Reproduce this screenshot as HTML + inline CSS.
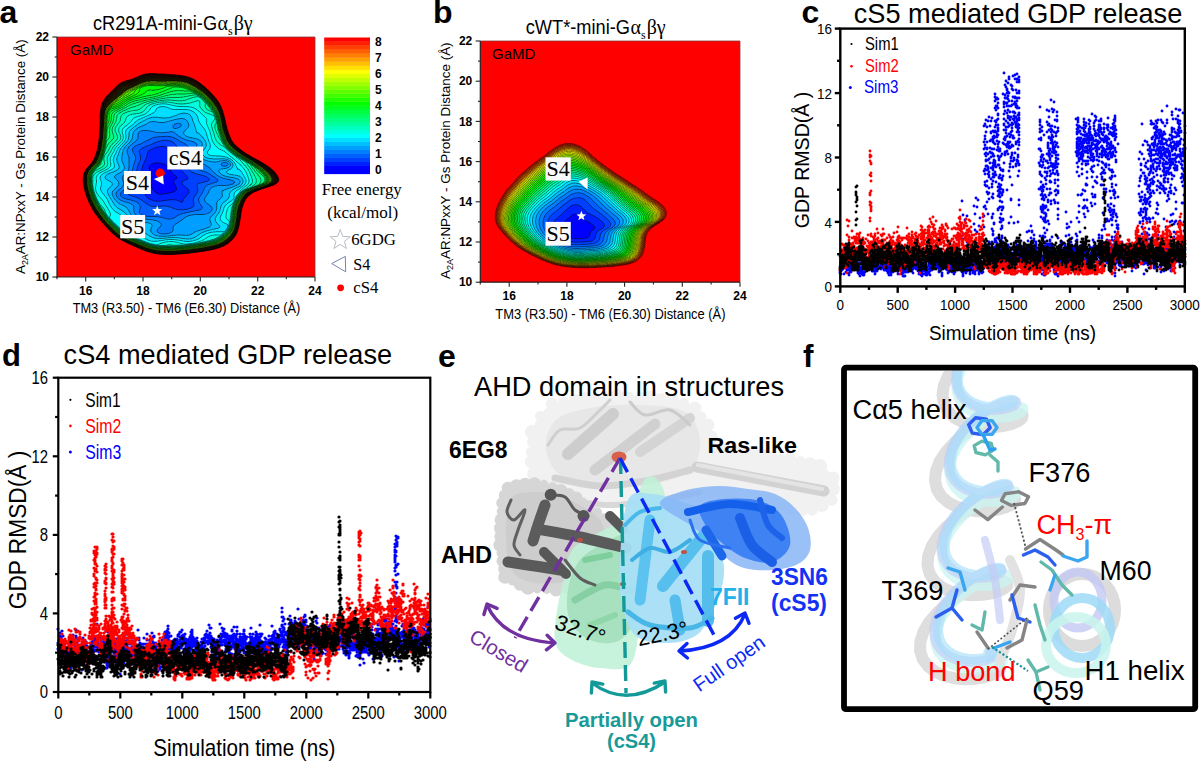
<!DOCTYPE html>
<html><head><meta charset="utf-8"><style>
html,body{margin:0;padding:0;background:#fff;}
svg{display:block;}
</style></head><body>
<svg width="1200" height="763" viewBox="0 0 1200 763" font-family='"Liberation Sans", sans-serif'>
<rect width="1200" height="763" fill="#fff"/>
<text x="-0.5" y="23.0" font-size="32" font-family='"Liberation Sans", sans-serif' font-weight="bold">a</text>
<text x="433.0" y="23.0" font-size="32" font-family='"Liberation Sans", sans-serif' font-weight="bold">b</text>
<text x="801.5" y="23.0" font-size="32" font-family='"Liberation Sans", sans-serif' font-weight="bold">c</text>
<text x="2.0" y="366.3" font-size="31" font-family='"Liberation Sans", sans-serif' font-weight="bold">d</text>
<text x="438.0" y="367.0" font-size="32" font-family='"Liberation Sans", sans-serif' font-weight="bold">e</text>
<text x="803.0" y="367.0" font-size="31.5" font-family='"Liberation Sans", sans-serif' font-weight="bold">f</text>
<rect x="57.0" y="37.0" width="258.0" height="240.0" fill="#ff0000"/>
<rect x="480.3" y="41.0" width="259.7" height="241.2" fill="#ff0000"/>
<g transform="translate(57.0 37.0) scale(0.25)" stroke="#000" fill-rule="evenodd">
<path d="M250 186l-12 11-1 0 0 1-4 3 0 1-32 32 0 1-3 2-10 14-1 3-5 7-1 4-2 3 1 1-3 6-1 8-1 1 0 5-1 1 1 1-2 5 1 1-1 1 1 1-1 1 1 1-1 1 0 8-1 1 1 1-1 1 1 1-1 1 1 1-1 1 1 1-1 1 1 1 0 3-1 1 1 1-1 1 1 1-1 1 1 1-1 1 1 1-1 1 1 1-1 1 1 1-1 1 1 1-1 1 0 7 1 1-1 1 0 8-1 1 1 1-1 1 1 1-1 2 1 1-1 1 1 1-1 1 0 12-1 1 1 1-1 2 1 1-1 1 1 2-1 1 0 5-1 1 1 1-1 2 1 2-1 1 0 6-1 1 1 2-1 1 0 6-1 1-1 14-1 1-1 10-1 1 0 3-2 5 0 4-2 4 0 3-1 1-3 11-2 3-1 5-5 9 0 2-10 15-16 17-1 3-4 4-1 3-3 3 0 2-2 2 0 2-2 3 0 3-2 5 0 6-1 1 0 22 1 1 0 7 1 1 0 6 1 1 1 9 1 1 2 11 3 7 0 3 1 1 2 8 2 3 1 5 4 8 0 2 5 9 0 2 2 2 1 4 2 2 4 9 2 2 4 8 10 15 3 3 5 8 12 14 0 1 21 23 0 1 31 31 1 0 13 11 15 10 5 2 2 2 24 12 2 0 11 6 2 0 9 5 2 0 7 4 2 0 5 3 2 0 5 3 7 2 10 5 2 0 16 6 3 0 8 3 3 0 1 1 4 0 1 1 4 0 1 1 5 0 1 1 7 0 1 1 11 0 1 1 50 0 1-1 14 0 1-1 13 0 1-1 9 0 1-1 12 0 1-1 6 0 1-1 2 1 1-1 5 0 1-1 9 0 1-1 7 0 1-1 5 0 1-1 2 1 1-1 5 0 1-1 5 0 1-1 1 1 1-1 5 0 1-1 4 0 1-1 4 0 1-1 5 0 1-1 4 0 1-1 14-2 4-2 9-1 6-3 1 1 1-1 5-1 3-2 5-1 3-2 2 0 3-2 2 0 19-11 11-10 1 0 11-12 9-13 3-6 0-2 4-7 1-7 2-3 0-4 1-1 0-4 1-1 0-4 1-1 0-4 1-1 0-4 1-1 0-4 1-1 0-4 1-1-1-2 1-1 0-4 1-1 0-4 1-1-1-2 1-1 0-4 1-1 0-7 1-1 1-10 1-1 2-10 1-1 2-8 2-3 0-2 2-3 0-2 10-18 7-7 0-1 3-2 1-2 1 1 0-1 2-2 3-1 1-2 5-2 1-2 1 1 1-2 4-1 1-2 2 1 1-2 8-2 1-2 2 1 1-2 6-1 1-2 2 1 2-2 6-1 1-2 8-1 1-2 3 1 1-2 4 0 1-2 1 1 2 0 2-2 3 0 1-2 1 1 3 0 1-2 3 0 1-2 3 0 1 1 1-2 3 0 1-2 3 0 1-2 2 0 1-2 2 0 1-2 2 0 3-4 1 1 0-1 2-1 0-2 2-3 0-9-2-3 0-3-1-2-2-1-3-7-1 0-2-4-4-3-1-3-1 0-1-2-1 0-1-2-4-3 0-1-3-1-1-2-1 0-1-2-4-3 0-1-1 1-3-2-3-4-4-1-3-4-2 1-3-4-4-1-1-2-4-1-1-2-4-1-1-2-4-1-1-2-1 1-1-2-2 0-2-1-1-2-6-2-1-2-2 0-5-3-2 0-1-2-8-3-1-2-1 1-1-2-9-4-3-3-9-4-3-2-1-2-3-1-9-6-1-2-12-8-2-3-7-5-12-12-10-14-10-22 0-2-3-7 0-3-5-13-1-8-3-7 1-1-2-4-1-9-2-4 1-1-2-3-1-9-2-3 0-4-2-4 0-3-3-6 1-1-3-6-1-6-2-3 0-2-3-4-1-4-4-6 0-2-2-1 0-2-6-9-3-3-2-4-1 0-5-6-3-5-3-2 0-1-8-8 0-1-2-1-2-3-9-8-1-2-1 0-7-7-1 0-3-4-4-2-6-6-4-2-4-4-16-11-11-5-4-3-2 0-5-3-5-1-3-2-3 0-8-3-9-1-1-1-6 0-1-1-6 0-1-1-8 0-1-1-8 0-1-1-10 0-1-1-27-1-1-1-36-1-1-1-1 1-1-1-29 0-1 1-15 1-1 1-10 2-3 2-3 0-5 3-2 0-2 2-5 1-4 3-2 0-13 6-35 10Z" fill="#320600" stroke-width="2.20"/>
<path d="M256 187l-6 4-6 6-1 0-1 2-3 2-1 2-3 2 0 1-4 3 0 1-13 13-1 0 0 1-4 4-1 0-4 5-3 2 0 1-7 7-6 8-5 9-2 2-1 4-3 5 0 2-2 3 1 1-2 3 0 3-1 1 0 5-1 1 1 1-2 5 1 1-1 1 1 1-1 1 1 1-1 1 0 8-1 1 1 1-1 1 1 1-1 1 1 1-1 1 1 1-1 1 1 1-1 1 1 1-1 1 1 1-1 1 0 26-1 1 1 1-1 1 1 1-1 1 1 1-1 2 1 1-1 1 0 9-1 1 1 1 0 3-1 1 0 10-1 1 1 1-1 2 1 2-1 1 0 5-1 1 1 2-1 1 0 6-1 1 1 1 0 2-1 1 0 6-1 1 0 4-1 1 0 8-1 1 0 4-1 1-1 8-2 4 0 4-1 1 0 2-2 4 0 3-3 6-1 5-4 8 0 2-5 9-2 2 0 2-25 29-9 16-1 6-1 1 0 4-1 1 0 11-1 1 1 2 0 16 1 1 0 7 1 1 0 4 1 1 0 4 1 1 0 4 1 1 1 7 3 7 0 3 1 1 4 14 2 3 0 2 4 8 0 2 12 24 2 2 7 13 16 23 17 20 0 1 6 6 0 1 9 9 0 1 32 32 1 0 5 5 12 9 9 5 2 2 3 1 2 2 26 13 2 0 11 6 2 0 9 5 2 0 5 3 2 0 5 3 2 0 5 3 2 0 5 3 2 0 13 6 3 0 6 3 3 0 1 1 2 0 4 2 3 0 1 1 3 0 1 1 4 0 1 1 9 1 1 1 6 0 1 1 8 0 1 1 18 0 1 1 24 0 2-1 2 1 1-1 17 0 1-1 28-1 1-1 19-1 1-1 5 0 1-1 2 1 1-1 6 0 1-1 8 0 1-1 5 0 1-1 2 1 1-1 5 0 1-1 4 0 1-1 2 1 1-1 5 0 1-1 10-1 1-1 1 1 1-1 2 0 1-1 1 1 4-2 2 1 4-2 1 1 4-2 9-1 4-2 1 1 6-3 1 1 1-1 2 0 4-2 3 0 1-1 8-2 3-2 2 0 22-12 8-6 0-1 2-1 13-13 8-11 7-13 1-5 2-3 0-2 2-4 0-4 2-4-1-1 2-3-1-2 2-3-1-2 1-1 0-4 1-1 0-4 1-1 0-4 1-1 0-4 1-1-1-2 1-1 0-4 1-1 0-4 1-1-1-2 1-1 0-4 1-1 0-7 1-1 0-4 2-5 0-4 1-1 4-14 2-3 0-2 8-16 9-12 2-1 3-4 18-12 1 1 1-2 7-2 2-2 8-2 1-2 3 1 1-2 6-1 1-2 3 1 1-2 3 0 1-1 3 0 2-2 7-1 1-2 3 0 1 1 1-2 3 0 2-2 2 0 1 1 1-2 3 0 2-2 3 0 1-2 3 1 1-2 3 0 1-2 2 0 1-2 2 0 1-2 2 0 0-1 2-1 3-4 1 0 2-4 0-9-4-10-2-1-2-5-2-1-1-3-4-3-3-5-1 0-3-4-1 1-1-2-1 0-1-2-4-3 0-1-6-3-3-4-4-1-3-4-1 1-1-2-2 0-1-2-8-4-1-2-4-1-1-2-4-1-1-2-4-1-1-2-1 1-1-2-4-1-1-2-1 1-1-2-4-1-1-2-1 1-1-2-2 0-4-2-1-2-1 1-2-2-7-3-1-2-1 1-1-2-9-4-1-2-1 1-1-2-1 1-1-2-8-4-2-3-1 1-1-2-10-6-9-8-6-4-7-7-1 0-1-2-9-9-2-4-3-3-7-13 0-2-5-10-2-8-2-3 0-2-2-4 0-3-3-7 0-4-3-7 1-2-2-4-2-14-2-3 1-1-2-4 0-4-3-8 0-4-3-6 1-1-4-8 1-1-5-11 0-2-2-3 0-2-2-1 0-2-3-4-1-4-2-1 0-2-2-1 0-2-5-7-2-1-6-9-15-16 0-1-1 0-3-4-10-9 0-1-1 0-21-19-4-2-11-9-11-6-2-2-16-8-2 0-3-2-2 0-4-2-3 0-4-2-4 0-5-2-12-1-1-1-17-1-1-1-11 0-1-1-12 0-1-1-33-1-1-1-48-1-1 1-10 0-1 1-10 1-1 1-11 3-3 2-2 0-5 3-2 0-7 4-2 0-2 2-2 0-8 4-3 0-6 3-3 0-4 2-10 2-1 1-8 2-3 2-2 0Z" fill="#320c00" stroke-width="2.20"/>
<path d="M259 190l-9 6-11 11 0 1-2 1-1 2-3 2-9 10-1 0-13 13-1 0-9 10-12 17-1 4-2 1 0 2-4 8 1 1-2 1 1 1-1 1 0 3-2 5 1 1-2 5 1 1-1 1 1 1-1 1 1 1-2 3 1 1-1 1 1 1-1 1 1 1-1 1 1 1-1 1 1 2-1 1 1 1-1 1 1 1-1 1 1 1-1 1 1 1-1 1 1 1-1 1 1 1-1 1 0 11-1 1 1 1-1 1 1 1 0 5-1 1 1 1-1 1 1 1-1 1 1 1-1 1 0 9-1 1 1 1 0 3-1 1 1 1-1 1 1 2-1 1 0 7-1 1 1 1-1 2 0 11-1 1 1 2-1 1 0 6-1 1 0 6-1 1 1 3-2 5 0 8-1 1 0 4-1 1 0 4-1 1 0 4-1 1-1 7-2 4 0 3-1 1-4 14-2 3-2 7-3 6-2 2 0 2-7 10-16 17-1 3-4 4-8 14-1 6-2 4 0 6-1 1 0 20 1 1 0 8 1 1 0 6 1 1 1 9 1 1 3 15 3 7 0 3 2 3 2 8 2 3 0 2 4 8 0 2 10 20 2 2 5 10 8 11 1 3 21 28 11 12 0 1 9 9 0 1 34 34 1 0 13 11 17 11 30 15 2 0 7 4 2 0 9 5 2 0 14 7 2 0 5 3 2 0 5 3 10 3 3 2 2 0 13 5 3 0 4 2 8 1 4 2 5 0 1 1 5 0 1 1 7 0 1 1 11 0 1 1 52 0 1-1 14 0 1-1 13 0 1-1 9 0 1-1 19-1 1-1 15-1 1-1 5 0 1-1 2 1 1-1 5 0 1-1 5 0 1-1 2 1 1-1 5 0 1-1 4 0 1-1 2 1 4-2 1 1 1-1 5 0 1-1 9-1 4-2 1 1 4-2 9-1 4-2 4 0 4-2 4 0 3-2 2 0 4-2 3 0 7-4 5-1 7-5 2 0 14-10 6-6 1 0 2-3 2-1 15-20 6-12 0-2 3-7 0-3 2-4 0-4 1-1 0-4 1-1 0-4 1-1 0-4 1-1-1-1 1-1 0-5 1-1 0-4 1-1 0-4 1-1-1-2 1-1 0-4 1-1 0-7 1-1 0-5 1-1 0-6 2-5 0-4 2-4 1-6 6-13 0-2 4-8 2-2 0-2 5-6 2-4 3-2 6-7 1 1 2-3 3-1 1-2 5-2 1-2 1 1 2-2 4-1 6-4 6-1 1-2 2 1 1-2 6-1 1-2 1 1 2 0 1-2 7-1 1-2 3 1 1-2 8-1 1-2 3 0 1-1 4 0 1-2 3 0 1-2 1 1 3 0 1-2 3 0 1-2 3 0 1-2 1 1 2 0 1-2 2 0 1-2 2 0 1-2 2 0 0-1 2-1 3-4 1 0 2-4 0-9-4-10-2-1-2-5-2-1-1-3-4-3-3-5-3-1-1-2-1 0-1-2-4-3 0-1-6-3-1-2-1 0-1-2-3-1-1-2-2 0-1-2-1 1-3-4-4-1-3-4-2 1-3-4-1 1-1-2-2 0-2-1-1-2-4-1-1-2-3-1-1-2-2 1-1-2-3-1-1-2-2 1-1-2-4-2-2 0-1-2-1 1-1-2-8-3-1-2-1 1-1-2-7-3-1-2-1 1-1-2-7-3-3-2-1-2-1 1-1-2-1 1-2-3-3-1-9-6-1-2-2 0-2-3-9-6-3-4-3-1-1-2-13-13 0-1-4-4-5-10-2-2-1-4-4-7-1-5-2-3 0-2-2-4 0-3-4-10 0-3-3-7 0-4-2-4-1-9-2-4 1-1-2-4 1-1-2-4 1-1-2-4 0-4-2-3 1-1-3-6 1-1-1-1-1-5-2-3 1-1-5-11 0-2-2-3 0-2-4-6 0-2-3-4-1-3-7-9 0-2-2-1-7-10-14-15 0-1-2-1-2-3-11-10 0-1-1 0-7-7-1 0-16-14-27-18-12-6-2 0-3-2-2 0-10-4-8-1-1-1-4 0-1-1-5 0-1-1-16-1-1-1-11 0-1-1-13 0-1-1-36-1-1-1-22 0-1-1-1 1-1-1-1 1-1-1-16 0-1 1-1-1-1 1-11 0-1 1-6 0-1 1-11 2-3 2-2 0-8 4-2 0-7 4-2 0-2 2-2 0-5 3-5 1-3 2-2 0-10 4-3 0-4 2-3 0-1 1-11 3Z" fill="#321300" stroke-width="2.20"/>
<path d="M258 195l-12 11-1 0 0 1-8 8 0 1-5 4-1 2-1 0-18 17-1 0-4 5-1 0 0 1-11 13-9 14 0 2-4 8 1 1-2 3 1 1-2 3 1 1-2 5 1 1-1 1 0 5-1 1 1 1-1 1 1 1-1 1 1 1-1 1 1 1-1 1 0 16-1 1 1 1-1 1 1 1-1 1 1 1-1 1 1 1-1 1 1 1-1 1 1 1 0 3-1 1 1 1-1 1 1 1-1 1 1 1-1 1 0 9-1 1 1 1-1 1 1 1-1 1 1 2-1 1 0 9-1 1 1 2-1 1 0 11-1 1 1 1-1 1 0 6-1 1 1 2-1 1 0 7-1 1-1 15-1 1 0 4-1 1 0 4-1 1 0 5-1 1-2 11-1 1-1 6-1 1-2 8-2 3-1 5-8 17-7 10-8 8 0 1-11 12-1 3-4 4 0 2-2 2 0 2-3 4 0 3-2 4 0 4-1 1 0 29 1 1 0 7 1 1 1 10 1 1 3 15 2 4 0 3 1 1 3 11 2 3 1 5 5 10 0 2 8 16 2 2 8 15 24 34 14 16 0 1 8 8 0 1 23 24 1 0 12 12 1 0 5 5 12 9 11 6 2 2 50 24 2 0 5 3 2 0 7 4 7 2 12 6 8 2 6 3 3 0 3 2 7 1 4 2 3 0 5 2 4 0 1 1 4 0 1 1 16 1 1 1 18 0 1 1 48-1 1-1 14 0 1-1 10 0 1-1 19-1 1-1 6 0 1-1 2 1 1-1 5 0 1-1 9 0 1-1 5 0 1-1 7 0 1-1 5 0 1-1 5 0 1-1 2 1 1-1 4 0 1-1 5 0 1-1 4 0 1-1 5 0 1-1 9-1 4-2 1 1 4-2 4 0 4-2 4 0 3-2 4 0 1-1 5-1 3-2 10-3 2-2 4-1 2-2 5-2 15-11 12-12 0-1 5-5 5-9 2-2 1-3 2-2 0-2 4-8 1-6 2-4 0-4 1-1 0-4 1-1 0-4 1-1 0-4 1-1 0-4 1-1 0-7 1-1 0-4 1-1 0-4 1-1-1-2 1-1 0-4 1-1 0-7 1-1 0-5 1-1 1-10 2-4 0-3 1-1 1-5 2-3 2-7 4-7 0-2 2-2 0-2 3-3 4-8 2-1 8-9 4-2 1-2 5-2 1-2 1 1 1-2 7-2 0-1 3-2 5-1 1-2 2 1 2-2 5-1 1-2 1 1 2 0 1-2 2 0 1 1 1-2 7-1 1-2 7-1 1-2 2 0 1 1 1-2 4 0 1-2 3 1 1-2 4 0 1-2 2 0 1 1 1-2 3 0 1-2 3 0 1-2 6-1 1-2 2 0 3-2 0-1 2-1 3-4 1 0 2-4 0-9-4-10-3-3-1-3-2-1-1-3-1 0-1-2-1 0-1-2-4-3-1-2-4-3 0-1-2-1 0-1-3-1-1-2-4-2-1-2-3-1-3-4-4-1-3-4-1 1-1-2-2 0-1-2-1 1-3-4-2 1-3-4-6-2-1-2-3-1-1-2-4-1-1-2-1 1-1-2-2 0-4-2-1-2-8-3-1-2-2 0-8-4-1-2-1 1-1-2-11-5-1-2-14-8-1-2-7-4-12-9-1-2-8-7-1 0-13-14-6-9-8-16-4-13-2-3 0-2-2-4 0-3-4-10 0-5-2-4 0-4-2-4 1-1-2-4 1-1-2-4 1-1-2-4 1-1-2-4 1-1-4-11 1-1-2-3-1-7-5-11 1-1-2-1 1-1-1-1 0-2-2-1 0-2-2-3-1-4-2-2-1-4-17-24-15-16 0-1-1 0-2-3-12-11 0-1-1 0-7-7-12-9-5-5-24-16-9-4-2-2-2 0-5-3-2 0-6-3-3 0-4-2-8-1-1-1-12-1-1-1-17-1-1-1-15 0-1-1-17 0-1-1-50-1-1-1-1 1-1-1-5 0-1 1-1-1-1 1-2-1-1 1-15 0-1 1-6 0-1 1-4 0-4 2-3 0-1 1-5 1-3 2-2 0-5 3-2 0-4 3-2 0-12 6-2 0-6 3-2 0-4 2-3 0-10 4-3 0-1 1-5 1Z" fill="#321900" stroke-width="2.20"/>
<path d="M262 197l-9 8-1 0-2 3-3 2-1 2-3 2 0 1-4 4-1 0 0 1-4 4-1 0-8 8-1 0-9 9-1 0-5 6-3 2-4 6-3 2-1 3-2 1 0 2-2 1-1 3-2 1 0 2-4 6 0 2-4 8 1 1-2 5-1 11-1 1 1 1-1 1 1 1-1 1 1 1-1 1 1 1-1 1 0 18-1 1 1 1-1 1 1 1-1 1 1 1-1 1 1 2-1 1 1 1-1 1 1 1-1 1 1 1-1 1 0 6-1 1 1 1-1 1 1 1-1 2 1 1-1 1 0 9-1 1 1 1-1 2 1 1-1 1 1 2-1 1 0 7-1 1 1 2-1 1 0 6-1 1 1 2-1 1 0 6-1 1 1 2-1 1-1 15-1 1 0 4-1 1 0 4-1 1 0 5-1 1 0 4-1 1-2 11-1 1-5 17-4 8 0 2-5 10-2 2 0 2-5 7-12 12-6 9-4 4-5 10-2 2-2 10-1 1 0 6-1 1 0 18 1 1 1 16 1 1 0 4 1 1 0 4 1 1 2 11 2 4 0 3 1 1 6 20 5 10 0 2 7 14 2 2 3 7 4 5 4 8 18 26 17 20 0 1 8 8 0 1 27 28 1 0 10 10 1 0 13 11 9 6 3 1 2 2 5 2 2 2 10 5 2 0 13 7 2 0 7 4 2 0 7 4 2 0 5 3 2 0 19 9 7 2 5 3 2 0 1 1 5 1 3 2 3 0 7 3 11 2 1 1 4 0 1 1 4 0 1 1 5 0 1 1 7 0 1 1 12 0 1 1 49 0 1-1 18 0 1-1 10 0 1-1 9 0 1-1 20-1 1-1 5 0 1-1 9 0 1-1 5 0 1-1 8 0 1-1 5 0 1-1 5 0 1-1 2 1 1-1 10-1 1-1 4 0 1-1 5 0 1-1 4 0 1-1 4 0 1-1 5 0 4-2 1 1 4-2 4 0 3-2 4 0 10-4 6-1 7-4 4-1 2-2 2 0 2-2 8-4 8-6 17-17 8-11 1-3 2-2 0-2 3-4 3-11 2-3 0-4 1-1 0-4 1-1 0-4 1-1 0-4 1-1 0-5 1-1 1-11 1-1 0-5 1-1 0-7 1-1 0-4 1-1-1-2 1-1 0-5 1-1 0-4 1-1 0-4 1-1 1-7 1-1 2-8 2-3 0-2 2-3 0-2 7-14 3-3 5-8 4-3 3-4 3-1 2-3 3-1 1-2 8-3 1-2 2 1 1-2 4-1 1-2 2 1 1-2 9-2 1-2 2 0 1 1 1-2 6-1 1-2 2 0 1 1 1-2 8-1 1-2 7-1 1-2 8-1 1-2 3 0 1-2 1 1 2 0 2-2 2 0 2-2 2 0 1-2 3 1 1-2 2 0 3-4 2 0 1-3 2-1 2-4 0-11-5-10-2-1-1-3-2-1-1-3-1 0-1-2-1 0-1-2-2-1-1-2-1 0-1-2-1 0-1-2-4-3 0-1-1 1-3-4-6-3-3-4-6-3-1-2-1 1-3-4-4-1-1-2-3-1-1-2-4-1-1-2-3-1-1-2-1 1-2-2-3-1-1-2-4-2-2 0-1-2-6-3-2 0-1-2-6-3-2 0-1-2-1 1-1-2-7-3-1-2-1 1-1-2-1 1-1-2-13-7-1-2-1 1-1-2-10-6-2-3-2 0-1-2-15-11-4-4 0-1-1 0-8-8-10-14-7-14-3-10-2-3-1-6-2-3 0-2-3-7-1-7-2-4 0-5-2-4 1-1-2-4 1-1-2-4 1-1-1-1-1-9-2-4 1-1-2-3 0-4-3-6 1-1-4-9 1-1-2-3-3-10-3-4-1-4-3-4-3-7-13-18-1 0-5-6 0-1-8-8 0-1-16-15-1-2-1 0-14-13-29-21-26-13-2 0-7-3-3 0-5-2-4 0-1-1-5 0-1-1-17-1-1-1-12 0-1-1-46-1-1-1-30 0-1-1-1 1-1-1-1 1-22 0-1 1-6 0-1 1-4 0-1 1-10 2-3 2-7 2-5 3-2 0-16 8-5 1-3 2-2 0-13 5-3 0-1 1-5 1Z" fill="#321f00" stroke-width="2.20"/>
<path d="M266 199l-7 5-17 17-1 2-1 0-19 17-1 0-14 14 0 1-3 2-11 15 0 2-2 2-1 4-2 1 1 1-3 6-1 8-1 1 0 5-1 1 0 10-1 1 1 1-1 1 1 1-1 1 1 1-1 1 1 1-1 1 1 1-1 1 1 1-1 1 1 1-1 1 1 1-1 1 1 1-1 1 0 4 1 1-1 1 1 1-1 1 0 8-1 1 1 1-1 1 1 1-1 1 0 9-1 1 1 1-1 2 1 1-1 1 0 7-1 1 1 1-1 2 1 1-1 1 1 2-1 1 0 8-1 1 1 2-1 1-1 14-1 1 1 2-1 1 0 4-1 1 0 7-1 1 0 4-1 1 0 5-1 1 0 4-1 1 0 5-2 4 0 3-2 4 0 3-1 1-3 11-2 3 0 2-6 12-1 4-6 9-5 5-5 7-9 9-2 4-3 3-4 6 0 2-3 5-1 6-1 1 0 4-1 1 0 27 1 1 1 13 1 1 0 4 1 1 0 4 1 1 2 11 3 7 0 3 1 1 1 5 2 3 2 8 3 5 2 7 5 10 2 2 3 7 14 21 1 3 19 26 17 19 0 1 29 30 1 0 9 9 1 0 13 11 12 8 5 2 2 2 16 8 2 0 9 5 2 0 7 4 2 0 7 4 2 0 14 7 2 0 5 3 2 0 3 2 2 0 13 6 2 0 13 5 3 0 4 2 3 0 1 1 4 0 1 1 4 0 1 1 4 0 1 1 7 0 1 1 8 0 1 1 19 0 1 1 2-1 1 1 46-1 1-1 10 0 1-1 11 0 1-1 9 0 1-1 19-1 1-1 6 0 1-1 6 0 1-1 1 1 1-1 6 0 1-1 5 0 1-1 7 0 1-1 17-2 1-1 4 0 1-1 5 0 1-1 14-2 4-2 9-1 1-1 2 0 4-2 4 0 3-2 13-4 4-3 2 0 9-5 6-5 4-2 16-15 0-1 5-5 2-4 3-3 2-5 2-2 3-6 0-2 2-3 0-2 2-4 1-9 2-4-1-1 1-1 0-4 1-1 0-4 1-1 0-4 1-1 1-13 1-1 1-12 1-1 0-7 1-1 0-5 1-1 0-4 1-1 1-7 1-1 3-11 6-12 0-2 2-2 0-2 2-2 4-8 3-4 4-3 0-1 4-3 2-3 4-2 1-2 6-3 2 0 1-2 4-1 4-3 1 1 1-2 2 0 4-2 3 0 1-2 2 1 1-2 6-1 1-2 3 1 1-2 7-1 1-2 2 0 1 1 1-2 4 0 1-2 1 1 2 0 1-2 3 0 1-2 4 1 1-2 3 0 1-2 2 0 1 1 1-2 3 0 0-1 1-1 2 0 1-2 6-1 0-1 2-1 1-2 2 0 3-4 3-8-1-2 1-1-1-1 0-3-5-10-2-1-1-3-2-1-1-3-1 0-1-2-1 1-4-6-1 0-1-2-4-3 0-1-1 1-1-2-4-3 0-1-3-1-3-2-1-2-3-1-3-4-4-1-1-2-3-1-3-4-2 1-1-2-3-1-1-2-3-1-1-2-4-1-1-2-1 1-1-2-3-1-2-2-1 1-1-2-3-1-1-2-1 1-1-2-2 0-4-2-1-2-1 1-1-2-8-3-1-2-1 1-1-2-1 1-1-2-7-3-3-2-1-2-5-2-2-2-9-5-1-2-16-11-2-3-2 0-2-3-15-14-11-16-9-20 0-2-1-1-1-5-2-3 0-3-3-7 0-3-3-7 0-4-2-4 1-2-2-4 1-1-2-4 1-1-1-1-2-14-2-3-1-9-3-6 1-1-5-11 0-2-2-3 0-2-2-3 0-2-3-4-1-4-4-5 0-2-18-24-8-8 0-1-16-15-2-3-1 0-18-16-4-2-11-9-9-5-2-2-3-1-5-4-4-2-2 0-2-2-2 0-5-3-2 0-10-4-8-1-1-1-4 0-1-1-5 0-1-1-8 0-1-1-29-1-1-1-33 0-1-1-56 0-1 1-12 1-1 1-3 0-1 1-3 0-1 1-5 1-3 2-7 2-9 5-2 0-7 4-2 0-8 4-23 7Z" fill="#322600" stroke-width="2.20"/>
<path d="M270 201l-12 9-14 15-1 0-12 11-6 4-9 9-1 0-6 7-2 1 0 1-5 5-9 12-1 4-4 6 0 2-1 1 1 1-2 3 0 4-2 5 1 1-1 1 0 10-1 1 1 1-1 1 1 1-1 1 1 1-1 1 1 1-1 1 1 1-1 1 1 1-1 1 1 1-1 1 1 1-1 1 1 1-1 1 1 1-1 1 0 10-1 1 1 1-1 1 1 1-1 1 0 9-1 1 1 1-1 1 0 12-1 1 1 1-1 1 0 8-1 1 1 1-1 2 1 2-1 1 0 6-1 1 1 1-1 1 0 7-1 1-1 15-1 1 0 4-1 1 0 6-1 1-2 14-2 4 0 3-1 1-6 20-2 3 0 2-6 13-8 12-14 14-1 3-6 6 0 2-3 3 0 2-2 2-4 10-1 12-1 1 0 14 1 1 1 17 1 1 0 4 1 1 0 4 1 1 3 15 2 4 0 3 1 1 4 14 2 3 2 7 4 7 0 2 3 4 4 9 2 2 4 8 6 8 1 3 22 31 16 18 0 1 30 31 1 0 10 10 1 0 9 8 20 13 18 9 2 0 9 5 2 0 7 4 2 0 5 3 2 0 5 3 2 0 7 4 2 0 12 6 2 0 8 4 2 0 6 3 3 0 3 2 3 0 7 3 8 1 5 2 10 1 1 1 21 1 1 1 50 0 1-1 15 0 1-1 25-1 1-1 6 0 1-1 9 0 1-1 6 0 1-1 9 0 1-1 5 0 1-1 5 0 1-1 2 1 1-1 5 0 1-1 5 0 1-1 5 0 1-1 5 0 1-1 1 1 4-2 2 1 1-1 2 0 1-1 1 1 4-2 2 1 4-2 4 0 1-1 4 0 4-2 4 0 4-2 4 0 6-3 4 0 10-5 2 0 8-4 2-2 2 0 15-11 16-16 6-8 7-13 0-2 3-5 0-3 3-7 0-4 1-1 0-4 1-1-1-2 2-3-1-2 1-1 0-4 1-1 0-4 1-1 1-13 1-1 0-4 1-1-1-2 1-1 0-4 1-1 0-8 1-1 0-4 1-1 1-7 1-1 3-11 4-8 0-2 12-22 4-3 0-1 4-4 1 0 2-3 3-1 0-1 5-3 1-2 1 1 2-2 4-2 2 0 1-2 1 1 1-2 8-2 1-2 2 1 2-2 5-1 2-2 2 1 1-2 7-1 1-2 1 1 2 0 1-2 7-1 1-2 3 0 1 1 1-2 3 0 1-2 7-1 1-2 3 0 1-2 1 1 2 0 1-2 3 0 0-1 1-1 2 0 1-2 5-1 0-1 4-3 4-9-1-8-5-10-6-8-1 0-6-6 0-1-4-3 0-1-1 1-1-2-1 0-1-2-4-3 0-1-1 1-3-4-3-1-3-2-1-2-3-1-3-4-1 1-3-2-1-2-1 1-3-4-4-2-2 0-1-2-3-1-1-2-3-1-1-2-2 0-4-2-1-2-1 1-1-2-4-2-2 0-1-2-1 1-1-2-5-2-1-2-1 1-2-2-9-4-1-2-1 1-1-2-13-7-1-2-1 1-2-3-3-1-9-7-4-2-2-3-2 0-2-3-6-4-17-17-12-19 0-2-4-7-3-10-2-3 0-3-4-8 0-3-3-7 0-5-2-4-1-10-1-1 1-1-2-4 1-1-1-1-1-9-2-3 1-1-2-4 0-4-2-3 0-4-3-6 0-2-1-1 1-1-2-3-1-5-2-1-2-7-3-4 0-2-2-2-1-3-6-8-1-3-2-1-1-3-5-5-3-5-26-27-1 0-8-8-5-3-6-6-31-21-24-11-3 0-4-2-8-1-1-1-12-1-1-1-8 0-1-1-16 0-1-1-40 0-1-1-57 0-1 1-12 1-1 1-3 0-1 1-3 0-1 1-8 2-10 5-2 0-2 2-2 0-5 3-2 0-5 3-2 0-8 4-8 2-3 2-8 2Z" fill="#322c00" stroke-width="2.20"/>
<path d="M265 209l-7 7-1 0 0 1-9 9-6 4-13 12-5 3-19 19 0 1-3 2 0 1-4 4-1 3-2 1 0 2-2 2-1 4-2 1 1 1-3 6 0 4-2 5 1 1-1 1 0 5-1 1 1 1-1 1 1 1-1 1 0 20-1 1 1 1-1 1 1 1-1 2 1 1-1 1 1 1-1 1 1 1-1 1 0 6-1 1 1 1-1 1 1 2-1 1 0 9-1 1 1 1-1 1 1 2-1 1 0 7-1 1 1 2-1 1 0 8-1 1 1 2-1 1 0 6-1 1 1 2-1 1 0 7-1 1 0 7-1 1 0 4-1 1-1 12-2 5 0 5-2 4 0 4-1 1-5 17-2 3-1 5-8 17-4 6-15 16 0 1-5 5-2 4-3 3-4 7 0 2-2 3 0 2-2 4 0 6-1 1 0 23 1 1 0 8 1 1 0 5 1 1 0 5 2 5 0 4 1 1 2 10 1 1 6 20 4 8 0 2 9 18 2 2 2 5 4 5 1 3 18 27 17 21 0 1 7 7 0 1 31 32 1 0 10 10 1 0 13 11 9 6 5 2 2 2 31 15 2 0 14 7 2 0 5 3 7 2 5 3 2 0 17 8 2 0 16 6 7 1 4 2 8 1 1 1 12 1 1 1 9 0 1 1 21 0 1 1 1-1 1 1 43-1 1-1 15 0 1-1 21-1 1-1 6 0 1-1 9 0 1-1 6 0 1-1 5 0 1-1 9 0 1-1 5 0 1-1 5 0 1-1 5 0 1-1 5 0 1-1 1 1 4-2 2 1 1-1 4 0 1-1 5 0 4-2 1 1 4-2 5 0 1-1 4 0 4-2 4 0 3-2 4 0 1-1 11-3 3-2 5-1 2-2 4-1 8-6 3-1 7-5 5-5 1 0 9-9 12-16 6-12 0-2 4-10 0-4 1-1 0-4 1-1 0-4 1-1 0-4 1-1-1-2 1-1 0-4 1-1 0-4 1-1 0-7 1-1 0-5 1-1 1-15 1-1 0-5 1-1 1-7 1-1 4-14 2-3 0-2 10-20 6-8 4-4 1 0 0-1 3-2 2-3 3-1 3-3 7-3 1-2 2 1 1-2 7-2 1-2 2 1 1-2 9-2 1-2 11-2 1-2 2 0 1 1 1-2 3 0 1-2 1 1 2 0 1-2 3 0 1-1 3 0 2-2 7-1 1-2 3 0 1-2 6-1 1-2 2 0 0-1 1-1 2 0 1-2 4-1 0-1 2-1 4-8 0-5-1-1 1-1-7-14-1 0-1-2-5-4-3-5-1 0-3-4-3-1-1-2-4-3 0-1-1 1-1-2-1 0-3-4-3-1-1-2-4-1-3-4-3-1-1-2-3-1-1-2-4-1-1-2-3-1-1-2-3-1-1-2-1 1-1-2-4-1-1-2-1 1-1-2-3-1-1-2-1 1-1-2-2 0-4-2-1-2-1 1-1-2-16-8-2-2-3-1-1-2-1 1-1-2-1 1-1-2-11-6-2-3-1 1-2-3-1 1-2-3-4-2-12-9-6-6-1 0-14-15-6-9-7-14 0-2-5-10 0-3-3-5 0-3-1-1 0-2-3-7 0-3-2-4 0-3-1-1 0-4-1-1 0-4-1-1 0-4-1-1 1-2-2-3 1-2-2-3 1-1-2-4 1-1-2-4 1-1-2-4 0-3-3-7 1-1-2-3 0-2-5-11 0-2-2-2-1-4-3-4 0-2-2-1 0-2-17-24-5-5 0-1-1 0-1-2-20-20-1 0-8-8-5-3-5-5-26-18-28-14-6-1-8-3-5 0-1-1-5 0-1-1-19-1-1-1-107-1-1 1-13 1-1 1-3 0-1 1-3 0-1 1-8 2-12 6-2 0-9 5-2 0-5 3-2 0-8 4-5 1-3 2-2 0-8 4-2 0Z" fill="#323200" stroke-width="2.20"/>
<path d="M275 207l-10 7-8 8-1 0 0 1-4 4-1 0-23 20-6 4-18 18 0 1-9 11 0 2-3 4 0 2-2 3 0 4-2 3 1 1-1 1 1 1-2 3 1 1-1 1 1 1-1 1 1 1-1 1 1 1-1 1 0 18-1 1 0 7 1 1-1 1 0 6-1 1 1 1-1 1 0 9-1 1 1 1-1 1 1 2-1 1 0 9-1 1 1 2-1 1 0 8-1 1 1 2-1 1 0 8-1 1 0 7-1 1 1 2-1 1 0 4-1 1 1 2-1 1 0 4-1 1-1 13-1 1 0 4-1 1-1 8-2 4-1 7-1 1-3 11-2 3-1 5-3 5 0 2-2 3-1 4-2 2-5 9-13 13-2 4-6 6-1 3-4 4 0 2-2 2-1 4-2 3 0 3-2 5 0 8-1 1 1 23 1 1 1 12 1 1 0 4 1 1 2 11 2 4 2 10 2 3 0 3 2 3 0 2 1 1 1 5 3 5 0 2 8 16 10 15 1 3 16 24 17 21 0 1 6 6 0 1 32 33 1 0 10 10 1 0 13 11 9 6 3 1 2 2 33 16 2 0 5 3 2 0 5 3 2 0 7 4 2 0 5 3 7 2 5 3 2 0 13 6 3 0 3 2 2 0 4 2 3 0 4 2 7 1 1 1 4 0 1 1 4 0 1 1 5 0 1 1 22 1 1 1 51 0 1-1 15 0 1-1 22-1 1-1 6 0 1-1 10 0 1-1 6 0 1-1 5 0 1-1 2 1 1-1 6 0 1-1 12-1 1-1 5 0 1-1 1 1 1-1 17-2 1-1 4 0 1-1 10-1 4-2 9-1 4-2 4 0 7-3 4 0 6-3 2 0 7-4 2 0 2-2 2 0 8-6 3-1 8-7 1 0 15-15 8-11 7-14 0-2 2-3 0-4 2-4 1-10 1-1 0-4 1-1 0-6 1-1 0-5 1-1 0-4 1-1 0-7 1-1 0-5 1-1-1-2 1-1 0-5 1-1 0-7 1-1 2-11 1-1 1-5 2-3 1-5 3-5 0-2 10-19 11-13 1 1 2-3 3-1 1-2 1 1 1-2 5-2 1-2 4-1 3-2 2 0 1-2 2 1 1-2 5-1 1-2 1 1 2 0 1-2 2 1 1-2 6-1 2-2 2 1 1-2 7-1 2-2 2 0 1 1 1-2 3 0 1-2 3 1 1-2 3 0 1-2 2 0 1 1 1-2 3 0 1-2 6-1 1-2 2 0 1-2 2 0 1-2 2 0 0-1 4-2 1-3 2-1 0-3 1-1 0-7-2-3-1-5-2-1-2-5-1 0-1-2-5-4-1-3-1 0-3-4-3-1-1-2-4-3 0-1-3-1-3-4-3-1-3-4-3-1-1-2-8-4-1-2-3-1-1-2-3-1-1-2-3-1-1-2-2 0-4-2-1-2-3-1-1-2-1 1-1-2-5-2-2-2-1 1-1-2-5-2-1-2-1 1-1-2-11-5-3-3-15-8-1-2-1 1-2-3-17-11-2-3-3-1-2-3-1 0-15-14-11-15-13-29 0-3-3-6 0-2-3-7 0-3-2-4 0-5-2-4 1-1-2-4 1-1-1-1 0-4-1-1 0-4-1-1 1-1-2-4 1-1-1-1 0-2-1-1 1-1-2-4 1-1-3-6 1-1-1-1-1-5-2-3-1-5-2-3 0-2-2-3 0-2-2-2-1-4-5-7 0-2-20-27-2-1 0-1-12-13-1 0-10-10-1 0-6-6-5-3-9-8-15-10-3-1-8-6-20-10-2 0-10-4-7-1-1-1-12-1-1-1-10 0-1-1-24 0-1-1-1 1-2-1-10 0-1 1-18 0-1-1-1 1-1-1-1 1-1-1-48 0-1 1-15 1-1 1-3 0-1 1-3 0-1 1-5 1-3 2-7 2-5 3-2 0-2 2-2 0-5 3-2 0-2 2-2 0-10 5-2 0-3 2-7 2-5 3-2 0-2 2Z" fill="#2c3200" stroke-width="2.20"/>
<path d="M274 212l-13 11-1 0-9 9-10 7-20 18-1 0-15 15 0 1-3 2-1 3-3 2 0 2-2 2-1 4-3 4 1 1-3 6 1 1-1 1 1 1-2 3 1 1-1 1 1 1-1 1 1 1-2 3 1 1-1 1 1 1-1 1 1 1-1 1 1 1-1 1 1 1-1 1 1 1-1 1 1 1-1 1 1 1-1 1 0 7-1 1 1 1-1 1 1 1 0 3-1 1 1 1-1 1 1 1-1 1 0 4-1 1 1 1-1 1 1 2-1 1 1 1-1 1 0 7-1 1 1 1-1 1 1 2-1 1 0 8-1 1 1 1-1 1 1 2-1 1 0 6-1 1 1 2-1 1 0 6-1 1 0 7-1 1-1 15-1 1 0 5-1 1 0 5-1 1 0 3-2 5 0 4-2 4-2 10-2 3-2 8-2 3-1 5-3 5 0 2-2 4-2 2-3 6-4 4-1 3-15 15-1 3-4 4-1 3-4 5 0 2-3 6-1 10-1 1 0 21 1 1 0 8 1 1 0 6 1 1 1 9 1 1 1 7 2 4 1 7 1 1 4 14 2 3 1 5 8 17 2 2 8 15 22 33 9 12 10 11 0 1 33 34 1 0 16 15 22 15 24 12 2 0 7 4 2 0 19 9 7 2 14 7 2 0 3 2 5 1 3 2 2 0 6 3 3 0 7 3 3 0 1 1 3 0 5 2 4 0 1 1 12 1 1 1 11 0 1 1 24 0 1 1 1-1 2 1 2 0 1-1 1 1 2 0 1-1 2 1 2-1 27 0 1-1 12 0 1-1 22-1 1-1 6 0 1-1 9 0 1-1 20-2 1-1 5 0 1-1 5 0 1-1 2 1 1-1 5 0 1-1 5 0 1-1 5 0 1-1 4 0 1-1 10-1 4-2 2 1 4-2 4 0 4-2 1 1 7-3 4 0 1-1 5-1 3-2 8-2 2-2 4-1 2-2 5-2 9-7 4-2 14-13 0-1 9-10 7-12 0-2 3-5 1-6 2-4 0-4 1-1 0-4 1-1 0-4 1-1 0-5 1-1-1-1 1-1 1-10 1-1 0-4 1-1-1-2 1-1 0-5 1-1 0-7 1-1 0-7 1-1 1-9 1-1 4-14 5-10 0-2 6-12 3-3 2-5 7-7 0-1 1-1 1 1 0-1 3-2 2-3 7-3 1-2 4-2 2 0 4-3 1 1 1-2 8-2 1-2 2 0 1 1 1-2 6-1 1-2 2 1 1-2 7-1 1-2 3 1 1-2 8-1 1-2 7-1 1-2 7-1 0-1 1-1 2 0 1-2 2 0 1 1 1-2 2 0 1-2 2 0 0-1 2-1 3-4 1 1 3-4 0-3 1-1 0-7-3-8-3-3-1-3-1 0-2-3-2-1-1-3-1 0-3-4-1 0-8-8-1 0-1-2-8-5-1-2-3-1-3-4-1 1-3-4-3-1-1-2-3-1-1-2-4-2-2 0-1-2-3-1-1-2-3-1-1-2-1 1-1-2-3-1-1-2-1 1-1-2-2 0-4-2-1-2-1 1-1-2-7-3-1-2-1 1-1-2-13-6-1-2-1 1-1-2-15-9-1-2-2 0-1-2-4-2-12-9-6-6-1 0-16-17-6-9-7-14-4-13-3-5 0-3-1-1-1-5-2-3-1-6-1-1 0-4-2-4 0-5-1-1 0-4-1-1 1-1-1-1 0-4-1-1 0-4-1-1 1-1-2-4 1-1-1-1 0-2-1-1 1-1-2-4 1-1-2-3 0-2-2-4 1-1-2-3-1-5-3-4 1-1-2-2-1-4-3-4 0-2-6-8 0-2-2-1 0-2-3-3-8-12-6-6-5-7-2-1-11-12-1 0-8-8-9-6-8-7-12-8-3-1-6-5-30-15-2 0-4-2-3 0-1-1-3 0-1-1-10-1-1-1-7 0-1-1-16 0-1-1-33 0-1 1-28 0-1-1-34 0-1 1-1-1-1 1-15 1-1 1-3 0-1 1-3 0-1 1-8 2-10 5-2 0-2 2-2 0-11 6-2 0-9 5-2 0-5 3-2 0Z" fill="#263200" stroke-width="2.20"/>
<path d="M283 211l-20 14-7 7-1 0-4 4-1 0-4 4-16 12-18 17-1 0-14 17 0 2-5 11 1 1-1 1 1 1-2 1 1 1-1 1 1 1-1 1 1 1-2 5 1 1-1 1 1 1-1 1 1 1-1 1 1 1-1 1 1 1-1 1 1 1-1 1 1 1-2 5 1 1-1 1 1 1-1 1 1 1-1 1 1 1-1 1 0 3 1 1-1 1 0 4-1 1 1 1-1 1 1 1-1 1 0 7-1 1 1 1-1 1 1 2-1 1 0 7-1 1 1 1-1 2 1 1-1 1 1 2-1 1 0 5-1 1 1 1-1 2 0 6-1 1 1 2-1 1 0 7-1 1 0 7-1 1 0 6-1 1 0 6-1 1-1 11-1 1-3 15-1 1-5 17-2 3-1 5-8 17-4 6-10 10 0 1-7 7 0 1-7 8-6 11 0 2-2 4 0 4-1 1 0 29 1 1 0 7 1 1 0 5 1 1 0 4 2 5 0 4 2 4 0 3 2 4 0 3 1 1 5 17 7 14 0 2 2 2 7 14 6 8 1 3 16 24 3 3 8 12 10 11 0 1 33 34 1 0 16 15 20 14 26 13 2 0 7 4 2 0 5 3 7 2 14 7 2 0 3 2 7 2 7 4 2 0 1 1 5 1 3 2 2 0 4 2 3 0 7 3 3 0 5 2 4 0 1 1 4 0 1 1 5 0 1 1 8 0 1 1 14 0 1 1 48 0 1-1 16 0 1-1 10 0 1-1 11 0 1-1 17-1 1-1 6 0 1-1 6 0 1-1 6 0 1-1 6 0 1-1 1 1 1-1 6 0 1-1 5 0 1-1 5 0 1-1 5 0 1-1 5 0 1-1 4 0 1-1 10-1 4-2 1 1 1-1 8-1 4-2 4 0 7-3 3 0 1-1 5-1 20-10 16-12 13-13 9-12 5-10 1-5 3-6 1-10 1-1 0-4 1-1 0-4 1-1 0-7 1-1 1-10 1-1 1-16 1-1 0-7 1-1 1-9 2-4 1-6 4-8 0-2 3-5 0-2 3-5 0-2 2-2 0-2 2-2 1-3 9-12 2-1 3-4 1 1 0-1 2-2 3-1 1-2 1 1 1-2 6-3 2 0 1-2 10-3 1-2 2 1 1-2 6-1 1-2 2 1 1-2 11-2 1-2 7-1 1-2 3 1 1-2 3 0 1-2 1 1 2 0 1-2 3 0 1-2 3 1 1-2 3 0 1-2 5-1 1-2 2 0 0-1 2-1 0-1 2-1 3-4 1 1 2-4 0-9-4-10-2-1-1-3-3-2-3-5-1 0-1-2-1 0-1-2-7-6 0-1-1 1-1-2-4-3 0-1-3-1-3-4-1 1-3-4-3-1-1-2-8-4-1-2-3-1-1-2-3-1-1-2-1 1-1-2-3-1-1-2-3-1-1-2-1 1-1-2-5-2-2-2-1 1-1-2-5-2-1-2-1 1-1-2-9-4-1-2-1 1-1-2-1 1-1-2-12-6-2-3-1 1-1-2-16-10-13-11-1 0-3-4-2-1-11-11-11-16-4-8-2-7-3-5 0-3-5-11 0-2-2-4 0-3-2-4 0-3-2-4-1-10-1-1 0-4-1-1 1-1-1-1 0-4-1-1 0-4-1-1 1-1-2-4 1-1-2-4 1-1-3-6 1-1-1-1-1-5-2-3-1-5-2-3 0-2-2-2-1-4-2-2-3-7-7-9 0-2-1 0-2-4-2-1-1-3-3-4-2-1-8-11-2-1-1-2-10-10-1 0-9-9-5-3-4-4-25-17-30-16-5-1-3-2-11-2-1-1-12-1-1-1-11 0-1-1-39 0-1 1-41 0-1-1-1 1-1-1-22 0-1 1-10 0-1 1-5 0-1 1-3 0-1 1-3 0-1 1-8 2-3 2-7 2-2 2-4 1-2 2-4 1-2 2-2 0-13 7-2 0Z" fill="#9fff00" stroke-width="2.20"/>
<path d="M287 213l-25 17-12 11-1 0-4 4-16 12-12 11-1 0-7 7 0 1-4 3-2 4-2 1 0 2-4 5 0 2-2 3 0 4-1 1 1 1-2 1 1 1-1 1 1 1-1 1 0 5-1 1 1 1-1 1 1 1-1 1 1 1-1 1 0 7-1 1 1 1-1 1 1 1-1 1 1 1-1 1 1 1-1 1 0 6-1 1 1 1 0 3-1 1 1 1-1 1 0 4-1 1 1 1-1 1 1 1-1 2 1 1-1 1 0 7-1 1 1 1-1 2 1 1-1 1 0 5-1 1 1 1-1 2 1 1-1 2 0 8-1 1 1 2-1 1-1 15-1 1 0 4-1 1 0 8-1 1 0 4-1 1 0 5-1 1 0 5-2 5 0 4-3 7 0 3-1 1-2 8-2 3-2 8-2 3 0 2-3 5-1 4-8 12-14 14-2 4-5 5-1 3-3 3-4 8 0 3-2 5 0 6-1 1 0 17 1 1 0 10 1 1 0 6 1 1 0 4 1 1 0 4 1 1 0 4 2 4 1 7 1 1 6 20 4 8 0 2 14 26 24 36 12 16 6 6 0 1 32 33 1 0 11 11 1 0 10 9 15 10 26 13 2 0 5 3 2 0 7 4 7 2 19 9 2 0 3 2 7 2 5 3 2 0 6 3 3 0 3 2 3 0 4 2 3 0 1 1 3 0 5 2 4 0 1 1 12 1 1 1 11 0 1 1 65 0 1-1 12 0 1-1 22-1 1-1 7 0 1-1 6 0 1-1 6 0 1-1 16-1 1-1 5 0 1-1 5 0 1-1 6 0 1-1 11-1 1-1 4 0 1-1 5 0 1-1 4 0 1-1 5 0 4-2 4 0 4-2 1 1 7-3 4 0 1-1 14-4 4-3 2 0 4-3 5-2 14-10 12-11 0-1 7-7 5-7 7-14 0-2 2-4 2-14 1-1 1-10 1-1-1-1 1-1 0-5 1-1 0-5 1-1 1-15 1-1 1-13 2-5 0-4 1-1 3-11 3-5 0-2 3-5 0-2 6-12 2-2 0-2 12-14 4-2 2-3 1 1 1-2 5-2 1-2 1 1 2-2 6-2 1-2 1 1 1 0 1-2 2 1 1-2 5-1 1-2 1 1 2 0 1-2 10-2 1-2 3 1 1-2 7-1 1-2 7-1 1-2 2 0 1 1 1-2 3 0 1-2 6-1 1-2 3 0 1-2 2 1 3-4 2 0 0-1 2-1 1-3 2-1 2-3 0-9-1-1 1-1-4-8-4-4 0-1-2-1-1-3-1 0-1-2-1 0-1-2-7-6 0-1-3-1-1-2-1 0-1-2-3-1-3-4-3-1-1-2-3-1-3-4-1 1-3-4-1 1-3-4-1 1-1-2-3-1-1-2-3-1-1-2-5-2-1-2-3-1-1-2-1 1-1-2-2 0-6-3-1-2-7-3-1-2-1 1-1-2-1 1-1-2-11-5-4-4-8-4-12-8-1-2-2 0-2-3-15-11-17-17-12-20 0-2-6-13-1-5-2-3-1-5-2-3 0-2-2-4 0-3-2-4 0-5-2-4 1-1-2-4 1-2-1-1 0-4-1-1 1-1-1-1 0-4-1-1 0-4-1-1 1-1-2-4 1-1-2-4 0-3-3-7 1-1-3-4 1-1-2-2-2-7-2-2-1-4-4-5 0-2-2-1 0-2-4-6-3-3-8-12-8-9 0-1-2-1-1-2-17-17-5-3-9-8-18-12-5-2-5-4-23-12-2 0-3-2-2 0-10-4-4 0-1-1-4 0-1-1-16-1-1-1-40 0-1 1-53 0-1-1-1 1-1-1-1 1-1-1-5 0-1 1-2-1-1 1-12 0-1 1-5 0-1 1-4 0-1 1-3 0-1 1-5 1Z" fill="#80ff00" stroke-width="2.20"/>
<path d="M335 192l-4 3-4 1-2 2-13 6-2 2-20 10-2 2-8 4-3 3-18 12-5 5-9 6-4 4-20 15-16 16-5 7-1 4-2 2 1 1-3 6 1 1-1 1 1 1-2 5 1 1-1 1 0 11-1 1 1 1-1 1 1 1-1 1 1 1-1 1 0 6-1 1 1 1-1 1 1 1-1 1 0 3 1 1-1 1 0 4-1 1 1 1-1 1 0 7-1 1 1 1-1 1 1 2-1 1 0 7-1 1 1 1-1 2 1 1-1 1 0 9-1 1 1 1-1 1 0 7-1 1 1 2-1 1 0 7-2 5 0 2 1 1-1 1 0 4-1 1 0 5-1 1 0 5-1 1 0 5-1 1 0 5-2 4 0 4-1 1 0 2-3 7 0 3-2 3-3 11-2 3-2 7-4 8-2 2 0 2-2 1-1 3-3 2-3 5-13 13-5 8-3 3 0 2-4 8-1 8-1 1 0 25 1 1 0 8 1 1 0 5 1 1 1 9 1 1 2 11 3 7 0 3 1 1 1 5 2 3 1 5 9 20 2 2 5 10 10 14 1 3 10 15 3 3 4 7 10 12 0 1 14 15 0 1 22 22 1 0 18 17 12 9 3 1 5 4 7 3 4 3 2 0 13 7 2 0 5 3 2 0 19 9 7 2 12 6 2 0 13 6 2 0 13 5 3 0 1 1 3 0 1 1 3 0 5 2 11 1 1 1 8 0 1 1 17 0 1 1 39 0 1-1 20 0 1-1 23-1 1-1 18-1 1-1 6 0 1-1 20-2 1-1 5 0 1-1 5 0 1-1 5 0 1-1 6 0 1-1 4 0 1-1 5 0 1-1 10-1 4-2 2 1 4-2 4 0 4-2 4 0 1-1 14-4 3-2 5-1 2-2 4-1 10-7 3-1 9-8 1 0 13-13 12-18 0-2 2-3 0-2 3-7 0-5 1-1 0-4 1-1 0-4 1-1 0-4 1-1-1-2 1-1 0-4 1-1 1-13 1-1 0-5 1-1-1-2 1-1 0-5 1-1 0-8 1-1 2-11 1-1 1-5 2-3 0-2 3-5 0-2 6-11 0-2 2-2 0-2 4-5 3-6 3-2 4-5 4-2 1-2 6-3 1-2 1 1 1-2 2 0 5-3 2 0 1-2 8-2 1-2 2 1 1-2 2 0 1 1 1-2 6-1 1-2 2 1 1-2 7-1 1-2 3 1 1-2 8-1 1-2 7-1 0-1 1-1 2 0 1-2 1 1 2 0 0-1 1-1 2 0 1-2 5-1 0-1 2-1 3-4 1 0 1-3 2-2 0-11-5-10-3-2-3-5-1 0-1-2-7-6 0-1-8-6-1-2-5-3-3-4-3-1-1-2-3-1-1-2-3-1-1-2-3-1-1-2-3-1-1-2-1 1-1-2-3-1-1-2-3-1-1-2-1 1-1-2-6-2-1-2-1 1-1-2-5-2-1-2-1 1-1-2-9-4-1-2-1 1-1-2-1 1-1-2-13-7-1-2-1 1-1-2-2 0-1-2-13-8-13-11-1 0-8-8-1 0-10-11-12-19 0-2-6-12 0-3-2-3-1-5-2-3-1-6-3-6 0-4-3-8 0-4-1-1 0-4-1-1 1-2-1-1 0-4-1-1 1-1-1-1 0-4-1-1 0-4-1-1 1-1-2-4 1-1-2-3 0-2-1-1 1-1-1-1-1-5-2-3-1-5-2-2-1-4-3-4 0-2-6-8-3-6-18-24-3-2 0-1-7-8-1 0-9-9-1 0-6-6-23-16-23-12-2-2-4-1-2-2-2 0-5-3-2 0-3-2-2 0-7-3-8-1-1-1-6 0-1-1-9 0-1-1-38 0-1 1-82 0-1 1-10 1-1 1-11 3-3 2Z" fill="#60ff00" stroke-width="2.20"/>
<path d="M340 193l-14 7-2 2-5 2-12 8-10 5-8 9-9 6-3 1-2 2-3 1-21 15-15 8-9 8-5 3-6 6-1 0-3 4-5 4-1 3-2 1-1 3-3 4 0 2-2 4 0 3-1 1 1 1-2 5 1 1-1 1 0 9-1 1 1 1-1 1 1 1-1 1 0 8-1 1 1 1-1 1 1 1-1 1 0 4-1 1 1 1 0 3-1 1 1 1-1 1 0 4-1 1 1 1-1 2 1 1-1 1 0 7-1 1 1 1-1 2 1 1-1 1 0 8-1 1 1 1-1 2 1 2-1 1 0 6-1 1 1 2-2 5 1 2-1 1 0 4-1 1 1 3-1 1-1 10-1 1 0 7-1 1 0 4-1 1 0 4-1 1 0 4-2 4-1 7-1 1-6 20-2 3-1 5-3 5 0 2-8 13-12 12 0 1-8 8-1 3-4 4 0 2-4 6-1 6-2 4-1 19 1 1 1 20 1 1 2 14 3 8 1 7 1 1 4 14 4 8 0 2 9 18 7 10 1 3 20 30 8 10 2 4 9 10 0 1 9 9 0 1 34 33 1 0 6 6 12 9 6 3 2 2 7 3 2 2 4 1 13 7 2 0 19 9 7 2 5 3 2 0 17 8 5 1 11 5 3 0 10 4 4 0 1 1 8 1 1 1 12 1 1 1 12 0 1 1 58 0 1-1 16 0 1-1 12 0 1-1 10 0 1-1 15-1 1-1 20-2 1-1 5 0 1-1 6 0 1-1 5 0 1-1 5 0 1-1 5 0 1-1 17-2 1-1 4 0 4-2 5 0 4-2 1 1 7-3 4 0 1-1 8-2 7-4 2 0 4-3 2 0 2-2 3-1 14-10 18-18 8-12 6-15 0-4 1-1 0-4 1-1 0-5 1-1 0-4 1-1 0-7 1-1 0-4 1-1 0-8 1-1 0-5 1-1-1-1 1-1 0-5 1-1 0-8 1-1 0-5 1-1 1-7 5-11 0-2 3-5 0-2 9-18 9-12 3-2 3-4 3-1 2-3 1 1 1-2 8-3 1-2 1 1 4-3 5-1 1-2 2 1 1-2 2 0 4-2 3 0 1-2 2 1 2-2 10-2 1-2 7-1 1-2 3 1 1-2 3 0 1-2 1 1 2 0 1-2 3 0 1-2 6-1 1-2 2 0 1-2 3-1 0-1 4-3 4-9-1-2 1-1-1-1 0-3-6-11-2-1-1-3-1 0-1-2-4-3-1-2-1 0-1-2-5-4 0-1-2-1 0-1-3-1-3-4-1 1-3-4-3-1-1-2-3-1-1-2-3-1-1-2-3-1-1-2-3-1-1-2-3-1-1-2-1 1-1-2-3-1-1-2-5-2-1-2-1 1-1-2-5-2-1-2-1 1-1-2-5-2-1-2-1 1-1-2-1 1-1-2-11-5-3-2-1-2-1 1-1-2-6-3-15-10-2-3-2 0-2-3-2 0-1-2-4-2-3-4-3-1-1-2-16-16-6-9-7-14 0-2-5-10 0-3-2-3-1-5-3-6 0-3-4-11 0-5-1-1-1-9-1-1 1-2-1-1 0-4-1-1 1-1-1-1 0-4-1-1 0-4-1-1 1-1-2-3 0-2-1-1 1-1-1-1-2-8-2-3-1-5-3-4 0-2-4-5 0-2-6-8-1-3-2-1-3-6-13-16 0-1-2-1-6-8-2-1-6-7-1 0-12-11-18-12-36-19-2 0-10-5-3 0-4-2-8-1-1-1-5 0-1-1-9 0-1-1-34 0-1 1-21 0-1 1-23 0-1-1-1 1-1-1-1 1-1-1-36 0-1 1-5 0-1 1-3 0-1 1-3 0-1 1Z" fill="#40ff00" stroke-width="2.20"/>
<path d="M492 190l-10 0-1-1-26 0-1 1-18 0-1 1-44 0-1-1-1 1-1-1-23 0-1 1-11 1-1 1-11 3-15 8-12 8-6 11-5 4-32 17-23 17-7 3-2 2-2 0-2 2-2 0-10 5-15 14-5 7-1 5-3 6 1 1-2 3 1 1-1 1 1 1-1 1 0 7-1 1 1 1-1 1 0 10-1 1 1 1-1 1 1 1-1 1 0 4-1 1 1 1-1 1 1 1-1 1 1 2-1 1 0 4-1 1 1 1-1 1 1 2-2 4 1 1-1 1 1 2-1 1 0 7-1 1 1 1-1 2 1 1-1 2 1 1-1 1 0 9-1 1 1 2-2 5 1 2-1 1 0 4-1 1 1 2-1 1 0 5-1 1 0 8-1 1-1 11-1 1 0 4-2 4 0 4-3 8 0 3-1 1-5 17-2 3-1 5-6 13-7 10-14 14-2 4-7 8-1 3-3 4 0 2-2 4 0 3-1 1 0 5-1 1 0 20 1 1 0 9 1 1 1 12 1 1 3 15 3 7 0 3 1 1 3 11 2 3 0 2 3 5 0 2 12 22 28 42 9 12 14 15 0 1 33 32 1 0 11 10 16 11 24 12 2 0 7 4 7 2 5 3 2 0 5 3 7 2 5 3 7 2 10 5 5 1 3 2 2 0 7 3 3 0 4 2 3 0 1 1 3 0 5 2 5 0 1 1 16 1 1 1 22 0 1 1 2-1 2 1 6 0 1-1 1 1 3 0 1-1 2 1 2 0 1-1 3 0 1 1 1-1 25 0 1-1 24-1 1-1 7 0 1-1 7 0 1-1 6 0 1-1 7 0 1-1 13-1 1-1 5 0 1-1 6 0 1-1 5 0 1-1 5 0 1-1 5 0 1-1 5 0 1-1 5 0 1-1 4 0 5-2 9-1 4-2 5 0 1-1 8-2 3-2 8-2 2-2 2 0 4-3 5-2 20-15 11-11 6-8 5-9 0-2 3-5 0-3 2-4 0-5 1-1 0-4 1-1 0-4 1-1-1-2 1-1 1-10 1-1 0-7 1-1 0-5 1-1-1-2 1-1 1-14 1-1 0-5 1-1 1-7 1-1 2-8 2-3 0-2 5-9 0-2 11-20 4-4 0-1 5-4 1-2 4-2 4-4 4-2 2 0 1-2 1 1 1-2 7-2 1-2 2 1 1-2 8-2 1-2 1 1 2 0 1-2 10-2 1-2 3 1 1-2 7-1 1-2 7-1 1-2 2 0 1 1 0-1 1-1 2 0 1-2 6-1 1-2 2 0 1-2 2 0 4-3 1-3 2-1 2-5 0-5-1-1-1-6-8-12-1 0-1-2-2-1-1-2-1 0-1-2-7-6 0-1-3-1-3-4-6-4-3-4-3-1-1-2-3-1-1-2-3-1-1-2-1 1-1-2-3-1-1-2-3-1-1-2-1 1-1-2-3-1-1-2-1 1-1-2-3-1-1-2-1 1-1-2-5-2-1-2-1 1-1-2-11-5-1-2-1 1-1-2-1 1-1-2-13-7-2-3-1 1-1-2-13-8-12-10-1 0-7-7-1 0-16-17-13-24 0-2-2-3 0-3-2-3-1-5-5-11 0-3-2-4-1-8-2-5 1-1-2-4 1-1-1-1 0-4-1-1 1-2-1-1 0-4-1-1 1-1-1-1-1-9-2-3 1-1-3-7 1-1-1-1 0-2-3-4-1-5-3-4 0-2-6-8-1-3-8-10-3-6-2-1-1-3-2-1-1-3-2-1-9-12-23-21-9-6-3-1-2-2-14-7-2-2-4-1-2-2-4-1-2-2-2 0-16-8-2 0-10-4-8-1-1-1-6 0Z" fill="#20ff00" stroke-width="2.20"/>
<path d="M497 194l-20-1-1-1-13 0-1 1-19 0-1 1-15 0-1 1-64-1-1 1-9 1-1 1-8 2-8 4-2 2-4 8 0 3-2 5-9 8-40 18-5 4-3 1-18 14-7 3-2 2-2 0-11 6-2 0-5 3-2 0-7 4-4 4-1 3-2 1-1 3-2 2-2 5-1 8-1 1 1 1-1 1 0 5-1 1 1 1-1 1 1 1-1 1 1 1-1 1 0 8-1 1 1 1-1 1 1 1-1 1 0 4-1 1 1 1-1 1 0 7-1 1 1 1-2 4 1 1-1 2 1 1-1 1 0 7-1 1 1 1-1 2 1 1-1 1 1 2-1 2 1 1-1 1 0 5-1 1 1 1-1 2 1 2-2 5 1 2-1 1 0 7-1 1 0 4-1 1 0 2 1 1-1 1 0 4-1 1 0 5-1 1-2 17-2 4-1 8-1 1-6 20-5 11-1 5-4 8-4 6-3 2 0 1-12 12 0 1-9 10-6 11-1 6-1 1 0 4-1 1 0 27 1 1 0 7 1 1 1 11 1 1 2 11 2 4 0 3 1 1 4 14 4 8 0 2 12 23 8 11 1 3 16 24 3 3 4 7 4 4 3 5 14 15 0 1 32 31 1 0 11 10 16 11 24 12 2 0 12 6 2 0 10 5 7 2 7 4 2 0 3 2 7 2 5 3 5 1 3 2 3 0 3 2 10 2 4 2 4 0 1 1 4 0 1 1 5 0 1 1 22 1 1 1 1-1 1 1 47 0 1-1 21 0 1-1 12 0 1-1 7 0 1-1 10 0 1-1 15-1 1-1 13-1 5-2 2 1 4-2 6 0 1-1 5 0 1-1 5 0 1-1 17-2 4-2 10-1 4-2 4 0 1-1 23-7 2-2 9-4 18-13 15-15 6-8 5-10 0-2 3-7 0-4 1-1 0-4 1-1 0-5 1-1 0-7 1-1 0-4 1-1-1-2 1-1 0-5 1-1 0-4 1-1-1-2 1-1 0-5 1-1-1-2 1-1 0-5 1-1 0-5 1-1 1-9 1-1 1-5 2-3 0-2 2-3 0-2 5-9 0-2 4-8 2-2 0-2 3-3 3-6 4-4 1 0 0-1 4-3 2-3 1 1 1-2 6-3 2-2 8-3 1-2 2 1 1-2 8-2 1-2 2 1 1-2 10-2 1-2 2 1 1-2 7-1 1-2 3 1 1-2 7-1 1-2 7-1 0-1 1-1 2 0 1-2 2 1 1-2 2 0 1-2 2 0 1-2 3-1 0-1 2-1 3-7 0-7-1-1-2-7-3-2-2-5-1 0-1-2-5-4-3-5-1 1-1-2-1 0-3-4-6-4-3-4-3-1-1-2-3-1-1-2-3-1-1-2-6-4-1-2-3-1-1-2-1 1-1-2-3-1-1-2-5-2-1-2-1 1-1-2-5-2-1-2-1 1-1-2-7-3-1-2-1 1-1-2-9-4-3-2-1-2-1 1-1-2-1 1-1-2-24-15-4-4-11-8-16-16 0-1-2-1-2-4-5-6-8-16 0-2-2-3 0-2-4-8 0-3-3-6 0-3-1-1 0-2-3-7 0-4-2-4 0-5-1-1-1-11-1-1 1-2-1-1 0-4-1-1 1-1-1-1 0-4-2-3 1-1-2-4 0-4-1-1-1-5-2-3 0-2-2-2-1-4-9-13-1-3-21-28-4-4 0-1-20-19-11-8-5-2-9-6-4-1-2-2-4-1-2-2-4-1-2-2-2 0-7-4-2 0-10-5-2 0-7-3-7-1-1-1-4 0Z" fill="#00ff00" stroke-width="2.20"/>
<path d="M211 292l-6 9 0 2-1 1 1 1-2 1 1 1-1 1 0 4-1 1 1 1-1 1 0 5-1 1 1 1-1 1 1 1-1 1 1 1-1 1 1 1-1 1 0 6-1 1 1 1-1 1 0 4-1 1 1 1-2 4 1 1-1 1 1 2-1 1 0 4-1 1 1 2-1 1 0 4-1 1 1 1-1 2 1 1-1 1 1 2-1 1 0 10-1 1 1 2-1 2 1 1-1 1-1 14-1 1 0 7-1 1 0 5-1 1 0 6-1 1 0 6-1 1 0 4-1 1 0 4-1 1 0 5-2 4-1 7-1 1-6 20-2 3-3 10-6 12-12 13 0 1-11 11-7 10-1 4-2 3-1 6-1 1 0 7-1 1 0 12 1 1 1 20 1 1 2 14 2 4 2 10 1 1 3 11 6 13 0 2 5 10 10 15 1 3 30 44 4 4 4 6 11 11 0 1 36 34 19 14 25 13 2 0 19 9 2 0 10 5 7 2 5 3 7 2 5 3 5 1 3 2 2 0 10 4 3 0 1 1 3 0 5 2 4 0 1 1 5 0 1 1 5 0 1 1 11 0 1 1 62 0 1-1 17 0 1-1 23-1 1-1 7 0 1-1 7 0 1-1 7 0 1-1 20-2 4-2 6 0 1-1 5 0 1-1 17-2 4-2 2 1 4-2 4 0 5-2 4 0 7-3 4 0 1-1 5-1 17-8 19-13 15-14 8-11 4-8 0-2 2-3 0-3 2-4 0-5 1-1 0-4 1-1 0-7 1-1 0-7 1-1 0-5 1-1 0-7 1-1 0-5 1-1-1-2 1-1 0-5 1-1 0-8 1-1 2-11 5-11 0-2 6-11 0-2 3-4 0-2 2-2 2-5 8-9 0-1 4-3 2-3 6-3 1-2 9-4 2-2 1 1 1-2 11-3 1-2 2 0 4-2 3 0 1-2 2 1 1-2 11-2 1-2 7-1 1-2 3 1 0-1 1-1 2 0 1-2 2 0 1 1 1-2 3 0 1-2 5-1 0-1 2-1 3-4 1 1 0-1 2-1 3-6 0-8-3-8-4-4-1-3-1 0-1-2-2-1-1-2-1 0-1-2-4-3-1-2-1 0-1-2-3-2 0-1-2-1 0-1-3-1-1-2-3-1-1-2-1 0-1-2-3-2 0-1-3-1-1-2-3-1-1-2-1 1-1-2-3-1-1-2-3-2 0-1-5-2-1-2-5-2-1-2-1 1-1-2-5-2-1-2-1 1-1-2-11-5-1-2-1 1-1-2-1 1-1-2-13-7-2-3-1 1-1-2-2 0-1-2-1 1-2-3-1 1-2-3-1 1-2-3-20-15-17-17-7-10-3-7-2-2 0-2-3-5 0-2-4-8 0-3-2-3-1-5-2-3-2-10-4-11 0-4-1-1 1-2-1-1 0-4-1-1 0-4-1-1 1-1-1-1 1-2-1-1-1-9-2-5 0-4-1-1-2-8-2-3 0-2-6-9 0-2-3-3-2-4-3-3-1-3-2-1-1-3-15-20-4-4 0-1-2-1-1-2-12-12-16-12-25-13-2 0-2-2-2 0-10-5-2 0-3-2-2 0-3-2-2 0-10-4-8-1-1-1-5 0-1-1-7 0-1-1-33 0-1 1-10 0-20 9-3 0-4 2-3 0-1 1-3 0-5 2-14 1-1 1-7 0-1-1-1 1-1-1-9 0-1 1-4 0-6 4-7 8-2 0-4 3-2 0-2 2-4 2-2 0-5 3-2 0-1 1-23 7-11 5-2 0-10 5-26 19-12 6-2 0-7 4-2 0-5 3-2 0Z" fill="#00ff20" stroke-width="2.20"/>
<path d="M494 201l-7 0-1-1-22 0-2 2-6 3-2 0-5 3-2 0-3 2-2 0-3 2-2 0-3 2-2 0-3 2-2 0-3 2-2 0-3 2-2 0-5 3-2 0-3 2-2 0-4 2-3 0-4 2-3 0-1 1-3 0-5 2-4 0-1 1-5 0-1 1-14 2-1 1-15 3-4 2-4 0-4 2-15 3-4 2-3 0-1 1-8 2-15 7-12 9-4 2-3 3-3 1-7 5-11 5-2 0-5 3-2 0-16 9-6 6-2 4 0 3-1 1 0 18-1 1 1 1-1 1 0 4-1 1-1 5-2 3 0 2-3 3 0 2-1 1-1 13-1 1 1 2-1 1 0 7-1 1 1 1-1 2 1 1-1 2 1 1-1 1 1 2-1 1 0 6-1 1 1 2-1 1 0 7-1 1 0 4-1 1 0 8-1 1 0 4-1 1-1 12-1 1 0 5-2 5-1 8-2 3 0 3-1 1-6 20-2 3-1 5-2 3 0 2-2 3-1 4-6 8-20 21-1 3-4 4-4 8 0 3-2 4 0 5-1 1 0 20 1 1 1 17 1 1 0 4 1 1 0 4 3 8 0 3 1 1 0 2 2 4 0 3 1 1 1 5 2 3 1 5 10 21 2 2 4 8 24 36 18 24 37 37 1 0 7 7 1 0 13 11 6 4 5 2 2 2 23 11 2 0 12 6 2 0 3 2 7 2 5 3 7 2 7 4 5 1 5 3 2 0 13 5 3 0 4 2 3 0 5 2 5 0 1 1 5 0 1 1 8 0 1 1 34 0 1 1 1-1 38 0 1-1 17 0 1-1 11 0 1-1 7 0 1-1 7 0 1-1 15-1 1-1 20-2 4-2 6 0 1-1 17-2 5-2 10-1 4-2 8-1 4-2 4 0 1-1 8-2 5-3 2 0 4-3 2 0 2-2 5-2 19-14 13-13 2-4 3-3 5-10 0-2 2-4 0-3 1-1 0-3 1-1 0-7 1-1 0-4 1-1-1-2 1-1 0-4 1-1 0-8 1-1 0-5 1-1 1-17 1-1 0-5 1-1 0-4 1-1 1-7 2-3 0-2 4-8 0-2 7-13 0-2 2-2 0-2 9-13 4-4 0-1 1-1 1 1 0-1 3-2 2-3 1 1 1-2 7-3 1-2 1 1 1-2 7-2 4-3 1 1 1-2 3 0 1-1 5-1 1-2 2 1 1-2 10-2 1-2 2 0 1 1 1-2 7-1 1-2 7-1 1-2 6-1 0-1 1-1 2 0 1-2 2 1 0-1 2-1 3-4 3-1 3-6 0-8-3-8-3-2-2-5-1 0-1-2-2-1-1-2-1 0-1-2-10-9 0-1-3-1-1-2-8-6-1-2-3-1-1-2-6-4-1-2-5-2-1-2-3-1-1-2-4-2-1-2-1 1-1-2-5-2-1-2-9-4-1-2-1 1-1-2-11-5-3-2-1-2-1 1-1-2-20-12-12-9-5-5-1 0-8-8-1 0-13-14-5-7-6-11 0-2-3-5 0-2-4-8-1-5-2-3-1-6-2-3 0-3-4-11 0-5-2-4 1-2-1-1 0-4-1-1 1-1-1-1 0-4-1-1 1-1-1-1 0-5-1-1 1-1-2-3 1-1-2-4 1-1-1-1-3-11-2-3 0-2-2-2 0-2-2-1 0-2-3-3 0-2-2-1-1-3-13-16-1-3-2-1-1-3-2-1-1-3-2-1-1-3-2-1-4-6-18-17-17-11-6-3-2 0-2-2-2 0-7-4-7-2-5-3-8-2-3-2-2 0-7-3-3 0-4-2-10-1Z" fill="#00ff40" stroke-width="2.20"/>
<path d="M532 216l-25 0-1-1-16 0-1-1-24 2-1 1-4 0-8 3-3 0-1 1-5 1-3 2-2 0-1 1-2 0-1 1-2 0-1 1-2 0-22 8-3 0-4 2-3 0-5 2-4 0-1 1-4 0-1 1-4 0-1 1-5 0-1 1-5 0-1 1-4 0-1 1-14 2-1 1-3 0-1 1-3 0-1 1-3 0-5 2-4 0-1 1-11 2-1 1-14 4-12 6-19 13-9 4-2 2-2 0-2 2-2 0-12 6-2 0-2 2-6 3-9 10 0 2-1 1 0 8-1 1 0 11-1 1 1 1-1 1-2 8-3 6-2 2-1 4-3 3 0 3-2 2 0 3-2 2 0 3-1 1 0 10-1 1 1 1-1 2 1 2-1 2 1 1-1 1-1 14-1 1 0 4-1 1 0 8-1 1-1 11-1 1 0 4-1 1 0 4-1 1 0 5-2 4-2 11-2 3-8 26-9 18-3 4-12 11 0 1-12 14-6 14 0 4-1 1 0 26 1 1 0 8 1 1 0 5 1 1 0 4 1 1 0 4 1 1 1 7 1 1 0 2 3 7 0 3 2 3 2 8 12 25 4 5 1 3 14 21 3 3 14 22 12 14 0 1 42 41 23 17 26 13 2 0 12 6 2 0 3 2 7 2 5 3 7 2 7 4 5 1 5 3 2 0 16 6 3 0 1 1 3 0 5 2 4 0 1 1 4 0 1 1 7 0 1 1 15 0 1 1 2-1 1 1 31 0 1-1 4 1 1-1 28 0 1-1 25-1 1-1 7 0 1-1 7 0 1-1 7 0 1-1 7 0 1-1 13-1 5-2 12-1 1-1 5 0 1-1 5 0 5-2 4 0 5-2 1 1 4-2 5 0 7-3 5 0 1-1 11-3 2-2 4-1 12-6 6-5 3-1 20-17 9-12 4-8 0-2 3-7 0-5 1-1 0-4 1-1 1-15 1-1 0-5 1-1 0-8 1-1 0-5 1-1-1-2 1-1 1-13 1-1 0-4 1-1 1-7 3-6 0-2 3-5 0-2 6-11 0-2 2-2 0-2 2-2 0-2 3-3 0-2 9-11 5-3 2-3 7-3 1-2 1 1 1-2 4-2 5-1 0-1 1-1 1 1 1-2 8-2 1-2 1 1 2 0 1-2 9-2 1-2 3 1 1-2 7-1 1-2 3 1 0-1 1-1 2 0 1-2 1 1 2 0 1-2 6-1 0-1 1-1 2 0 1-2 4-1 0-1 2-1 3-4 1 1 3-6 0-8-2-3 0-2-3-3-2-5-1 0-1-2-3-2-1-3-1 0-1-2-1 0-4-4 0-1-3-1-1-2-10-9 0-1-1 1-3-4-1 1-1-2-3-2 0-1-3-1-1-2-6-4-1-2-1 1-1-2-3-1-1-2-1 1-1-2-3-1-3-3-6-3-1-2-11-5-1-2-1 1-1-2-1 1-1-2-21-12-1-2-2 0-1-2-2 0-1-2-2 0-2-3-2 0-2-3-2 0-2-3-3-1-3-4-4-2-17-17-9-13-6-12-1-5-2-3-3-10-2-3 0-3-3-6 0-3-4-11 0-5-1-1 0-5-1-1 0-4-1-1 1-1-1-1 0-4-1-1 1-1-1-1 0-7-2-5 0-4-1-1-3-11-3-4 0-2-2-2 0-2-2-1 0-2-6-7-1-3-3-2-1-3-4-4-15-21-15-16-1 0-9-8-6-4-5-2-2-2-2 0-2-2-2 0-7-4-2 0-3-2-2 0Z" fill="#00ff60" stroke-width="2.20"/>
<path d="M545 224l-2 1-7 0-1 1-8 0-1 1-9 0-1 1-39 0-1 1-13 0-1 1-6 0-1 1-9 1-1 1-15 3-4 2-3 0-1 1-3 0-1 1-3 0-1 1-3 0-1 1-3 0-5 2-4 0-1 1-4 0-1 1-4 0-1 1-4 0-1 1-4 0-1 1-5 0-1 1-4 0-1 1-4 0-1 1-4 0-1 1-11 2-4 2-3 0-4 2-3 0-4 2-10 2-1 1-14 4-5 3-2 0-6 3-2 2-5 2-2 2-5 2-2 2-2 0-4 3-2 0-17 9-2 0-11 7-3 3-4 7-1 12-1 1 1 1-1 1 0 4-1 1 1 1-1 1-1 5-4 8-2 2-1 4-3 3 0 3-2 2-1 7-2 4 1 1-1 2 1 1 0 9 1 1-1 1 1 1-1 12-2 2-1 3-9 10-1 9-1 1 0 5-2 5 0 4-1 1 0 5-1 1-1 7-1 1-1 6-1 1-7 23-2 3-3 11-2 2-2 5-4 6-23 24-4 8-2 2 0 3-2 3 0 4-1 1 0 29 1 1 0 8 1 1 0 5 1 1 0 4 1 1 2 11 1 1 5 17 2 3 2 7 3 5 0 2 3 4 6 12 32 48 9 12 32 33 1 0 17 16 16 12 25 13 2 0 14 7 2 0 3 2 2 0 3 2 7 2 5 3 7 2 5 3 2 0 13 6 3 0 10 4 3 0 5 2 4 0 1 1 4 0 1 1 6 0 1 1 12 0 1 1 46 0 1-1 5 1 1-1 39-1 1-1 9 0 1-1 8 0 1-1 7 0 1-1 6 0 1-1 7 0 1-1 13-1 5-2 5 0 1-1 6 0 5-2 11-1 4-2 5 0 4-2 5 0 7-3 4 0 1-1 11-3 2-2 5-1 2-2 2 0 2-2 5-2 9-6 3-3 4-2 5-5 1 0 13-14 5-9 0-2 3-6 0-3 2-4 0-5 1-1-1-1 1-1 0-4 1-1-1-2 1-1 0-5 1-1-1-1 1-1 0-5 1-1 0-8 1-1 0-5 1-1 0-8 1-1 0-6 1-1 1-9 1-1 2-8 3-5 0-2 6-11 0-2 2-2 0-2 6-9 2-5 4-4 0-1 6-5 1-2 6-3 1-2 1 1 1-2 7-3 1-2 2 1 1-2 10-3 1-2 2 1 1-2 9-2 1-2 1 1 2 0 1-2 6-1 1-2 1 1 2 0 1-2 7-1-1-1 1-1 7-1 1-2 5-1 1-2 4-1 0-1 4-3 4-7 0-8-2-5-9-9-1 0-1-2-7-5-1-2-1 0-1-2-1 0-7-7 0-1-3-2 0-1-5-5-3-6-3-1-2-3-3-1-1-2-3-1-2-3-3-1-1-2-1 1-1-2-5-2-1-2-1 1-1-2-9-4-1-2-15-8-1-2-1 1-1-2-17-10-16-13-1 0-14-13-1 0-11-12-11-18 0-2-5-10 0-3-2-3-1-5-2-3 0-3-2-3 0-2-2-4-1-7-2-4 0-5-2-4 1-1-1-1 0-5-1-1 1-1-1-1 0-4-1-1 1-1-1-1 0-4-1-1 1-1-1-1-1-9-1-1-3-11-3-4 0-2-5-6-1-3-16-19-1-3-2-1-1-3-9-12-12-13-1 0-6-6-10-7-14-7-2 0Z" fill="#00ff80" stroke-width="2.20"/>
<path d="M556 231l-17 2-1 1-4 0-1 1-4 0-1 1-4 0-1 1-4 0-1 1-4 0-1 1-5 0-1 1-6 0-1 1-10 0-1 1-40 0-1 1-8 0-1 1-6 0-1 1-11 1-1 1-4 0-1 1-5 0-1 1-4 0-1 1-4 0-1 1-4 0-1 1-4 0-1 1-4 0-1 1-14 2-1 1-3 0-1 1-3 0-4 2-3 0-1 1-5 1-28 13-2 0-1 1-26 8-3 2-2 0-14 7-7 2-19 11-4 4-3 5-1 8-1 1 1 1-1 1 0 4-1 1 1 1-1 1-1 5-2 2 0 2-3 4-2 5-4 5-1 4-2 2 0 3-2 5 1 1-1 1 1 2-1 1 2 3-1 1 1 1 0 3 3 6 1 6 1 1-1 10-21 22-11 21 0 2-2 4 0 3-1 1-11 35-2 3-4 14-7 7-3 1-16 16-6 9-3 8-1 11-1 1 2 32 1 1 0 5 1 1 0 4 1 1 1 7 1 1 0 2 3 7 0 3 2 3 2 8 12 25 41 61 12 13 0 1 31 30 1 0 12 11 14 10 28 14 2 0 5 3 2 0 3 2 7 2 5 3 2 0 3 2 2 0 10 5 7 2 5 3 8 2 3 2 3 0 4 2 3 0 1 1 3 0 5 2 5 0 1 1 4 0 1 1 10 0 1 1 53 0 1-1 3 0 1 1 1-1 42-1 1-1 7 0 1-1 8 0 1-1 7 0 1-1 6 0 1-1 14-1 5-2 13-1 4-2 6 0 4-2 11-1 4-2 8-1 8-3 4 0 1-1 5-1 5-3 5-1 6-4 2 0 5-4 8-4 12-9 12-12 7-11 0-2 3-5 1-8 1-1 0-4 1-1 0-7 1-1-1-2 1-1 0-4 1-1-1-2 1-1 0-5 1-1 0-8 1-1 0-5 1-1 0-8 1-1 0-6 1-1 1-8 1-1 2-8 2-3 0-2 6-11 0-2 5-10 2-2 0-2 3-3 3-6 4-4 1 0 4-5 4-2 1-2 9-4 1-2 1 1 1-2 10-3 1-2 1 1 2-2 8-2 1-2 2 1 1-2 7-1 1-1 2 0 1-2 7-1 1-2 2 1 1-2 5-1 0-1 2-1-1-1 4-2-1-1 2-1-1-1 3-2-1-1 1-1 0-4 1-1-1-1 0-4-3-7-5-7-3-2-1-3-3-2 0-1-8-9-4-7-4-4-8-12-1-4-4-2-1-2-5-2-2-3-5-2-1-2-1 1-1-2-11-5-4-4-5-2-2-2-13-7-14-10-4-4-6-4-7-7-1 0-14-14 0-1-7-8-10-19 0-2-2-3 0-3-2-2 0-3-2-3 0-3-3-6-1-6-3-6-1-9-1-1 0-4-1-1 0-5-1-1 1-1-1-1 0-6-1-1 1-1-1-1 0-4-1-1 1-2-1-1-1-8-1-1-3-11-4-5 0-2-7-8-2-4-2-1-4-6-3-2-1-3-4-4-14-20-6-6 0-1-16-13Z" fill="#00ff9f" stroke-width="2.20"/>
<path d="M566 239l-9 0-1 1-4 0-5 2-4 0-30 11-9 1-1 1-11 0-1 1-3 0-1-1-12 0-1-1-16-1-1-1-28 0-1 1-16 1-1 1-5 0-1 1-4 0-1 1-10 1-1 1-3 0-5 2-4 0-1 1-14 4-8 4-7 5-9 9-9 6-2 0-4 2-3 0-1 1-15 1-1 1-5 0-1 1-8 1-1 1-5 1-3 2-5 1-13 7-4 4-2 4-1 7-1 1-1 10-3 4-1 3-5 5-5 8-3 3-4 11 1 1-1 1 1 2-1 1 1 1 0 2 2 3 1 4 2 2 1 5 3 5 0 3 1 1-1 1 0 5-5 8-2 1 0 1-2 1-10 10-1 0 0 1-6 6 0 2-3 3-8 16-15 20 0 2-2 3 0 4-1 1 1 9 1 1 0 5 1 1 0 8-3 6-11 9-2 0-6 4-2 0-11 6-4 1-8 12 0 2-2 3-1 12-1 1 0 6 1 1 0 16 1 1 1 13 1 1 0 4 1 1 1 7 2 4 0 3 3 6 0 3 2 3 0 2 2 3 2 7 11 21 20 30 3 3 9 15 9 12 5 5 0 1 30 30 1 0 9 9 1 0 10 9 15 10 18 9 2 0 7 4 2 0 3 2 7 2 5 3 2 0 3 2 7 2 5 3 2 0 3 2 2 0 5 3 5 1 3 2 2 0 10 4 11 2 1 1 10 1 1 1 9 0 1 1 87-1 1-1 13 0 1-1 20-1 1-1 15-1 1-1 5 0 1-1 4 0 1-1 6 0 1-1 4 0 1-1 11-1 1-1 9-1 5-2 5 0 7-3 5 0 4-2 3 0 1-1 14-4 5-3 2 0 2-2 2 0 2-2 10-5 14-10 13-13 8-14 0-2 2-4 0-4 1-1 0-5 1-1 1-18 1-1 0-5 1-1-1-1 1-1 0-6 1-1 0-8 1-1 0-5 1-1 0-6 1-1 1-8 1-1 1-5 2-3 0-2 4-7 0-2 10-20 2-2 3-6 5-5 1 0 0-1 4-4 1 0 2-3 6-3 1-2 4-1 5-3 2 0 0-1 1-1 1 1 1-2 11-3 1-2 2 1 1-2 4-1 1-2 5-2 1-2 3-1 1-2 3-1-1-1 2-1 2-3 1 0-1-1 3-4-1-1 1-1-1-1 1-1-1-2 1-1-1-1 0-3-3-6 0-2-6-10 0-2-7-10-3-7-18-24 0-2-4-6-9-4-1-2-15-8-3-2-1-2-1 1-1-2-2 0-1-2-1 1-2-3-1 1-1-2-2 0-2-3-1 1-2-3-2 0-2-3-2 0-3-4-2 0-3-4-3-1-9-9-1 0-9-9 0-1-6-6-2-4-3-3-7-14-9-12-3-6 0-2-2-2-1-4-2-2-1-5-2-2 0-2-2-3 0-3-2-4-1-9 1-1 0-4 5-8 0-5-1-1 1-1-1-2 1-1-3-8 0-4-1-1 0-2-2-2-1-5-5-6-1-3-5-5-7-2-10-5-6-5-1-3-2-2 0-3-1-1 1-8 1-1-1-4-7-8 0-1-1 0-7-8Z" fill="#00ffbf" stroke-width="2.20"/>
<path d="M571 257l-5-1-1-1-1 1-1-1-1 1-6 0-3 2-3 0-6 3-3 0-8 3-4 0-1 1-4 0-1 1-5 0-1 1-11 0-1 1-24-1-1-1-5 0-1-1-4 0-1-1-4 0-1-1-5 0-1-1-4 0-1-1-6 0-1-1-30 0-1 1-6 0-1 1-5 0-1 1-4 0-1 1-8 1-1 1-11 3-10 5-10 10-2 4-11 11-8 4-6 1-1 1-4 0-1 1-5 0-1 1-16 1-1 1-6 1-3 2-2 0-7 4-5 6 0 2-2 2-2 8-4 7-11 11-1 0 0 1-3 2-6 7-1 4-2 2 1 2-1 1 0 3 1 1-1 1 3 6 0 2 2 2 0 2 2 3 1 6 1 1 0 4-1 1 1 2-1 1-1 5-3 4-22 21-6 9 0 2-2 2-8 15-6 8-5 11 0 13 1 1 0 7 1 1 0 3-1 1-1 6-2 3-10 8-32 16-9 8-5 11 0 20-1 1 0 2 1 1 0 11 1 1 0 5 1 1 1 8 2 4 0 3 1 1 3 11 2 3 0 2 4 8 0 2 13 24 11 10 8 11 3 8 0 3 10 16 10 12 0 1 7 7 0 1 12 12 1 0 16 16 1 0 13 12 16 11 22 11 2 0 5 3 2 0 3 2 2 0 3 2 7 2 5 3 2 0 3 2 7 2 5 3 2 0 13 6 3 0 1 1 2 0 7 3 7 1 1 1 5 0 1 1 4 0 1 1 9 0 1 1 30 0 1-1 4 0 1-1 4 0 1-1 13 0 1 1 4 0 1 1 44-1 1-1 9 0 1-1 10 0 1-1 6 0 1-1 5 0 1-1 6 0 1-1 6 0 1-1 4 0 1-1 5 0 5-2 6 0 8-3 5 0 8-3 9-1 13-5 3 0 1-1 5-1 22-11 16-11 13-13 3-6 2-2 0-2 2-3 0-2 2-4 0-4 1-1 0-7 1-1 0-7 1-1-1-1 1-1 0-8 1-1 0-8 1-1 0-5 1-1-1-2 1-1 0-6 1-1 1-12 1-1 0-3 2-3 0-3 12-24 0-2 3-4 0-2 2-2 0-2 3-3 0-2 12-13 4-2 2-3 9-4 1-2 1 1 0-1 5-3 2-3 3-1 0-1 4-2 2-3 3-1 1-2 3-1 1-2 3-2 2-4 1 1-1-1 3-4-1-1 1-1-1-11-1-1-2-8-2-3-2-8-2-2-2-7-3-4-2-5-4-6-3-2-5-8-1 1-4-6-2-1-5-7-6-5-3-5-2-2-3-1-9-6-3-4-1 0-5-5-9-6-5-5-3-1-4-5-5-3-13-13-13-7-10-7-9-10-5-10 0-2-3-7-1-7-3-7 0-3-4-8-1-6-3-8 0-9 1-1 0-2 2-4 3-3 1-3 7-8 0-2-2-4 1-1-2-2-1-4-3-2-2 0-1-1-8-2-3-2-8-2-12-6-15-14-5-9 0-3-1-1 1-1-1-1 1-2-1-1 1-2ZM772 592l1-1 1 1-1 1ZM775 589l1-1 1 1-1 1Z" fill="#00ffdf" stroke-width="2.20"/>
<path d="M305 326l-8 11-12 12-18 13-5 6 0 3-2 2 1 1-1 2 1 1-1 1 1 1 1 7 2 4-1 1 2 3-1 1 1 1 0 10-6 12-9 9-1 0 0 1-2 1-7 8-1 0-6 9-1 3-2 2 0 2-2 2 0 2-2 2-2 5-2 2-7 13 0 2-2 4 0 12 1 1 0 5 1 1 0 11-2 4-5 5-6 4-13 7-4 1-2 2-11 5-4 3-7 7-4 9 0 7 1 1 0 14-1 1-1 8-1 1 0 4-1 1 0 11 1 1 1 6 2 3 1 4 6 9 17 19 8 12 1 3 4 5 1 3 4 5 7 13 2 2 5 13-1 7-4 6 6 8 16 17 1 0 27 26 1 0 13 11 6 3 2 2 20 10 2 0 5 3 2 0 3 2 2 0 3 2 2 0 3 2 2 0 3 2 7 2 5 3 2 0 3 2 7 2 5 3 2 0 16 6 4 0 1 1 8 1 1 1 6 0 1 1 5 0 20-8 3 0 1-1 3 0 5-2 5 0 1-1 7 0 1-1 16 0 1 1 7 0 1 1 9 1 1 1 3 0 4 2 3 0 1 1 3 0 5 2 4 0 1 1 8 0 1 1 1-1 9 0 1-1 15-1 1-1 4 0 1-1 11-2 1-1 14-4 3-2 2 0 12-6 3-3 3-1 5-4 13-6 7-1 1-1 4 0 1-1 27 0 14-9 11-11 3-6 2-2 0-2 2-3 0-3 2-4 0-5 1-1 0-11-4-2-7-6-3-8 1-1-1-2 1-1 0-4 1-1 0-5 1-1 0-3 2-5 0-4 3-6 0-2 11-12 8-4 16-33 8-9 0-1 5-4 0-2 6-8 6-4 0-1 8-6 2-3 3-1 2-3 4-2 6-9-1-1 1-1 0-9-1-1 0-3-3-6-1-5-3-5-1-5-2-3 0-2-2-2 0-2-7-9-2-4-9-8-3-5-3-3-3-1-2-3-5-3-3-4-1 0-6-6-11-8-2-3-3-1-9-8-1 0-9-9-3-1-4-4-2 0-2-2-2 0-2-2-2 0-2-2-4-1-2-2-5-2-14-13-6-9-6-12 0-2-2-4-1-8-1-1 0-4-1-1-1-8-1-1-2-8-3-5-1-4-2-2 0-2-3-5 0-2-2-3 0-2-2-4 0-5-1-1 1-1-1-1 1-1-1-1 1-1-1-1 1-1-1-1 1-1-1-1 1-1-1-1 0-2-3-4-25-24-4-2-4-4-9-6-12-5-10-1-1-1-45-1-1-1-12-1-1-1-3 0-1-1-3 0-1-1-3 0-1-1-3 0-5-2-9-1-1-1-20-1-1 1-8 0-1 1-5 0-1 1-7 1-14 6-8 7-7 11-7 7-7 5-10 5-2 0-13 5-3 0-4 2-6 1Z" fill="#00ffff" stroke-width="2.20"/>
<path d="M283 365l0 1-2 1-4 5-3 7 0 6 1 1-1 1 1 1 0 6 1 1-1 1 1 1-1 2 1 2-1 1 0 5-1 1 0 2-3 4 0 2-4 4 0 1-19 19-6 9 0 2-2 2 0 2-2 2 0 2-11 21-1 7-1 1 0 6 1 1 0 5 1 1 2 10 1 1-1 9-3 4-9 6-8 4-2 0-9 5-2 0-14 8-6 6-4 8 1 7 3 6 1 6 1 1 0 8-1 1 0 3-1 1 0 3-2 5 1 10 5 9 15 18 6 9 12 26 10 14 10 9 24 15 8 9 2 4-1 27 1 1 1 7 3 7 0 3 2 5 0 4 12 8 24 11 2 0 1 1 7 0 1-1 14 0 1 1 7 1 26 13 2 0 4 2 3 0 1 1 8 0 1 1 1-1 13 0 1-1 5 0 1-1 6 0 1-1 12-1 1-1 6 0 1-1 9 0 1-1 25 0 1 1 14 1 1 1 4 0 1 1 4 0 1 1 4 0 1 1 5 0 1 1 7 0 1 1 15 0 1-1 12-1 1-1 3 0 1-1 11-3 10-5 17-13 5-2 4-3 2 0 2-2 3 0 6-3 8-1 1-1 5 0 1-1 11 0 1-1 33 0 2-1 5-5 5-7 4-10 0-3 1-1-8-5-2 0-2-2-2 0-9-5-5-4-4-6 0-9 11-23 4-15 6-10 5-5 20-13 7-7 2-5 0-10 1-1-1-1 1-1 0-4 2-4 7-8 14-8 4-3 2-3 4-2 1-2 4-2 0-1 4-3 5-9 0-8-1-1 0-3-2-3 0-2-5-7-2-5-5-6-1-4-8-10-4-1-1-2-2 1-1-1 1-1-6-4 1-1-3-4 1-1-2-2-2-7-6-9-8-8-9-6-2 0-12-6-3 0-5-2-4 0-1-1-4 0-1-1-1 1-1-1-22 0-1-1-1 1-2-1-1 1-1-1-10 0-1-1-7-1-4-2-4-4-1-2 0-6 9-12 2-5 0-12-1-1-2-8-2-3 0-2-2-3-1-5-2-3-1-6-2-3-1-8-2-3 0-3-3-5 0-2-4-7-15-18-3-6-2-2-4-9 0-3-2-4-1-6-7-12-5-5-7-5-14-6-4 0-1-1-4 0-1-1-55 0-1-1-4 0-1-1-5-1-13-6-3 0-5-2-5 0-1-1-15 1-10 4-4 4-5 10-5 5-21 11-2 0-9 5-2 0-7 4-2 0-5 3-2 0-5 3-2 0-6 3-11 8 0 1-2 1-2 3-10 9ZM722 528l1-1 1 1-1 1Z" fill="#00dfff" stroke-width="2.20"/>
<path d="M522 306l-9-1-1-1-12 1-1 1-3 0-1 1-3 0-1 1-5 1-3 2-2 0-3 2-2 0-3 2-2 0-3 2-2 0-7 3-3 0-5 2-4 0-1 1-8 0-1 1-13 0-1-1-9 0-1-1-7 0-1-1-24 0-1 1-4 0-1 1-3 0-6 3-2 0-5 3-2 0-6 4-9 4-2 2-10 5-18 13-4 4-10 7-7 8-3 7 0 14-1 1-1 10-6 11-2 1-6 8-2 1-5 6-1 0 0 1-6 6-4 6-3 6 0 2-3 5 0 2-2 3-1 5-3 5 0 2-2 4 0 4-1 1 0 6 1 1 0 4 3 5 0 2 4 7 0 2 2 4 0 3-3 7-12 8-2 0-5 3-2 0-3 2-2 0-3 2-2 0-13 6-8 7-2 5 0 3 6 6 15 8 4 3 4 5 0 5-2 4-14 13-3 6 0 7 1 1 0 3 6 12 2 2 5 10 2 2 1 3 2 2 2 5 2 2 5 9 11 11 28 17 15 16 4 6 5 12 0 25 3 6 7 6 8 3 26 3 1 1 8 2 24 16 5 2 2 2 2 0 3 2 2 0 4 2 10 1 1 1 19 0 1-1 12 0 1-1 10 0 1-1 29-1 1 1 12 0 1 1 6 0 1 1 5 0 1 1 5 0 1 1 7 0 1 1 1-1 1 1 15 0 1-1 6 0 16-6 21-15 9-5 2 0 8-4 3 0 7-3 3 0 1-1 3 0 1-1 3 0 1-1 3 0 5-2 4 0 1-1 4 0 5-2 4 0 8-3 3-3-1-4-9-9-6-8-3-6 0-8 2-3 0-2 10-13 5-9 0-2 2-3 0-3 2-4 1-7 4-9 8-9 1 0 16-13 5-9 1-12 1-1 0-2 2-2-1-1 8-8 6-3 1-2 1 1 1-2 1 1 1-2 1 1 1-2 1 1 1-2 17-7 0-1 3-2 8-9 0-2 2-4-1-2 0-4-4-8-8-8-5-1-4-2-4 0-1-1-6 0-1-1-6 0-1-1-5 0-1-1-8-1-9-4-3-3 1-4 7-6 2 0 3-3 2 0 8-7 3-6 0-5-1-1-1-5-9-10-12-6-4 0-1-1-4 0-1-1-48 1-1-1-12-1-1-1-7-1-11-5-8-8-1-5-1-1 1-2 0-4 4-7 8-10 3-6 0-10-1-1-2-8-12-17-2-1-1-2-10-9 0-1-1 1-1-2-5-2-2-4-1 1-1-1-1-5-1-1 0-3-1-1 1-2-3-6-1-6-2-3 0-2-6-13-4-14-4-8-5-5Z" fill="#00bfff" stroke-width="2.20"/>
<path d="M508 327l-4 0-1-1-11 0-1 1-12 1-1 1-7 1-4 2-7 1-4 2-3 0-4 2-3 0-1 1-3 0-1 1-3 0-5 2-5 0-1 1-19 0-1-1-4 0-1-1-4 0-1-1-5 0-1-1-12 0-1 1-4 0-3 2-2 0-4 2-7 5-10 5-2 0-5 3-2 0-13 6-10 7-8 8-4 7 0 3-1 1 0 7-1 1 0 7-4 9-6 8-2 1 0 1-16 16 0 1-2 1-5 9-2 2 0 2-1 1 0 3-2 5-1 10-1 1 0 4-1 1 1 1-1 1 0 14 10 22 0 11-1 1 0 2-11 10-6 4-9 4-10 7-2 4 1 4 13 13 3 6 0 8-3 6-21 20-2 4 0 11 7 14 6 8 13 12 6 3 2 2 14 6 10 7 7 9 5 10 11 16 6 6 0 1 9 8 12 6 8 1 1 1 9 0 1 1 10 0 1 1 5 0 1 1 3 0 1 1 5 1 3 2 3 4 0 5-5 11 0 8 3 6 9 8 8 4 6 1 1 1 4 0 1 1 30 0 1-1 10 0 1-1 8 0 1-1 8 0 1-1 10 0 1-1 22 0 1 1 17 0 1 1 1-1 6 0 1-1 6-1 8-4 7-5 8-4 2 0 5-3 6-1 4-2 3 0 3-2 7-1 24-9 3-2 4-5 0-7-6-15 1-7 2-3 19-19 5-10 0-3 1-1 0-25 4-8 12-9 4-4 2-4 1-5-1-1 0-5-1-1 0-4 1-1-1-2 3-4 1 1 8-6 6-1 11-5 1 1 3-2 5-1 3-2 5-1 10-5 2 0 2-1 1-2 1 1 1-2 7-3-1-1 3-2 0-3 1-1-1-1 0-4-1-2-3-3-8-4-10-2-1-1-5 0-1-1-4 0-1-1-6 0-1-1-14-2-1-1-8-2-10-5-9-9-2-7 3-4 2 0 2-2 13-1 1-1 5 0 1-1 4 0 1-1 5-1 2-2 2 0 6-6 1-5-1-1-1-5-7-6-4-1-3-2-4 0-1-1-11 0-1 1-11 1-4 2-8 1-1 1-14 0-1-1-5 0-1-1-1 1-1-1-8-1-1-1-3 0-1-1-3 0-1-1-5-1-12-6-9-8-6-10-1-7 1-1 1-6 10-13 4-8 0-8-1-1 0-2-5-7-7-5-2 0-3-2-2 0-4-2-3 0-1-1-3 0-5-2-4 0-1-1-4 0-1-1-4 0-1-1-8-2-9-5-4-4-2-3 0-6 4-6 2-1 0-1 2-1 10-11 2-4 0-9-3-6 0-2-8-9ZM663 615l1-1 1 1-1 1Z" fill="#009fff" stroke-width="2.20"/>
<path d="M684 507l-6-5-1 1-4-2-2 1-6 0-3 2-2 0 0 1-3 2 0 5 4 2 1 2 11 1 1-1 6-1 4-4 0-2-1-1ZM331 378l-4 4-3 6 0 11-1 1 1 1-1 1 0 4-4 7-9 8-4 2-8 7-1 0-8 8 0 1-2 1-4 8-2 2 0 3-1 1 0 3 1 1 0 7 2 3 1 5 2 3 0 2 2 4 0 42-1 1 0 4-3 6-20 20-2 3 0 2-1 1 0 5 1 1 0 3 4 11 0 9-1 1 0 2-2 4-11 11-6 4-6 6-4 8 0 5 1 1 1 5 4 6 9 8 12 6 2 0 7 3 7 1 4 2 3 0 6 3 2 0 4 2 7 7 2 4 0 14 1 1 0 5 1 1 0 2 5 9 10 9 8 4 2 0 4 2 3 0 1 1 4 0 1 1 7 0 1 1 9 0 1 1 9 0 1 1 12 1 1 1 10 2 12 6 6 6 1 2 0 4-2 4-12 11-2 4 0 6 4 5 10 4 15 1 1-1 9 0 1-1 4 0 1-1 3 0 6-3 2 0 3-2 4-5 0-2 1-1-1-12 2-4 6-6 18-11 26-20 4-1 5-3 3 0 1-1 7-1 1-1 12-1 1-1 35 0 1-1 6 0 1-1 4 0 1-1 5-1 8-4 6-5 3-5 0-9-4-6-1 0-8-7-3-1-11-10-2-3-1-7 1-1 1-5 13-19 1-4 3-5 0-2 5-7 8-6 2 0 5-3 1 1 3-2 5 0 4-2 1 1 2 0 1-1 12 0 1-1 1 1 7 0 1-1 2 1 6 0 1-1 5 1 1-1 8-1 7-3 2 1 1-2 2 1-1-1 1-1 5-2 2-2-1-1 1-1 0-2-1 0-1-2-3-2-2 0-3-2-7-1-1-1-4 0-5-2-4 0-1-1-11-2-19-8-9-6-12-11-1 0-11-12 0-1-7-6 0-1-1 1-2-3-1 1-2-3-3-1-7-5-7-3-3-3-4-2-1-2-7-5-7-7-9-12-4-8-1-6-1-1 0-4 1-1 1-6 2-4 3-3 5-11-1-5-5-5-15-6-3 0-1-1-15-3-1-1-8-2-5-3-2 0-18-11-17-14-6-3-11 0-1 1-14 1-1 1-10 0-1 1-19 0-1-1-7 0-1-1-3 0-1-1-3 0-5-2-4 0-1-1-4 0-1-1-6 0-1-1-1 1-1-1-6 0-1-1-18 0ZM708 583l1-1 1 1-1 1ZM496 349l-2-2-6-1-1-1-5 0-1 1-7 1-6 3-3 3-1 2 0 6 1 2 4 3 8 0 1-1 8-2 2-2 2 0 3-2 4-5Z" fill="#0080ff" stroke-width="2.20"/>
<path d="M388 401l-1 1-3 0-20 11-7 2-23 13-10 3-5 3-2 0-4 2-9 8-2 4 0 6 1 1 1 6 5 7 5 10 0 5 1 1-1 1 1 1-1 1 0 5-2 3 0 2-2 3 0 2-4 10 0 4-1 1 0 4-1 1 0 4-1 1-1 6-4 7-12 13-5 10 0 7 1 1 0 5 1 1 0 4 1 1 0 12-1 1 0 2-3 5-5 5-1 0-17 14-3 5 0 7 4 6 4 3 8 4 2 0 4 2 3 0 1 1 4 0 5 2 4 0 1 1 11 2 6 3 2 0 10 6 6 6 4 8 0 6-1 1 0 3-1 1-1 7-1 1 1 6 2 4 4 4 8 4 6 1 1 1 4 0 1 1 50 2 1 1 11 1 4 2 7 1 1 1 2 0 4 2 4 0 1 1 7 0 1 1 1-1 7 0 1-1 3 0 12-6 5-4 13-7 2 0 3-2 2 0 4-2 3 0 1-1 10-2 1-1 9-1 5-2 5 0 1-1 4 0 1-1 4 0 1-1 4 0 1-1 14-2 11-4 4-4 0-3-2-5-8-11-3-6 0-3-1-1 0-8 4-9 12-17 1-4 2-3 1-5 2-3 0-2 4-6 9-7 2 0 2-2 2 0 3-2 1 1 5-3 1 1 3-2 6-1 6-3 2 1 6-3 3-3-1-5-8-7-27-18-6-3-2 0-2-2-2 0-3-2-6-1-1-1-14-4-3-2-7-2-1-2-2 0-7-9 0-2-1-1 0-5-1-1 0-4-1-1 0-3-1-1 0-3-2-3 0-2-4-8-11-16-4-8 0-2-2-4-1-15-2-4-3-3-6-4-18-9-15-10-16-8-6-1-1-1-4 0-1-1-9 0-1-1-10 0-1 1-16 0-1 1-10 0-1 1Z" fill="#0060ff" stroke-width="2.20"/>
<path d="M336 447l-7 8 0 6 1 1 0 3 1 1 0 3 1 1 1 7 1 1 0 13-4 8 0 2-6 11 0 2-3 7-1 8-1 1 0 3-1 1-1 5-11 14-5 10 0 9 1 1 1 7 5 13 0 12-3 5-5 5-9 6-5 5 1 5 5 3 25 7 19 10 27 19 12 6 7 1 1 1 25 0 1-1 11 0 1-1 13 0 1 1 7 0 1 1 10 2 3 2 2 0 13 6 3 0 1 1 3 0 5 2 24 0 1-1 7 0 1-1 4 0 1-1 4 0 4-2 3 0 10-5 5-6 0-13-1-1 0-5-1-1 1-9 3-7 9-12 5-10 1-9-1-1 0-4-3-7 0-4 2-3 4-3 2 0 4-2 3 0 1-1 3 0 1-1 8-1 3-2 2 1 3-2 3 0 3-2 2 0 5-4 0-4-6-6-5-2-2-2-2 0-3-2-2 0-4-2-3 0-4-2-3 0-1-1-15-3-4-2-3 0-13-6-7-5-6-7-2-4 0-2-2-3 1-27-4-9-6-8-28-28-10-16-10-10-9-5-2 0-4-2-5 0-1-1-17 0-1 1-6 0-1 1-4 0-1 1-11 2-1 1-8 2-17 9-2 0-3 2-2 0-4 2-3 0-3 2-7 2-2 2Z" fill="#0040ff" stroke-width="2.20"/>
<path d="M370 453l-5 4-3 6-1 9-1 1 0 4-1 1-1 5-6 11 0 2-3 5 0 2-6 11 0 2-2 4 0 3-1 1-1 15-1 1-1 6-6 7-4 7 0 10 1 1 1 5 19 31 0 2 2 3 0 3 1 1 2 14 3 6 7 8 6 4 8 4 2 0 7 3 3 0 1 1 5 0 1 1 18 0 1-1 7 0 1-1 5 0 1-1 5 0 1-1 5 0 1-1 7 0 1-1 22 0 1 1 5 0 4 2 3 0 14 7 5-2 0-3 3-6 0-2 10-11 0-1 3-2 0-1 7-8 2-4 0-7-1-2-9-9-6-4-9-9-3-5 0-5 1-2 4-3 18-7 1-4-5-8-17-17-11-15-6-15-1-10-1-1 0-5-3-6 0-2-2-3-15-15-11-15-8-8-11-5-4 0-1-1-16 0-1 1-11 1-1 1-3 0-1 1-5 1Z" fill="#0020ff" stroke-width="2.20"/>
<path d="M375 510l-4 4-2 5 0 11 1 1 0 4 2 5 1 10-3 6-2 1-2 3-1 5 1 1 0 6 1 1 0 3 1 1 0 3 2 3 0 2 10 20 5 7 12 12 6 3 6 1 1 1 10 0 1-1 7 0 1-1 6 0 1-1 4 0 1-1 5 0 1-1 4 0 1-1 11-2 9-4 6-7 0-6-7-15-3-4 0-2-2-4 0-4 1-2 4-3 6-2 3-3 0-2-2-4-5-5-4-2-11-10-5-11 0-2-4-7-5-5-16-9-8-1-1-1-4 0-1-1-4 0-1-1-4 0-1-1-18 2Z" fill="#0000ff" stroke-width="2.20"/>
</g>
<g transform="translate(480.3 41.0) scale(0.25)" stroke="#000" fill-rule="evenodd">
<path d="M67 663l0 2-3 7 0 3-2 5 0 4-1 1 0 5-1 1 0 20 1 1-1 1 1 1 0 3 1 1-1 1 1 1 1 6 2 3 1 5 13 20 10 11 4 6 1 0 4 4 0 1 15 16 1 0 20 19 5 3 5 5 3 1 6 6 2 0 7 6 2 0 8 6 5 2 7 5 2 0 6 3 2 2 21 10 4 3 2 0 7 4 4 1 2 2 2 0 12 6 2 0 2 2 5 1 5 3 8 2 8 4 3 0 1 1 2 0 7 3 3 0 4 2 3 0 4 2 4 0 1 1 3 0 5 2 10 1 1 1 13 1 1 1 8 0 1 1 9 0 1 1 29 1 1 1 49 0 1-1 1 1 1-1 17 0 1-1 1 1 2-1 2 1 1-1 16 0 1-1 16 0 1-1 18 0 1-1 4 0 1-1 8 0 1-1 1 1 2 0 1-1 6 0 1-1 5 0 1-1 2 1 1-1 4 0 1-1 7 0 1-1 12-1 5-2 1 1 1-1 3 0 5-2 1 1 1-1 2 0 2-2 1 1 3-2 1 1 2-2 5-1 4-3 2 0 2-2 5-2 16-15 3-4 6-12 0-2 3-7 0-4 1-1 0-5 1-1 0-5 1-1 0-6 1-1 0-6 1-1 0-6 1-1 0-7 1-1 1-11 1-1 1-5 2-3 0-2 3-4 0-2 7-8 0-1 4-3 0-1 3-2 2-3 3-1 1-2 3-1 7-6 2 0-1-1 1-1 5-1 0-1 4-3 4-1 1-2 2 0-1-1 1-1 2 0 2-2 3-1 1-2 2 0 0-1 2-1 0-1 2-1 0-1 2-1 2-3 1 0 1-3 2-1 2-3 0-3 3-6-1-1 1-1 0-9-1-1-1-6-2-2-1-4-8-11-1 0-4-4 0-1-6-4-1-2-20-14-3-1-11-8-2 0-2-3-2 0-10-8-3-1-10-9-3-1-4-4-4-2-10-8-3-1-9-7-5-2-3-3-5-2-3-3-3-1-42-28-3-1-53-36-15-12-8-5-5-5-9-6-6-6-7-5-9-9-7-5-5-6-5-3-4-5-14-10-2 0-6-5-2 0-4-3-7-2-2-2-2 0-13-5-3 0-1-1-14-1-1-1-1 1-1-1-2 1-2-1-1 1-12 1-1 1-17 5-20 10-7 6-15 10-5 5-1 0-10 9-4 2-4 4-6 3-3 3-24 16-24 21-1 0-11 10-12 9-17 16 0 1-9 9 0 1-6 6-6 8-25 27-21 30-3 7-6 9Z" fill="#cc1900" stroke-width="2.00"/>
<path d="M73 659l0 2-2 3 0 2-4 10 0 3-1 1-1 10-1 1 0 10-1 1 1 2-1 1 1 2 0 8 2 5-1 1 1 1 2 8 2 2 0 2 2 2 0 2 3 5 3 3 2 4 9 12 8 8 0 1 29 30 1 0 6 6 6 4 10 9 3 1 5 5 5 2 6 5 5 2 8 6 4 1 9 6 28 14 2 0 4 3 2 0 11 6 2 0 5 3 2 0 2 2 5 1 5 3 16 5 3 2 2 0 7 3 3 0 4 2 7 1 4 2 4 0 1 1 4 0 1 1 9 1 1 1 4 0 1 1 7 0 1 1 7 0 1 1 9 0 1 1 11 0 1 1 14 0 1 1 62 0 1-1 19 0 1-1 1 1 1-1 39-1 1-1 7 0 1-1 10 0 1-1 7 0 1-1 6 0 1-1 2 1 1-1 5 0 1-1 7 0 1-1 4 0 1-1 2 1 1-1 3 0 1-1 1 1 5-2 2 1 4-2 9-1 4-2 3 0 2-2 10-3 2-2 5-2 8-7 1 0 7-7 0-1 2-1 9-16 0-2 2-4 0-3 1-1 1-9 1-1 0-5 1-1 0-6 1-1 0-6 1-1 0-6 1-1 0-7 1-1 1-10 1-1 0-3 1-1 1-5 3-4 0-2 7-10 6-4 0-1 3-2 2-3 3-1 0-1 4-2 1-2 4-1-1-1 1-1 4-1 1-2 2 0 2-2 3-1 0-1 1-1 2 0 1-2 4-1 0-1 1-1 2 0 3-4 6-3-1-1 7-6 2-5 3-4-1-1 2-2 0-4 1-1-1-1 1-1-1-1 1-1-1-2 0-4-6-14-3-4-4-3-5-6-2-1-1-2-6-4-1-2-2 0-2-3-9-5-2-2-2 0-1-2-2 0-12-8-3-3-2 0-35-27-3-1-4-4-3-1-4-4-5-2-3-3-5-2-6-5-3-1-48-32-3-1-27-18-3-3-7-4-21-16-3-1-18-15-4-2-6-6-4-2-7-7-8-6-6-6 0-1-6-4-9-9-10-7-3-1-5-4-4-1-3-3-7-2-2-2-2 0-6-3-6-1-4-2-6 0-1-1-6 0-1-1-1 1-1-1-2 1-2-1-1 1-8 0-1 1-8 1-1 1-5 1-3 2-5 1-3 2-2 0-15 8-3 3-10 6-29 24-4 2-3 3-16 10-3 3-12 8-25 22-1 0-22 19-1 0-19 19-6 8-40 45-2 4-7 9-7 13-2 2Z" fill="#cc3300" stroke-width="2.00"/>
<path d="M77 660l0 2-2 3 0 2-5 13 0 4-1 1 0 4-1 1 0 6-1 1 1 2-1 2 1 16 3 8-1 1 2 2 1 5 2 2 1 4 3 3 4 8 3 4 3 2 7 10 6 5 5 7 5 5 1 0 14 15 1 0 12 12 3 1 7 7 6 3 8 7 2 0 9 7 4 1 8 6 19 9 2 2 6 3 2 0 6 3 2 2 2 0 5 3 2 0 2 2 4 1 2 2 2 0 5 3 2 0 5 3 2 0 5 3 10 3 3 2 2 0 19 7 3 0 1 1 3 0 1 1 3 0 1 1 3 0 5 2 9 1 1 1 12 1 1 1 7 0 1 1 8 0 1 1 24 1 1 1 20 0 1 1 26 0 1-1 1 1 1-1 20 0 1-1 1 1 1-1 17 0 1-1 1 1 2-1 2 0 1 1 1-1 17 0 1-1 11 0 1-1 14 0 1-1 8 0 1-1 7 0 1-1 5 0 1-1 5 0 1-1 2 1 1-1 4 0 1-1 2 1 1-1 4 0 1-1 12-1 1-1 3 0 8-3 1 1 9-4 3 0 2-2 2 0 2-2 4-1 12-9 5-5 6-8 5-9 0-2 3-7 0-3 1-1 1-9 1-1 0-5 1-1 0-6 1-1 0-5 1-1 0-7 1-1 1-13 1-1 1-7 2-3 0-3 2-2 1-4 4-4 4-6 3-2 3-4 3-1 2-3 4-3 3-1 1-2 2 0 2-1 1-2 2 0 1-2 4-1 1-2 3-1 2-2 2 0 3-4 4-1 0-1 2-1 3-4 3-1 0-1 2-1 1-3 3-2-1-1 2-1-1-1 4-6 0-4 1-1 0-9-4-11-11-15-7-5-3-4-4-2-3-3-15-10-4-1-2-3-2 0-9-7-2 0-8-7-8-5-5-5-4-2-5-5-6-3-4-4-3-1-3-3-12-8-3-1-6-5-8-4-9-7-3-1-8-6-3-1-66-44-24-18-9-8-3-1-5-5-1 0-10-9-6-4-12-12-6-4-7-7-7-5-3-1-7-6-2 0-4-3-6-3-2 0-2-2-2 0-13-5-8-1-1-1-21 0-1 1-5 0-1 1-3 0-1 1-11 3-5 3-2 0-8 4-2 2-5 2-3 3-6 3-16 14-9 6-5 5-4 2-10 8-3 1-3 3-3 1-3 3-4 2-12 9-6 6-1 0-19 17-1 0-5 5-12 9-9 9-1 0-21 23 0 1-13 14 0 1-9 9 0 1-11 12-9 12-1 3-3 3Z" fill="#cc4c00" stroke-width="2.00"/>
<path d="M78 669l0 2-4 10-1 9-1 1 0 7-1 1 0 11 1 1-1 1 1 1 0 4 1 1-1 1 2 4 0 3 1 1 0 2 2 2 0 2 3 6 12 18 5 4 8 11 7 6 0 1 11 12 1 0 14 14 11 8 6 6 3 1 10 8 5 2 8 6 9 4 2 2 9 4 2 2 4 1 6 3 2 2 6 3 2 0 4 3 4 1 2 2 2 0 7 4 2 0 2 2 2 0 14 7 2 0 3 2 13 4 3 2 6 1 10 4 3 0 1 1 3 0 1 1 3 0 5 2 14 2 1 1 14 1 1 1 7 0 1 1 10 0 1 1 30 1 1 1 39 0 1-1 21 0 1-1 1 1 1-1 18 0 1-1 2 0 1 1 1-1 13 0 1-1 2 1 2 0 1-1 13 0 1-1 6 0 1-1 9 0 1-1 7 0 1-1 5 0 1-1 1 1 2 0 1-1 4 0 1-1 7 0 1-1 4 0 1-1 1 1 1-1 4 0 1-1 5 0 1-1 7-1 4-2 3 0 4-2 3 0 2-2 2 0 8-4 3-3 3-1 9-8 8-11 6-13 0-3 2-5 0-4 1-1 0-4 1-1 0-5 1-1 0-6 1-1 0-6 1-1 0-6 1-1 1-12 1-1 0-4 1-1 1-5 3-5 0-2 8-11 6-4 0-1 3-2 2-3 3-1 1-2 4-1-1-1 1-1 4-1 1-2 4-1 1-2 4-1 0-1 1-1 2 0 1-2 2 0 3-3 2 0-1-1 1-1 2 0 1-2 3-1 0-1 2-1 0-1 2-1 2-3 1 0-1-1 2-1 2-3 4-10 0-12-1-1 0-3-2-5-8-12-2-1-5-6-6-4-2-3-2 0-2-3-1 1-2-3-2 0-1-2-2 0-1-2-2 0-14-10-2 0-7-6-2 0-9-8-3-1-6-6-4-2-5-5-7-4-4-4-6-3-4-4-3-1-11-8-3-1-9-7-3-1-25-17-3-1-11-8-3-1-21-14-3-3-10-6-3-3-4-2-3-3-4-2-12-9-13-11-3-1-10-9-4-2-16-15-1 0-11-10-1 0-16-13-6-3-2-2-4-1-2-2-6-3-2 0-5-3-2 0-4-2-8-1-1-1-5 0-1-1-15 0-1 1-10 1-4 2-6 1-8 4-2 0-15 8-3 3-7 4-11 10-15 11-4 4-4 2-3 3-16 10-3 3-12 8-20 18-1 0-11 10-12 9-19 18 0 1-8 8-6 8-28 31 0 1-11 13-1 3-3 3-3 6-2 2-2 5-2 2-12 24 0 2Z" fill="#cc6600" stroke-width="2.00"/>
<path d="M81 673l0 2-2 4 0 3-1 1 0 3-1 1 0 4-1 1 0 7-1 1 0 12 1 1-1 1 1 1 1 7 2 4-1 1 2 2 0 2 1 1 0 2 2 2 0 2 5 6 0 2 8 11 9 9 5 7 31 31 6 4 11 10 3 1 7 6 8 4 11 8 17 8 2 2 10 5 2 0 2 2 4 2 2 0 2 2 4 1 2 2 4 1 2 2 2 0 18 9 2 0 13 6 5 1 3 2 6 1 3 2 3 0 4 2 7 1 4 2 4 0 1 1 9 1 1 1 4 0 1 1 12 1 1 1 8 0 1 1 9 0 1 1 27 1 1 1 47 0 1-1 20 0 1-1 1 1 1-1 19 0 1-1 18 0 1-1 11 0 1-1 13 0 1-1 8 0 1-1 13-1 1-1 5 0 1-1 6 0 1-1 4 0 1-1 2 1 1-1 3 0 5-2 1 1 1-1 11-2 4-2 3 0 2-2 2 0 8-4 9-6 9-9 5-7 5-10 0-2 3-7 0-4 1-1 0-4 1-1 0-4 1-1 0-5 1-1 0-6 1-1 0-5 1-1 0-7 1-1 1-12 2-4 0-3 4-7 0-2 4-4-1-1 4-4 1 0 7-8 3-1 0-1 2-2 3-1 1-2 4-1 1-2 4-1-1-1 1-1 4-1 3-2 1-2 5-1-1-1 1-1 2 0 1-2 4-1 0-1 2-1 0-1 2-1 4-5 1 0 3-6 2-2 3-8 0-13-4-10-9-12-3-2-4-4 0-1-21-15-2 0-1-2-2 0-9-7-2 0-7-6-3-1-9-8-4-2-9-8-8-5-4-4-7-4-3-3-9-6-3-1-12-9-3-1-17-12-3-1-14-10-3-1-39-26-7-6-15-10-21-17-4-2-10-9-4-2-26-23-1 0-8-7-9-5-3-3-2 0-2-2-4-1-6-4-2 0-11-5-1 1-8-3-1 1-1-1-9 0-1-1-1 1-10 0-1 1-4 0-1 1-7 1-1 1-5 1-3 2-2 0-19 10-16 12-7 7-10 7-4 4-34 23-23 20-1 0-6 6-1 0-5 5-1 0-17 15-1 0-15 15 0 1-7 7 0 1-11 12 0 1-22 24-3 5-7 8-6 9-8 16-2 2 0 2-2 2 0 2-7 13 0 2Z" fill="#cc7f00" stroke-width="2.00"/>
<path d="M85 675l0 2-2 4 0 3-1 1 0 3-1 1 0 4-1 1-1 19 1 1 1 9 3 6 1 5 3 4 0 2 5 6 0 2 7 8 0 1 9 9 0 1 14 15 0 1 35 32 6 3 11 9 7 3 5 4 10 5 2 2 34 17 2 0 2 2 2 0 2 2 2 0 6 4 2 0 7 4 2 0 3 2 2 0 5 3 5 1 8 4 3 0 3 2 6 1 7 3 3 0 5 2 4 0 5 2 4 0 1 1 4 0 1 1 12 1 1 1 8 0 1 1 9 0 1 1 10 0 1 1 14 0 1 1 53 0 1-1 42-1 1-1 18 0 1-1 21-1 1-1 16-1 1-1 5 0 1-1 5 0 1-1 2 1 1-1 4 0 1-1 4 0 1-1 1 1 1-1 3 0 5-2 2 1 2-2 2 1 4-2 3 0 3-2 5-1 4-3 3 0 16-12 0-1 8-9 6-12 0-2 2-4 0-3 1-1 1-9 1-1 0-5 1-1 0-5 1-1 0-5 1-1 0-6 1-1 1-14 1-1 1-7 4-7 1-4 8-9 0-1 4-3 2-3 3-1 2-3 3-1 3-3 4-1 1-2 3-1 5-4 4-1 1-2 6-3 1-2 5-3 0-1 5-4 2-4 2-1-1-1 2-1 0-2 3-6 0-14-1-1-1-5-8-12-6-6 0-1-6-5-12-8-3-3-9-6-2 0-10-8-9-5-5-5-4-2-6-6-8-5-4-4-15-10-3-3-9-6-3-1-27-19-3-1-8-6-11-6-50-34-4-4-17-12-8-7-3-1-4-4-1 0-4-4-16-12-19-17-6-3-7-6-5-2-7-5-2 0-12-6-2 0-7-3-5 0-1-1-5 0-1-1-11 0-1 1-7 0-1 1-7 1-1 1-11 3-16 8-9 6-5 5-11 8-7 7-4 2-4 4-4 2-3 3-3 1-3 3-21 14-16 14-1 0-7 7-1 0-5 5-1 0-5 5-1 0-17 15-1 0-14 14 0 1-7 7 0 1-6 6-6 8-21 23-3 5-7 8-1 3-4 5-5 10-2 2-9 18 0 2-3 5 0 2Z" fill="#ffbf00" stroke-width="2.00"/>
<path d="M90 674l0 2-3 7-2 11-1 1 0 7-1 1 1 1 0 2-1 1 1 2-1 1 1 2 0 6 1 1 2 10 2 2-1 1 2 2 0 2 2 2 2 5 7 8 2 4 10 11 0 1 20 21 0 1 18 17 4 3 3 1 5 5 12 9 10 5 12 8 53 27 2 0 9 5 7 2 5 3 2 0 8 4 3 0 3 2 3 0 7 3 3 0 4 2 3 0 5 2 4 0 5 2 5 0 1 1 5 0 1 1 6 0 1 1 7 0 1 1 19 1 1 1 14 0 1 1 55 0 1-1 1 1 1-1 18 0 1-1 1 1 1-1 20 0 1-1 19 0 1-1 11 0 1-1 5 0 1-1 17-1 1-1 11-1 1-1 4 0 1-1 2 1 1-1 4 0 5-2 2 1 1-1 11-2 4-2 3 0 13-6 10-7 6-6 7-10 4-8 0-2 2-4 0-3 1-1 0-3 1-1 1-9 1-1 0-5 1-1 0-5 1-1 0-5 1-1 0-7 1-1 0-6 1-1 1-9 2-3 2-7 5-7 5-5 0-1 8-7 3-1 0-1 4-2 1-2 4-1 1-2 4-1 1-2 4-1 1-2 4-1 3-4 4-1 3-4 3-1-1-1 2-1 5-6 4-10 0-14-3-6 0-2-6-9-10-10-1 0-3-4-11-8-2 0-13-10-2 0-7-6-3-1-3-3-4-2-5-5-9-6-10-9-7-4-14-11-9-5-41-28-8-4-36-24-7-6-4-2-3-3-12-8-1-2-9-6-4-4-3-1-13-11-15-11-8-8-7-4-4-4-10-6-3-3-2 0-3-3-2 0-16-8-2 0-7-3-3 0-1-1-1 1-1-1-6 0-1-1-10 0-1 1-7 0-1 1-7 1-1 1-8 2-3 2-2 0-15 8-16 12-8 8-5 3-5 5-17 11-6 5-3 1-16 12-26 23-1 0-10 9-6 4-7 7-1 0-18 19-5 7-20 22 0 1-6 6 0 1-12 14-6 9-2 5-2 2Z" fill="#ffdf00" stroke-width="2.00"/>
<path d="M95 674l0 2-5 13 0 3-1 1 0 6-1 1 0 17 1 1 0 3 1 1 0 3 1 1 1 5 2 2 0 2 2 2 0 2 8 12 13 15 0 1 8 8 0 1 24 24 1 0 7 7 1 0 9 8 10 7 5 2 8 6 10 5 2 2 9 4 2 2 36 18 2 0 4 3 2 0 5 3 2 0 2 2 2 0 13 6 2 0 16 6 3 0 4 2 3 0 5 2 4 0 1 1 4 0 1 1 4 0 1 1 12 1 1 1 6 0 1 1 9 0 1 1 24 1 1 1 54 0 1-1 1 1 1-1 19 0 1-1 1 1 1-1 18 0 1-1 2 0 1 1 1-1 12 0 1-1 15 0 1-1 24-2 1-1 6 0 1-1 4 0 1-1 17-2 1-1 3 0 1-1 15-3 2-2 3 0 2-2 6-2 3-3 4-2 9-9 5-9 2-2 1-4 2-3 0-2 2-4 1-8 1-1 1-10 1-1 0-5 1-1 0-5 1-1 0-6 1-1 0-6 1-1 1-10 4-8 1-4 9-12 6-4 2-3 9-5 1-2 4-1-1-1 1-1 5-1 1-2 4-1 1-2 3-1 3-2 1-2 3-1 0-1 8-7 1-3 3-4 0-2 2-4 0-14-3-6 0-2-3-3-3-6-5-5-1 0-5-6-1 0-15-12-2 0-2-3-2 0-6-5-2 0-8-7-3-1-4-4-8-5-6-6-16-12-4-2-7-6-4-2-3-3-42-28-3-1-8-6-3-1-8-6-3-1-18-12-3-3-4-2-11-9-4-2-16-12-1-2-3-1-1-2-3-1-1-2-3-1-18-15-5-3-10-9-3-1-6-6-3-1-12-9-2 0-2-2-19-9-2 0-4-2-3 0-1-1-3 0-1-1-1 1-1-1-6 0-1-1-2 1-1-1-2 1-1-1-2 1-8 0-1 1-7 1-4 2-3 0-10 5-2 0-2 2-2 0-2 2-3 1-4 4-9 6-18 16-4 2-11 9-3 1-24 17-24 21-1 0-5 5-1 0-16 14-1 0-21 21 0 1-6 6-5 7-7 7 0 1-13 14 0 1-6 6 0 1-7 8-1 3-3 3-1 3-5 7Z" fill="#ffff00" stroke-width="2.00"/>
<path d="M98 679l0 2-3 7-1 8-1 1 0 8-1 1 0 2 1 1-1 2 1 1 0 7 1 1 1 7 1 1 0 2 2 2 1 5 3 3 0 2 6 7 0 2 14 16 0 1 10 10 0 1 24 23 1 0 5 5 1 0 16 13 9 6 3 1 2 2 3 1 2 2 11 5 5 4 4 1 4 3 4 1 2 2 4 1 2 2 14 7 2 0 4 3 2 0 11 6 2 0 5 3 5 1 5 3 3 0 3 2 3 0 3 2 3 0 11 4 4 0 1 1 8 1 1 1 4 0 1 1 12 1 1 1 6 0 1 1 8 0 1 1 24 1 1 1 54 0 1-1 1 1 1-1 18 0 1-1 1 1 1-1 17 0 1-1 1 1 2 0 1-1 30-1 1-1 16-1 5-2 7 0 1-1 5 0 1-1 2 1 1-1 14-2 5-2 2 1 10-4 3 0 3-2 4-1 2-2 4-1 6-4 9-9 5-7 6-13 0-3 1-1 0-3 2-5 0-4 1-1 1-10 1-1 1-12 1-1 0-6 1-1 0-6 1-1 0-3 5-13 4-6 6-6 0-1 6-4 2-3 3-1 3-3 4-1-1-1 5-2 1-2 5-1-1-1 1-1 5-1 0-1 5-4 2 0-1-1 1-1 2 0 1-2 5-4 4-6 3-8 0-13-4-10-7-10-11-10-1 0-3-4-2 0-7-6-6-3-6-5-2 0-8-7-3-1-4-4-9-6-18-15-12-9-7-4-3-3-9-6-3-1-3-3-10-6-6-5-3-1-11-8-11-6-27-18-17-13-4-2-1-2-4-2-20-15-22-18-4-2-5-5-4-2-5-5-3-1-9-7-16-8-2-2-2 0-2-2-8-2-3-2-4 0-1-1-8-1-1-1-18 0-1 1-4 0-1 1-7 1-1 1-8 2-5 3-2 0-2 2-8 4-4 4-4 2-8 8-6 4-5 5-4 2-11 9-6 3-3 3-17 11-24 21-1 0-5 5-1 0-15 13-1 0-6 6-1 0-13 13 0 1-13 14 0 1-5 5-5 7-20 22-15 23-9 18 0 2-3 5 0 2Z" fill="#dfff00" stroke-width="2.00"/>
<path d="M105 674l-2 8-3 6 0 4-1 1-1 9-1 1 0 13 1 1 0 4 1 1 0 3 3 6 0 2 2 2 0 2 2 2 0 2 4 5 1 3 9 10 0 1 7 7 0 1 7 7 0 1 21 21 1 0 6 7 1 0 4 4 12 9 17 11 5 2 2 2 24 12 2 2 2 0 4 3 2 0 2 2 6 3 2 0 2 2 4 1 4 3 2 0 18 9 5 1 3 2 2 0 10 4 3 0 4 2 3 0 4 2 4 0 1 1 3 0 5 2 5 0 1 1 5 0 1 1 5 0 1 1 7 0 1 1 19 1 1 1 13 0 1 1 51 0 1-1 18 0 1-1 1 1 1-1 21 0 1-1 2 1 1-1 29-1 1-1 7 0 1-1 5 0 1-1 8 0 1-1 6 0 1-1 11-1 1-1 4 0 1-1 4 0 1-1 1 1 1-1 4 0 3-2 1 1 3-2 7-1 4-3 3 0 12-8 8-8 9-16 2-10 1-1 0-3 1-1 2-15 1-1 0-5 1-1 0-5 1-1 0-6 1-1 0-6 1-1 0-3 5-13 5-7 6-6 0-1 6-4 1-2 5-2 1-2 5-2 1-2 4-1 1-2 4-1 1-2 4-1 1-2 6-3 0-1 6-5 1-3 4-5 0-2 2-4 0-12-1-1-1-6-2-2 0-2-3-3-2-4-13-13-1 0-4-4-3-1-2-3-2 0-3-3-6-3-7-6-3-1-3-3-4-2-39-31-4-2-3-3-16-10-10-8-3-1-12-9-3-1-11-8-3-1-8-6-3-1-12-9-10-6-14-11-4-2-13-11-4-2-16-12-13-11-3-1-10-9-3-1-9-7-2 0-3-3-2 0-9-6-2 0-2-2-5-1-7-4-1 1-6-3-9-1-1-1-20 0-1 1-5 0-1 1-3 0-1 1-11 3-4 3-2 0-2 2-3 1-16 12-7 7-1 0-13 11-4 2-9 7-9 5-3 3-12 8-30 26-11 8-25 24 0 1-11 12 0 1-5 5-5 7-8 8 0 1-14 16-6 9-1 3-2 2-3 7-2 2-2 4 0 2Z" fill="#bfff00" stroke-width="2.00"/>
<path d="M109 677l0 2-4 10-1 8-1 1 0 4-1 1 0 12 1 1-1 1 1 1 0 4 1 1 0 3 2 3 1 5 2 2 0 2 2 2 1 3 3 3 0 2 10 11 7 10 22 23 1 0 17 16 17 12 11 6 3 3 11 5 2 2 7 3 2 2 19 9 2 2 2 0 15 8 2 0 11 6 5 1 5 3 2 0 10 4 3 0 7 3 4 0 4 2 4 0 1 1 9 1 1 1 4 0 1 1 14 1 1 1 8 0 1 1 10 0 1 1 14 0 1 1 44 0 1-1 21 0 1-1 18 0 1-1 1 1 2-1 2 1 1-1 30-1 1-1 8 0 1-1 6 0 1-1 4 0 1-1 7 0 1-1 12-1 1-1 4 0 1-1 4 0 1-1 2 1 3-2 3 0 1-1 7-1 3-2 3 0 4-3 2 0 4-2 8-6 3-4 1 0 6-8 4-8 0-2 2-3 2-11 1-1 0-5 1-1 1-10 1-1 0-4 1-1 0-6 1-1 0-6 1-1 1-8 2-4 0-3 3-6 6-7-1-1 4-3 5-6 3-1 2-3 5-2 3-3 4-1 1-2 4-1 1-2 4-1 0-1 4-2 1-2 2 0 4-5 3-1-1-1 3-2 4-6 0-2 2-4-1-1 1-1 0-9-4-11-7-10-18-16-33-22-15-13-12-9-4-2-4-4-8-5-7-6-3-1-10-8-6-3-3-3-27-18-3-1-27-18-10-8-4-2-4-4-8-5-1-2-4-2-15-12-4-2-12-9-9-8-2 0-8-7-3-1-3-3-2 0-5-4-20-10-2 0-6-3-3 0-4-2-8-1-1-1-22 0-1 1-4 0-1 1-3 0-1 1-8 2-15 8-27 23-3 1-7 6-15 10-3 1-3 3-12 8-29 25-1 0-16 14-1 0-19 19 0 1-11 12-4 6-7 7-5 7-8 8 0 1-10 12-6 11-2 2Z" fill="#9fff00" stroke-width="2.00"/>
<path d="M115 675l0 2-5 13-1 8-1 1 0 5-1 1 0 10 1 1 0 5 1 1-1 1 2 3 1 6 2 2 1 4 2 2 1 3 3 3 3 6 6 6 2 4 7 7 0 1 7 7 0 1 7 7 1 0 9 10 7 5 3 4 12 9 7 4 3 3 6 4 9 4 3 3 7 3 4 3 2 0 7 5 2 0 2 2 2 0 2 2 2 0 2 2 4 1 6 4 2 0 2 2 8 4 7 2 12 6 8 2 6 3 3 0 11 4 4 0 1 1 8 1 1 1 5 0 1 1 11 1 1 1 6 0 1 1 20 1 1 1 15 0 1 1 32 0 1-1 1 1 2 0 1-1 19 0 1-1 1 1 1-1 17 0 1-1 1 1 2-1 1 1 1-1 32-1 1-1 7 0 1-1 7 0 1-1 9 0 5-2 13-1 1-1 4 0 1-1 14-2 1-1 3 0 3-2 3 0 5-3 2 0 10-6 10-10 6-10 0-2 2-3 0-2 2-4 0-4 1-1 0-4 1-1 0-4 1-1 0-4 1-1 0-5 1-1 0-5 1-1 0-5 1-1 0-5 1-1 1-9 3-6 0-2 2-2 1-3 3-3 2-4 5-5 1 0 3-4 4-2 3-3 3-1 3-3 4-1 1-2 4-1 1-2 4-1 1-2 3-1 1-2 3-1 0-1 2-1 6-7 3-8 0-3 1-1-1-11-4-9-3-3-2-4-9-9-1 0-6-6-1 0-8-7-2 0-3-3-3-1-3-3-3-1-4-4-8-5-4-4-18-13-13-11-7-4-7-6-7-4-20-15-51-33-14-11-4-2-8-7-4-2-1-2-8-5-7-6-15-10-12-10-2 0-7-6-2 0-5-4-2 0-5-4-2 0-4-3-2 0-3-2-2 0-11-5-3 0-1-1-3 0-5-2-4 0-1-1-20 0-1 1-4 0-1 1-7 1-3 2-7 2-2 2-5 2-3 3-4 2-22 19-25 17-3 1-3 3-4 2-12 9-13 12-1 0-11 10-1 0-15 13-1 0-18 18 0 1-5 5 0 1-5 5 0 1-5 5-5 7-6 6 0 1-2 1 0 1-15 17-6 9-1 3-2 2Z" fill="#80ff00" stroke-width="2.00"/>
<path d="M120 676l0 2-4 10 0 3-2 4 0 4-1 1 0 21 1 1 0 3 2 3 0 3 2 2-1 1 2 2 2 5 3 3 0 2 4 4 1 3 5 5 4 6 10 10 0 1 9 9 0 1 5 5 1 0 5 6 6 4 7 7 11 7 4 4 10 5 3 3 7 3 2 2 5 2 7 5 2 0 2 2 2 0 2 2 2 0 2 2 28 14 2 0 7 4 2 0 8 4 2 0 13 5 3 0 4 2 3 0 5 2 4 0 1 1 4 0 1 1 4 0 1 1 12 1 1 1 7 0 1 1 8 0 1 1 11 0 1 1 36 1 1-1 23 0 1-1 2 1 1-1 20 0 1-1 1 1 1-1 1 1 1-1 16 0 1-1 17 0 1-1 17-1 1-1 6 0 1-1 5 0 1-1 6 0 1-1 17-2 8-3 7-1 3-2 5-1 6-3 2-2 3-1 5-5 1 0 2-3 1 0 9-15 0-2 2-4 0-3 1-1 0-3 1-1 0-5 1-1 0-4 1-1 0-5 1-1 0-5 1-1 2-17 1-1 0-3 1-1 1-5 4-8 7-8 0-1 6-6 1 0 2-3 6-3 1-2 5-2 1-2 4-1 1-2 4-1 1-2 4-1 1-2 3-1 0-1 6-5 2-4 3-3 0-2 2-4 0-12-3-8-10-14-11-10-3-1-4-4-7-4-3-3-3-1-3-3-6-3-4-4-9-6-5-5-8-5-5-5-8-5-8-7-7-4-4-4-3-1-4-4-4-2-10-8-66-44-12-10-4-2-4-4-15-10-3-3-4-2-18-14-5-2-5-4-2 0-5-4-2 0-5-3-2 0-4-3-2 0-16-6-8-1-1-1-5 0-1-1-16 0-1 1-9 1-1 1-8 2-8 4-5 4-3 1-22 19-24 16-3 1-18 13-24 21-1 0-15 13-1 0-19 18 0 1-6 6-9 12-29 33-10 15Z" fill="#60ff00" stroke-width="2.00"/>
<path d="M124 680l0 2-2 4 0 3-2 4-1 10-1 1 0 13 1 1 0 5 1 1 0 3 2 3 0 2 2 3 0 2 4 5 0 2 4 4 0 2 6 6 0 2 8 8 0 1 15 16 0 1 2 1 6 7 6 4 3 4 5 3 6 6 6 3 4 4 6 3 3 3 7 3 3 3 9 4 2 2 7 3 2 2 17 8 2 2 2 0 13 7 2 0 7 4 2 0 8 4 2 0 13 5 3 0 4 2 3 0 5 2 4 0 1 1 4 0 1 1 4 0 1 1 12 1 1 1 8 0 1 1 9 0 1 1 11 0 1 1 48 0 1-1 20 0 1-1 1 1 1-1 20 0 1-1 2 1 1-1 28-1 1-1 12-1 1-1 8 0 1-1 13-1 4-2 5 0 1-1 9-1 3-2 4 0 3-2 3 0 15-8 1-2 6-5 8-13 0-2 3-7 0-3 1-1 0-4 1-1 0-5 1-1 0-5 1-1 0-4 1-1 0-5 1-1 0-6 1-1 1-9 5-13 4-6 6-6 0-1 8-6 2-3 5-2 1-2 5-2 1-2 4-1 3-3 2 0 3-3 3-1 0-1 2-1 6-7 1 0-1-1 4-5 1-7 1-1-1-1 1-1 0-2-1-1 0-4-1-1-1-5-4-5-1-3-16-16-3-1-4-4-10-6-3-3-3-1-4-4-6-3-14-12-9-6-5-5-4-2-8-7-4-2-15-12-4-2-4-4-60-40-3-3-11-7-4-4-4-2-4-4-4-2-4-4-4-2-3-3-14-9-1-2-2 0-16-12-7-3-4-3-2 0-5-3-7-2-5-3-3 0-3-2-3 0-1-1-3 0-5-2-14-1-1-1-6 0-1 1-12 1-1 1-8 2-10 5-33 26-9 6-3 1-5 4-3 1-12 9-4 2-24 21-1 0-10 9-12 9-18 18 0 1-5 5 0 1-14 16 0 1-21 23-12 18Z" fill="#40ff00" stroke-width="2.00"/>
<path d="M130 679l0 2-2 4 0 3-2 4-1 10-1 1 0 16 1 1 1 8 3 5 1 4 2 2 0 2 4 5 1 3 5 5 0 2 6 6 0 1 6 6 6 8 4 3 16 17 1 0 6 6 4 2 5 5 3 1 4 4 3 1 5 4 3 1 15 10 2 0 2 2 9 4 4 3 2 0 2 2 9 4 4 3 2 0 11 6 2 0 5 3 2 0 8 4 2 0 13 5 3 0 4 2 8 1 5 2 10 1 1 1 6 0 1 1 6 0 1 1 7 0 1 1 10 0 1 1 15 0 1 1 29 0 1-1 20 0 1-1 2 1 1-1 17 0 1-1 1 1 1-1 1 1 1-1 18 0 1-1 2 1 1-1 22-1 1-1 12-1 1-1 7 0 5-2 6 0 4-2 10-1 4-2 10-2 13-7 8-7 5-7 4-8 0-2 2-4 0-3 1-1 1-9 1-1 0-5 1-1 0-5 1-1 0-6 1-1 1-11 1-1 0-3 1-1 1-5 5-10 11-13 8-5 1-2 7-3 1-2 3-1 3-3 4-1 1-2 3-1 1-2 3-1 0-1 3-2 3-4 1 0-1-1 4-5 1-7 1-1-1-9-5-11-16-17-4-2-4-4-6-4-3-1-4-4-6-3-4-4-4-2-12-9-6-6-4-2-5-5-4-2-4-4-9-6-8-7-8-5-12-10-57-38-7-6-4-2-11-9-4-2-4-4-10-6-14-11-2 0-1-2-2 0-13-9-2 0-7-4-2 0-5-3-5-1-3-2-7-1-8-3-10-1-1-1-17 0-1 1-5 0-1 1-3 0-1 1-5 1-10 5-6 5-3 1-19 16-12 8-3 1-5 4-3 1-21 15-18 16-1 0-11 10-12 9-19 19 0 1-19 22 0 1-16 17 0 1-8 9-5 9-2 2Z" fill="#20ff00" stroke-width="2.00"/>
<path d="M138 674l0 2-2 3 0 2-4 10-1 10-1 1 0 17 1 1 0 4 2 4 0 3 8 15 3 3 8 12 6 6 4 6 5 4 5 7 1 0 4 4 0 1 1 0 4 4 0 1 5 3 2 3 4 2 2 3 3 1 11 9 3 1 3 3 3 1 12 8 2 0 12 8 2 0 4 3 35 17 2 0 3 2 8 2 3 2 2 0 4 2 3 0 1 1 3 0 1 1 3 0 1 1 3 0 5 2 4 0 1 1 4 0 1 1 5 0 1 1 5 0 1 1 16 1 1 1 11 0 1 1 48 0 1-1 20 0 1-1 19 0 1-1 1 1 1-1 2 1 1-1 14 0 1-1 21-1 1-1 5 0 1-1 13-1 5-2 6 0 4-2 5 0 4-2 4 0 3-2 2 0 10-4 11-8 9-13 0-2 3-6 1-8 1-1 0-5 1-1 0-5 1-1 0-6 1-1 2-17 1-1 0-3 3-6 0-2 3-4 1-3 15-16 7-4 1-2 5-2 3-3 4-1 1-2 3-1 4-3 1-2 7-6 3-4 0-2 2-4 0-5 1-1-1-1 0-6-4-9-20-21-3-1-3-3-6-3-6-5-3-1-4-4-12-8-20-17-4-2-14-12-5-3-4-4-5-3-4-4-16-12-44-29-3-3-21-14-11-9-13-8-3-3-15-10-2 0-12-7-2 0-7-4-3 0-3-2-3 0-11-4-10-1-1-1-7 0-1-1-1 1-1-1-14 1-1 1-3 0-1 1-8 2-6 3-16 11-4 4-1 0-1 2-4 2-3 3-32 20-16 13-1 0-13 12-1 0-24 21-1 0-13 13 0 1-7 7 0 1-14 16 0 1-22 24-9 13Z" fill="#00ff00" stroke-width="2.00"/>
<path d="M142 679l0 2-4 10 0 4-1 1 0 4-1 1 0 17 1 1 0 5 3 6 0 3 3 4 1 4 6 8 1 3 12 14 4 6 2 1 6 8 1 0 3 4 8 7 1 2 7 5 2 3 3 1 9 8 3 1 3 3 16 9 5 4 2 0 7 5 2 0 4 3 37 18 2 0 11 5 3 0 6 3 3 0 1 1 3 0 1 1 3 0 5 2 4 0 1 1 4 0 1 1 4 0 1 1 5 0 1 1 14 1 1 1 10 0 1 1 35 1 1-1 25 0 1-1 38-1 1-1 2 1 1-1 11 0 1-1 2 1 1-1 17-1 1-1 10-1 1-1 5 0 1-1 7 0 4-2 6 0 7-3 6-1 5-3 2 0 8-4 4-4 1 0 3-4 1 0 3-4 5-10 1-6 1-1 0-4 1-1 0-6 1-1 1-13 1-1 0-5 1-1 0-6 1-1 2-10 3-4 2-5 2-3 12-12 4-2 2-3 3-1 3-2 1-2 5-2 3-3 4-1-1-1 1-1 5-2 0-1 3-2 6-8 3-8 0-8-1-1-1-6-6-8-1-3-3-3-1 0-14-13-3-1-4-4-5-2-7-6-15-10-16-14-20-15-6-6-5-3-6-6-16-12-51-34-14-11-6-3-1-2-3-1-6-5-9-6-3-1-1-2-6-3-10-7-4-2-2 0-9-5-8-2-3-2-3 0-4-2-4 0-4-2-11-1-1-1-17 0-1 1-8 1-1 1-5 1-3 2-2 0-2 2-9 5-12 9-1 2-21 14-8 4-3 3-6 3-12 10-1 0-20 18-1 0-18 16-1 0-18 18 0 1-6 6-9 12-2 1-6 8-16 17-9 13Z" fill="#00ff20" stroke-width="2.00"/>
<path d="M148 680l0 2-3 6 0 3-2 5 0 7-1 1 0 10 1 1-1 1 1 1 1 9 3 6 0 2 3 6 2 2 0 2 17 23 13 14 0 1 2 1 2 3 7 6 0 1 7 5 1 2 1 0 13 11 3 1 6 5 2 0 13 9 9 4 2 2 9 4 2 2 4 2 2 0 24 12 5 1 11 5 3 0 4 2 3 0 1 1 3 0 1 1 3 0 5 2 4 0 1 1 4 0 1 1 5 0 1 1 6 0 1 1 6 0 1 1 23 1 1 1 29 0 1-1 22 0 1-1 18 0 1-1 1 1 1-1 18 0 1-1 1 1 1-1 12 0 1-1 14-1 1-1 8 0 1-1 11-1 1-1 3 0 5-2 5 0 7-3 3 0 1-1 5-1 6-3 9-6 7-8 5-10 0-3 2-5 0-5 1-1 0-6 1-1 2-20 1-1 0-4 1-1 0-3 3-8 6-9 10-10 4-3 3-1 7-6 3-1 1-2 5-2 3-3 3-1 0-1 4-3 0-1 7-8-1-1 2-2 0-3 1-1 0-8-1-1 0-3-4-8-7-9-1 0-12-11-3-1-7-6-8-4-8-6-16-14-11-8-6-6-5-3-24-21-5-3-12-10-50-33-3-3-3-1-7-6-21-14-3-1-6-5-10-5-2-2-8-4-2 0-1-1-5-1-3-2-6-1-7-3-4 0-1-1-9-1-1-1-8 0-1-1-18 2-1 1-5 1-12 6-10 8-8 5-4 4-12 8-3 1-5 4-8 4-16 12-21 19-1 0-18 16-1 0-19 19 0 1-6 6 0 1-11 12 0 1-19 20-10 14Z" fill="#00ff40" stroke-width="2.00"/>
<path d="M153 684l0 2-2 4 0 3-1 1 0 4-1 1 0 20 1 1 1 7 4 8 0 2 3 6 17 24 3 2 3 5 3 2 6 8 1 0 2 3 1 0 2 3 3 2 0 1 6 4 1 2 23 17 2 0 11 8 2 0 4 3 5 2 2 2 26 13 2 0 2 2 2 0 10 5 2 0 16 6 3 0 8 3 3 0 1 1 4 0 1 1 4 0 1 1 4 0 1 1 13 1 1 1 21 1 1 1 34 0 1-1 39-1 1-1 1 1 1-1 17 0 1-1 1 1 1-1 21-1 1-1 7 0 5-2 12-1 1-1 3 0 1-1 3 0 5-2 4 0 1-1 6-1 11-5 2-2 3-1 9-9 5-9 1-6 1-1 0-4 1-1 0-6 1-1 0-7 1-1 1-14 1-1 1-9 2-3 1-4 6-9 9-8 1 0 4-5 8-4 4-4 5-2 3-3 4-2 0-1 5-4 6-9 1-7 1-1-1-8-1-1-1-5-7-10-1 0-9-9-4-2-11-9-3-1-7-6-7-4-20-18-7-5-6-6-1 0-5-5-7-5-7-7-1 0-16-14-4-2-10-8-27-18-9-5-3-3-3-1-3-3-3-1-3-3-3-1-33-22-14-7-10-3-3-2-1 1-10-4-4 0-1-1-4 0-1-1-7 0-1-1-13 0-1 1-4 0-1 1-3 0-1 1-5 1-12 6-11 9-4 2-4 4-15 10-3 1-5 4-3 1-19 14-23 21-1 0-20 18-1 0-11 11 0 1-8 8 0 1-13 14 0 1-12 12 0 1-10 11-4 6-2 5-2 2 0 2Z" fill="#00ff60" stroke-width="2.00"/>
<path d="M160 684l0 2-3 7 0 4-1 1 0 10-1 1 0 3 1 1 1 12 1 1 1 5 4 7 0 2 10 16 5 5 2 4 5 5 5 7 10 10 0 1 8 6 1 2 1 0 6 6 4 2 13 10 3 1 15 10 4 1 2 2 13 6 4 3 4 1 2 2 2 0 5 3 2 0 5 3 2 0 8 4 2 0 10 4 3 0 1 1 3 0 1 1 3 0 1 1 3 0 5 2 9 1 1 1 12 1 1 1 8 0 1 1 12 0 1 1 30 0 1-1 41-1 1-1 2 1 1-1 16 0 1-1 1 1 1-1 19-1 1-1 13-1 1-1 5 0 1-1 5 0 1-1 4 0 1-1 7-1 4-2 6-1 12-6 8-6 6-8 1-4 2-3 1-7 1-1 0-6 1-1 0-8 1-1 1-15 1-1 1-8 2-3 1-4 4-6 13-12 7-4 4-4 7-3 2-3 6-3 0-1 3-2 5-6 0-2 2-2 1-5 1-1 0-8-2-4 0-3-8-11-9-9-25-17-24-21-1 0-7-7-7-5-1-2-1 0-7-7-1 0-8-8-1 0-6-6-1 0-14-12-31-21-3-1-8-6-3-1-14-10-3-1-8-6-3-1-5-4-5-2-3-3-5-2-2-2-7-3-2-2-2 0-5-3-3 0-13-5-3 0-5-2-4 0-1-1-5 0-1-1-16 0-1 1-4 0-1 1-3 0-6 3-2 0-15 9-16 13-3 1-3 3-11 6-12 9-4 2-30 27-1 0-18 16-1 0-17 17 0 1-7 7 0 1-7 7 0 1-2 1 0 1-18 19-6 8Z" fill="#00ff80" stroke-width="2.00"/>
<path d="M166 688l-2 10-1 1 0 21 1 1 1 7 8 17 2 2 1 3 6 9 2 1 2 4 4 4 4 6 7 7 0 1 1 0 1 2 10 9 0 1 5 3 1 2 4 2 1 2 21 14 16 8 2 2 26 13 2 0 5 3 2 0 8 4 2 0 4 2 3 0 7 3 3 0 4 2 4 0 1 1 7 1 1 1 5 0 1 1 5 0 1 1 6 0 1 1 8 0 1 1 15 0 1 1 40-1 1-1 18 0 1-1 3 1 1-1 16 0 1-1 1 1 1-1 12 0 1-1 7 0 1-1 2 1 1-1 18-2 1-1 3 0 5-2 5 0 1-1 7-1 18-8 10-9 6-11 1-8 1-1 0-7 1-1 0-8 1-1 1-15 1-1 1-6 3-6 4-6 2-1 10-10 9-6 7-3 1-2 6-3 6-6 1 0 4-6 0-2 3-6 0-8-1-1-1-6-6-9-12-12-14-9-5-5-3-1-4-4-1 0-9-9-1 0-24-22-1 0-22-21-1 0-5-5-1 0-12-10-21-14-3-1-8-6-11-6-8-6-15-8-15-10-9-4-2-2-24-9-3 0-1-1-3 0-5-2-1 1-1-1-5 0-1-1-14 0-1 1-4 0-1 1-6 1-12 6-21 16-12 8-3 1-20 14-25 23-1 0-6 6-1 0-18 16-1 0-15 15 0 1-8 8 0 1-10 10 0 1-2 1 0 1-13 14-2 4-3 3Z" fill="#00ff9f" stroke-width="2.00"/>
<path d="M173 691l-1 6-1 1 0 5-1 1 0 12 1 1 0 5 1 1 0 3 1 1 2 8 9 17 2 1 1 3 9 12 10 11 0 1 1 0 1 2 1 0 8 9 8 6 1 2 4 2 7 6 3 1 1 2 3 1 7 5 7 3 2 2 11 5 4 3 2 0 2 2 2 0 2 2 2 0 9 5 7 2 5 3 2 0 13 5 3 0 4 2 11 2 1 1 4 0 1 1 4 0 1 1 6 0 1 1 6 0 1 1 10 0 1 1 40 0 1-1 19 0 1-1 19 0 1-1 2 1 1-1 13 0 1-1 1 1 1-1 8 0 1-1 2 1 1-1 4 0 1-1 1 1 1-1 17-2 4-2 8-1 1-1 11-3 10-5 10-9 5-9 1-6 1-1 0-5 1-1 0-9 1-1 0-8 1-1 1-12 1-1 1-5 4-5 1-3 2-1 6-7 3-1 9-7 5-2 2-3 10-5 0-1 7-6 1-3 2-2 1-6 1-1 0-7-1-1-1-5-6-10-1 0-1-2-13-12-4-2-5-5-4-2-10-9-1 0-8-8-1 0-1-2-1 0-6-6-1 0-1-2-1 0-8-8-1 0-1-2-1 0-25-24-1 0-5-5-12-9-15-10-3-1-5-4-8-4-5-4-5-2-10-7-7-3-2-2-3-1-2-2-3-1-2-2-5-2-2-2-5-2-4-3-2 0-5-3-5-1-3-2-2 0-7-3-8-1-1-1-4 0-1-1-8 0-1-1-1 1-11 0-1 1-3 0-16 7-25 19-6 3-3 3-9 5-12 9-25 23-1 0-11 10-12 9-8 8-1 0-3 4-1 0 0 1-14 14 0 1-10 10 0 1-12 13Z" fill="#00ffbf" stroke-width="2.00"/>
<path d="M182 691l0 2-3 7-1 15 1 1 1 11 5 11 0 2 3 6 12 18 9 10 0 1 8 8 0 1 1 0 1 2 4 3 0 1 28 21 12 6 2 2 11 5 2 2 2 0 13 7 2 0 5 3 2 0 8 4 8 2 3 2 3 0 11 4 4 0 1 1 8 1 1 1 4 0 1 1 15 1 1 1 19 0 1 1 1-1 1 1 1-1 26 0 1-1 40-1 1-1 1 1 1-1 11 0 1-1 8 0 1-1 1 1 1-1 6 0 1-1 4 0 1-1 4 0 1-1 5 0 1-1 11-2 11-5 2 0 2-2 2 0 8-6 8-12 1-6 1-1 0-6 1-1 0-8 1-1 1-16 1-1 0-3 1-1 1-5 8-11 6-5 15-10 12-6 0-1 7-6 4-9 0-11-5-11-2-1-2-4-1 0-1-2-11-10-4-2-4-4-5-3-6-6-1 0-9-9-1 0-9-9-1 0-3-4-1 0-8-8-1 0-1-2-1 0-19-19-1 0-11-10-31-21-17-9-2-2-5-2-5-4-2 0-2-2-7-3-7-5-4-1-7-5-4-1-5-3-2 0-16-6-4 0-1-1-4 0-1-1-21 0-1 1-3 0-6 3-2 0-4 3-5 2-23 18-23 15-10 9-1 0-17 16-1 0-5 5-1 0-4 4-16 12-7 7-1 0-23 24 0 1-12 13-7 10Z" fill="#00ffdf" stroke-width="2.00"/>
<path d="M191 693l0 2-2 4 0 3-1 1 0 5-1 1 1 15 1 1 2 10 3 5 0 2 2 4 2 2 4 8 9 11 2 4 2 1 4 6 1 0 1 2 1 0 1 2 8 7 0 1 1 0 5 5 12 9 3 1 8 6 44 22 2 0 8 4 2 0 13 5 3 0 4 2 3 0 5 2 4 0 1 1 4 0 1 1 14 1 1 1 18 0 1 1 3 0 1-1 26 0 1-1 19 0 1-1 19 0 1-1 1 1 1-1 10 0 1-1 1 1 1-1 6 0 1-1 8 0 5-2 6 0 1-1 3 0 1-1 3 0 4-2 6-1 3-2 2 0 2-2 4-1 2-2 3-1 0-1 6-5 5-8 0-2 2-4 0-5 1-1 2-24 1-1 1-7 3-6 5-7 10-8 9-5 2-2 12-6 8-8 3-6 0-4 1-1-2-11-8-12-1 0-1-2-7-6 0-1-1 0-4-4-16-12-9-9-1 0-3-4-1 0-25-24-1 0-1-2-10-9 0-1-1 0-8-8-1 0-12-10-15-10-8-4-2-2-7-3-2-2-14-7-2-2-13-6-9-6-4-1-2-2-2 0-5-3-5-1-3-2-3 0-1-1-3 0-1-1-7-1-1-1-7 0-1-1-10 0-1 1-5 0-16 7-18 13-4 4-16 10-12 9-27 24-1 0-9 8-19 14-30 31 0 1-5 5-2 4-3 3Z" fill="#00ffff" stroke-width="2.00"/>
<path d="M202 693l0 2-3 6-1 9-1 1 1 15 1 1 0 4 1 1 2 8 8 15 4 6 4 4 2 4 2 1 2 4 18 18 1 0 8 7 9 6 3 1 2 2 3 1 2 2 4 1 2 2 33 16 2 0 11 5 2 0 7 3 3 0 4 2 3 0 5 2 4 0 1 1 4 0 1 1 15 1 1 1 38 0 1-1 18 0 1-1 21 0 1-1 12 0 1-1 1 1 1-1 7 0 1-1 1 1 1-1 4 0 1-1 1 1 1-1 5 0 5-2 5 0 4-2 6-1 5-3 2 0 4-2 10-7 7-11 1-6 1-1 0-5 1-1 0-7 1-1 1-13 1-1 1-6 3-6 3-4 10-9 3-1 5-4 18-10 6-7 3-7 0-9-1-1 0-2-3-6-8-9 0-1-1 0-6-6-5-3-1-2-12-9-10-10-1 0-1-2-1 0-10-10-1 0-1-2-1 0-29-29-1 0-11-10-29-19-2 0-5-4-2 0-7-5-19-9-2-2-2 0-2-2-8-4-10-3-3-2-3 0-1-1-7-1-1-1-5 0-1-1-17 0-1 1-4 0-3 2-2 0-14 8-16 13-17 11-12 9-25 22-30 22-25 26 0 1-7 8Z" fill="#00dfff" stroke-width="2.00"/>
<path d="M212 698l0 2-2 4 0 4-1 1 0 19 1 1 0 4 1 1 2 8 2 3 1 4 2 2 2 5 10 14 2 1 3 5 2 1 1 2 9 8 0 1 16 12 8 4 5 4 2 0 2 2 33 16 2 0 8 4 2 0 6 3 3 0 4 2 3 0 1 1 3 0 5 2 4 0 1 1 13 1 1 1 44 0 1-1 18 0 1-1 32-1 1-1 8 0 1-1 6 0 1-1 9-1 7-3 6-1 10-5 8-7 6-10 0-3 2-5 0-6 1-1 0-5 1-1 1-10 1-1 0-3 5-10 13-12 2 0 8-6 5-2 9-6 6-7 3-8-2-10-7-11-1 0-1-2-1 0-1-2-1 0-1-2-1 0-5-5-9-6-1-2-1 0-8-8-1 0-11-11-8-6-1-2-2-1-30-30-1 0-10-9-21-14-5-2-5-4-2 0-7-5-2 0-2-2-22-11-2 0-2-2-3 0-3-2-10-2-1-1-11-1-1-1-10 0-1 1-5 0-16 7-14 10-8 7-20 13-30 25-12 9-4 2-3 3-4 2-10 9-1 0-18 19-9 13Z" fill="#00bfff" stroke-width="2.00"/>
<path d="M225 699l0 2-2 4 0 4-1 1 0 5-1 1 0 10 1 1 0 6 1 1 1 8 9 18 11 13 0 1 13 13 1 0 8 7 9 6 3 1 2 2 38 19 2 0 8 4 2 0 6 3 3 0 4 2 8 1 5 2 5 0 1 1 9 0 1 1 31 0 1-1 20 0 1-1 21 0 1-1 12 0 1-1 8 0 1-1 10-1 1-1 11-2 3-2 5-1 5-4 3-1 5-5 4-6 0-2 2-3 0-3 1-1 0-5 1-1 0-4 1-1 0-4 1-1 1-8 6-12 13-12 2 0 5-4 7-3 7-5 7-8 2-5 0-8-1-1 0-2-3-6-5-5 0-1-10-9-4-2-1-2-6-4-19-18-7-5-40-39-22-16-3-1-8-6-9-4-2-2-4-2-2 0-6-3-2-2-2 0-8-4-2 0-4-2-4 0-1-1-5 0-1-1-17 0-1 1-4 0-1 1-5 1-13 7-11 8-4 4-23 15-28 23-15 10-3 3-4 2-9 8-1 0-16 17-6 9Z" fill="#009fff" stroke-width="2.00"/>
<path d="M241 697l0 2-2 3 0 2-2 4 0 4-1 1 0 8-1 1 1 15 1 1 0 4 1 1 1 5 5 10 9 13 19 18 20 13 28 14 2 0 10 5 2 0 10 4 11 2 1 1 14 1 1 1 29 0 1-1 22 0 1-1 19 0 1-1 11 0 1-1 7 0 1-1 5 0 5-2 4 0 1-1 5-1 5-3 2 0 10-9 4-7 0-2 2-4 0-4 1-1 0-4 1-1 2-11 5-10 9-9 1 0 1-2 3-2 2 0 3-3 3-1 5-4 2 0 7-7 1 0 4-8 0-9-1-1 0-2-6-9-3-2-1-2-6-4-1-2-10-7-2-3-1 0-15-14-1 0-11-10-1 0-36-36-1 0-13-11-12-8-5-2-2-2-17-8-5-1-3-2-5 0-1-1-20 0-1 1-4 0-1 1-5 1-15 8-17 13-16 10-27 22-27 19-15 15Z" fill="#0080ff" stroke-width="2.00"/>
<path d="M259 697l-4 8 0 2-3 7 0 5-1 1 0 19 1 1 0 4 1 1 2 8 2 2 1 4 3 3 1 3 4 4 0 1 6 6 0 1 1 0 7 7 17 12 29 15 2 0 5 3 5 1 6 3 3 0 1 1 3 0 5 2 5 0 1 1 7 0 1 1 30 0 1-1 39-1 1-1 9 0 1-1 7 0 1-1 9-1 3-2 3 0 6-3 8-7 3-5 0-2 2-4 0-3 1-1 0-4 1-1 1-7 1-1 1-5 3-5 7-8 8-6 10-5 3-3 2 0 5-5 4-8 0-8-3-6-11-12-6-4-19-18-13-9-7-7-1 0-11-11-1 0-2-3-1 0-2-3-22-22-1 0-9-8-5-2-3-3-2 0-6-4-5-1-2-2-3 0-1-1-8 0-1-1-1 1-1-1-1 1-1-1-1 1-1-1-1 1-11 1-1 1-8 2-13 7-16 12-14 9-28 23-22 16-11 11Z" fill="#0060ff" stroke-width="2.00"/>
<path d="M271 716l-1 6-1 1 0 6-1 1 0 12 1 1 0 4 4 11 5 6 2 4 5 5 0 1 4 3 0 1 16 12 26 14 2 0 5 3 2 0 3 2 3 0 4 2 3 0 5 2 4 0 1 1 8 0 1 1 22 0 1-1 38-1 1-1 16-1 1-1 3 0 1-1 3 0 1-1 5-1 2-2 3-1 6-7 2-4 3-16 4-10 9-9 21-12 4-4 3-6 0-6-2-3 0-2-7-9-1 0-24-22-24-16-12-10-1 0-30-31-7-5-2 0-4-3-6-1-1-1-15 0-1 1-9 1-14 6-9 6-11 9-8 5-26 23-1 0-10 9-6 4-10 10-5 7Z" fill="#0040ff" stroke-width="2.00"/>
<path d="M291 729l-1 6-1 1 0 14 1 1 1 5 6 10 13 13 8 6 26 13 2 0 10 4 3 0 1 1 15 1 1 1 51-2 1-1 13-1 1-1 8-2 7-6 3-6 0-4 2-5 0-4 5-10 9-7 11-5 7-6 2-4 0-7-5-8-8-7-1 0-6-6-8-6-7-3-2-2-30-15-12-11-1 0-7-7 0-1-5-4 0-1-10-6-6-1-1-1-11 0-1 1-3 0-9 4-19 16-1 0-23 22-1 0-15 14-1 0-8 9Z" fill="#0020ff" stroke-width="2.00"/>
<path d="M319 743l0 2-1 1 0 10 1 1 0 2 2 2 1 3 9 9 7 5 12 6 2 0 3 2 2 0 7 3 9 1 1 1 29 0 1-1 12 0 1-1 5 0 1-1 6-1 7-6 1-5 1-1 0-3 1-1 0-3 2-4 6-6 5-2 6-7 0-4-4-6-7-5-5-5-6-4-5-2-2-2-5-2-7-5-3-1-19-16-11-5-8 0-8 4-4 4-6 4-7 7-1 0-18 17-1 0-8 8Z" fill="#0000ff" stroke-width="2.00"/>
</g>
<rect x="167.3" y="146.6" width="35.8" height="22.9" fill="#fafafa"/>
<text x="185.2" y="165.0" font-size="22" font-family='"Liberation Serif", serif' text-anchor="middle">cS4</text>
<rect x="124.0" y="171.0" width="26.9" height="23.0" fill="#fafafa"/>
<text x="137.4" y="189.5" font-size="22" font-family='"Liberation Serif", serif' text-anchor="middle">S4</text>
<rect x="120.2" y="215.0" width="24.9" height="23.3" fill="#fafafa"/>
<text x="132.7" y="233.8" font-size="22" font-family='"Liberation Serif", serif' text-anchor="middle">S5</text>
<circle cx="160.2" cy="173.2" r="4.6" fill="#ff0000"/>
<polygon points="153.9,179.1 163.1,175.4 163.8,184.6" fill="#fff"/>
<polygon points="157.2,205.4 158.5,209.0 162.3,209.1 159.4,211.5 160.4,215.2 157.2,213.1 154.0,215.2 155.0,211.5 152.1,209.1 155.9,209.0" fill="#fff" stroke="none" stroke-width="0"/>
<rect x="545.5" y="157.3" width="25.3" height="23.3" fill="#fafafa"/>
<text x="558.1" y="176.1" font-size="22" font-family='"Liberation Serif", serif' text-anchor="middle">S4</text>
<rect x="545.5" y="221.9" width="25.3" height="23.8" fill="#fafafa"/>
<text x="558.1" y="241.2" font-size="22" font-family='"Liberation Serif", serif' text-anchor="middle">S5</text>
<polygon points="578.5,181.7 587.6,177.5 587.6,189.5" fill="#fff"/>
<polygon points="581.4,210.8 582.7,214.2 586.3,214.4 583.5,216.7 584.5,220.2 581.4,218.2 578.3,220.2 579.3,216.7 576.5,214.4 580.1,214.2" fill="#fff" stroke="none" stroke-width="0"/>
<path d="M57.0 37.0H315.0V277.0" fill="none" stroke="#8a3a3a" stroke-width="0.8"/>
<line x1="57.0" y1="37.0" x2="57.0" y2="277.5" stroke="#222" stroke-width="1.2"/>
<line x1="56.5" y1="277.0" x2="315.0" y2="277.0" stroke="#222" stroke-width="1.2"/>
<line x1="52.4" y1="277.0" x2="57.0" y2="277.0" stroke="#222" stroke-width="1.1"/>
<text x="49.0" y="281.2" font-size="12" font-family='"Liberation Sans", sans-serif' font-weight="bold" text-anchor="end">10</text>
<line x1="54.7" y1="257.0" x2="57.0" y2="257.0" stroke="#222" stroke-width="1.1"/>
<line x1="52.4" y1="237.0" x2="57.0" y2="237.0" stroke="#222" stroke-width="1.1"/>
<text x="49.0" y="241.2" font-size="12" font-family='"Liberation Sans", sans-serif' font-weight="bold" text-anchor="end">12</text>
<line x1="54.7" y1="217.0" x2="57.0" y2="217.0" stroke="#222" stroke-width="1.1"/>
<line x1="52.4" y1="197.0" x2="57.0" y2="197.0" stroke="#222" stroke-width="1.1"/>
<text x="49.0" y="201.2" font-size="12" font-family='"Liberation Sans", sans-serif' font-weight="bold" text-anchor="end">14</text>
<line x1="54.7" y1="177.0" x2="57.0" y2="177.0" stroke="#222" stroke-width="1.1"/>
<line x1="52.4" y1="157.0" x2="57.0" y2="157.0" stroke="#222" stroke-width="1.1"/>
<text x="49.0" y="161.2" font-size="12" font-family='"Liberation Sans", sans-serif' font-weight="bold" text-anchor="end">16</text>
<line x1="54.7" y1="137.0" x2="57.0" y2="137.0" stroke="#222" stroke-width="1.1"/>
<line x1="52.4" y1="117.0" x2="57.0" y2="117.0" stroke="#222" stroke-width="1.1"/>
<text x="49.0" y="121.2" font-size="12" font-family='"Liberation Sans", sans-serif' font-weight="bold" text-anchor="end">18</text>
<line x1="54.7" y1="97.0" x2="57.0" y2="97.0" stroke="#222" stroke-width="1.1"/>
<line x1="52.4" y1="77.0" x2="57.0" y2="77.0" stroke="#222" stroke-width="1.1"/>
<text x="49.0" y="81.2" font-size="12" font-family='"Liberation Sans", sans-serif' font-weight="bold" text-anchor="end">20</text>
<line x1="54.7" y1="57.0" x2="57.0" y2="57.0" stroke="#222" stroke-width="1.1"/>
<line x1="52.4" y1="37.0" x2="57.0" y2="37.0" stroke="#222" stroke-width="1.1"/>
<text x="49.0" y="41.2" font-size="12" font-family='"Liberation Sans", sans-serif' font-weight="bold" text-anchor="end">22</text>
<line x1="57.0" y1="277.0" x2="57.0" y2="279.3" stroke="#222" stroke-width="1.1"/>
<line x1="85.7" y1="277.0" x2="85.7" y2="281.6" stroke="#222" stroke-width="1.1"/>
<text x="85.7" y="295.0" font-size="12" font-family='"Liberation Sans", sans-serif' font-weight="bold" text-anchor="middle">16</text>
<line x1="114.3" y1="277.0" x2="114.3" y2="279.3" stroke="#222" stroke-width="1.1"/>
<line x1="143.0" y1="277.0" x2="143.0" y2="281.6" stroke="#222" stroke-width="1.1"/>
<text x="143.0" y="295.0" font-size="12" font-family='"Liberation Sans", sans-serif' font-weight="bold" text-anchor="middle">18</text>
<line x1="171.7" y1="277.0" x2="171.7" y2="279.3" stroke="#222" stroke-width="1.1"/>
<line x1="200.3" y1="277.0" x2="200.3" y2="281.6" stroke="#222" stroke-width="1.1"/>
<text x="200.3" y="295.0" font-size="12" font-family='"Liberation Sans", sans-serif' font-weight="bold" text-anchor="middle">20</text>
<line x1="229.0" y1="277.0" x2="229.0" y2="279.3" stroke="#222" stroke-width="1.1"/>
<line x1="257.7" y1="277.0" x2="257.7" y2="281.6" stroke="#222" stroke-width="1.1"/>
<text x="257.7" y="295.0" font-size="12" font-family='"Liberation Sans", sans-serif' font-weight="bold" text-anchor="middle">22</text>
<line x1="286.3" y1="277.0" x2="286.3" y2="279.3" stroke="#222" stroke-width="1.1"/>
<line x1="315.0" y1="277.0" x2="315.0" y2="281.6" stroke="#222" stroke-width="1.1"/>
<text x="315.0" y="295.0" font-size="12" font-family='"Liberation Sans", sans-serif' font-weight="bold" text-anchor="middle">24</text>
<text x="93.0" y="29.6" font-size="20"><tspan textLength="124" lengthAdjust="spacingAndGlyphs">cR291A-mini-G</tspan><tspan font-family='"Liberation Serif", serif' font-size="20" dx="0.5">&#945;</tspan><tspan font-family='"Liberation Serif", serif' font-size="12" dy="5">s</tspan><tspan font-family='"Liberation Serif", serif' font-size="20" dy="-5" dx="1">&#946;&#947;</tspan></text>
<text transform="translate(24.8 156.7) rotate(-90)" text-anchor="middle" font-size="13.5" textLength="234.6" lengthAdjust="spacingAndGlyphs">A<tspan font-size="9" dy="3">2A</tspan><tspan dy="-3">AR:NPxxY - Gs Protein Distance (&#197;)</tspan></text>
<text x="186.5" y="312.6" font-size="14" font-family='"Liberation Sans", sans-serif' text-anchor="middle" textLength="227.7" lengthAdjust="spacingAndGlyphs">TM3 (R3.50) - TM6 (E6.30) Distance (&#197;)</text>
<path d="M480.3 41.0H740.0V282.2" fill="none" stroke="#8a3a3a" stroke-width="0.8"/>
<line x1="480.3" y1="41.0" x2="480.3" y2="282.7" stroke="#222" stroke-width="1.2"/>
<line x1="479.8" y1="282.2" x2="740.0" y2="282.2" stroke="#222" stroke-width="1.2"/>
<line x1="475.7" y1="282.2" x2="480.3" y2="282.2" stroke="#222" stroke-width="1.1"/>
<text x="472.3" y="286.4" font-size="12" font-family='"Liberation Sans", sans-serif' font-weight="bold" text-anchor="end">10</text>
<line x1="478.0" y1="262.1" x2="480.3" y2="262.1" stroke="#222" stroke-width="1.1"/>
<line x1="475.7" y1="242.0" x2="480.3" y2="242.0" stroke="#222" stroke-width="1.1"/>
<text x="472.3" y="246.2" font-size="12" font-family='"Liberation Sans", sans-serif' font-weight="bold" text-anchor="end">12</text>
<line x1="478.0" y1="221.9" x2="480.3" y2="221.9" stroke="#222" stroke-width="1.1"/>
<line x1="475.7" y1="201.8" x2="480.3" y2="201.8" stroke="#222" stroke-width="1.1"/>
<text x="472.3" y="206.0" font-size="12" font-family='"Liberation Sans", sans-serif' font-weight="bold" text-anchor="end">14</text>
<line x1="478.0" y1="181.7" x2="480.3" y2="181.7" stroke="#222" stroke-width="1.1"/>
<line x1="475.7" y1="161.6" x2="480.3" y2="161.6" stroke="#222" stroke-width="1.1"/>
<text x="472.3" y="165.8" font-size="12" font-family='"Liberation Sans", sans-serif' font-weight="bold" text-anchor="end">16</text>
<line x1="478.0" y1="141.5" x2="480.3" y2="141.5" stroke="#222" stroke-width="1.1"/>
<line x1="475.7" y1="121.4" x2="480.3" y2="121.4" stroke="#222" stroke-width="1.1"/>
<text x="472.3" y="125.6" font-size="12" font-family='"Liberation Sans", sans-serif' font-weight="bold" text-anchor="end">18</text>
<line x1="478.0" y1="101.3" x2="480.3" y2="101.3" stroke="#222" stroke-width="1.1"/>
<line x1="475.7" y1="81.2" x2="480.3" y2="81.2" stroke="#222" stroke-width="1.1"/>
<text x="472.3" y="85.4" font-size="12" font-family='"Liberation Sans", sans-serif' font-weight="bold" text-anchor="end">20</text>
<line x1="478.0" y1="61.1" x2="480.3" y2="61.1" stroke="#222" stroke-width="1.1"/>
<line x1="475.7" y1="41.0" x2="480.3" y2="41.0" stroke="#222" stroke-width="1.1"/>
<text x="472.3" y="45.2" font-size="12" font-family='"Liberation Sans", sans-serif' font-weight="bold" text-anchor="end">22</text>
<line x1="480.3" y1="282.2" x2="480.3" y2="284.5" stroke="#222" stroke-width="1.1"/>
<line x1="509.2" y1="282.2" x2="509.2" y2="286.8" stroke="#222" stroke-width="1.1"/>
<text x="509.2" y="300.2" font-size="12" font-family='"Liberation Sans", sans-serif' font-weight="bold" text-anchor="middle">16</text>
<line x1="538.0" y1="282.2" x2="538.0" y2="284.5" stroke="#222" stroke-width="1.1"/>
<line x1="566.9" y1="282.2" x2="566.9" y2="286.8" stroke="#222" stroke-width="1.1"/>
<text x="566.9" y="300.2" font-size="12" font-family='"Liberation Sans", sans-serif' font-weight="bold" text-anchor="middle">18</text>
<line x1="595.7" y1="282.2" x2="595.7" y2="284.5" stroke="#222" stroke-width="1.1"/>
<line x1="624.6" y1="282.2" x2="624.6" y2="286.8" stroke="#222" stroke-width="1.1"/>
<text x="624.6" y="300.2" font-size="12" font-family='"Liberation Sans", sans-serif' font-weight="bold" text-anchor="middle">20</text>
<line x1="653.4" y1="282.2" x2="653.4" y2="284.5" stroke="#222" stroke-width="1.1"/>
<line x1="682.3" y1="282.2" x2="682.3" y2="286.8" stroke="#222" stroke-width="1.1"/>
<text x="682.3" y="300.2" font-size="12" font-family='"Liberation Sans", sans-serif' font-weight="bold" text-anchor="middle">22</text>
<line x1="711.1" y1="282.2" x2="711.1" y2="284.5" stroke="#222" stroke-width="1.1"/>
<line x1="740.0" y1="282.2" x2="740.0" y2="286.8" stroke="#222" stroke-width="1.1"/>
<text x="740.0" y="300.2" font-size="12" font-family='"Liberation Sans", sans-serif' font-weight="bold" text-anchor="middle">24</text>
<text x="525.7" y="34.0" font-size="20"><tspan textLength="104.3" lengthAdjust="spacingAndGlyphs">cWT*-mini-G</tspan><tspan font-family='"Liberation Serif", serif' font-size="20" dx="0.5">&#945;</tspan><tspan font-family='"Liberation Serif", serif' font-size="12" dy="5">s</tspan><tspan font-family='"Liberation Serif", serif' font-size="20" dy="-5" dx="1">&#946;&#947;</tspan></text>
<text transform="translate(449.5 160.7) rotate(-90)" text-anchor="middle" font-size="13.5" textLength="236.6" lengthAdjust="spacingAndGlyphs">A<tspan font-size="9" dy="3">2A</tspan><tspan dy="-3">AR:NPxxY - Gs Protein Distance (&#197;)</tspan></text>
<text x="610.4" y="318.8" font-size="14" font-family='"Liberation Sans", sans-serif' text-anchor="middle" textLength="230.3" lengthAdjust="spacingAndGlyphs">TM3 (R3.50) - TM6 (E6.30) Distance (&#197;)</text>
<text x="70.0" y="54.8" font-size="15" font-family='"Liberation Sans", sans-serif'>GaMD</text>
<text x="492.0" y="58.8" font-size="15" font-family='"Liberation Sans", sans-serif'>GaMD</text>
<rect x="324.2" y="169.8" width="45.8" height="4.3" fill="#0000ff"/>
<rect x="324.2" y="165.8" width="45.8" height="4.3" fill="#0000ff"/>
<rect x="324.2" y="161.8" width="45.8" height="4.3" fill="#0020ff"/>
<rect x="324.2" y="157.8" width="45.8" height="4.3" fill="#0040ff"/>
<rect x="324.2" y="153.8" width="45.8" height="4.3" fill="#0060ff"/>
<rect x="324.2" y="149.7" width="45.8" height="4.3" fill="#0080ff"/>
<rect x="324.2" y="145.7" width="45.8" height="4.3" fill="#009fff"/>
<rect x="324.2" y="141.7" width="45.8" height="4.3" fill="#00bfff"/>
<rect x="324.2" y="137.7" width="45.8" height="4.3" fill="#00dfff"/>
<rect x="324.2" y="133.7" width="45.8" height="4.3" fill="#00ffff"/>
<rect x="324.2" y="129.7" width="45.8" height="4.3" fill="#00ffdf"/>
<rect x="324.2" y="125.7" width="45.8" height="4.3" fill="#00ffbf"/>
<rect x="324.2" y="121.7" width="45.8" height="4.3" fill="#00ff9f"/>
<rect x="324.2" y="117.7" width="45.8" height="4.3" fill="#00ff80"/>
<rect x="324.2" y="113.7" width="45.8" height="4.3" fill="#00ff60"/>
<rect x="324.2" y="109.7" width="45.8" height="4.3" fill="#00ff40"/>
<rect x="324.2" y="105.7" width="45.8" height="4.3" fill="#00ff20"/>
<rect x="324.2" y="101.6" width="45.8" height="4.3" fill="#00ff00"/>
<rect x="324.2" y="97.6" width="45.8" height="4.3" fill="#20ff00"/>
<rect x="324.2" y="93.6" width="45.8" height="4.3" fill="#40ff00"/>
<rect x="324.2" y="89.6" width="45.8" height="4.3" fill="#60ff00"/>
<rect x="324.2" y="85.6" width="45.8" height="4.3" fill="#80ff00"/>
<rect x="324.2" y="81.6" width="45.8" height="4.3" fill="#9fff00"/>
<rect x="324.2" y="77.6" width="45.8" height="4.3" fill="#bfff00"/>
<rect x="324.2" y="73.6" width="45.8" height="4.3" fill="#dfff00"/>
<rect x="324.2" y="69.6" width="45.8" height="4.3" fill="#ffff00"/>
<rect x="324.2" y="65.6" width="45.8" height="4.3" fill="#ffdf00"/>
<rect x="324.2" y="61.6" width="45.8" height="4.3" fill="#ffbf00"/>
<rect x="324.2" y="57.5" width="45.8" height="4.3" fill="#ff9f00"/>
<rect x="324.2" y="53.5" width="45.8" height="4.3" fill="#ff8000"/>
<rect x="324.2" y="49.5" width="45.8" height="4.3" fill="#ff6000"/>
<rect x="324.2" y="45.5" width="45.8" height="4.3" fill="#ff4000"/>
<rect x="324.2" y="41.5" width="45.8" height="4.3" fill="#ff2000"/>
<rect x="324.2" y="37.5" width="45.8" height="4.3" fill="#ff0000"/>
<text x="375.0" y="174.2" font-size="12" font-family='"Liberation Sans", sans-serif' font-weight="bold">0</text>
<text x="375.0" y="158.1" font-size="12" font-family='"Liberation Sans", sans-serif' font-weight="bold">1</text>
<text x="375.0" y="142.1" font-size="12" font-family='"Liberation Sans", sans-serif' font-weight="bold">2</text>
<text x="375.0" y="126.0" font-size="12" font-family='"Liberation Sans", sans-serif' font-weight="bold">3</text>
<text x="375.0" y="110.0" font-size="12" font-family='"Liberation Sans", sans-serif' font-weight="bold">4</text>
<text x="375.0" y="93.9" font-size="12" font-family='"Liberation Sans", sans-serif' font-weight="bold">5</text>
<text x="375.0" y="77.8" font-size="12" font-family='"Liberation Sans", sans-serif' font-weight="bold">6</text>
<text x="375.0" y="61.8" font-size="12" font-family='"Liberation Sans", sans-serif' font-weight="bold">7</text>
<text x="375.0" y="45.7" font-size="12" font-family='"Liberation Sans", sans-serif' font-weight="bold">8</text>
<text x="321.8" y="194.6" font-size="16.8" font-family='"Liberation Serif", serif' textLength="80" lengthAdjust="spacingAndGlyphs">Free energy</text>
<text x="327.3" y="218.4" font-size="16.8" font-family='"Liberation Serif", serif' textLength="71" lengthAdjust="spacingAndGlyphs">(kcal/mol)</text>
<polygon points="340.2,229.5 342.8,236.4 350.2,236.8 344.4,241.4 346.4,248.5 340.2,244.4 334.0,248.5 336.0,241.4 330.2,236.8 337.6,236.4" fill="none" stroke="#b0b4c0" stroke-width="0.9"/>
<text x="351.2" y="244.8" font-size="16.5" font-family='"Liberation Serif", serif' textLength="44.8" lengthAdjust="spacingAndGlyphs">6GDG</text>
<polygon points="331.7,263.6 345.3,256.4 345.7,271.8" fill="none" stroke="#6878a8" stroke-width="0.9"/>
<text x="353.3" y="269.5" font-size="16.5" font-family='"Liberation Serif", serif' textLength="17" lengthAdjust="spacingAndGlyphs">S4</text>
<circle cx="340.6" cy="287.8" r="3.4" fill="#ff0000"/>
<text x="353.3" y="292.5" font-size="16.5" font-family='"Liberation Serif", serif' textLength="25" lengthAdjust="spacingAndGlyphs">cS4</text>
<path d="M840 271h0m0 2h0m1-2h0m0 3h0m0-6h0m0-2h0m0 3h0m0-5h0m1 1h0m0-5h0m0 10h0m0-8h0m0 1h0m0 1h0m0-3h0m0 8h0m1-8h0m0 8h0m0-5h0m0-2h0m1-2h0m0 3h0m0-1h0m0-1h0m0-3h0m0 1h0m0 5h0m0 10h0m0-7h0m1-2h0m0 2h0m0-3h0m1 8h0m0-11h0m0 1h0m0 6h0m0-3h0m0-2h0m0 1h0m1 6h0m0-6h0m0-1h0m0 3h0m0-9h0m0 4h0m0 1h0m1 7h0m0-4h0m0-3h0m0 4h0m0 2h0m0-1h0m0-3h0m1 3h0m0 6h0m0 2h0m0-5h0m0-4h0m1-3h0m0 8h0m0-2h0m0-5h0m0 4h0m0-8h0m0 7h0m0-1h0m0-5h0m1 4h0m0 1h0m0 6h0m0-8h0m0 6h0m0-8h0m1 2h0m0-5h0m0 3h0m1-1h0m0 6h0m0-2h0m0-3h0m1-1h0m0-1h0m0 2h0m0 2h0m0 2h0m0-8h0m0-6h0m0 13h0m0-2h0m1 2h0m0-4h0m0 5h0m0-3h0m0-4h0m0 8h0m0-3h0m1-3h0m0 6h0m0-2h0m0-1h0m0-4h0m0-1h0m0 9h0m0-2h0m1-5h0m0 1h0m0 1h0m0-5h0m0 2h0m0 4h0m0-7h0m0 9h0m0 1h0m0-2h0m1 3h0m0-4h0m0 9h0m0-2h0m0-6h0m0-5h0m0 6h0m0 4h0m0 2h0m1-12h0m0 11h0m0 1h0m0 2h0m0-6h0m0-4h0m0 2h0m0-1h0m0 5h0m1 6h0m0-13h0m0 6h0m1 1h0m0-2h0m0 1h0m0 2h0m0-4h0m0 6h0m1-4h0m0-2h0m0 4h0m0 3h0m0-6h0m0 5h0m1-1h0m0 3h0m0-7h0m0 5h0m1 2h0m0-1h0m0-7h0m0 2h0m0 4h0m1-5h0m0 1h0m0-4h0m0 7h0m0-5h0m0-4h0m0 1h0m0 2h0m1 3h0m0-9h0m0 1h0m0 9h0m1-5h0m0-1h0m0 2h0m0-3h0m0-3h0m0-1h0m1 9h0m0-4h0m0-1h0m0 3h0m1-2h0m0-6h0m0 11h0m0-6h0m0 3h0m0 1h0m1-1h0m0-2h0m0 1h0m1-2h0m0 5h0m0-4h0m0-3h0m0 4h0m1-3h0m0-1h0m0 4h0m0 2h0m0 1h0m0-5h0m0 6h0m0 2h0m1-1h0m0 1h0m0-8h0m0 5h0m0-1h0m1-1h0m0-2h0m0 4h0m0 3h0m0-4h0m0-2h0m1 3h0m0-4h0m0 3h0m0-1h0m0-3h0m0-2h0m0 10h0m0 3h0m1-13h0m0 5h0m0 5h0m0-2h0m0-2h0m0-2h0m0-1h0m0 4h0m0-6h0m0 1h0m1 8h0m0-5h0m0-6h0m0 2h0m0 7h0m1-3h0m0-6h0m0 4h0m0 1h0m0 4h0m0-7h0m1 6h0m0-13h0m1 6h0m0 5h0m0 1h0m0-5h0m0-5h0m1 7h0m0-3h0m0 1h0m0 5h0m0-7h0m0 9h0m0-6h0m1 0h0m0 1h0m0 4h0m1-2h0m0-11h0m0 5h0m0 5h0m0-3h0m0-4h0m1 8h0m0-4h0m0-2h0m0 1h0m0 9h0m0-3h0m0 1h0m0-3h0m0-7h0m1 7h0m0-3h0m0-5h0m0 3h0m0-2h0m0 12h0m0-9h0m0-2h0m1 3h0m0-4h0m0 8h0m0 2h0m0-3h0m0 4h0m1-1h0m0-9h0m0 2h0m0 5h0m0-1h0m0-3h0m0 9h0m1-2h0m0 3h0m0 1h0m0-7h0m0-3h0m0 7h0m1-2h0m0 4h0m0-11h0m0 8h0m0 6h0m0-9h0m1 0h0m0 3h0m0-7h0m0 10h0m0-5h0m0-2h0m0-1h0m1 5h0m0-3h0m0 2h0m0 5h0m0-10h0m0 1h0m0 1h0m0 10h0m0-3h0m1-4h0m0 1h0m0 2h0m0-5h0m0-6h0m0 4h0m1 4h0m0-2h0m0-2h0m0 3h0m0 5h0m0-9h0m0-1h0m0 3h0m0-6h0m1 9h0m0-5h0m0 6h0m0-10h0m0 7h0m0-1h0m1-4h0m0 3h0m1 6h0m0-14h0m0 5h0m0 3h0m0-11h0m0 4h0m0 8h0m0-6h0m0 3h0m0 6h0m1-7h0m0 8h0m0-1h0m0-1h0m0-7h0m0 11h0m0-6h0m0-6h0m1 4h0m0-2h0m0 13h0m0-3h0m0-1h0m0-3h0m0 2h0m0-7h0m0 4h0m0 2h0m0-10h0m1-1h0m0-2h0m0 10h0m0-1h0m0-1h0m0-1h0m0 8h0m1-1h0m0-2h0m0-1h0m0-2h0m1-3h0m0 6h0m0-5h0m0 7h0m0-1h0m0-2h0m1 1h0m0-7h0m0 2h0m0-1h0m0 9h0m0-5h0m0 9h0m0-5h0m0 2h0m0 1h0m1-4h0m0-2h0m0 1h0m0 6h0m0-1h0m0-2h0m0 6h0m0-12h0m1 0h0m0 3h0m0 2h0m0 1h0m0 6h0m0-4h0m1-3h0m0 7h0m0-11h0m0 3h0m0 4h0m0-6h0m0-2h0m0 3h0m1 3h0m0 2h0m0-11h0m0 4h0m0 3h0m1 1h0m0-3h0m0-3h0m0 2h0m0-4h0m0 1h0m0 6h0m0-1h0m1 1h0m0 4h0m0-6h0m0 3h0m0-2h0m0-2h0m0 5h0m0-6h0m0-3h0m0 2h0m1 2h0m0 1h0m0-5h0m0 7h0m0-1h0m0-9h0m1 1h0m0 5h0m0 1h0m0-5h0m0 8h0m0-5h0m0 3h0m1 1h0m0-1h0m0 2h0m0-6h0m0 8h0m0-7h0m1-1h0m0 9h0m0-12h0m0 9h0m0-4h0m0 5h0m1 4h0m0-4h0m0-11h0m0 10h0m0-2h0m0-1h0m1 0h0m0-6h0m0 1h0m0-4h0m0 8h0m0-1h0m0-6h0m1 7h0m0-6h0m0 2h0m0 8h0m0-11h0m0 5h0m0-7h0m0 8h0m0 2h0m0-4h0m1 6h0m0-7h0m0 5h0m0 4h0m0-3h0m1-1h0m0-3h0m0 4h0m0-5h0m0 7h0m1-3h0m0 5h0m0-9h0m0-1h0m0 3h0m0-6h0m0 9h0m0-2h0m0 4h0m0-6h0m0 9h0m0-2h0m1-3h0m0 5h0m0-2h0m0 1h0m0-5h0m0 9h0m1-9h0m1 8h0m0-10h0m0 8h0m0-3h0m0 7h0m0-14h0m1 15h0m0-4h0m0-4h0m0 6h0m0-9h0m0 4h0m1 2h0m0-4h0m0-1h0m1 0h0m0 3h0m0-5h0m0 10h0m1-9h0m0-2h0m0 8h0m0-3h0m0-6h0m0-1h0m0 8h0m1 6h0m0-9h0m0-1h0m0 8h0m1-5h0m0-1h0m0 5h0m0-1h0m0-1h0m0 5h0m0-1h0m1-1h0m0-1h0m1-9h0m0 6h0m0-8h0m0 12h0m0-9h0m0 8h0m0-6h0m0-6h0m1 1h0m0 7h0m0 7h0m0-11h0m0 7h0m0-4h0m0-2h0m0 1h0m1-8h0m0 11h0m0-2h0m0-7h0m0 8h0m0-5h0m0-1h0m0 3h0m0-1h0m1-1h0m0-1h0m0-10h0m0 9h0m0 9h0m0-5h0m0 1h0m0-2h0m0 5h0m0-13h0m0 11h0m1-6h0m0-6h0m0 10h0m0-7h0m0 5h0m0 5h0m0-1h0m1-7h0m0 4h0m0 2h0m0-5h0m0 4h0m1-9h0m0 10h0m0-2h0m0-4h0m0 8h0m0-11h0m0 6h0m1-4h0m0 4h0m0-6h0m0 11h0m0-2h0m0-2h0m0-3h0m1 2h0m0-1h0m0 2h0m0 1h0m0-4h0m0 5h0m0-7h0m1 6h0m0-1h0m0 4h0m0-7h0m0 1h0m0-3h0m0 8h0m1-1h0m0-4h0m0 6h0m0-4h0m0 7h0m0 1h0m1-9h0m0 2h0m0-7h0m0 2h0m0 2h0m0-1h0m1-5h0m0 8h0m0-2h0m0 7h0m0 1h0m0-9h0m0 7h0m0-5h0m0 2h0m1-2h0m0 3h0m0-2h0m0-3h0m0 15h0m0-1h0m0-2h0m1-5h0m0-2h0m0-6h0m0 5h0m0-9h0m0 7h0m0 4h0m0-5h0m1-6h0m0 10h0m0-9h0m1 0h0m0 10h0m0-13h0m0 11h0m0-5h0m0-1h0m1 7h0m0-6h0m0-2h0m0 5h0m0-2h0m0 4h0m0-1h0m0 5h0m1-6h0m0 2h0m0-3h0m0 7h0m0-2h0m0 3h0m0-6h0m1 4h0m0-3h0m0 5h0m0-6h0m0-2h0m0 1h0m0 10h0m0-6h0m1 3h0m0 2h0m0-3h0m0-2h0m0 1h0m0-2h0m0-4h0m0 2h0m1 2h0m0 4h0m0-6h0m0-1h0m1-3h0m0-2h0m0 10h0m0-2h0m0 4h0m1-7h0m0 1h0m0 3h0m0-1h0m0 2h0m0 3h0m0-6h0m0 7h0m1-1h0m0-1h0m0-2h0m0-2h0m0-1h0m0-3h0m1 6h0m0-2h0m0-8h0m0 9h0m0-6h0m0 13h0m0-10h0m1-1h0m0 7h0m0-1h0m0-2h0m0-3h0m0 2h0m0 6h0m0-14h0m0 7h0m0-3h0m1 0h0m0 6h0m0-4h0m0 5h0m0-2h0m1-1h0m0-7h0m0 5h0m0 3h0m0 2h0m1-5h0m0-4h0m0 5h0m0-11h0m1 7h0m0 1h0m0 1h0m0 4h0m1-10h0m0 10h0m0-7h0m0 10h0m0-9h0m0 4h0m0-3h0m1 6h0m0-6h0m0 2h0m0 1h0m0-2h0m0 3h0m0 3h0m0-13h0m0 5h0m1 11h0m0-4h0m0-3h0m0-64h0m0 58h0m0 12h0m0-4h0m0 2h0m0-7h0m1 3h0m0 6h0m0-1h0m0 3h0m0-58h0m0 54h0m0-35h0m0 30h0m0-25h0m0 36h0m0 1h0m0-4h0m1-7h0m0-2h0m0 7h0m0-3h0m0-1h0m0 3h0m0-8h0m0 3h0m1 1h0m0 1h0m0-46h0m0 51h0m1-32h0m0 26h0m0 7h0m0-8h0m0 2h0m0 7h0m1-7h0m0-50h0m0 45h0m0-19h0m0 27h0m0 2h0m0-3h0m1-23h0m0 21h0m0-4h0m0 3h0m0-2h0m0 4h0m1-4h0m0-6h0m0 9h0m0-4h0m0 3h0m0-4h0m1-4h0m0 4h0m0 6h0m0 7h0m0-3h0m0-2h0m0-3h0m0-3h0m0 9h0m0-4h0m1-1h0m0-2h0m0-2h0m0-4h0m0 9h0m0-7h0m0-1h0m0 6h0m1-7h0m0 2h0m0 2h0m0 3h0m0-1h0m0-11h0m0 8h0m0-6h0m0 11h0m0-3h0m1 0h0m0 7h0m0-4h0m0 3h0m0 3h0m1-49h0m0 40h0m0-58h0m0 62h0m0-1h0m0 5h0m1-42h0m0-16h0m0 58h0m0-5h0m0 4h0m0 3h0m0-5h0m0-8h0m0 4h0m0 1h0m1-3h0m0 2h0m0 1h0m0-68h0m0 62h0m0 2h0m0-4h0m1-51h0m0 54h0m0-29h0m0 30h0m0 2h0m0 5h0m0-4h0m0-5h0m0 10h0m0-7h0m0 5h0m0-1h0m1-3h0m0 2h0m0 2h0m0-68h0m0 67h0m1-7h0m0 4h0m0 2h0m0 8h0m0-6h0m0 4h0m0-11h0m0 6h0m0-41h0m1 37h0m0-45h0m0 51h0m0-4h0m0 7h0m1-8h0m0 1h0m0 6h0m1 2h0m0-5h0m0 1h0m0 2h0m0-8h0m0 2h0m0 1h0m1 6h0m0-9h0m0 4h0m0 1h0m0 1h0m0-5h0m1 0h0m0 4h0m0-41h0m0 34h0m0-9h0m0-126h0m0 81h0m0-65h0m0 74h0m0-67h0m0 22h0m1 35h0m0-24h0m0-58h0m0 131h0m0-5h0m0-102h0m0-23h0m0 127h0m0-82h0m0-31h0m0 121h0m0-86h0m0 82h0m0-111h0m0 9h0m0 99h0m0-84h0m0 95h0m0-2h0m0-11h0m0-66h0m0-49h0m1 127h0m0-3h0m0-74h0m0-33h0m0-21h0m0 29h0m0 98h0m0-14h0m0-79h0m0-10h0m0 98h0m0 1h0m0-95h0m0 91h0m0 10h0m0-11h0m0-130h0m0 129h0m0-40h0m0-39h0m0 78h0m1-56h0m0-26h0m0 98h0m0-115h0m0 105h0m0-1h0m0-51h0m0-16h0m0 63h0m0-68h0m0-54h0m0 119h0m0 4h0m0 11h0m0-113h0m0-6h0m1 111h0m0 5h0m0-91h0m0-46h0m0 144h0m0-111h0m0 102h0m0-42h0m0-44h0m0 84h0m0-80h0m0 81h0m0-61h0m0-25h0m0-9h0m0 102h0m1-74h0m0-13h0m0 24h0m0-22h0m0-18h0m0 13h0m0-55h0m0 127h0m0 5h0m0-56h0m0 49h0m1-116h0m0 134h0m0-16h0m0 14h0m0-110h0m0 108h0m0-3h0m0 8h0m0-9h0m0-1h0m0-88h0m0-11h0m0-11h0m1-20h0m0 144h0m0-97h0m0-36h0m0 129h0m0-11h0m0 2h0m0 7h0m0-119h0m0 115h0m0 7h0m0-109h0m0-20h0m0 134h0m0-110h0m0 22h0m1-26h0m0 104h0m0 2h0m0-3h0m0-9h0m0-129h0m0 69h0m0 10h0m0 61h0m0-109h0m0 35h0m0 34h0m0-1h0m0 25h0m0-102h0m0 122h0m0-2h0m0-31h0m1-35h0m0-40h0m0 2h0m0-18h0m0 96h0m0-36h0m0-35h0m0-32h0m0 140h0m0-57h0m0 34h0m0-80h0m0 9h0m0 4h0m0-40h0m0 1h0m0-3h0m0 126h0m0-95h0m0 65h0m0-69h0m0 65h0m0-94h0m0 122h0m0-85h0m1-18h0m0-13h0m0 81h0m0-47h0m0 46h0m0-47h0m0-15h0m0-29h0m0 6h0m0 22h0m0-11h0m0 103h0m0 10h0m0-2h0m0-97h0m0 3h0m0-30h0m1 36h0m0-7h0m0-38h0m0 138h0m0-16h0m0 15h0m0-11h0m0 5h0m0-17h0m0-140h0m0 146h0m0-5h0m0-134h0m0 13h0m0 16h0m0-43h0m0 3h0m0 142h0m0-65h0m0-13h0m0 87h0m0 9h0m0-94h0m0 97h0m0-9h0m0-107h0m0-13h0m1 116h0m0-141h0m0 145h0m0-69h0m0-15h0m0-46h0m0 120h0m0 20h0m0-15h0m0-136h0m0 12h0m0 10h0m0-7h0m0 50h0m0-76h0m1 159h0m0 1h0m0-118h0m0 111h0m0-132h0m0 118h0m0-104h0m0 112h0m0-139h0m0-1h0m0 147h0m0-10h0m0-93h0m0-52h0m0 39h0m0 110h0m0-111h0m1 109h0m0 2h0m0-100h0m0 40h0m0-52h0m0-4h0m0 117h0m0-134h0m0 5h0m0-4h0m0 29h0m0-15h0m0 124h0m0 9h0m0-159h0m0-4h0m0 51h0m0-22h0m0 28h0m0 35h0m0 61h0m0-144h0m0 57h0m0-40h0m0 84h0m0-13h0m0 14h0m1-26h0m0-27h0m0 92h0m0-107h0m0 52h0m0 52h0m0-56h0m0 62h0m0-101h0m0 9h0m0 77h0m0-87h0m0 8h0m0 81h0m0-62h0m0-12h0m0 83h0m0 9h0m0-61h0m0-18h0m0 30h0m0 46h0m1-57h0m0 51h0m0 7h0m0-104h0m0 42h0m0 25h0m0 35h0m0 7h0m0-103h0m0 21h0m0 10h0m0-13h0m0 79h0m0-32h0m0-54h0m0-19h0m0 113h0m0-13h0m0-57h0m0 15h0m0 37h0m0-43h0m0-15h0m1 54h0m0 26h0m0-14h0m0-23h0m0-44h0m0 70h0m0-66h0m0 30h0m0 31h0m0-94h0m0 105h0m0-47h0m0-44h0m0 88h0m0-11h0m0-25h0m0 31h0m1-74h0m0 65h0m0-49h0m0 41h0m0-82h0m0 104h0m0-32h0m0 29h0m0-77h0m0 15h0m0 45h0m0 11h0m0 5h0m0-26h0m0 14h0m0 9h0m0-71h0m0 30h0m0-3h0m0-37h0m0 32h0m1 52h0m0-47h0m0 35h0m0-50h0m0 59h0m0 1h0m0-44h0m0 11h0m0-48h0m0 78h0m0-79h0m0 83h0m0-3h0m0-107h0m0 77h0m0-30h0m0-14h0m0-82h0m0 166h0m0-2h0m1-151h0m0 150h0m0-6h0m0-121h0m0 117h0m0-174h0m0 46h0m0-15h0m0 20h0m0 144h0m0-143h0m0 138h0m0-149h0m0 49h0m0-24h0m0-37h0m0 158h0m0-116h0m0 118h0m1 4h0m0-113h0m0-14h0m0-41h0m0 42h0m0-29h0m0 41h0m0 100h0m0-97h0m0-60h0m0 164h0m0-122h0m0-52h0m1 177h0m0-110h0m0-25h0m0 138h0m0-128h0m0-34h0m0-16h0m0 11h0m0 23h0m0 9h0m0 128h0m0-177h0m0 64h0m0-12h0m0 122h0m1 7h0m0-5h0m0 1h0m0-68h0m0-87h0m0 150h0m0 1h0m0 1h0m0-108h0m0-54h0m0-4h0m0 181h0m0-126h0m0-38h0m0 155h0m0-148h0m0 38h0m0-53h0m0-8h0m0 173h0m0-127h0m0 115h0m1-106h0m0-29h0m0 135h0m0 1h0m0 1h0m0-157h0m0 160h0m0 6h0m0-135h0m0-44h0m0 167h0m0-158h0m0 163h0m0-101h0m0-55h0m0 19h0m0 5h0m0 122h0m0-135h0m0 32h0m1-16h0m0-47h0m0 64h0m0-50h0m0 158h0m0-4h0m0-24h0m0 36h0m0-141h0m0 16h0m0-28h0m0 144h0m0-149h0m0-24h0m0 177h0m0-137h0m0 31h0m0 23h0m0 84h0m0-109h0m0 119h0m1-123h0m0 22h0m0 89h0m0-133h0m0 57h0m0-40h0m0 117h0m0-142h0m0 147h0m0-1h0m0 10h0m0-120h0m0-23h0m0 139h0m0-147h0m0 50h0m1 91h0m0-123h0m0-3h0m0 67h0m0-52h0m0 123h0m0-16h0m0 9h0m0 4h0m0-182h0m0 188h0m0-8h0m0-108h0m0-51h0m0 52h0m0-41h0m0 140h0m0-96h0m0 39h0m0 17h0m1-112h0m0-19h0m0 177h0m0-118h0m0-20h0m0 129h0m0 4h0m0 1h0m0 11h0m0-117h0m0 32h0m0-57h0m0 134h0m0-13h0m0-126h0m0-34h0m0 171h0m0-105h0m0-54h0m0 30h0m0 125h0m1 4h0m0-114h0m0 117h0m0-173h0m0 34h0m0 129h0m0 8h0m0-185h0m0 180h0m0-89h0m0-55h0m0 159h0m0-174h0m0 39h0m0-17h0m0 136h0m0-94h0m0-23h0m1 85h0m0 35h0m0-2h0m0-6h0m0-146h0m0 16h0m0 38h0m0 2h0m0 89h0m0 12h0m0-1h0m0-148h0m0 142h0m0-1h0m0-137h0m0 22h0m1-41h0m0 164h0m0 8h0m0-165h0m0 18h0m0-4h0m0 136h0m0 2h0m0-158h0m0-23h0m0 27h0m0 51h0m0-74h0m0 34h0m0 140h0m0 2h0m0-3h0m0 6h0m1-6h0m0-4h0m0-158h0m0 170h0m0-116h0m0 110h0m0-128h0m0 16h0m0 22h0m0-58h0m0 21h0m0 116h0m0-136h0m0 10h0m0 6h0m0 127h0m0-146h0m0 143h0m0 11h0m0-92h0m0-42h0m1 148h0m0-190h0m0 60h0m0-21h0m0-13h0m0-29h0m0 40h0m0-21h0m0 8h0m0 146h0m0-178h0m0 188h0m0-13h0m0 7h0m0-163h0m0 39h0m0 28h0m0 104h0m0-163h0m0 26h0m0 118h0m0-84h0m1 85h0m0-122h0m0 1h0m0 36h0m0-42h0m0-4h0m0 107h0m0-46h0m0-47h0m0 28h0m0-2h0m0 8h0m0 88h0m0 2h0m0-112h0m0-15h0m0 5h0m0 18h0m0 100h0m0-8h0m1-70h0m0 75h0m0-46h0m0-35h0m0-40h0m0-17h0m0-26h0m0 11h0m0 20h0m0 2h0m0 49h0m0-19h0m0-6h0m0 110h0m0-121h0m0 4h0m0-52h0m0 125h0m0-128h0m0 181h0m0-160h0m0 44h0m0 112h0m0-134h0m0 15h0m0 115h0m0-132h0m0-27h0m0 166h0m1-9h0m0 10h0m0-8h0m0-3h0m0 5h0m1 2h0m0-13h0m0 22h0m0-14h0m0 1h0m0 3h0m0 9h0m1-15h0m0 5h0m0 1h0m0 1h0m0 7h0m0-3h0m0-1h0m0 5h0m0-3h0m1-4h0m0-4h0m0-3h0m0 15h0m0-6h0m0-3h0m1 11h0m0-12h0m0 7h0m0-9h0m0 11h0m0-15h0m0 9h0m1-12h0m0 13h0m0-5h0m0 4h0m0 2h0m0 6h0m0-1h0m0-8h0m1 3h0m0 3h0m0 3h0m0 1h0m1 1h0m0-7h0m0-27h0m0 22h0m0 7h0m1-13h0m0 7h0m0-3h0m0 4h0m0 1h0m0-7h0m0-9h0m0 12h0m0-4h0m0 2h0m0 3h0m1-2h0m0-21h0m0 20h0m0 4h0m0-6h0m1 1h0m0 5h0m0-1h0m0-3h0m0 2h0m1-3h0m0 2h0m0-3h0m0-23h0m0 12h0m0 8h0m1 0h0m0 4h0m0-18h0m0 26h0m0-27h0m0 25h0m1-8h0m0 1h0m0 2h0m0-5h0m0 1h0m0 3h0m1 0h0m0-15h0m0 18h0m0-4h0m0-3h0m0 2h0m0 4h0m0 6h0m0-4h0m0-15h0m0 2h0m0 10h0m1-2h0m0 11h0m0-8h0m0-7h0m0 8h0m1 0h0m0-4h0m0-3h0m0-4h0m0 8h0m0 9h0m0-4h0m0-11h0m0 3h0m0 10h0m0 3h0m1-5h0m0 14h0m0-13h0m0 3h0m0 2h0m0 3h0m1-1h0m0-11h0m0 16h0m0-9h0m0-1h0m0 7h0m0-12h0m0 9h0m1 0h0m0-4h0m0-8h0m0 6h0m0-93h0m0 92h0m0-116h0m0 10h0m0 40h0m1 69h0m0-3h0m0-133h0m0 141h0m0-156h0m0 18h0m0 111h0m0-104h0m0 42h0m0 76h0m0-101h0m0 23h0m0-7h0m0 83h0m0-82h0m0 87h0m0 1h0m0 3h0m0-128h0m0 60h0m0-69h0m1 125h0m0-94h0m0 105h0m0-96h0m0 95h0m0-80h0m0-35h0m0 21h0m0 97h0m0-120h0m0 79h0m0-30h0m0 20h0m0-12h0m0 14h0m0-52h0m0 25h0m0 79h0m0-2h0m1 0h0m0 7h0m0-55h0m0-44h0m0 21h0m0 77h0m0 9h0m0-119h0m0 39h0m0-37h0m0 100h0m0-50h0m0-80h0m0 72h0m0-68h0m0 133h0m0-3h0m0-105h0m0 35h0m0-15h0m0 34h0m0-44h0m0 97h0m0 7h0m0-58h0m0-25h0m1-32h0m0 84h0m0-41h0m0-33h0m0 73h0m0-29h0m0-4h0m0-14h0m0 71h0m0-43h0m0 42h0m0 7h0m0-83h0m0 74h0m0-49h0m0-48h0m0 94h0m0-60h0m0 40h0m0-46h0m1 57h0m0 23h0m0-42h0m0-10h0m0-83h0m0 130h0m0-52h0m0 53h0m0 2h0m0-61h0m0 66h0m0-17h0m0 4h0m0-73h0m0 88h0m0-69h0m0-47h0m0 62h0m0-21h0m0-1h0m0 63h0m1 3h0m0-45h0m0 33h0m0 1h0m0 15h0m0-18h0m0 6h0m0-49h0m0-36h0m0 61h0m0 10h0m0-6h0m0 5h0m0-24h0m0 57h0m0-80h0m0-17h0m0 35h0m0 33h0m0-78h0m0 54h0m1 36h0m0-51h0m0 41h0m0-51h0m0 59h0m0 10h0m0-52h0m0 35h0m0-88h0m0 103h0m0-9h0m0-2h0m0-37h0m0 46h0m0-82h0m0 90h0m0-13h0m0-35h0m0-16h0m0-22h0m1 68h0m0-91h0m0 11h0m0 58h0m0 24h0m0-100h0m0-44h0m0 79h0m0-57h0m0 112h0m0-68h0m0 75h0m0-78h0m0-51h0m1 99h0m0 34h0m0-9h0m0 3h0m0-39h0m0-64h0m0 17h0m0 88h0m0 8h0m0-57h0m0-34h0m0 82h0m0 15h0m0-65h0m0 47h0m0-104h0m0-18h0m0 23h0m0 96h0m0 4h0m0-103h0m0 9h0m1-1h0m0-29h0m0-7h0m0 128h0m0-107h0m0 18h0m0-26h0m0 126h0m0-89h0m0-16h0m0 100h0m0-4h0m0-3h0m0-107h0m0 113h0m0-55h0m0 59h0m0-143h0m0 113h0m1-42h0m0 7h0m0-63h0m0 23h0m0 32h0m0 60h0m0-48h0m0-43h0m0 8h0m0 101h0m0-88h0m0 5h0m0 76h0m0-92h0m0 80h0m0-86h0m0 95h0m1-149h0m0 145h0m0-41h0m0 49h0m0 2h0m0-81h0m0-42h0m0 69h0m0-19h0m0 11h0m0-27h0m0 82h0m0-108h0m0 3h0m0-14h0m0 127h0m0-118h0m0 25h0m0 81h0m1-118h0m0 111h0m0-81h0m0-47h0m0 26h0m0 123h0m0-8h0m0-109h0m0-4h0m0 15h0m0-12h0m0 104h0m0 8h0m0-7h0m0-79h0m0-1h0m0-35h0m0 34h0m0-33h0m1 122h0m0 3h0m0-144h0m0 142h0m0-84h0m0-3h0m0 78h0m0-80h0m0-13h0m0-3h0m0-1h0m0 100h0m0-1h0m0-102h0m0-8h0m0 27h0m0-20h0m0 3h0m0 110h0m0-84h0m0-30h0m1 21h0m0 92h0m0-56h0m0 58h0m0-4h0m0 3h0m0-104h0m0 107h0m0-128h0m0 138h0m0-160h0m0 159h0m0-120h0m0 118h0m0-165h0m1 172h0m0-4h0m0-10h0m0-118h0m0 38h0m0 22h0m0-34h0m0 35h0m0-12h0m0-40h0m0 120h0m0-151h0m0 54h0m0 9h0m0 89h0m0-6h0m0-119h0m0-20h0m0 132h0m0-93h0m0 98h0m0-3h0m0 2h0m1 0h0m0-130h0m0 3h0m0 138h0m0-20h0m0 16h0m0-80h0m0 72h0m0-100h0m0 33h0m0-50h0m0 115h0m0-99h0m0 98h0m0-101h0m0 115h0m0-8h0m0-7h0m0-106h0m0 109h0m0-97h0m0-9h0m1 17h0m0-60h0m0 31h0m0-11h0m0 39h0m0-4h0m0 87h0m0 20h0m0-158h0m0 4h0m0 1h0m0 145h0m1-80h0m0 33h0m0-88h0m0-3h0m0 81h0m0-18h0m0-44h0m0 91h0m0 31h0m0-54h0m0-41h0m0-15h0m0 100h0m0-56h0m0-28h0m0 95h0m0-115h0m0 112h0m0 9h0m0-112h0m0 16h0m0 80h0m0 5h0m0-72h0m1 69h0m0 6h0m0-8h0m0-8h0m0 17h0m1-7h0m0-12h0m0 10h0m0-4h0m0-11h0m0 3h0m0 10h0m0-6h0m1-4h0m0 10h0m0-5h0m0 1h0m0-4h0m0 2h0m0-5h0m0-5h0m1 12h0m0 1h0m0 5h0m0-18h0m0 19h0m0-10h0m0-1h0m0-5h0m0 7h0m1 3h0m0 7h0m0-3h0m0-15h0m0 9h0m0-2h0m0-1h0m1 14h0m0-12h0m0 1h0m0 8h0m0-4h0m1-9h0m0 7h0m0-6h0m0 1h0m0 6h0m0 1h0m0-13h0m0 2h0m0 12h0m0-5h0m1-3h0m0-14h0m0-24h0m0 48h0m0 5h0m0-4h0m1-14h0m0 19h0m0-17h0m0-21h0m0 23h0m0 9h0m0-36h0m0 34h0m0 3h0m0-5h0m1-7h0m0 7h0m0 1h0m0-3h0m0-6h0m0 7h0m0-3h0m0 12h0m0-4h0m0 6h0m0-13h0m1 6h0m0-5h0m0 2h0m0-3h0m0-3h0m0-23h0m0 16h0m0 15h0m0-23h0m0 22h0m0 9h0m0-19h0m1 10h0m0 3h0m0-13h0m0 18h0m0-12h0m0 2h0m0-7h0m0 4h0m0 4h0m0 2h0m0 3h0m1-6h0m0-9h0m0-24h0m0 34h0m0 2h0m0-11h0m0 14h0m0-4h0m0-15h0m1 6h0m0 5h0m0 6h0m0-10h0m0-4h0m0-7h0m0 17h0m1 0h0m0-4h0m0-1h0m0 3h0m0-5h0m1 1h0m0 2h0m0-4h0m0 9h0m1 3h0m0-5h0m0-8h0m0 4h0m0 5h0m0-4h0m0 6h0m0-4h0m0-4h0m1-1h0m0-14h0m0 17h0m0 4h0m0-14h0m0 3h0m0 10h0m0-135h0m0 33h0m0 109h0m1-8h0m0-6h0m0-108h0m0 12h0m0 108h0m0-111h0m0 103h0m0-11h0m0-106h0m0-2h0m0-3h0m0 131h0m0-135h0m0 93h0m0 18h0m0-64h0m0 71h0m0-97h0m0 111h0m0-103h0m0-10h0m0 12h0m0-14h0m0 112h0m0-2h0m0-89h0m1 93h0m0-101h0m0-3h0m0 98h0m0-83h0m0-38h0m0 125h0m0-108h0m0 102h0m0 14h0m0-144h0m0 150h0m0-146h0m0 6h0m0 10h0m0 126h0m0 6h0m0-21h0m0-98h0m0 44h0m0-75h0m0 140h0m0-128h0m0 126h0m0-132h0m0 129h0m1-115h0m0 10h0m0 99h0m0-90h0m0-21h0m0 112h0m0-106h0m0 111h0m0-109h0m0 66h0m0 42h0m0-6h0m0 10h0m0-82h0m0-18h0m0 48h0m0-57h0m0-23h0m0 96h0m0-61h0m0 95h0m0 1h0m0-103h0m0-1h0m0-12h0m0 120h0m0-129h0m1-1h0m0 125h0m0-103h0m0 79h0m0 23h0m0-111h0m0-4h0m0 119h0m0-132h0m0 31h0m0-9h0m0 10h0m0 105h0m0-18h0m0 11h0m1-103h0m0 106h0m0-126h0m0 123h0m0-7h0m0 8h0m0-2h0m0-118h0m0 57h0m0-53h0m0 5h0m0 6h0m0 2h0m0 1h0m0 93h0m1-4h0m0-86h0m0 35h0m0-30h0m0-18h0m0 103h0m0-80h0m0 82h0m0-93h0m0-6h0m0 95h0m0-99h0m0 26h0m0-18h0m0 96h0m0-108h0m0-16h0m0 126h0m0-112h0m1 103h0m0-3h0m0-86h0m0 90h0m0-92h0m0-4h0m0 40h0m0-44h0m0 62h0m0-68h0m0 114h0m0-111h0m0-8h0m0 117h0m0-105h0m0 114h0m0-100h0m0 104h0m1-126h0m0 117h0m0-128h0m0 80h0m0 44h0m0 8h0m0-141h0m0 10h0m0 13h0m0 72h0m0-7h0m0 47h0m0-129h0m0 6h0m0 112h0m0-100h0m0 110h0m0 2h0m0-55h0m0 50h0m0-99h0m0 10h0m0-39h0m1 26h0m0-8h0m0 116h0m0-9h0m0 7h0m0-113h0m0 11h0m0 94h0m0 3h0m0-32h0m0-26h0m0-55h0m0 108h0m0-112h0m0-4h0m0 7h0m0 125h0m0-54h0m1-67h0m0-13h0m0 25h0m0 97h0m0 8h0m0-71h0m0 73h0m0-9h0m0 5h0m0-2h0m0-100h0m0 110h0m0-5h0m0-73h0m0-20h0m0-3h0m0-14h0m0-6h0m0 24h0m0 94h0m0-136h0m1 77h0m0-66h0m0 129h0m0-2h0m0-125h0m0 36h0m0 88h0m0-1h0m0-3h0m0-105h0m0 100h0m0 4h0m0-77h0m0 88h0m0-8h0m0-115h0m0 9h0m0-4h0m0 60h0m0-23h0m1-35h0m0-12h0m0 127h0m0-126h0m0 1h0m0 17h0m0 107h0m0 7h0m0-125h0m0 7h0m0-17h0m0 122h0m0-97h0m0 50h0m0-47h0m1-28h0m0 7h0m0-19h0m0 17h0m0 119h0m0-4h0m0-123h0m0 126h0m0-2h0m0 9h0m0-137h0m0 8h0m0-17h0m0 149h0m0-138h0m0 134h0m1-2h0m0-125h0m0 117h0m0 3h0m0 15h0m0-140h0m0-6h0m0 137h0m0-143h0m0 28h0m0 98h0m0-118h0m0 10h0m0 127h0m0-6h0m0-109h0m0 103h0m0-122h0m0 16h0m0-2h0m0 12h0m0-11h0m1-9h0m0 121h0m0-6h0m0 1h0m0-100h0m0 107h0m0-109h0m0-12h0m0 29h0m0-19h0m0 3h0m0 105h0m0-98h0m0-14h0m0 1h0m0 4h0m0-16h0m0 20h0m0 100h0m0-6h0m0-46h0m0 59h0m1-107h0m0 22h0m0-10h0m0 94h0m0 4h0m0-16h0m0 8h0m0-3h0m0 2h0m0-62h0m0-37h0m0 49h0m0-52h0m0-11h0m0 2h0m0-31h0m0 22h0m0 117h0m0-5h0m0 12h0m0-89h0m0 87h0m1-98h0m0-6h0m0 94h0m0-76h0m0 15h0m0-43h0m0-4h0m0-2h0m0 116h0m0-93h0m0 94h0m0-15h0m0-43h0m0 56h0m0-104h0m1 97h0m0-88h0m0 84h0m0 16h0m0-98h0m0 102h0m0-121h0m0 16h0m0 98h0m0-1h0m0-88h0m0-37h0m0-3h0m0-3h0m0 126h0m1-128h0m0 131h0m0-117h0m0 114h0m0-45h0m0-88h0m0 15h0m0 17h0m0 106h0m0 14h0m0-73h0m0-50h0m0 103h0m0 2h0m0 17h0m0-11h0m0-59h0m0 61h0m0-1h0m0-123h0m0 47h0m0 80h0m1-114h0m0-7h0m0 42h0m0-65h0m0 153h0m0-20h0m0-117h0m0 128h0m0-141h0m0 21h0m0 112h0m0-102h0m0-15h0m1 18h0m0-5h0m0 7h0m0-3h0m0 102h0m0-104h0m0 98h0m0-72h0m0-33h0m0 2h0m0 14h0m0 94h0m0-71h0m0 67h0m1-115h0m0 115h0m0-3h0m0 16h0m0-98h0m0-31h0m0-4h0m0 14h0m0 104h0m0-100h0m0 103h0m0-110h0m0 115h0m0-10h0m0 3h0m0-107h0m0 112h0m1-119h0m0 120h0m0-128h0m0 3h0m0-5h0m0 11h0m0 114h0m0-122h0m0 110h0m0 9h0m0-86h0m0 87h0m0-91h0m0 104h0m0-118h0m0 92h0m0 11h0m0-97h0m0 108h0m0-136h0m0 11h0m0 10h0m1 107h0m0-124h0m0 123h0m0 10h0m0-8h0m0-123h0m0 15h0m0 12h0m0-24h0m0 8h0m0 108h0m0 5h0m1-2h0m0-121h0m0 129h0m0-128h0m0 3h0m0 123h0m0-136h0m0 66h0m0-38h0m0 106h0m0-132h0m0 140h0m0-14h0m0-73h0m0-35h0m1 121h0m0 8h0m0-12h0m0-3h0m0-6h0m0-100h0m0 91h0m0-76h0m0 17h0m0-26h0m0-19h0m0 114h0m0-115h0m0 44h0m0 75h0m0-112h0m0 90h0m0-79h0m0 85h0m0-68h0m0 5h0m0-34h0m0 18h0m0 28h0m0-30h0m0 1h0m0-10h0m1 108h0m0-41h0m0-50h0m0 89h0m0-4h0m0-100h0m0 3h0m0 98h0m0-109h0m0 58h0m0-26h0m0-22h0m0-1h0m0-14h0m0 121h0m1-1h0m0-126h0m0 20h0m0 31h0m0-25h0m0-31h0m0 17h0m0-2h0m0 114h0m0-125h0m0 129h0m0-31h0m0-56h0m0-38h0m0 19h0m0-9h0m0 83h0m0-36h0m0-16h0m0 70h0m1 2h0m0-107h0m0-1h0m0 17h0m0-3h0m0 14h0m0 8h0m0 78h0m0 5h0m0-116h0m0 13h0m0 95h0m0 13h0m0-11h0m0 2h0m0-23h0m0-7h0m0-72h0m0 104h0m0-1h0m1-89h0m0 3h0m0-31h0m0 124h0m0-4h0m0-91h0m0-10h0m0 97h0m0-3h0m0-92h0m0 35h0m0-40h0m0-11h0m0-2h0m0 50h0m0 61h0m1-122h0m0 119h0m0-110h0m0-12h0m0 24h0m0 72h0m0 19h0m0-83h0m0 88h0m0-90h0m0-12h0m0 3h0m0 111h0m0-5h0m0 4h0m0-37h0m0 40h0m0-119h0m0 123h0m0-121h0m0 107h0m1-111h0m0 112h0m0-132h0m0 138h0m0-129h0m0 126h0m0-123h0m0-5h0m0 121h0m0-97h0m0 10h0m0-16h0m0 62h0m0-51h0m0 2h0m0-1h0m0 51h0m0 53h0m1-111h0m0 93h0m0 6h0m0-37h0m0-45h0m0 4h0m0-30h0m0 119h0m0-3h0m0-10h0m0 4h0m0-115h0m0 114h0m0 19h0m0-46h0m0 33h0m0-110h0m0 118h0m0-109h0m0 6h0m1 11h0m0 87h0m0-7h0m0-42h0m0-76h0m0 20h0m0-7h0m0 98h0m0-31h0m0 49h0m0-3h0m0-7h0m0-102h0m0 106h0m0 8h0m0-85h0m0-31h0m0 44h0m1 63h0m0-35h0m0-21h0m0-70h0m0 16h0m0 104h0m0 14h0m0-47h0m0-73h0m0 111h0m0-42h0m0-7h0m0-49h0m0-6h0m0 8h0m0 22h0m0-45h0m0 19h0m1 100h0m0-28h0m0-92h0m0 118h0m0-14h0m0-67h0m0 14h0m0-38h0m0 10h0m0 64h0m0-48h0m0 74h0m0-99h0m0 110h0m0-81h0m0 1h0m0 10h0m0 53h0m0 12h0m0-99h0m0 57h0m0-75h0m0 124h0m0-111h0m0 9h0m1 15h0m0-48h0m0 126h0m0-59h0m0 65h0m0-39h0m0 35h0m0 7h0m0-12h0m0-101h0m0 99h0m0-91h0m0-2h0m0 61h0m0-86h0m0 87h0m0-85h0m0 124h0m0 4h0m0 1h0m0-103h0m0 105h0m0-124h0m1 58h0m0 12h0m0 6h0m0 34h0m0-113h0m0-5h0m0 130h0m0-138h0m0 6h0m0 128h0m0-127h0m0 128h0m0-121h0m0 76h0m0-87h0m0 118h0m0-51h0m0-58h0m0 63h0m0-66h0m0 19h0m1 109h0m0-59h0m0-50h0m0 8h0m0-17h0m0 54h0m0-64h0m0 126h0m0 10h0m0-16h0m0-119h0m0 10h0m0-12h0m0 148h0m0-22h0m0-62h0m0 51h0m0 30h0m0-155h0m0 122h0m0-114h0m0 126h0m0 10h0m0-141h0m0 55h0m0 56h0m0-96h0m0 122h0m0-21h0m0-87h0m0-31h0m0 137h0m0-11h0m0-129h0m1 14h0m0 30h0m0-23h0m0 121h0m0-106h0m0 105h0m0-3h0m0-39h0m0 53h0m0-5h0m0-129h0m0 102h0m0-74h0m0 98h0m0-39h0m0-7h0m0-29h0m1 74h0m0-3h0m0-1h0m0 6h0m0-9h0m0-27h0m0 23h0m0-31h0m0 11h0m1 34h0m0-65h0m0 42h0m0-95h0m0 85h0m0-1h0m0-3h0m0 32h0m0-1h0m1 7h0m0-8h0m0 5h0m0 2h0m0-8h0m0 2h0m0 9h0m1 1h0m0-10h0m0 7h0m0-12h0m0-2h0m0 3h0m0 1h0m1 12h0m0-13h0m0 8h0m0-6h0m0 10h0m0-3h0m1-3h0m0-3h0m0-1h0m0-12h0m0 17h0m0-2h0m0 3h0m0-8h0m0-1h0m0-3h0m0-1h0m1 12h0m0-7h0m0 4h0m0-6h0m0 5h0m0-4h0m1 7h0m0 1h0m0-3h0m0 6h0m0-5h0m0 3h0m0 7h0m1-7h0m0 1h0m0 4h0m0-1h0m0-10h0m1-6h0m0 11h0m0-4h0m0-2h0m0 8h0m1-10h0m0-1h0m0 4h0m0 2h0m0-4h0m0 1h0m0 5h0m0-3h0m0 5h0m1 4h0m0 2h0m0-5h0m0 4h0m0-3h0m0-4h0m0-6h0m0 1h0m0 7h0m0-3h0m1 5h0m0 1h0m0-4h0m0 1h0m0-2h0m0-3h0m0 10h0m0-13h0m0 2h0m0 10h0m0 2h0m0-9h0m1 7h0m0-4h0m0 3h0m0-10h0m0 2h0m0 7h0m0 3h0m0-7h0m0 3h0m1-1h0m0 1h0m1 5h0m0-2h0m0 1h0m0-17h0m0 23h0m0-12h0m0 3h0m0-5h0m1 9h0m0-19h0m0 13h0m0-2h0m0 6h0m1-9h0m0 1h0m0 3h0m0 1h0m0-3h0m0-3h0m0 8h0m0 1h0m0 4h0m1-3h0m0-10h0m0 11h0m0-2h0m1-3h0m0 8h0m0-6h0m0-1h0m0-2h0m0-3h0m0 7h0m1-7h0m0 4h0m0-3h0m0 2h0m0 6h0m0-12h0m0 10h0m1-7h0m0-4h0m0 2h0m0 3h0m0 2h0m1-5h0m0-4h0m0 8h0m0 4h0m0-2h0m0-66h0m0-8h0m0 27h0m0 42h0m0-96h0m0 87h0m1-23h0m0 26h0m0-27h0m0 32h0m0-12h0m0-3h0m0-38h0m0 52h0m0-8h0m0-93h0m0 98h0m0-72h0m0 63h0m0-60h0m0 34h0m0 37h0m0-39h0m0-16h0m1 48h0m0 18h0m0-48h0m0-6h0m0 35h0m0-44h0m0 11h0m0 38h0m0-85h0m0 6h0m0 6h0m0 25h0m0 56h0m0-92h0m1 89h0m0 2h0m0-132h0m0 118h0m0 7h0m0-95h0m0 99h0m0-8h0m0-6h0m0-47h0m0 67h0m0-9h0m0-16h0m0-37h0m0 58h0m0-28h0m1 23h0m0 4h0m0-50h0m0 53h0m0 5h0m0-3h0m0 4h0m0-14h0m0-28h0m0-3h0m0 40h0m0-85h0m0 39h0m0 49h0m0 3h0m0-119h0m1 113h0m0-1h0m0-84h0m0-14h0m0 41h0m0 56h0m0 18h0m0-65h0m0 55h0m0-5h0m1-20h0m0 14h0m0 7h0m0 2h0m0-45h0m0-19h0m0-22h0m0 87h0m0-68h0m0-54h0m0 110h0m0-85h0m0 93h0m0-4h0m0-47h0m0-24h0m0 50h0m0 11h0m0-43h0m0 30h0m0-53h0m0 21h0m0 9h0m1-10h0m0 71h0m0-66h0m0 14h0m0-55h0m0 97h0m0 3h0m0-79h0m0 31h0m0-35h0m0 68h0m0 4h0m0-1h0m0 8h0m0-77h0m0 29h0m0 8h0m0 36h0m0-42h0m0-46h0m0 76h0m1-41h0m0 40h0m0-7h0m0-16h0m0 28h0m0-2h0m0-64h0m0 28h0m0 24h0m0 21h0m0-32h0m0-44h0m0-36h0m0 98h0m0-51h0m0 12h0m1-14h0m0 63h0m0 12h0m0-18h0m0 2h0m0 8h0m0 4h0m0-73h0m0-16h0m0 70h0m0 25h0m0-78h0m0-41h0m0 16h0m0 104h0m0-66h0m0-7h0m0-42h0m0 103h0m0-5h0m1 3h0m0 6h0m0-59h0m0 37h0m0 27h0m0-44h0m0-33h0m0 61h0m0-27h0m0-31h0m0 68h0m0-27h0m0-75h0m0 94h0m0-74h0m0 30h0m0-29h0m1 44h0m0-25h0m0 54h0m0 20h0m0-112h0m0 29h0m0 37h0m0-36h0m0 66h0m0-46h0m0 48h0m0 5h0m0-57h0m0-22h0m0 59h0m0-91h0m0 49h0m0-24h0m0 17h0m0-18h0m0 73h0m0-94h0m0-5h0m1 97h0m0-84h0m0 8h0m0 82h0m0-81h0m0 74h0m0-86h0m0 92h0m0-2h0m0-2h0m0-61h0m0-12h0m0-47h0m0 117h0m0-80h0m0 35h0m0-27h0m0 24h0m0-42h0m0 94h0m0-92h0m0 98h0m0 3h0m0-88h0m0-45h0m1 17h0m0-15h0m0 123h0m0-91h0m0-31h0m0 123h0m0-9h0m0-99h0m0 11h0m0-6h0m0 35h0m0 71h0m0 7h0m0-3h0m0-93h0m0 100h0m0-21h0m1-76h0m0 97h0m0-20h0m0 9h0m0-32h0m0-45h0m0-36h0m0 30h0m0-1h0m0 25h0m0 49h0m0 22h0m0-80h0m0-1h0m0 3h0m0 71h0m0 4h0m0-114h0m1 37h0m0-35h0m0 110h0m0-88h0m0-9h0m0 108h0m0-113h0m0-5h0m0-22h0m0 49h0m0 84h0m0-137h0m0 143h0m0-13h0m0 11h0m0-72h0m0 66h0m0-114h0m0 115h0m0-117h0m1-10h0m0 129h0m0-100h0m0-20h0m0 123h0m0 2h0m0-132h0m0 9h0m0 115h0m0-119h0m0 128h0m0-123h0m0 110h0m0 2h0m0-130h0m1 126h0m0 5h0m0-122h0m0 23h0m0-8h0m0 62h0m0-84h0m0-3h0m0-5h0m0 17h0m0 113h0m0-80h0m0-36h0m0 19h0m0-22h0m0 123h0m0-6h0m0 10h0m0 1h0m1-110h0m0 110h0m0-122h0m0-2h0m0 13h0m0 5h0m0 32h0m0 63h0m0-117h0m0 35h0m0 23h0m0-15h0m0 75h0m0-41h0m0-46h0m0 77h0m0-94h0m0-23h0m0 4h0m0 3h0m0 73h0m0-34h0m0 95h0m0-96h0m1-48h0m0 94h0m0-70h0m0 111h0m0 1h0m0-21h0m0-86h0m0 105h0m0 6h0m0-79h0m0-31h0m0-20h0m0 116h0m0-91h0m0 112h0m0-16h0m0-92h0m0-5h0m0 51h0m1 52h0m0-94h0m0-10h0m0 95h0m0-114h0m0 53h0m0 67h0m0 4h0m0-107h0m0-18h0m0 17h0m0-12h0m0 28h0m0-25h0m0 112h0m0-105h0m0 101h0m1-102h0m0 36h0m0 71h0m0-111h0m0-7h0m0 33h0m0 92h0m0-131h0m0 129h0m0-102h0m0 87h0m0 13h0m0-6h0m0-88h0m0 30h0m0-32h0m0 27h0m0 68h0m1-103h0m0 110h0m0-79h0m0 88h0m0-21h0m0-75h0m0 76h0m0 1h0m0-122h0m0 20h0m0-10h0m0 3h0m0 41h0m0-65h0m0 135h0m0-120h0m0 23h0m0 91h0m0-101h0m0 99h0m0-115h0m0 4h0m0 19h0m0 95h0m0 17h0m0-11h0m1 2h0m0-69h0m0 67h0m0-112h0m0-6h0m0 127h0m0-2h0m0-15h0m0 5h0m0-117h0m0-14h0m0 21h0m0 119h0m0-16h0m0-91h0m0 104h0m0-124h0m0 4h0m0 17h0m0-19h0m0-26h0m0 31h0m0 119h0m1-127h0m0 1h0m0 15h0m0 113h0m0-140h0m0 126h0m0 3h0m0-81h0m0 75h0m0-107h0m0 15h0m0 96h0m0-103h0m0 12h0m0 27h0m0 71h0m0 1h0m0-94h0m0 2h0m0 88h0m0 1h0m0-11h0m0-81h0m1 12h0m0-43h0m0 50h0m0 78h0m0-81h0m0 9h0m0-35h0m0-9h0m0 75h0m0 37h0m0-89h0m0-28h0m0 21h0m0 9h0m0 83h0m0-71h0m0-11h0m0 21h0m0 72h0m0-91h0m0 17h0m0 66h0m0-107h0m0 96h0m0 27h0m1-145h0m0 126h0m0-100h0m0 94h0m0-53h0m0-39h0m0 2h0m0 106h0m0-80h0m0 66h0m0 2h0m0-86h0m0 89h0m0 11h0m0-86h0m0-44h0m0 15h0m0 100h0m1 0h0m0 12h0m0-10h0m0-79h0m0 3h0m0 72h0m0 7h0m0-114h0m0 33h0m0-11h0m0 6h0m0 77h0m0-89h0m0-4h0m0 22h0m0 15h0m0-46h0m0 114h0m0 6h0m0 3h0m0-39h0m1 24h0m0-80h0m0-20h0m0 7h0m0 43h0m0-37h0m0-12h0m0 5h0m0-37h0m0 148h0m0-8h0m0-119h0m0 32h0m0-24h0m0-4h0m0 104h0m0-126h0m0-17h0m0 148h0m1 14h0m0-23h0m0-74h0m0 83h0m0-75h0m0-30h0m0 19h0m0-5h0m0 33h0m0-1h0m0 62h0m0 12h0m0-17h0m0-70h0m0-32h0m0 103h0m1-84h0m0-9h0m0 14h0m0-18h0m0 91h0m0-16h0m0-78h0m0 46h0m0-60h0m0 115h0m0 1h0m0-5h0m0-58h0m0 57h0m0-76h0m0-19h0m0 103h0m0-111h0m0 9h0m0-4h0m0 107h0m1-123h0m0 130h0m0-104h0m0-6h0m0 94h0m0-87h0m0 94h0m0-103h0m0-8h0m0 14h0m0 6h0m0 96h0m0-121h0m0 48h0m0 34h0m0-66h0m0 4h0m0 6h0m0 85h0m0-83h0m0 96h0m0-97h0m1 94h0m0-6h0m0-64h0m0 62h0m0 9h0m0-10h0m0-109h0m0 18h0m0 2h0m0 22h0m0 75h0m0-98h0m0 53h0m0 35h0m0 8h0m0-65h0m0-34h0m0-24h0m0 130h0m0 6h0m0-98h0m0-26h0m0-1h0m0 19h0m0 103h0m1-14h0m0-75h0m0-4h0m0-37h0m0-23h0m0 14h0m0 92h0m0-70h0m0-19h0m0 130h0m0-123h0m0-9h0m0 135h0m0-115h0m0-22h0m0 8h0m0 115h0m0 10h0m0-149h0m0 148h0m0-7h0m0-104h0m1 10h0m0 97h0m0-4h0m0-90h0m0 78h0m0 21h0m0-142h0m0 23h0m0 5h0m0 67h0m0 40h0m0-99h0m0 93h0m0-84h0m0-15h0m0 14h0m1-34h0m0 95h0m0 42h0m0-129h0m0 95h0m0 24h0m0 2h0m0-64h0m0-26h0m0-26h0m0 95h0m0-91h0m0 99h0m0 10h0m0 6h0m0-85h0m0-28h0m0 109h0m0 7h0m1-6h0m0-99h0m0 92h0m0-81h0m0-10h0m0 92h0m0 2h0m0-100h0m0 1h0m0 102h0m0-35h0m0-57h0m0 23h0m0 62h0m0-81h0m0-37h0m0 36h0m0-24h0m1 4h0m0 73h0m0 31h0m0-3h0m0-99h0m0 12h0m0-53h0m0 35h0m0 46h0m0-57h0m0 76h0m0-51h0m0 44h0m0-65h0m0-18h0m0 139h0m0-11h0m0-14h0m0 26h0m0-114h0m0 103h0m1 3h0m0-107h0m0-11h0m0 119h0m0-106h0m0 21h0m0 91h0m0-115h0m0 116h0m0-102h0m0 90h0m0-81h0m0 84h0m0-81h0m0-27h0m0-6h0m0 20h0m0 100h0m0-8h0m0-78h0m1-14h0m0-33h0m0 32h0m0-35h0m0 2h0m0-6h0m0 137h0m0-123h0m0 122h0m0-110h0m0-7h0m0 89h0m0-78h0m1 101h0m0 15h0m0-25h0m0 18h0m0-119h0m0-26h0m0 45h0m0 102h0m0-8h0m0 10h0m0-128h0m0-3h0m0 34h0m0-38h0m0 128h0m0 4h0m0-16h0m0 3h0m0 1h0m0 4h0m0-115h0m0-6h0m0 17h0m1-12h0m0-22h0m0 139h0m0 9h0m0 7h0m0-116h0m0 103h0m0-128h0m0 133h0m0-100h0m0-13h0m0-3h0m0 2h0m0-22h0m0 121h0m0-114h0m0 115h0m0-92h0m0 108h0m0-38h0m0 17h0m1-99h0m0 99h0m0-106h0m0-1h0m0 111h0m0-89h0m0 6h0m0 90h0m0-71h0m0 73h0m0-14h0m0-83h0m0 98h0m0-6h0m0 12h0m0-103h0m0 9h0m1 4h0m0 91h0m0-98h0m0 100h0m0-79h0m0-29h0m0 12h0m0 84h0m0 6h0m0-78h0m0-21h0m0 87h0m0 14h0m0-54h0m0 47h0m0 2h0m0 8h0m0-86h0m1 84h0m0 3h0m0-16h0m0-92h0m0 89h0m0-39h0m0 50h0m0-84h0m0-17h0m0-39h0m0 147h0m0-111h0m0 27h0m0 10h0m0 68h0m0-10h0m1-69h0m0-30h0m0 11h0m0 75h0m0-70h0m0-6h0m0-3h0m0 43h0m0-15h0m0-2h0m0-7h0m0 89h0m0-38h0m0-82h0m0 109h0m1-100h0m0 101h0m0-102h0m0-22h0m0 7h0" stroke="#0000ff" stroke-width="2.9" stroke-linecap="round" fill="none"/>
<path d="M840 270h0m1-4h0m0-16h0m1 10h0m0-10h0m0 1h0m0 8h0m0-3h0m0-12h0m0 8h0m1-2h0m0-5h0m0 7h0m0 1h0m0 13h0m0-11h0m1-10h0m0 16h0m0-2h0m0-11h0m1 12h0m0-13h0m0 7h0m0 14h0m0-6h0m0-11h0m0 6h0m1-1h0m0 1h0m0-11h0m0 18h0m0-14h0m0 11h0m0 6h0m0-5h0m0-8h0m0 9h0m1-7h0m0 5h0m0-2h0m0-8h0m0 22h0m0-6h0m0-1h0m0-9h0m0-22h0m0-15h0m0 30h0m1-5h0m0 11h0m0-12h0m0 20h0m0-7h0m0-31h0m1 26h0m0 1h0m0-16h0m0 6h0m0 13h0m0-10h0m0-25h0m0 40h0m0 3h0m0-24h0m0 20h0m0-11h0m1 1h0m0-1h0m0 7h0m0-5h0m0 12h0m0-11h0m0 1h0m0 8h0m1-14h0m0 8h0m0-4h0m0 11h0m0-1h0m0-17h0m0 8h0m0 5h0m1 1h0m0-12h0m0 16h0m0-6h0m0-3h0m0-22h0m0 7h0m0 11h0m0-1h0m0 7h0m1-12h0m0 17h0m0 5h0m0-21h0m0 10h0m0 3h0m0 13h0m0-18h0m1 2h0m0 4h0m0 6h0m0-12h0m0-15h0m0 1h0m0 10h0m0-2h0m1 12h0m0-18h0m0 20h0m0-11h0m0 6h0m0 1h0m0-4h0m0-11h0m1 21h0m0-25h0m0 3h0m0 2h0m0 14h0m0-4h0m0-2h0m0-7h0m0-5h0m0 11h0m1 10h0m0-21h0m0 10h0m0-8h0m0 3h0m0-9h0m0 22h0m1-13h0m0 10h0m0-5h0m0 1h0m0 8h0m0-5h0m1-4h0m0 5h0m0-10h0m0-9h0m0 2h0m0 4h0m0 10h0m0 5h0m0-17h0m1-5h0m0 8h0m0 5h0m0 8h0m0-15h0m1 2h0m0 9h0m0 10h0m0-8h0m1-8h0m0-1h0m0 6h0m0-3h0m0 13h0m0-17h0m0 3h0m1 14h0m0-11h0m0 1h0m0 4h0m0-15h0m0 5h0m0-3h0m1 4h0m0 17h0m0-8h0m0-3h0m0 6h0m0-2h0m0-12h0m0 7h0m1 7h0m0-13h0m0 6h0m0 10h0m0-5h0m0-3h0m0 4h0m0 9h0m1-11h0m0 4h0m0 7h0m0-14h0m0-11h0m0 27h0m0-7h0m0 4h0m1-5h0m0 7h0m0-3h0m0-10h0m0-6h0m0 4h0m1 1h0m0-1h0m0 2h0m0-5h0m0-6h0m0-6h0m0 24h0m1-16h0m0 10h0m0-2h0m0 8h0m0-7h0m0-6h0m0 1h0m0 8h0m0 6h0m0-11h0m0 7h0m1-4h0m0 2h0m0 4h0m0-8h0m0 3h0m0 3h0m0-62h0m0-40h0m0 38h0m0-18h0m0 85h0m0-4h0m0-35h0m0-19h0m0-8h0m0-37h0m0 91h0m0-3h0m0-40h0m0 13h0m0-57h0m0-10h0m1 93h0m0-71h0m0 38h0m0-8h0m0 50h0m0-3h0m0 9h0m0-10h0m0-42h0m0-1h0m0 4h0m0 24h0m0-26h0m0-45h0m0 28h0m0 66h0m0-76h0m0-25h0m0 8h0m0 78h0m0-66h0m0 60h0m0 7h0m0-8h0m0 10h0m1 14h0m0 1h0m0-3h0m0-15h0m0 5h0m1 0h0m0 6h0m0-9h0m0 13h0m0-2h0m0 7h0m0-17h0m0 5h0m0-2h0m0 4h0m0-15h0m1 4h0m0 17h0m0-10h0m0 7h0m0 2h0m0-19h0m0 6h0m0 17h0m0-21h0m0 6h0m0 7h0m1 1h0m0-18h0m0 14h0m0-7h0m0 8h0m0-17h0m0 6h0m0 7h0m0-5h0m0-1h0m1 17h0m0-2h0m0-8h0m0 11h0m0-5h0m1-25h0m0 15h0m0-1h0m0 16h0m0 2h0m0-12h0m0-3h0m0-7h0m1 12h0m0-4h0m0-9h0m0 11h0m0 1h0m0-9h0m0-8h0m0 22h0m1-6h0m0-2h0m0 7h0m0-11h0m1-1h0m0 14h0m0-4h0m0-11h0m0 8h0m0 14h0m1-4h0m0-24h0m0 12h0m0 2h0m0-6h0m0-1h0m0-1h0m0 11h0m0-2h0m0 3h0m0-7h0m0 15h0m1-11h0m0-14h0m0 8h0m0 15h0m0-4h0m0-3h0m0-9h0m0-3h0m1 0h0m0 4h0m0-1h0m0-9h0m0 16h0m0-21h0m0 23h0m0-7h0m0 12h0m1-5h0m0 8h0m0-7h0m0-4h0m0-9h0m0 15h0m0 4h0m0-12h0m0-13h0m1 33h0m0-13h0m0-14h0m1 5h0m0 7h0m0 8h0m0-13h0m1-4h0m0 13h0m0-10h0m0-8h0m0 15h0m0-4h0m1 12h0m0-3h0m0-13h0m0 6h0m0-4h0m1 17h0m0-20h0m0-9h0m0 21h0m0 3h0m0-12h0m0 7h0m1 3h0m0-1h0m0-3h0m0-1h0m0 2h0m0-9h0m0-8h0m0 5h0m0 1h0m0-2h0m0 8h0m0 6h0m1-7h0m0-10h0m0 9h0m0 3h0m0-10h0m0 6h0m0-5h0m0 2h0m1 6h0m0 14h0m0-20h0m0 2h0m0 7h0m0 7h0m0-2h0m1-20h0m0 4h0m0 12h0m0 8h0m0-7h0m0 4h0m0-15h0m0 6h0m0 18h0m0-25h0m0 23h0m1-12h0m0 2h0m0-11h0m0 18h0m0 2h0m0-31h0m0 19h0m1-7h0m0 10h0m0-7h0m0 6h0m0-2h0m0-9h0m0 14h0m0-1h0m0-7h0m1 11h0m0-7h0m0-5h0m0 13h0m0-16h0m0 10h0m0-8h0m0 7h0m0-3h0m1 0h0m0-8h0m0 9h0m0-6h0m0-6h0m0 9h0m0-17h0m1 16h0m0-10h0m0 6h0m0-1h0m0-6h0m0 21h0m0-31h0m0 20h0m0-8h0m0 3h0m1 11h0m0-3h0m0-5h0m0-4h0m0-5h0m0 26h0m0-18h0m1 6h0m0 7h0m0-15h0m0 5h0m0-9h0m0 6h0m0 18h0m0 12h0m1-13h0m0-7h0m0 17h0m0-16h0m0-10h0m0 7h0m0-4h0m0 1h0m0 15h0m0-8h0m0-10h0m0 22h0m0-8h0m1 0h0m0-22h0m0 2h0m0 19h0m0-11h0m0 1h0m0-3h0m0 4h0m0 8h0m1-9h0m0 3h0m0-1h0m0 8h0m0-12h0m1 6h0m0 11h0m0-14h0m0-1h0m0 10h0m0 8h0m0-1h0m0-28h0m1 21h0m0 2h0m0-10h0m0 14h0m0-20h0m0 11h0m0 11h0m0-15h0m0 3h0m1 6h0m0 3h0m0-26h0m0 14h0m0-5h0m0 4h0m1-12h0m0 7h0m0-10h0m0-8h0m1 19h0m0-7h0m0-1h0m0 4h0m0 9h0m1-11h0m0-7h0m0 17h0m0-11h0m0 21h0m0-18h0m0 12h0m0-1h0m0-17h0m1 13h0m0 6h0m0-16h0m0 5h0m0 4h0m0 11h0m0-19h0m1 4h0m0 7h0m0 1h0m0-13h0m0-2h0m0 4h0m0 2h0m0-3h0m1 3h0m0-3h0m0-4h0m0-5h0m0 14h0m0 11h0m0-12h0m0 7h0m0-3h0m0-1h0m0-13h0m1 22h0m0 6h0m0-25h0m0-1h0m0 10h0m0 5h0m0-6h0m0 9h0m0-1h0m1-5h0m0-2h0m0-4h0m0 9h0m0 1h0m1 2h0m0-13h0m0 1h0m0-4h0m0-5h0m0 10h0m0 10h0m0-14h0m0 22h0m0-12h0m0 1h0m1-7h0m0 5h0m0-13h0m0-3h0m0 12h0m1-1h0m0 3h0m0 8h0m0-4h0m0-14h0m0 9h0m0 3h0m1-12h0m0 10h0m0-6h0m0-3h0m0 15h0m0 6h0m0-17h0m0 14h0m0-7h0m0 2h0m0 7h0m1-1h0m0-7h0m0 11h0m0-26h0m0 11h0m0 12h0m0-2h0m1 3h0m0-2h0m0 16h0m0-27h0m0-2h0m0 11h0m0-2h0m0 7h0m0-8h0m1-2h0m0-4h0m0 3h0m0 2h0m0-25h0m0 4h0m0 7h0m0-3h0m0 5h0m1 3h0m0-12h0m0 6h0m0 8h0m0-17h0m0 6h0m0 5h0m0-4h0m1 9h0m0-12h0m0 18h0m0-4h0m0-13h0m0 7h0m0-1h0m0-4h0m0 8h0m1-10h0m0 16h0m0-11h0m0 23h0m0-19h0m0-6h0m0 18h0m0-19h0m0 9h0m1-3h0m0 16h0m0-7h0m0-19h0m0 3h0m0 11h0m1 7h0m0-1h0m0 11h0m0-2h0m0-11h0m0 5h0m0 4h0m1-12h0m0 8h0m0-6h0m0-9h0m0 8h0m0 4h0m0-2h0m0-15h0m1 0h0m0 11h0m0-17h0m0 14h0m0-5h0m0 14h0m0-12h0m0 14h0m0-10h0m0 13h0m0-10h0m0-2h0m0-12h0m0-1h0m1 4h0m0-4h0m0 3h0m0 3h0m0 4h0m0-14h0m0 6h0m1 14h0m0-19h0m0 12h0m0-20h0m0 21h0m0 10h0m0-15h0m1 2h0m0 14h0m0-8h0m0-2h0m0-19h0m0 37h0m1-10h0m0-3h0m0 4h0m0-7h0m0 10h0m0-29h0m0 28h0m0-19h0m0 1h0m0 6h0m0-2h0m1 13h0m0-34h0m0 17h0m0 9h0m0-3h0m0-13h0m0 20h0m0-15h0m1 10h0m0-6h0m0-3h0m0-8h0m0 21h0m0-5h0m0-12h0m0 21h0m1-21h0m0 3h0m0 9h0m0 6h0m0 1h0m1-12h0m0 1h0m0-2h0m0-1h0m0-13h0m0 23h0m1-1h0m0 1h0m0 13h0m0-19h0m0-4h0m0 11h0m0 8h0m0-13h0m1 9h0m0-3h0m0-1h0m0 3h0m0-14h0m0 19h0m0 1h0m0-15h0m1 2h0m0-3h0m0 15h0m0-13h0m0-9h0m0 3h0m1 10h0m0-9h0m0 6h0m0-3h0m0-10h0m0 5h0m0 10h0m1-8h0m0 8h0m0-4h0m0-11h0m0 5h0m0 1h0m0 10h0m0-13h0m1 7h0m0-2h0m0-3h0m0 6h0m0-14h0m0 4h0m0 6h0m0 2h0m0-3h0m1-7h0m0 22h0m0-7h0m0-4h0m0-2h0m0-8h0m1 13h0m0-5h0m0 18h0m0-11h0m0-6h0m0 9h0m1-10h0m0-6h0m0 21h0m0-20h0m0 14h0m0-11h0m1 2h0m0-12h0m0 14h0m0-13h0m0 10h0m0 10h0m1 6h0m0-2h0m0-12h0m0 1h0m0-12h0m0 14h0m0-6h0m1 13h0m0-2h0m0 5h0m0 4h0m0-2h0m0-24h0m0 35h0m0-21h0m0 9h0m1-1h0m0 1h0m0-3h0m0 19h0m0 2h0m0-14h0m0 3h0m0 4h0m0 2h0m0-18h0m0 11h0m1-10h0m0 8h0m0-12h0m0 16h0m0-18h0m0 12h0m1-6h0m0 1h0m0-7h0m0 8h0m1-3h0m0 5h0m0-12h0m0 9h0m0-19h0m1 19h0m0 10h0m0-6h0m0-7h0m0 5h0m0-3h0m0 8h0m0-16h0m1 4h0m0 17h0m0-13h0m0-19h0m0 14h0m0 7h0m0-13h0m1 21h0m0-29h0m0 26h0m0-8h0m0 4h0m1-12h0m0 14h0m0 3h0m0-6h0m0-4h0m0 3h0m0-1h0m0-11h0m0-7h0m0 15h0m0 6h0m1-4h0m0-22h0m0 16h0m0-5h0m0 18h0m0-9h0m1-11h0m0-5h0m0 1h0m0 11h0m0-1h0m0-14h0m0 13h0m0-1h0m1 1h0m0 8h0m0 3h0m0-6h0m0-2h0m0-15h0m0 9h0m0 10h0m0-27h0m1-8h0m0 24h0m0-5h0m0 8h0m0-15h0m0 8h0m0 9h0m0-20h0m0-2h0m1 20h0m0 12h0m0-11h0m0-8h0m0-4h0m0 2h0m0 8h0m0-5h0m0-7h0m1 17h0m0-18h0m0 19h0m0-13h0m0 14h0m0-7h0m0 4h0m0 5h0m0-13h0m1 9h0m0-6h0m0 8h0m0 5h0m0-3h0m1-20h0m0 21h0m0-12h0m0-6h0m0 20h0m0 1h0m0-22h0m1 12h0m0 10h0m0-12h0m0 13h0m0-24h0m0-4h0m1 13h0m0 5h0m0-21h0m0 17h0m0 10h0m0-8h0m0-15h0m0 10h0m1 1h0m0 15h0m0-8h0m0-11h0m0-4h0m0 20h0m0-7h0m0-3h0m1-4h0m0-1h0m0 20h0m1-6h0m0-2h0m0-14h0m0 10h0m0-2h0m0-2h0m0 6h0m0 6h0m0-16h0m0 11h0m0-22h0m1 27h0m0-26h0m0 10h0m0 6h0m0 3h0m0 2h0m0-3h0m1 2h0m0 4h0m0-5h0m0-13h0m0 5h0m0 17h0m0-1h0m0-9h0m1 7h0m0 3h0m0 3h0m0-14h0m0 3h0m0-6h0m0 10h0m0 2h0m1 8h0m0-12h0m0 11h0m0-4h0m0-1h0m0 2h0m1 16h0m0-15h0m0 10h0m0-27h0m0 19h0m0-3h0m0 10h0m1-19h0m0 4h0m0 23h0m0-26h0m0-3h0m0 19h0m1-25h0m0 6h0m0 17h0m0-13h0m0-6h0m0 13h0m0-1h0m0 11h0m1-9h0m0-2h0m0 1h0m0 2h0m1-7h0m0 19h0m0-17h0m0 9h0m0-2h0m0 13h0m0-25h0m0 15h0m0-9h0m1-6h0m0 1h0m0 3h0m0 20h0m0-18h0m0-10h0m0-5h0m0 7h0m0-4h0m1 3h0m0-10h0m0 7h0m0 4h0m0-3h0m0 4h0m1 3h0m0 1h0m0-7h0m0 8h0m0-20h0m0 21h0m0 4h0m0-11h0m0 9h0m1-1h0m0 7h0m0-9h0m0-13h0m0 14h0m0-4h0m0-7h0m0-8h0m1 11h0m0 6h0m0-10h0m0-11h0m0-8h0m0 22h0m0-6h0m0-19h0m0 7h0m1 20h0m0-6h0m0 27h0m0 5h0m1-1h0m0-4h0m0 1h0m0-3h0m0-2h0m1 3h0m0-3h0m0-4h0m0 6h0m0-1h0m0-2h0m0 6h0m1-3h0m0-1h0m0 3h0m0 6h0m1-1h0m0-4h0m0 1h0m0-2h0m0-1h0m0-2h0m1 8h0m0-7h0m0 1h0m0 1h0m0 6h0m0-3h0m0 6h0m1 1h0m0-8h0m0 4h0m1 3h0m0-5h0m0-2h0m0 1h0m0 2h0m1-6h0m0 3h0m0 4h0m0-5h0m0 10h0m0-4h0m1 1h0m0-2h0m0 3h0m0-6h0m0 4h0m0 3h0m0-5h0m0-1h0m1 6h0m0 2h0m0-7h0m0 3h0m0 1h0m1 2h0m0-1h0m0-1h0m0-2h0m1-5h0m0 8h0m0-4h0m0-3h0m0 2h0m0 7h0m0-4h0m1 0h0m0-3h0m0-9h0m0 10h0m0-3h0m0 8h0m1-3h0m0-7h0m0 9h0m0-6h0m0 1h0m0 6h0m0-4h0m1 2h0m0-8h0m0 4h0m0 1h0m0-6h0m1 2h0m0 8h0m0-15h0m0 4h0m0 7h0m0-2h0m1-3h0m0 4h0m0-3h0m0-2h0m0-2h0m1 1h0m0 2h0m0 6h0m0-9h0m0 7h0m1-3h0m0 1h0m0 4h0m0-8h0m0 5h0m0 1h0m0 1h0m1-8h0m0 4h0m0 6h0m0-4h0m0 3h0m1-3h0m0 7h0m0-5h0m0-1h0m0-2h0m1 2h0m0 3h0m0-5h0m0-3h0m0 10h0m1-3h0m0-5h0m0 2h0m0-4h0m0 11h0m1 0h0m0-8h0m0 7h0m0-3h0m1-6h0m0-2h0m0 10h0m0-2h0m0-5h0m0 8h0m0-2h0m1-4h0m0 2h0m0-1h0m0 5h0m0-2h0m1 4h0m0-2h0m0-1h0m0-3h0m0 1h0m0 4h0m1-8h0m0 9h0m0-1h0m0-2h0m0 1h0m0-3h0m1-1h0m0-2h0m0 8h0m0-13h0m0 9h0m0-3h0m0-4h0m0-3h0m1 9h0m0-5h0m0 4h0m0-1h0m0-4h0m0 2h0m1 0h0m0 3h0m0 2h0m0 1h0m0 3h0m0-2h0m0-6h0m0 1h0m1 5h0m0-6h0m0 2h0m0-5h0m0 4h0m0-6h0m0-7h0m0 11h0m0-5h0m1 3h0m0-3h0m0-3h0m0 2h0m0 9h0m0-1h0m0-2h0m0-4h0m0 12h0m1-13h0m0 2h0m0 9h0m1-9h0m0 9h0m0-4h0m1-4h0m0-3h0m0 5h0m0-4h0m0 5h0m1 2h0m0 3h0m0 1h0m0-10h0m0-1h0m0 2h0m0 3h0m1 3h0m0-7h0m0 3h0m0-2h0m0-2h0m0 11h0m1-1h0m0-2h0m0-4h0m0 1h0m0 1h0m0-3h0m1 9h0m0-4h0m0 5h0m0-3h0m0-6h0m0-2h0m0 3h0m1 0h0m0 4h0m0-3h0m0 4h0m0-3h0m0 1h0m1 2h0m0 1h0m0-5h0m0 3h0m0-4h0m0 8h0m0-6h0m1 6h0m0-1h0m0-4h0m0 2h0m0 1h0m1 0h0m0-7h0m0-1h0m0-6h0m1 8h0m0 1h0m0 1h0m0 3h0m0-1h0m1-4h0m0-7h0m0 1h0m0 4h0m0-1h0m0 2h0m0-7h0m1 8h0m0 2h0m0-5h0m0 1h0m0 1h0m0 2h0m0 3h0m1-3h0m0 2h0m0-3h0m0-3h0m0-2h0m0-2h0m0 6h0m1 0h0m0 2h0m0-1h0m0-3h0m0 5h0m0-7h0m0 3h0m1 0h0m0 2h0m0 8h0m0-5h0m0-6h0m0 4h0m0 5h0m0-1h0m0-1h0m1-1h0m0 3h0m0-6h0m0-5h0m1 6h0m0 7h0m0-4h0m0-6h0m0 8h0m0-4h0m0 5h0m0-4h0m1-5h0m0 7h0m0 2h0m0-7h0m0 2h0m0 6h0m1-10h0m0 3h0m0-1h0m0 4h0m0 1h0m1-3h0m0-3h0m0 4h0m0 3h0m0-2h0m0-8h0m0 5h0m1 0h0m0 2h0m0 3h0m0-7h0m0 3h0m0-5h0m0 8h0m0-5h0m0-2h0m1 2h0m0 3h0m0-6h0m0 7h0m0-3h0m1-2h0m0-2h0m0 1h0m1 3h0m0-2h0m0-1h0m0 2h0m0 2h0m1-2h0m0-1h0m0 3h0m0-1h0m0 7h0m0-10h0m1 6h0m0-3h0m0 6h0m0-2h0m0 1h0m0 2h0m1 0h0m0-1h0m0-3h0m0-4h0m1 3h0m0 1h0m0 3h0m1-4h0m0-4h0m0 8h0m1-11h0m0 3h0m0 3h0m1-9h0m0 4h0m0 2h0m0 3h0m0-10h0m0 6h0m0 7h0m0-9h0m1-2h0m0 6h0m0-2h0m0-5h0m0 6h0m1-2h0m0-7h0m0 3h0m0 3h0m0-1h0m0 5h0m1-2h0m0-5h0m0 7h0m0 1h0m0-6h0m0-1h0m0 3h0m0 2h0m1-3h0m0 4h0m0 6h0m0-4h0m0-4h0m1-2h0m0 2h0m0 3h0m0-2h0m1 6h0m0-2h0m0-5h0m0-1h0m0 2h0m0-4h0m0 1h0m1-3h0m0 1h0m0 4h0m0-3h0m0 6h0m0-1h0m0 3h0m0-7h0m0 3h0m1 0h0m1-2h0m0 4h0m0 3h0m0-4h0m0 2h0m0 6h0m0-9h0m0-1h0m1 4h0m0-11h0m0 7h0m0 8h0m0-6h0m0-1h0m1 3h0m0 1h0m0 4h0m0-2h0m0 3h0m0-9h0m0 7h0m1 2h0m0-9h0m0-1h0m0 2h0m0 1h0m0 6h0m1 1h0m0-3h0m0-3h0m0-2h0m0 4h0m1-9h0m0 4h0m0 4h0m0 2h0m0-9h0m0 4h0m1 6h0m0-2h0m0-2h0m0-7h0m0 3h0m0 1h0m0 1h0m0 3h0m0 4h0m0-6h0m0 4h0m1-10h0m0-6h0m0 17h0m0-6h0m0-2h0m1 1h0m0 6h0m0-1h0m0 2h0m0-5h0m1-2h0m0 1h0m0 8h0m0-1h0m0-2h0m0-3h0m1 4h0m0-1h0m0-5h0m0 3h0m1 1h0m0-4h0m0-2h0m0 1h0m0-3h0m0-3h0m1 6h0m0 4h0m0-3h0m0 7h0m0-6h0m1 2h0m0-7h0m0 3h0m0 1h0m0-7h0m0 8h0m0-4h0m0 5h0m1-9h0m0 3h0m0 3h0m0 5h0m1-4h0m0 2h0m0 1h0m0 3h0m0-7h0m0-2h0m1 3h0m0-1h0m0 6h0m0-8h0m0 6h0m0 5h0m0-2h0m0-14h0m1 12h0m0-6h0m0-1h0m0 3h0m0 6h0m1-5h0m0 3h0m0-4h0m0-2h0m1 1h0m0 9h0m0-3h0m0-4h0m0 2h0m0-1h0m0-4h0m1 6h0m0 1h0m0 3h0m0-6h0m1 3h0m0-2h0m0-6h0m0 7h0m1-3h0m0 2h0m0-1h0m0-2h0m0 5h0m0-1h0m0 2h0m1 0h0m0-11h0m0 2h0m0 4h0m0 6h0m0-4h0m1-4h0m0 8h0m0-3h0m0-4h0m0 6h0m0 2h0m1-11h0m0-1h0m0 8h0m0 4h0m0-8h0m1 0h0m0-5h0m0 7h0m0-1h0m0-2h0m1 3h0m0 6h0m0-4h0m0 3h0m0-1h0m0-3h0m1 2h0m0-5h0m0 8h0m0-1h0m0-3h0m1 1h0m0 3h0m0-5h0m0-2h0m1 0h0m0 6h0m0-4h0m0 1h0m0 2h0m0-4h0m0-3h0m1 0h0m0 8h0m0-1h0m0-9h0m0 3h0m0-6h0m0 8h0m1-1h0m0 1h0m0-9h0m0 5h0m0 9h0m0-8h0m0 6h0m1 0h0m0-2h0m0-7h0m0 11h0m0-6h0m1 0h0m0-1h0m0 3h0m0-5h0m0 1h0m0 3h0m0 2h0m0 2h0m1-5h0m0 3h0m0 2h0m0-6h0m0 3h0m0-1h0m0-3h0m1 9h0m0-3h0m0-2h0m0-8h0m1 12h0m0-6h0m0-1h0m0 3h0m0 1h0m0-8h0m0 3h0m0 7h0m1 2h0m0-3h0m0-6h0m0 8h0m0-7h0m0 2h0m1 4h0m0-5h0m0 4h0m0-5h0m0-4h0m0 7h0m1 1h0m1 2h0m0-7h0m0-3h0m1 0h0m0 7h0m0 3h0m0-7h0m1 8h0m0-13h0m0 10h0m0-1h0m0-6h0m0 9h0m0-4h0m0-3h0m0 6h0m0-7h0m1-5h0m0 7h0m0 2h0m0 3h0m0-7h0m0-4h0m0 7h0m0-4h0m1 6h0m0-1h0m0 3h0m0-4h0m0-15h0m1 7h0m0-9h0m0-5h0m0 20h0m0-16h0m0-1h0m0 7h0m1-7h0m1-2h0m0 10h0m0-7h0m0-4h0m0-4h0m0 7h0m0 9h0m0 1h0m0-23h0m0 8h0m0 7h0m0 4h0m1-11h0m0 6h0m0-2h0m0 12h0m0-8h0m0-3h0m1 6h0m0-11h0m0 2h0m0-1h0m0-9h0m0 18h0m1-4h0m0 8h0m0-6h0m0 5h0m0-15h0m0 14h0m0 3h0m0-8h0m1 14h0m0-19h0m0 27h0m0-1h0m0-13h0m0-14h0m0 7h0m1 11h0m0 10h0m0-7h0m0-1h0m0 10h0m0-8h0m1 7h0m0-17h0m0 10h0m0-2h0m0-7h0m0 11h0m0-14h0m0 8h0m0-10h0m0-5h0m0 8h0m0 12h0m0-6h0m0-2h0m1-6h0m0 2h0m0-5h0m0-1h0m0-4h0m0 6h0m0 17h0m0-11h0m1 5h0m0 8h0m0-11h0m0-8h0m0 16h0m0-10h0m0-3h0m0-13h0m1 0h0m0 17h0m0-16h0m0 10h0m0-14h0m0-1h0m1-3h0m0 15h0m0-11h0m0 6h0m0 6h0m0-13h0m1 2h0m0 2h0m0 8h0m0-7h0m0 2h0m0 13h0m0-25h0m0 15h0m0-13h0m1 12h0m0 4h0m0-6h0m0 12h0m0 4h0m0-12h0m1 8h0m0-19h0m0 5h0m0 6h0m0 5h0m0-10h0m1 0h0m0 9h0m0-2h0m0-1h0m1 4h0m0 10h0m0-9h0m0 15h0m0-26h0m1 5h0m0-1h0m0 4h0m0 8h0m0-3h0m0-6h0m0 7h0m1 3h0m0-3h0m0-8h0m0 12h0m0-14h0m1 11h0m0 14h0m0-19h0m1-1h0m0-1h0m0 6h0m0 7h0m0-1h0m0-10h0m0-8h0m0 13h0m0 3h0m1 0h0m0-2h0m0-4h0m0-11h0m0 13h0m0-9h0m0-3h0m1 0h0m0-1h0m0-4h0m0 8h0m0 2h0m1 5h0m0-6h0m0 1h0m0 6h0m0-8h0m0-7h0m0 6h0m0-7h0m1 16h0m0 4h0m0-9h0m0-5h0m1 4h0m0-2h0m0 4h0m0 12h0m0-11h0m0-8h0m0 16h0m0-12h0m1 1h0m0 18h0m0-25h0m0 8h0m0 6h0m0-3h0m0 13h0m0-11h0m0 2h0m0 3h0m0-8h0m1 8h0m0-9h0m0-7h0m0-1h0m0 3h0m1 11h0m0-8h0m0 9h0m0-15h0m0 10h0m0 1h0m0-3h0m0 4h0m1-3h0m0-10h0m0 16h0m0-4h0m0-3h0m0-5h0m0 15h0m0-14h0m1-14h0m0 8h0m0 11h0m0 3h0m0-18h0m0 7h0m0-14h0m0 4h0m0-2h0m0 13h0m0-2h0m1-9h0m0-5h0m0 16h0m0-18h0m0 10h0m0 29h0m0-22h0m0 2h0m0-3h0m0 5h0m0-9h0m0-1h0m0 14h0m0 6h0m0-9h0m1 1h0m0-19h0m0-1h0m0-1h0m0-4h0m0 10h0m0 21h0m0-8h0m0-8h0m0-4h0m0 19h0m1-6h0m0-2h0m0-11h0m0 9h0m0-2h0m0-6h0m0 5h0m0 6h0m1-13h0m0 8h0m0 14h0m0-6h0m0-6h0m1 4h0m0 5h0m0 2h0m0 1h0m0-10h0m0 16h0m0-1h0m1-15h0m0-1h0m0-1h0m0 3h0m0 3h0m0-11h0m0 15h0m0 7h0m0-9h0m1-14h0m0 11h0m0-2h0m0-25h0m0 34h0m0-1h0m0-9h0m0-5h0m0-6h0m0-8h0m0 26h0m0-8h0m0-2h0m1-3h0m0-1h0m0-9h0m0 6h0m0 9h0m1-9h0m0 13h0m0-5h0m0-11h0m0-2h0m0 14h0m0-13h0m0-6h0m1 17h0m0 10h0m0-15h0m0 12h0m0-9h0m0 1h0m0 2h0m0 2h0m1-11h0m0 4h0m0 4h0m0-2h0m0-4h0m0 7h0m0-23h0m0 13h0m0 12h0m0-6h0m0 11h0m0-2h0m1-7h0m0 14h0m0-9h0m0-2h0m0 4h0m1 8h0m0-13h0m1 6h0m0 8h0m0-4h0m1 12h0m0-13h0m0-2h0m0 4h0m0 8h0m0-2h0m0 3h0m0-8h0m1-14h0m0 10h0m0-9h0m0 6h0m0-5h0m0 17h0m0-6h0m0-10h0m0-5h0m0 10h0m1-3h0m0-14h0m0 5h0m0-11h0m0 8h0m0 5h0m0-15h0m0 27h0m0-11h0m1-7h0m0-1h0m0 8h0m1 2h0m0-9h0m0-5h0m0 3h0m0-10h0m0 3h0m0 15h0m0-2h0m0-18h0m0 21h0m0-13h0m1 2h0m0 2h0m0 17h0m0-1h0m0-8h0m0 14h0m0-23h0m0 2h0m0 1h0m1 17h0m0-18h0m0 4h0m0 6h0m0-2h0m0 4h0m0-5h0m0-4h0m0-1h0m0-8h0m1 0h0m0 1h0m0-4h0m0 19h0m0-14h0m0 12h0m0-4h0m1-13h0m0 12h0m0 7h0m0 10h0m0-8h0m0-4h0m0-11h0m1 21h0m0-3h0m0-6h0m0-5h0m0 30h0m0-23h0m0 1h0m0 1h0m1 7h0m0-19h0m0 6h0m0 6h0m0-8h0m0 21h0m0-9h0m0-5h0m1-2h0m0 16h0m0-12h0m0-7h0m0 18h0m0-7h0m0-16h0m0 7h0m0-5h0m0 1h0m1 1h0m0-5h0m0 7h0m0 5h0m0-16h0m0 17h0m0-7h0m0 4h0m0-8h0m0-4h0m1 17h0m0-1h0m0-6h0m0 9h0m0-1h0m0 5h0m0-10h0m1 0h0m0-6h0m0-3h0m0 4h0m0 17h0m0-25h0m0 17h0m1 0h0m0-11h0m0-10h0m0 17h0m0-2h0m0-1h0m1-5h0m0-2h0m0-3h0m0 2h0m0 4h0m0-2h0m0-17h0m0 25h0m0-1h0m0-16h0m0 1h0m0 2h0m0-5h0m0 4h0m1 12h0m0-1h0m0 11h0m0-13h0m0 1h0m0-14h0m0 20h0m0 4h0m1-9h0m0-11h0m0 10h0m0 7h0m0-12h0m0 24h0m0-16h0m0 3h0m1 2h0m0-5h0m0-2h0m0-7h0m0 8h0m0-17h0m0 6h0m0 8h0m0 6h0m0 7h0m0-20h0m0 24h0m0-10h0m0 13h0m1 1h0m0-27h0m0 19h0m0-4h0m0 2h0m0 12h0m0-8h0m0-5h0m1 15h0m0 4h0m0 2h0m0-9h0m1-1h0m0-4h0m0-19h0m0 28h0m0-3h0m0-5h0m1-8h0m0 19h0m0 2h0m0-24h0m0 11h0m0 7h0m1-3h0m0 6h0m0 5h0m0-18h0m0 8h0m1-3h0m0 2h0m0-19h0m0 8h0m0-12h0m0-5h0m0 18h0m0-8h0m1-12h0m0 21h0m0-14h0m0-1h0m1 7h0m0-1h0m0 10h0m0-2h0m0 4h0m0-10h0m0 1h0m0-9h0m0 3h0m0-5h0m1-11h0m0 20h0m0-4h0m0-19h0m0 10h0m0 16h0m0-9h0m0-12h0m0 9h0m0 6h0m0-2h0m1-2h0m0 3h0m0-15h0m0 17h0m0-26h0m0 12h0m0 3h0m0-4h0m1-14h0m0 30h0m0-2h0m0-19h0m0 10h0m0-9h0m0 7h0m0 4h0m1 1h0m0 9h0m0-6h0m1 9h0m0-6h0m0-17h0m0 22h0m0-10h0m0 2h0m0 2h0m0 8h0m0 4h0m1-4h0m0-8h0m0 7h0m0 11h0m0-1h0m0-11h0m0 3h0m0 3h0m0-7h0m0-9h0m1 19h0m0-15h0" stroke="#ff0000" stroke-width="2.9" stroke-linecap="round" fill="none"/>
<path d="M840 267h0m0-11h0m0 13h0m1-11h0m0 2h0m0 5h0m0 3h0m0-1h0m0-3h0m0-9h0m0 1h0m0 7h0m0-1h0m0-11h0m1 17h0m0-6h0m0 1h0m0-4h0m0 5h0m0-6h0m0 8h0m0-11h0m1 1h0m0 3h0m0 6h0m0 3h0m0-11h0m0 7h0m0-1h0m0-3h0m0 6h0m0-4h0m1 1h0m0-7h0m0 2h0m0 8h0m0-6h0m0-3h0m1 1h0m0 2h0m0-1h0m0-4h0m0 2h0m0 6h0m0-13h0m0-2h0m1 7h0m0 6h0m0-8h0m0-9h0m1 5h0m0 3h0m0 1h0m0 1h0m0 1h0m0 4h0m0-12h0m0 17h0m1-9h0m0-2h0m0-6h0m0-2h0m0 6h0m0-2h0m0 3h0m0 5h0m0 1h0m0-2h0m0 9h0m0 1h0m0-20h0m1 6h0m0 1h0m0-5h0m0 10h0m0-8h0m0-7h0m0 2h0m0 12h0m0 5h0m1-11h0m0 7h0m0-1h0m0-7h0m0 13h0m1-8h0m0-3h0m0 7h0m0-1h0m1 2h0m0 3h0m0 2h0m0-7h0m0-9h0m0-1h0m0 18h0m0-2h0m0 6h0m0-13h0m0 11h0m1-1h0m0-8h0m0 4h0m0-12h0m0 15h0m0-8h0m1 7h0m0 5h0m0-12h0m0 1h0m0-2h0m0-10h0m0 14h0m0 7h0m0-6h0m0-8h0m1 4h0m0 12h0m0-9h0m0-7h0m0 5h0m0 1h0m0 9h0m0-18h0m0 14h0m1-9h0m0 11h0m0-10h0m0-45h0m0 50h0m0-1h0m0-68h0m0-6h0m0 15h0m0-10h0m0 28h0m0 44h0m0 4h0m0-73h0m0 30h0m1-25h0m0-14h0m0 33h0m0-22h0m0 61h0m0-3h0m0 8h0m0-64h0m0 58h0m0 9h0m0-2h0m0-12h0m0 7h0m0-53h0m0 54h0m0-6h0m0 16h0m0-14h0m1-3h0m0 5h0m0-6h0m0 7h0m0 5h0m0-8h0m0 10h0m0 2h0m0 2h0m1-14h0m0-8h0m0 5h0m0-1h0m0 5h0m0 3h0m0-10h0m0 1h0m0-4h0m1 10h0m0-7h0m0 3h0m0-12h0m0 7h0m0 1h0m0 2h0m0-4h0m1 3h0m0 10h0m0-6h0m0 10h0m0-15h0m0-3h0m0 7h0m0-5h0m0 8h0m0-13h0m0 16h0m1-11h0m0-8h0m0 19h0m0-8h0m0-1h0m0 7h0m0-1h0m0-4h0m0 10h0m0-4h0m0 3h0m0-6h0m1 0h0m0 14h0m0-1h0m0-11h0m0 3h0m0-13h0m0 1h0m0 15h0m0 2h0m0 2h0m0-13h0m0 8h0m1-3h0m0 4h0m0-2h0m0-1h0m0-10h0m0 8h0m0-3h0m1 5h0m0 6h0m0-11h0m0 4h0m0 9h0m0-3h0m0-2h0m0 6h0m0-8h0m0 1h0m0 2h0m1-3h0m0-2h0m0-9h0m0 13h0m0-5h0m0-4h0m0 10h0m1-6h0m0 9h0m0-2h0m0-2h0m0 3h0m0-7h0m0 11h0m0-9h0m0 10h0m0-3h0m0-6h0m1 7h0m0-2h0m0-1h0m0-7h0m1 1h0m0 2h0m0-3h0m0 11h0m0-7h0m0 2h0m0 2h0m0-3h0m1 2h0m0-13h0m0 14h0m0-3h0m0-7h0m0 4h0m0 8h0m1-3h0m0-1h0m0 4h0m0-18h0m0 17h0m0-5h0m0-2h0m0 6h0m0-3h0m0-9h0m1 4h0m0-9h0m0 6h0m0 9h0m0-10h0m0 8h0m0 5h0m0 2h0m1-12h0m0 2h0m0-15h0m0 7h0m0 14h0m0-5h0m0-10h0m0 2h0m0 2h0m1-1h0m0 2h0m0 5h0m0-6h0m0 8h0m0-1h0m0-11h0m0 2h0m0 13h0m0-19h0m1 15h0m0-4h0m0-7h0m0-8h0m0 13h0m0-3h0m0-9h0m0 6h0m0 9h0m0 7h0m1-22h0m0 11h0m0 3h0m0 3h0m0-2h0m0 7h0m0-4h0m1-1h0m0-7h0m0-4h0m0 15h0m0-14h0m0 4h0m0 4h0m0-1h0m0-1h0m1 12h0m0-14h0m0 7h0m0-15h0m0 16h0m0-6h0m0-1h0m0 2h0m0 2h0m0-7h0m0 11h0m0-12h0m0 9h0m0-12h0m0 10h0m1-9h0m0 8h0m0 4h0m0-3h0m0 1h0m0 1h0m1-12h0m0 5h0m0-2h0m0 7h0m0-4h0m0 1h0m0-3h0m0 8h0m0 7h0m1-16h0m0 3h0m0 8h0m0-2h0m0-7h0m0 2h0m0-6h0m1 13h0m0-22h0m0 8h0m0 8h0m0 7h0m0-13h0m1 4h0m0 4h0m0-7h0m0-5h0m0 6h0m0 8h0m1-6h0m0 7h0m0-5h0m0-1h0m0-10h0m0 7h0m1 2h0m0-1h0m0 9h0m0-1h0m0-5h0m0-9h0m0 8h0m0-3h0m0-1h0m1 2h0m0 3h0m0-2h0m0 13h0m0-9h0m0 4h0m0 4h0m0-22h0m1 10h0m0 4h0m0-2h0m0 5h0m0-8h0m0 2h0m0 4h0m0-2h0m0-8h0m0 1h0m0-7h0m1 7h0m0 3h0m0-1h0m0 3h0m0-6h0m0-1h0m1-6h0m0 12h0m0-8h0m0 1h0m0-4h0m0 15h0m0-9h0m0-4h0m0 8h0m1-2h0m0 10h0m0 2h0m0-9h0m0 1h0m0 2h0m0-5h0m1 0h0m0-5h0m0-1h0m0 9h0m0-2h0m0 6h0m0 2h0m1 0h0m0-4h0m0 3h0m0-2h0m0 4h0m0-6h0m0-1h0m0 12h0m0 2h0m0 1h0m0-7h0m0-4h0m1-1h0m0 5h0m0-13h0m0 14h0m1-5h0m0 8h0m0-3h0m0 1h0m0-12h0m0 3h0m0 4h0m0 8h0m0 1h0m0-11h0m1 6h0m0 6h0m0-7h0m0 6h0m0-15h0m0 5h0m1 7h0m0-4h0m0 2h0m0-7h0m0 12h0m0-10h0m0-3h0m0-6h0m0 11h0m0-1h0m1 8h0m0-14h0m0 6h0m0-5h0m0-6h0m0 8h0m0-11h0m0 7h0m0-2h0m0-6h0m0 16h0m1-9h0m0 5h0m0-3h0m0-3h0m0 10h0m0-5h0m0-1h0m0 7h0m0 5h0m0-9h0m0 12h0m1-13h0m0 4h0m0-9h0m0 1h0m0-5h0m0 15h0m0-8h0m0 11h0m0-21h0m0-2h0m0 19h0m1-9h0m0-7h0m0 12h0m0-4h0m0 1h0m0 5h0m0 4h0m0-16h0m1 3h0m0 12h0m0-6h0m0-9h0m1 14h0m0-10h0m0-5h0m0 11h0m0 2h0m0-3h0m0-11h0m0-1h0m1 11h0m0 3h0m0 8h0m0-5h0m0-10h0m0 2h0m0 11h0m0-7h0m1-8h0m0-1h0m0 6h0m0-2h0m0 1h0m0-7h0m0 10h0m0 1h0m1 3h0m0-4h0m0 1h0m0-2h0m0-3h0m0 1h0m0 5h0m0-4h0m0 13h0m1-12h0m0 3h0m0 7h0m0-12h0m0 6h0m0-8h0m0 5h0m0-2h0m0 6h0m1-14h0m0 6h0m0 12h0m0-9h0m0 1h0m0 1h0m0-13h0m0 17h0m0-3h0m0 1h0m1 3h0m0-14h0m0 8h0m0 2h0m0-4h0m0-7h0m1-2h0m0 16h0m0-4h0m0 5h0m0 7h0m0-10h0m0 8h0m0-1h0m0-2h0m0-8h0m0 9h0m0 3h0m1-6h0m0-2h0m0 5h0m0-6h0m0-1h0m0 6h0m0-14h0m1 4h0m0 11h0m0-7h0m0-1h0m0 7h0m0-4h0m0 1h0m0-2h0m0 9h0m0 1h0m0-3h0m1-8h0m0 6h0m0-2h0m0-1h0m0-8h0m0-6h0m0 1h0m1 7h0m0-1h0m0-8h0m0 15h0m0-1h0m0-9h0m0-2h0m1 14h0m0-13h0m0 7h0m0-11h0m0 10h0m0-7h0m0 5h0m1-13h0m0 13h0m0 1h0m0-3h0m0 5h0m0-4h0m1 1h0m0-2h0m0-5h0m0 11h0m0-14h0m0 4h0m0 7h0m0 8h0m1-20h0m0-5h0m0 3h0m0 10h0m1-1h0m0 7h0m0-9h0m0 14h0m0-6h0m0 4h0m0-7h0m1-6h0m0 7h0m0-9h0m0 15h0m0-3h0m0-6h0m0 4h0m0 10h0m0 3h0m0-10h0m1 7h0m0-16h0m0 10h0m1-5h0m0-5h0m0 10h0m0 9h0m0-10h0m0 3h0m0-10h0m0 9h0m0 2h0m0-5h0m1 6h0m0-1h0m0-4h0m0 6h0m0 3h0m0-14h0m1 8h0m0-5h0m0-6h0m0 1h0m0 3h0m0-7h0m1 7h0m0 4h0m0 6h0m0-11h0m0 3h0m0-6h0m1 7h0m0-2h0m0-4h0m0 12h0m0 4h0m0-13h0m0 5h0m0 7h0m1 2h0m0-5h0m0-3h0m0 1h0m0-11h0m0 5h0m0 10h0m0-3h0m0-13h0m1-9h0m0 10h0m0-5h0m0 9h0m0-7h0m0 10h0m0-13h0m0 5h0m1 1h0m0 6h0m0-5h0m0-2h0m0-1h0m0-8h0m0 19h0m0-5h0m0-1h0m1 5h0m0-11h0m0 1h0m0 3h0m0-1h0m0 5h0m0-14h0m0 16h0m0-5h0m0 7h0m0-5h0m0-16h0m1 18h0m0-8h0m0-1h0m0 8h0m0-11h0m0 16h0m0 1h0m1-14h0m0 9h0m0-8h0m0 13h0m0-12h0m0 9h0m0-6h0m0-7h0m0 10h0m0-5h0m1 5h0m0 3h0m0 9h0m0-7h0m0 6h0m0-7h0m0 3h0m0-1h0m0 4h0m1-10h0m0 2h0m0 6h0m0 3h0m0-1h0m0-1h0m0-5h0m0-7h0m0 9h0m1-6h0m0 6h0m0 5h0m0-4h0m0-11h0m0-2h0m0 18h0m0-10h0m1-8h0m0 11h0m0-1h0m0-1h0m0-5h0m0 2h0m0-4h0m0 10h0m0-7h0m0 9h0m0-13h0m0 7h0m1 0h0m0-4h0m0 7h0m0 7h0m0-8h0m0-7h0m0-8h0m0 14h0m1-8h0m0-2h0m0 5h0m0-2h0m0 1h0m0 4h0m1 3h0m0-11h0m0 8h0m0-10h0m0 4h0m0 8h0m0-5h0m1 3h0m0-7h0m0 4h0m0-6h0m0 4h0m0-13h0m0 16h0m0 8h0m0-12h0m1 9h0m0-8h0m0 9h0m0-8h0m0 4h0m0-3h0m0 11h0m0-10h0m0 15h0m0-8h0m1-6h0m0 3h0m0-6h0m0-2h0m0 10h0m0-9h0m0-4h0m0 16h0m0-14h0m0 12h0m0-8h0m0 11h0m1-4h0m0-3h0m0 6h0m0-10h0m0-2h0m0 15h0m0-7h0m0-9h0m0 4h0m1-1h0m0 9h0m0-10h0m0 15h0m0-4h0m0-3h0m1-4h0m0 3h0m0-2h0m0 6h0m0 2h0m0-4h0m0 3h0m0-2h0m1 3h0m0-7h0m0 8h0m0-15h0m0 4h0m0-3h0m0 10h0m0-9h0m0 1h0m1 1h0m0 10h0m0-8h0m0 5h0m0-6h0m0-4h0m0 9h0m1-2h0m0-8h0m0 5h0m0 1h0m0-9h0m0 1h0m0 1h0m0 3h0m1-14h0m0 8h0m0 13h0m0-9h0m0 3h0m0 2h0m0-6h0m0 7h0m1-7h0m0 7h0m0 4h0m0-6h0m0-3h0m1 8h0m0 1h0m0 8h0m0-14h0m0 1h0m0 2h0m0-5h0m0-1h0m0-10h0m0 4h0m1 5h0m0 2h0m0 1h0m0 7h0m0-6h0m0 5h0m0-11h0m0 3h0m0 7h0m0-9h0m1 12h0m0-6h0m0-4h0m0-4h0m0 6h0m0-1h0m0-7h0m0 11h0m0-6h0m0 10h0m0-1h0m0-10h0m1 3h0m0 10h0m0 2h0m0-8h0m0 12h0m1-12h0m0-1h0m0 13h0m0-10h0m0 6h0m0 2h0m0-4h0m1-11h0m0 13h0m0 1h0m0 1h0m0-7h0m0 4h0m0-5h0m0 2h0m0-10h0m0 6h0m0-4h0m0 9h0m1-13h0m0 17h0m0-9h0m0-7h0m0 6h0m0-2h0m0 5h0m1 0h0m0 9h0m0-10h0m0-10h0m0 13h0m0-6h0m0-2h0m0 4h0m0-3h0m0 9h0m0-17h0m0 20h0m1-11h0m0 5h0m0 2h0m0-6h0m0-6h0m0 11h0m0-9h0m0 16h0m0-4h0m0-11h0m0 1h0m1 12h0m0-11h0m0 7h0m0 1h0m0-2h0m0 6h0m0-20h0m1 13h0m0-5h0m0 4h0m0-1h0m0-10h0m0 4h0m0 1h0m0 10h0m0-12h0m1 16h0m0-6h0m0 7h0m0-11h0m0-1h0m0 7h0m0-4h0m1 10h0m0-10h0m0 1h0m0-2h0m0 6h0m0 4h0m0-1h0m0-5h0m0-6h0m1 9h0m0-3h0m0 4h0m0-2h0m0-1h0m0-8h0m0 5h0m0 1h0m1 3h0m0-4h0m0-11h0m0 14h0m0-9h0m0 14h0m0-7h0m0-2h0m0-7h0m0 5h0m1 1h0m0 1h0m0-3h0m0 5h0m0 4h0m0-2h0m0-11h0m1 1h0m0 6h0m0-9h0m0 10h0m0-4h0m0 12h0m0-7h0m1-11h0m0 4h0m0 10h0m0-11h0m0 3h0m0 5h0m0-17h0m0 15h0m0-10h0m0 8h0m1-1h0m0-3h0m0 1h0m0 1h0m0-3h0m0-3h0m0-1h0m0 14h0m0 2h0m0-5h0m0-13h0m0-3h0m0 8h0m1 3h0m0 2h0m0 4h0m0 8h0m0-11h0m0 5h0m0-7h0m0-2h0m0 10h0m0-4h0m1-1h0m0-5h0m0 2h0m0 1h0m0 1h0m0 4h0m0 2h0m0-4h0m1 1h0m0 8h0m0-19h0m0 12h0m0-2h0m0-4h0m0-7h0m0 3h0m0 11h0m0-9h0m1-10h0m0 14h0m0-6h0m0 4h0m0-7h0m0 8h0m0-12h0m0 2h0m0 13h0m0-7h0m1 1h0m0-5h0m0 10h0m0-11h0m0 12h0m0 4h0m1-12h0m0 4h0m0-7h0m0 4h0m0-12h0m0 5h0m1 6h0m0-11h0m0 14h0m0-11h0m0 2h0m0 15h0m0-11h0m0 4h0m0 3h0m0-4h0m0 3h0m0-5h0m0-2h0m0 9h0m0-11h0m1 6h0m0-9h0m0-2h0m0 13h0m0-5h0m0-4h0m0 12h0m0-1h0m1-1h0m0 7h0m0-6h0m0-7h0m0 9h0m0-5h0m0 7h0m0-16h0m0 8h0m1-2h0m0 1h0m0 1h0m0 14h0m0-5h0m0-16h0m0 13h0m0-4h0m0 11h0m0-1h0m1-5h0m0 4h0m0-9h0m0 6h0m0 2h0m0-7h0m0 12h0m0-1h0m0-16h0m0 7h0m1-1h0m0 9h0m0-10h0m0 5h0m0 7h0m0-1h0m0-8h0m0-4h0m0 14h0m0-5h0m0-2h0m1-11h0m0 12h0m0 1h0m0 1h0m0 5h0m0-15h0m0 5h0m1-3h0m0-3h0m0 11h0m0-17h0m0 3h0m0 5h0m0-6h0m0 14h0m0-3h0m1-8h0m0 10h0m0 5h0m0-12h0m0 11h0m0-12h0m0-1h0m0 8h0m0-13h0m0-4h0m1 17h0m0-4h0m0-13h0m0 7h0m0-4h0m0 5h0m0 7h0m0-9h0m0 3h0m0-14h0m1 15h0m0-12h0m0 3h0m0-4h0m0 21h0m0-13h0m0 4h0m0-9h0m0-1h0m1 5h0m0-11h0m0 13h0m0-1h0m0 10h0m0-7h0m0 11h0m0-16h0m0 4h0m0-8h0m1 8h0m0-8h0m0 9h0m0 7h0m0-5h0m0 2h0m0-11h0m0 18h0m0-24h0m0 9h0m0 1h0m1 13h0m0-13h0m0-2h0m0-2h0m0 6h0m0 15h0m0-14h0m0 1h0m1 5h0m0-6h0m0 8h0m0-6h0m0-12h0m0 14h0m0-11h0m0 8h0m0-3h0m1 9h0m0-13h0m0 6h0m0 10h0m0-11h0m0 4h0m0-5h0m0 8h0m1-11h0m0 10h0m0-2h0m0-4h0m0 7h0m0 1h0m1-14h0m0 5h0m0-7h0m0 9h0m0-11h0m0 15h0m0 1h0m1-15h0m0 16h0m0-8h0m0 3h0m0 8h0m0-6h0m0-3h0m0 13h0m0-9h0m0 3h0m0-11h0m0-2h0m1 4h0m0-2h0m0 7h0m0 9h0m0-8h0m0 10h0m0-8h0m0 11h0m0-7h0m1-8h0m0 7h0m0-10h0m0 6h0m1 6h0m0-12h0m0 7h0m0-2h0m0 3h0m0 6h0m0-4h0m0-14h0m0 3h0m0 2h0m0 5h0m0-2h0m1 0h0m0-4h0m0 3h0m0-9h0m0 19h0m0-17h0m0 11h0m0-15h0m0 17h0m0-11h0m0-1h0m1 6h0m0-4h0m0 3h0m0-8h0m0 4h0m0-3h0m0 13h0m0-15h0m0 7h0m1 6h0m0-6h0m0-1h0m0-3h0m0-1h0m0-3h0m0-10h0m0 11h0m0 5h0m0 3h0m0-16h0m0 12h0m1 4h0m0 3h0m0-16h0m0 14h0m0-8h0m0-3h0m1 12h0m0-1h0m0-9h0m0 11h0m0-12h0m0-1h0m0 14h0m0 4h0m0-21h0m0 11h0m1 9h0m0-10h0m0-1h0m0-5h0m0-1h0m0 13h0m0-5h0m1 17h0m0-22h0m0 8h0m0-7h0m0 1h0m0 9h0m0-1h0m0-14h0m1 11h0m0-7h0m0 1h0m0 10h0m0-12h0m0 7h0m0-2h0m1 7h0m0-5h0m0-5h0m0-3h0m0 4h0m0 1h0m0 2h0m0-9h0m0 11h0m0-8h0m0 5h0m0-13h0m1 2h0m0 15h0m0 2h0m0 1h0m0-7h0m0 2h0m0 6h0m0-10h0m0 3h0m0-8h0m0 3h0m0 14h0m1-4h0m0-16h0m0 14h0m0 5h0m0-12h0m0 11h0m0-13h0m1 3h0m0 5h0m0-3h0m0 9h0m0-5h0m0-2h0m0 6h0m0-2h0m0 10h0m1-8h0m0 9h0m0-11h0m0-2h0m0 6h0m0-3h0m0 8h0m1 2h0m0-5h0m0-9h0m0-3h0m0 5h0m0-4h0m1-2h0m0 10h0m0-12h0m0 5h0m0-9h0m0 5h0m0 14h0m0-2h0m1-1h0m0-6h0m0 13h0m0-11h0m0 1h0m0 2h0m0 6h0m1-9h0m0 3h0m0 5h0m0-10h0m0-7h0m0 15h0m0-13h0m1-3h0m0 9h0m0 6h0m0-18h0m0 4h0m0 6h0m0 7h0m0-15h0m0 14h0m1-5h0m0-4h0m0 15h0m0-1h0m0 4h0m0-5h0m0-4h0m0-1h0m1 1h0m0-7h0m0-5h0m0 15h0m0-7h0m0-6h0m0 15h0m0-22h0m0-1h0m0 17h0m0-8h0m1 9h0m0-7h0m0 1h0m0-5h0m0-10h0m0 12h0m1 9h0m0-12h0m0 2h0m0 6h0m0 6h0m0-20h0m1 20h0m0-11h0m0-4h0m0 9h0m0-8h0m0-2h0m0-3h0m0 17h0m0-21h0m0 10h0m1-1h0m0-3h0m0 2h0m0-1h0m0 8h0m0-10h0m0-8h0m0 20h0m0-14h0m0 7h0m1 7h0m0-7h0m0 5h0m0-7h0m0 10h0m0-5h0m0 3h0m0-2h0m0-2h0m0-3h0m1 8h0m0-1h0m0 2h0m0-3h0m0 9h0m1-5h0m0-6h0m0 2h0m0-4h0m0 6h0m0-5h0m0 10h0m1-1h0m0-13h0m0 7h0m0-3h0m0-7h0m0 13h0m0-9h0m0-2h0m0 13h0m1-13h0m0 13h0m0-2h0m0-2h0m0-4h0m0-1h0m0-1h0m0 13h0m0-8h0m0 14h0m1-3h0m0-13h0m0 10h0m0-2h0m0-3h0m0 1h0m0 5h0m0-4h0m1 4h0m0-6h0m0-5h0m0-6h0m0 5h0m0 8h0m0-3h0m0 5h0m0-14h0m0 7h0m0 1h0m0-6h0m0 1h0m1 7h0m0 1h0m0-4h0m0 2h0m0 7h0m0-4h0m1-2h0m0-1h0m0 14h0m0-10h0m0-7h0m0-7h0m0 2h0m0 7h0m1-4h0m0 8h0m0 5h0m0 5h0m0-12h0m0-4h0m0 1h0m0-2h0m0 6h0m0-9h0m1 1h0m0 5h0m0-12h0m0 11h0m0 8h0m0-17h0m0 7h0m0-3h0m0 2h0m0-3h0m1-6h0m0 11h0m0 4h0m0-9h0m0 11h0m0-12h0m0 2h0m0 6h0m0 1h0m1-1h0m0-1h0m0 2h0m0 5h0m0-10h0m0-7h0m0 23h0m1-8h0m0-2h0m0-3h0m0-2h0m0 9h0m0 2h0m0-7h0m0-6h0m1 10h0m0 3h0m0-5h0m0-11h0m0 8h0m0-1h0m0-1h0m0 11h0m0 1h0m0-13h0m1 3h0m0 6h0m0 4h0m0-7h0m0 8h0m0-7h0m1 10h0m0-3h0m0-13h0m1 11h0m0-11h0m0 5h0m0 1h0m0-3h0m0-1h0m0-6h0m0 13h0m0-5h0m1-2h0m0-3h0m0-3h0m0-7h0m0 14h0m0-10h0m1 9h0m0 1h0m0-2h0m0 7h0m0-18h0m0 2h0m0 13h0m0 4h0m0 7h0m0-17h0m1 0h0m0-2h0m0-5h0m0 4h0m0 7h0m0-2h0m0-7h0m0 10h0m0-13h0m1 3h0m0 4h0m0-5h0m0-5h0m0 7h0m0-9h0m0 6h0m1 5h0m0 1h0m0-3h0m0-1h0m0-5h0m1 10h0m0 12h0m0 2h0m0-6h0m0-11h0m0 2h0m0 11h0m0-5h0m0 6h0m0-10h0m0 5h0m0-4h0m0-10h0m1 12h0m0-6h0m0 7h0m0 2h0m0 4h0m0 4h0m1-10h0m0-4h0m0 10h0m0-7h0m0 9h0m0-15h0m0 14h0m0 2h0m1-6h0m0-18h0m0 13h0m0 6h0m0-7h0m0-5h0m0-1h0m0 4h0m0 7h0m0 4h0m1-7h0m0 13h0m0-10h0m0-10h0m0 5h0m0 7h0m0-9h0m0 8h0m0-3h0m0 7h0m1-4h0m0-4h0m0-3h0m0 6h0m0-2h0m1 0h0m0-5h0m0 10h0m1-7h0m0-1h0m0 5h0m0-2h0m0 5h0m0-13h0m0 9h0m1 0h0m0-9h0m0 5h0m0-9h0m0 19h0m0-7h0m0 10h0m0-7h0m0 1h0m0-8h0m1-3h0m0 9h0m0 5h0m0 2h0m0-17h0m0 9h0m0-1h0m0-3h0m1 4h0m0-1h0m0-1h0m0-3h0m0 6h0m0-8h0m0 13h0m0-15h0m1 7h0m0 4h0m0 5h0m0-8h0m0 6h0m0-11h0m0 7h0m0-9h0m0-4h0m0 15h0m1-9h0m0 2h0m0-18h0m0 20h0m0-3h0m0 2h0m0-11h0m1 14h0m0-4h0m0-6h0m0-11h0m0 26h0m0-10h0m0-4h0m0 15h0m0-8h0m0 4h0m1-7h0m0 9h0m0-10h0m0-3h0m0 8h0m0-1h0m0 4h0m0-1h0m0-1h0m0 7h0m0 2h0m0-17h0m0 1h0m0 10h0m0-13h0m1 11h0m0-1h0m0-5h0m0 4h0m0-10h0m0 4h0m0 5h0m1-3h0m0 7h0m0-11h0m0 8h0m0-3h0m0 5h0m0-7h0m0-1h0m0-4h0m1 4h0m0-3h0m0-6h0m0 4h0m0 1h0m0 8h0m0 2h0m0-5h0m0 6h0m1-5h0m0 11h0m0-6h0m0-6h0m0 14h0m0-10h0m0 1h0m0 3h0m0-6h0m0-9h0m1 15h0m0-3h0m0 5h0m0-11h0m1 4h0m0 1h0m0-2h0m0-5h0m0-5h0m0 15h0m0-6h0m1 2h0m0 9h0m0-12h0m0 5h0m0 6h0m0-3h0m0 1h0m1 7h0m0-5h0m0 2h0m0 1h0m0-7h0m0-4h0m0 7h0m0-13h0m0 8h0m1-4h0m0 2h0m0 8h0m0-2h0m0-4h0m0-1h0m0 4h0m1-3h0m0-4h0m0 3h0m0-2h0m0 9h0m0-17h0m0-4h0m0 8h0m0-5h0m0 6h0m0-3h0m0 1h0m1-6h0m0 2h0m0-4h0m0 17h0m0-6h0m0-10h0m0 13h0m0 1h0m0-9h0m1-7h0m0 8h0m0 2h0m0 8h0m0-7h0m0-5h0m0 3h0m0 6h0m0 6h0m0-7h0m1-5h0m0-9h0m0 8h0m0 11h0m0-5h0m0-4h0m0 6h0m0 12h0m0-13h0m1-1h0m0 2h0m0 1h0m0-10h0m0 14h0m0 10h0m0-9h0m0-10h0m0 11h0m0-8h0m1 3h0m0-3h0m0 11h0m0-1h0m0 6h0m0-1h0m0-6h0m0 3h0m0-5h0m0-1h0m0-1h0m1 0h0m0-6h0m0 8h0m0-4h0m1 3h0m0-4h0m0 6h0m0 3h0m0-19h0m0 17h0m0 1h0m1-5h0m0 10h0m0-11h0m0 6h0m0-4h0m0-4h0m0-2h0m0-1h0m0-8h0m1-3h0m0 18h0m0-13h0m0 5h0m0 9h0m0-3h0m0-8h0m0-5h0m0 8h0m0-4h0m0 5h0m0 2h0m0 7h0m1-5h0m0-6h0m0 1h0m0 8h0m0-14h0m0 3h0m0 9h0m0 4h0m0-9h0m1-1h0m0-3h0m0 1h0m0 6h0m0 5h0m0-6h0m0 8h0m0 3h0m0-8h0m0-4h0m1 15h0m0-6h0m0-3h0m0-7h0m0 5h0m0-9h0m0 5h0m0 7h0m1-9h0m0-4h0m0 10h0m0-7h0m0 6h0m0-16h0m0 8h0m0 4h0m0-3h0m0-4h0m0-1h0m1-7h0m0 16h0m0-3h0m0 14h0m0-12h0m0 3h0m0-1h0m0 2h0m0 2h0m0-12h0m0 13h0m0-11h0m1 14h0m0-5h0m0-3h0m0-9h0m0 11h0m0-1h0m0-3h0m0 1h0m0-3h0m0-8h0m0-2h0m0-3h0m0 10h0m1-5h0m0 3h0m0-5h0m0 13h0m1-5h0m0-2h0m0-20h0m0 28h0m0-9h0m0-1h0m0-4h0m1-5h0m0 4h0m0-2h0m0 8h0m0-7h0m0 4h0m0-1h0m0-5h0m1-1h0m0 20h0m0-4h0m0 11h0m0-23h0m0 8h0m0-2h0m0 8h0m1-4h0m0-2h0m0 7h0m0 3h0m0-6h0m0-3h0m0 15h0m0 2h0m0-6h0m0-6h0m0 9h0m1-13h0m0 11h0m0 6h0m0-23h0m0 21h0m0-25h0m0 18h0m0-9h0m0 11h0m1 2h0m0-6h0m0 11h0m0-3h0m0-6h0m0 7h0m0-17h0m0 15h0m0-6h0m0 9h0m0-5h0m1-6h0m0 5h0m0 5h0m0-7h0m0 3h0m1-5h0m0-3h0m0 6h0m0-7h0m0 12h0m0-7h0m0 5h0m0 5h0m0-17h0m0 10h0m0-5h0m0 3h0m1 0h0m0 1h0m0-3h0m0-1h0m0 10h0m0-17h0m0 13h0m1 0h0m0-14h0m0 11h0m0 1h0m0-10h0m0 7h0m0-3h0m0-1h0m0-1h0m1-2h0m0 20h0m0-3h0m0-19h0m0-5h0m0 23h0m0-12h0m0-3h0m0-7h0m0 8h0m1 1h0m0 6h0m0-13h0m0 12h0m0-8h0m0 7h0m0-1h0m1 3h0m0-12h0m0 2h0m1-8h0m0 13h0m0-5h0m1-5h0m0 5h0m0-1h0m0 5h0m0 2h0m0-9h0m0 6h0m1 3h0m0-14h0m0 7h0m0 14h0m0-16h0m0 11h0m0-3h0m0-11h0m0 13h0m0-3h0m0 11h0m1-6h0m0-2h0m0-2h0m0-10h0m0 6h0m0 9h0m0-14h0m0-2h0m0 3h0m0 5h0m1 3h0m0-5h0m0 9h0m0-14h0m0 7h0m0 2h0m0 9h0m0-10h0m0 3h0m0-7h0m0-5h0m0-2h0m1 13h0m0 1h0m0-3h0m0 1h0m0 4h0m0-6h0m0 7h0m0 2h0m0-10h0m0-4h0m1 14h0m0-17h0m0 4h0m0 5h0m0-53h0m0-5h0m0 21h0m0-30h0m0 73h0m0-61h0m0 60h0m0-4h0m0-3h0m0-58h0m0-11h0m0 32h0m1-10h0m0 50h0m0-52h0m0 21h0m0 37h0m0-9h0m0-70h0m0 31h0m0-2h0m0 49h0m0-64h0m0 67h0m0-41h0m0-1h0m0-24h0m0 13h0m0 58h0m0-6h0m0-3h0m0-9h0m1 7h0m0 1h0m0 1h0m0-9h0m0-5h0m0 9h0m0 1h0m0-8h0m0-3h0m0 9h0m1-7h0m0 8h0m0 8h0m0-1h0m0-6h0m0-6h0m0 9h0m0 1h0m0-3h0m0-4h0m1-3h0m0-2h0m0 15h0m0-11h0m0-5h0m0-1h0m0 15h0m0 3h0m0-8h0m0 4h0m1-13h0m0 4h0m0 10h0m0 7h0m0-15h0m0 11h0m0-1h0m0 8h0m0-1h0m0-14h0m0 13h0m0-2h0m0 5h0m0 1h0m0-14h0m1 14h0m0-5h0m0-7h0m0 10h0m0-11h0m0 4h0m0 3h0m0 2h0m0-4h0m0 9h0m1-7h0m0-8h0m0 15h0m0-4h0m0-9h0m0 10h0m0-8h0m0-5h0m0 15h0m0-11h0m0-2h0m1 9h0m0 2h0m0-6h0m1-7h0m0 9h0m0-14h0m0 12h0m0-9h0m0-1h0m0 6h0m0 2h0m0-4h0m0 5h0m1-10h0m0 3h0m0-1h0m0-3h0m0 7h0m0-9h0m1-2h0m0 8h0m0-6h0m0-3h0m0 2h0m0 17h0m0-8h0m0-5h0m0 4h0m1-4h0m0-9h0m0 13h0m0-2h0m0-1h0m0-5h0m0-4h0m0 6h0m0-3h0m1 0h0m0 6h0m0 7h0m0-14h0m0 2h0m1 3h0m0 4h0m0-6h0m0-2h0m0 3h0m0 8h0m1-8h0m0 9h0m0-7h0m0 19h0m0-16h0m0 3h0m0-7h0m0-2h0m0 15h0m0-2h0m1-25h0m0 11h0m0-1h0m0 6h0m0 2h0m0 9h0m0-12h0m0 7h0m0-1h0m0-4h0m1 4h0m0-1h0m0-8h0m0 2h0m0 1h0m0 2h0m0-4h0m0 3h0m1-5h0m0-1h0m0 21h0m0-17h0m0-2h0m0 4h0m0-8h0m0 9h0m0-2h0m0 3h0m1-5h0m0 10h0m0-14h0m0 12h0m0-7h0m0 6h0m1 1h0m0 2h0m0-3h0m0-5h0m0 9h0m0 3h0m1-18h0m0 13h0m0-5h0m0 9h0m0 5h0m0-17h0m1-3h0m0-1h0m0 18h0m0-1h0m0 3h0m0-14h0m0 3h0m0 12h0m0-19h0m1-1h0m0 11h0m0 3h0m0-8h0m0-5h0m0 6h0m0 9h0m0-4h0m0-7h0m1 7h0m0-3h0m0 5h0m0-9h0m0 1h0m0-5h0m0 6h0m0 8h0m1-8h0m0 9h0m0-8h0m0-8h0m0 12h0m0 7h0m0-10h0m0-6h0m0 1h0m1 3h0m0-9h0m0 7h0m0 6h0m0-14h0m0 18h0m0-2h0m1-14h0m0 7h0m0 11h0m0 1h0m0-4h0m0-1h0m0-3h0m0 9h0m1-2h0m0-8h0m0-6h0m0 4h0m0-2h0m0 11h0m0-6h0m1-1h0m0 2h0m0-5h0m0-1h0m0 5h0m0 9h0m0-7h0m0-5h0m1 5h0m0-5h0m0-5h0m0-4h0m0 8h0m0 4h0m0-5h0m0-5h0m1 7h0m0 9h0m0-5h0m0-8h0m0 5h0m0-8h0m0 15h0m0-3h0m1-3h0m0 2h0m0-5h0m0-7h0m0 9h0m0-3h0m0-3h0m0-2h0m1 8h0m0-11h0m0 4h0m0 5h0m0-1h0m0 8h0m0-10h0m0 14h0m0-3h0m1-8h0m0 14h0m0-5h0m0-8h0m0 1h0m0 2h0m0 9h0m0-14h0m0-1h0m0 5h0m1-1h0m0-2h0m0-11h0m0 7h0m0 3h0m0-9h0m0 8h0m0-11h0m0-1h0m0 11h0m0 11h0m1-9h0m0 1h0m0-5h0m0-8h0m0 10h0m0-1h0m0 10h0m0-2h0m1-13h0m0 6h0m0 4h0m0-15h0m0 9h0m0 10h0m0-13h0m0 6h0m1-5h0m0 5h0m0 3h0m0-7h0m0 11h0m0-3h0m0-3h0m0 7h0m1-17h0m0 18h0m0-10h0m0 4h0m0 4h0m0-6h0m0 3h0m0-6h0m0-5h0m0 15h0m1-14h0m0 10h0m0-6h0m0-1h0m0 12h0m0-10h0m0 8h0m0-2h0m1 4h0m0-2h0m0-7h0m0 6h0m0 2h0m0-9h0m0-3h0m0 2h0m0 6h0m0-3h0m1 8h0m0-20h0m0 10h0m0 2h0m0 5h0m1-1h0m0 15h0m0-13h0m0-7h0m0 2h0m1 10h0m0-5h0m0-12h0m0 1h0m0 4h0m0 9h0m0-5h0m0 7h0m1-5h0m0 1h0m0-11h0m0 7h0m0-9h0m0 7h0m0-3h0m0 7h0m0 3h0m0-4h0m0-5h0m0 18h0m0-5h0m1-12h0m0 13h0m0-3h0m0-12h0m0 6h0m1 3h0m0-18h0m0 6h0m0 11h0m0-1h0m0-13h0m0-1h0m0 5h0m0 4h0m1 2h0m0-12h0m0 4h0m0-7h0m0 18h0m0 7h0m0-14h0m0-5h0m0 6h0m0 7h0m1-1h0m0-8h0m0 11h0m0-13h0m0 6h0m0-2h0m0 3h0m0 1h0m0 1h0m1-4h0m0 7h0m0-2h0m0-3h0m0-3h0m0 11h0m0 3h0m0-7h0m1-2h0m0-1h0m0-5h0m0 9h0m0 4h0m0-3h0m0 2h0m0-4h0m0-4h0m1 3h0m0 4h0m0-8h0m0 13h0m0-17h0m0 14h0m0 1h0m1 8h0m0-4h0m0-17h0m0 8h0m0 12h0m0-14h0m0-1h0m0-2h0m0 8h0m1-12h0m0 6h0m0-5h0m0-11h0m0 9h0m0 10h0m0 1h0m0-3h0m1-6h0m0-1h0m0 6h0m0 6h0m0-10h0m0 5h0m0-8h0m1 9h0m0-10h0m0 2h0m0-4h0m0 16h0m0-1h0m0-7h0m0-1h0m0-1h0m0 7h0m0 7h0m1-5h0m0-1h0m0-11h0m0 17h0m0-9h0m0 1h0m0 5h0m0 2h0m0-11h0m0 1h0m0-10h0m0-1h0m0 7h0m1 6h0m0-17h0m0 25h0m0-12h0m0-8h0m0 7h0m0 19h0m0-15h0m1 4h0m0-5h0m0 2h0m0-5h0m0 11h0m0-7h0m0-2h0m0 12h0m0-16h0m0 3h0m0-11h0m1 3h0m0 8h0m0 2h0m0 1h0m0 2h0m0 3h0m0 9h0m1-8h0m0-8h0m0 10h0m0 1h0m0-6h0m0-4h0m0 6h0m0-1h0m0 7h0m1 4h0m0-14h0m0 8h0m0-3h0m0-7h0m0 14h0m0-2h0m0-8h0m0 2h0m0 2h0m0 3h0m1-5h0m0-2h0m0-5h0m0 6h0m0 6h0m0-11h0m0 8h0m0-6h0m0 5h0m0 5h0m1-4h0m0-4h0m0 6h0m0-7h0m0 9h0m0-10h0m0 11h0m0 1h0m1-7h0m0-1h0m0 8h0m0-15h0m0 11h0m0-2h0m0-12h0m0 1h0m0 5h0m0 9h0m0-10h0m0-1h0m0 4h0m0 1h0m1-4h0m0 2h0m0 3h0m0 6h0m0-1h0m0-15h0m0-6h0m0 9h0m1-3h0m0 10h0m0-4h0m0-15h0m0 12h0m0-7h0m0-2h0m0-7h0m1 9h0m0-2h0m0 3h0m0 15h0m0-8h0m0-1h0m0-3h0m0-1h0m0 7h0m0-11h0m0 3h0m0-23h0m1 21h0m0 7h0m0 2h0m0 5h0m0-9h0m0-1h0m0-2h0m0-7h0m0 20h0m1-15h0m0 5h0m0-6h0m0-1h0m0 3h0m0-7h0m0 15h0m0-2h0m0 5h0m0-2h0m0-14h0m1 17h0m0-9h0m0 3h0m0 3h0m0-10h0m0 6h0m0-1h0m1 1h0m0 4h0m0-3h0m0 2h0m0-5h0m0 7h0m0-3h0m1-5h0m0 7h0m0-13h0m0 1h0m0 8h0m0-7h0m0 16h0m0-10h0m0-3h0m1 3h0m0-2h0m0 4h0m0-6h0m0-3h0m0-2h0m1 13h0m0-11h0m0 14h0m0 3h0m0-2h0m0-2h0m0-5h0m0-3h0m0 1h0m1-1h0m0 5h0m0-1h0m0 14h0m0-10h0m0 3h0m0 6h0m0-7h0m0 2h0m0 1h0m1-9h0m0 2h0m0-4h0m0-6h0m0 1h0m0 2h0m1-1h0m0-5h0m0 14h0m0-4h0m0 2h0m0 8h0m0-3h0m0-2h0m0 1h0m0 2h0m1-5h0m0 3h0m0-8h0m0 7h0m0 9h0m0-12h0m1 5h0m0 1h0m0-11h0m0-4h0m0 13h0m0-5h0m0-1h0m0 12h0m0-9h0m0 6h0m0-7h0m1-6h0m0 14h0m0-8h0m0 3h0m0 7h0m0-20h0" stroke="#000000" stroke-width="2.9" stroke-linecap="round" fill="none"/>
<rect x="840.3" y="28.6" width="344.5" height="257.8" fill="none" stroke="#000" stroke-width="2.4"/>
<line x1="834.8" y1="286.4" x2="840.3" y2="286.4" stroke="#000" stroke-width="2.4"/>
<text x="832.0" y="292.0" font-size="15.5" font-family='"Liberation Sans", sans-serif' text-anchor="end" textLength="7.5" lengthAdjust="spacingAndGlyphs">0</text>
<line x1="837.1" y1="254.2" x2="840.3" y2="254.2" stroke="#000" stroke-width="2.4"/>
<line x1="834.8" y1="221.9" x2="840.3" y2="221.9" stroke="#000" stroke-width="2.4"/>
<text x="832.0" y="227.5" font-size="15.5" font-family='"Liberation Sans", sans-serif' text-anchor="end" textLength="7.5" lengthAdjust="spacingAndGlyphs">4</text>
<line x1="837.1" y1="189.7" x2="840.3" y2="189.7" stroke="#000" stroke-width="2.4"/>
<line x1="834.8" y1="157.5" x2="840.3" y2="157.5" stroke="#000" stroke-width="2.4"/>
<text x="832.0" y="163.1" font-size="15.5" font-family='"Liberation Sans", sans-serif' text-anchor="end" textLength="7.5" lengthAdjust="spacingAndGlyphs">8</text>
<line x1="837.1" y1="125.3" x2="840.3" y2="125.3" stroke="#000" stroke-width="2.4"/>
<line x1="834.8" y1="93.1" x2="840.3" y2="93.1" stroke="#000" stroke-width="2.4"/>
<text x="832.0" y="98.6" font-size="15.5" font-family='"Liberation Sans", sans-serif' text-anchor="end" textLength="15.0" lengthAdjust="spacingAndGlyphs">12</text>
<line x1="837.1" y1="60.8" x2="840.3" y2="60.8" stroke="#000" stroke-width="2.4"/>
<line x1="834.8" y1="28.6" x2="840.3" y2="28.6" stroke="#000" stroke-width="2.4"/>
<text x="832.0" y="34.2" font-size="15.5" font-family='"Liberation Sans", sans-serif' text-anchor="end" textLength="15.0" lengthAdjust="spacingAndGlyphs">16</text>
<line x1="840.3" y1="286.4" x2="840.3" y2="292.9" stroke="#000" stroke-width="2.4"/>
<text x="840.3" y="310.0" font-size="15.5" font-family='"Liberation Sans", sans-serif' text-anchor="middle" textLength="7.5" lengthAdjust="spacingAndGlyphs">0</text>
<line x1="869.0" y1="286.4" x2="869.0" y2="289.9" stroke="#000" stroke-width="2.4"/>
<line x1="897.7" y1="286.4" x2="897.7" y2="292.9" stroke="#000" stroke-width="2.4"/>
<text x="897.7" y="310.0" font-size="15.5" font-family='"Liberation Sans", sans-serif' text-anchor="middle" textLength="22.5" lengthAdjust="spacingAndGlyphs">500</text>
<line x1="926.4" y1="286.4" x2="926.4" y2="289.9" stroke="#000" stroke-width="2.4"/>
<line x1="955.1" y1="286.4" x2="955.1" y2="292.9" stroke="#000" stroke-width="2.4"/>
<text x="955.1" y="310.0" font-size="15.5" font-family='"Liberation Sans", sans-serif' text-anchor="middle" textLength="30.0" lengthAdjust="spacingAndGlyphs">1000</text>
<line x1="983.8" y1="286.4" x2="983.8" y2="289.9" stroke="#000" stroke-width="2.4"/>
<line x1="1012.5" y1="286.4" x2="1012.5" y2="292.9" stroke="#000" stroke-width="2.4"/>
<text x="1012.5" y="310.0" font-size="15.5" font-family='"Liberation Sans", sans-serif' text-anchor="middle" textLength="30.0" lengthAdjust="spacingAndGlyphs">1500</text>
<line x1="1041.3" y1="286.4" x2="1041.3" y2="289.9" stroke="#000" stroke-width="2.4"/>
<line x1="1070.0" y1="286.4" x2="1070.0" y2="292.9" stroke="#000" stroke-width="2.4"/>
<text x="1070.0" y="310.0" font-size="15.5" font-family='"Liberation Sans", sans-serif' text-anchor="middle" textLength="30.0" lengthAdjust="spacingAndGlyphs">2000</text>
<line x1="1098.7" y1="286.4" x2="1098.7" y2="289.9" stroke="#000" stroke-width="2.4"/>
<line x1="1127.4" y1="286.4" x2="1127.4" y2="292.9" stroke="#000" stroke-width="2.4"/>
<text x="1127.4" y="310.0" font-size="15.5" font-family='"Liberation Sans", sans-serif' text-anchor="middle" textLength="30.0" lengthAdjust="spacingAndGlyphs">2500</text>
<line x1="1156.1" y1="286.4" x2="1156.1" y2="289.9" stroke="#000" stroke-width="2.4"/>
<line x1="1184.8" y1="286.4" x2="1184.8" y2="292.9" stroke="#000" stroke-width="2.4"/>
<text x="1184.8" y="310.0" font-size="15.5" font-family='"Liberation Sans", sans-serif' text-anchor="middle" textLength="30.0" lengthAdjust="spacingAndGlyphs">3000</text>
<text transform="translate(808.5 160.0) rotate(-90)" text-anchor="middle" font-size="20" textLength="136.5" lengthAdjust="spacingAndGlyphs">GDP RMSD(&#197; )</text>
<text x="1012.5" y="339.8" font-size="20" font-family='"Liberation Sans", sans-serif' text-anchor="middle" textLength="167" lengthAdjust="spacingAndGlyphs">Simulation time (ns)</text>
<circle cx="851.5" cy="44" r="1.1" fill="#000"/>
<circle cx="851.5" cy="66.3" r="1.3" fill="#ff0000"/>
<circle cx="850.3" cy="87.6" r="1.5" fill="#0000ff"/>
<text x="865.0" y="50.0" font-size="18" font-family='"Liberation Sans", sans-serif' textLength="33.7" lengthAdjust="spacingAndGlyphs">Sim1</text>
<text x="865.0" y="72.0" font-size="18" font-family='"Liberation Sans", sans-serif' fill="#ff0000" textLength="33.7" lengthAdjust="spacingAndGlyphs">Sim2</text>
<text x="864.0" y="93.1" font-size="18" font-family='"Liberation Sans", sans-serif' fill="#0000ff" textLength="34.5" lengthAdjust="spacingAndGlyphs">Sim3</text>
<text x="853.8" y="22.5" font-size="27.3" font-family='"Liberation Sans", sans-serif' textLength="328.5" lengthAdjust="spacingAndGlyphs">cS5 mediated GDP release</text>
<path d="M58 643h0m0 6h0m0-20h0m1 35h0m0-24h0m0 3h0m0 4h0m0 14h0m0-13h0m0-4h0m1-5h0m0-3h0m0 7h0m0 4h0m0 7h0m0 6h0m0-19h0m0 10h0m0-6h0m0 3h0m0 1h0m0-16h0m1 16h0m0-11h0m0 1h0m0 5h0m1 0h0m0-13h0m0 14h0m0-4h0m0-1h0m1 3h0m0-7h0m0 17h0m0-4h0m0 6h0m0-8h0m0-6h0m1 10h0m0-8h0m0 5h0m0-6h0m0 16h0m0-13h0m1 3h0m0 3h0m0-4h0m0 5h0m0-3h0m0 10h0m1-11h0m0 6h0m0-5h0m0 12h0m0-11h0m0 2h0m1 10h0m0-4h0m0-3h0m0 1h0m0 3h0m0-2h0m0 9h0m1-4h0m0-10h0m0 12h0m0-8h0m0-13h0m1 16h0m0-10h0m0 2h0m0 2h0m0 5h0m0-4h0m1-2h0m0 8h0m0-16h0m0 7h0m0 12h0m0-7h0m0 12h0m0-10h0m0 8h0m1-13h0m0-7h0m0 13h0m0 9h0m0-19h0m0 2h0m0 13h0m0-7h0m0 6h0m0-13h0m0 6h0m1 2h0m0-1h0m0-5h0m0 3h0m0 6h0m0-7h0m1-11h0m0-3h0m0-5h0m1 8h0m0 6h0m0 4h0m0 5h0m1-6h0m0-6h0m0-5h0m0 8h0m1-11h0m0 5h0m0 2h0m0-9h0m0-6h0m0 17h0m0 1h0m0 3h0m0 2h0m1 0h0m0-10h0m0 19h0m0-14h0m0-4h0m0 15h0m0 1h0m1-10h0m0 13h0m0-5h0m0-1h0m0-12h0m0-6h0m0 14h0m1-2h0m0-2h0m0 3h0m0-2h0m0-4h0m0 7h0m0 8h0m0-7h0m1 0h0m0 4h0m0 4h0m0-17h0m0 11h0m0-1h0m0-2h0m0-5h0m0 4h0m1 2h0m0 1h0m0-4h0m0 11h0m0-12h0m0 2h0m0 5h0m1-4h0m0 2h0m0-6h0m0 13h0m0-1h0m0-11h0m0 8h0m0 12h0m0-18h0m1 4h0m0 1h0m0-5h0m0-3h0m0-1h0m0-10h0m0 12h0m1 4h0m0-12h0m0 11h0m0-7h0m1-5h0m0 10h0m0 7h0m0-12h0m0-2h0m0 13h0m0-2h0m1-13h0m0 5h0m0 5h0m0-2h0m0-5h0m0-2h0m1 7h0m0 11h0m0-3h0m0 4h0m0-16h0m0 8h0m0 1h0m1-4h0m0 7h0m0-2h0m1 6h0m0-5h0m0-4h0m0 10h0m0-11h0m0 7h0m0-5h0m0 10h0m1-4h0m0-3h0m0 5h0m0-4h0m0-4h0m0 2h0m0-3h0m0 6h0m1-4h0m0-5h0m0-2h0m0-3h0m0-7h0m0 5h0m1-1h0m0-5h0m0 23h0m0-8h0m0 3h0m0 3h0m0-9h0m0 2h0m0-8h0m0 10h0m0-6h0m0 1h0m0 6h0m0-8h0m1 11h0m0-15h0m0-1h0m0 7h0m0 6h0m0-3h0m0 4h0m0-3h0m0-14h0m0 5h0m0-7h0m0 3h0m0 8h0m1 11h0m0 1h0m0-17h0m0 9h0m1 0h0m0-1h0m0 6h0m0-18h0m0 2h0m0-10h0m0 16h0m1 1h0m0-6h0m0 3h0m1-8h0m0 10h0m0-7h0m0 1h0m0 4h0m0-20h0m0 14h0m0 5h0m0 8h0m1-6h0m0-1h0m0 4h0m0-9h0m0 4h0m1 6h0m0 3h0m0 4h0m0-11h0m1 3h0m0-2h0m0-9h0m0 14h0m0 8h0m1-13h0m0-3h0m0-2h0m0 9h0m1-11h0m0 7h0m0 1h0m0 3h0m0 2h0m0 4h0m0-8h0m0 1h0m1-11h0m0 11h0m0 4h0m0-8h0m1 1h0m0 7h0m0-14h0m0 4h0m0-1h0m0 5h0m1 4h0m0 7h0m0 4h0m0-9h0m0 4h0m0-7h0m1 4h0m0 14h0m0-16h0m0 9h0m0-12h0m0 11h0m0-29h0m1 37h0m0-19h0m0 3h0m0 4h0m0 9h0m0-2h0m0-18h0m1-2h0m0 11h0m0-8h0m0-6h0m0 17h0m0-13h0m0 7h0m0 9h0m0-5h0m0-23h0m0 30h0m0 4h0m0-16h0m1 13h0m0-22h0m0 14h0m0-2h0m0-5h0m0 8h0m0 5h0m1-5h0m0-13h0m0 12h0m1-6h0m0 9h0m0-14h0m0 6h0m0 1h0m0-13h0m0 4h0m0 3h0m0 7h0m1 4h0m0 3h0m0-8h0m0-1h0m1 8h0m0-12h0m0 13h0m0-12h0m0-10h0m0-1h0m1 8h0m0-1h0m0-2h0m0 9h0m0-2h0m0 13h0m0-12h0m0-11h0m0 13h0m0 2h0m0 3h0m0-9h0m1 6h0m0-6h0m0 11h0m1-5h0m0 5h0m0-6h0m0 3h0m0 4h0m0-15h0m0 6h0m0-4h0m0 11h0m0-12h0m1-1h0m0 7h0m0-1h0m0-8h0m0-3h0m0 25h0m0-17h0m0 14h0m1 0h0m0-4h0m0-11h0m0 5h0m0 2h0m0-1h0m0-5h0m0 11h0m0-13h0m0 5h0m1 1h0m0-10h0m0 12h0m0-4h0m0 8h0m1 7h0m0-6h0m0-2h0m0 6h0m0-5h0m0-2h0m0 4h0m0 15h0m0-32h0m0 11h0m1 13h0m0-11h0m0-1h0m0 7h0m0-16h0m0 13h0m0-6h0m0-2h0m0-8h0m0 7h0m0 2h0m1-2h0m0 3h0m1 16h0m0-19h0m0 3h0m0-13h0m0 8h0m0 3h0m0-6h0m0 7h0m0 13h0m0-9h0m1-5h0m0-13h0m0 26h0m0-18h0m0 7h0m0 4h0m1-15h0m0 10h0m0 5h0m0-4h0m0-5h0m0-5h0m0 2h0m0-1h0m1 4h0m0-14h0m0 18h0m0-3h0m0 2h0m0-9h0m0-7h0m1 9h0m0-2h0m0 8h0m0-7h0m0 9h0m0-6h0m0-11h0m0 12h0m0-8h0m1 11h0m0-6h0m0 17h0m0-4h0m0-14h0m0 8h0m1 4h0m0-11h0m0-9h0m0 22h0m0-8h0m0 9h0m0-19h0m0 22h0m1-8h0m0 9h0m0 2h0m0-19h0m1 12h0m0 12h0m0-20h0m0-4h0m1 16h0m0-13h0m0-6h0m0-3h0m0 11h0m0 6h0m0 3h0m0-8h0m0 14h0m0-12h0m1 3h0m0 3h0m0-10h0m0 12h0m0-9h0m0-4h0m0 7h0m0-4h0m1-2h0m0 4h0m0 1h0m0-2h0m1-3h0m0-4h0m0 13h0m0-3h0m0 5h0m0-1h0m1-10h0m0 6h0m0 4h0m0 2h0m0-9h0m0 1h0m0 12h0m0-8h0m1 6h0m0-11h0m0 5h0m0-9h0m0 8h0m0-9h0m0 3h0m1-4h0m0 12h0m0-27h0m1 10h0m0 8h0m0-10h0m0 15h0m1-2h0m0-3h0m0-5h0m0 16h0m0-10h0m0-5h0m1 6h0m0 6h0m0-12h0m0 10h0m0-7h0m0 4h0m0 4h0m0 3h0m1-3h0m0-5h0m0 11h0m0-3h0m1-11h0m0 9h0m0-7h0m0-5h0m1 19h0m0-14h0m0 4h0m0-1h0m0-14h0m1 10h0m0 8h0m0-12h0m0 22h0m0-12h0m0-1h0m0 5h0m1-7h0m0-1h0m0 17h0m0-9h0m1-8h0m0 2h0m0-6h0m0 16h0m0-6h0m0-16h0m0-6h0m0 14h0m0 5h0m0-9h0m1 8h0m0 6h0m0-14h0m0 16h0m0 1h0m0-10h0m0 5h0m0-7h0m0 20h0m0-5h0m1-5h0m0-4h0m0-1h0m1-3h0m0 13h0m0-19h0m0-5h0m0 13h0m1-1h0m0-4h0m0 1h0m0 6h0m0-16h0m0 5h0m0 1h0m1 1h0m0 10h0m0-23h0m0 11h0m0 5h0m0 8h0m0-19h0m0 2h0m1 4h0m0 11h0m0-18h0m0 5h0m0 15h0m0-14h0m1 4h0m0-11h0m0 8h0m0-7h0m0 6h0m0 11h0m0-3h0m1-3h0m0 4h0m0 4h0m0-9h0m0 4h0m0-6h0m0 5h0m0 8h0m0-3h0m1-3h0m0-7h0m0 1h0m0-3h0m0 4h0m0 2h0m1-3h0m0 12h0m0-8h0m0 17h0m1-12h0m0 1h0m0 8h0m0-1h0m0-9h0m0 13h0m0-5h0m0 9h0m0-13h0m0 2h0m0-1h0m1-1h0m0 3h0m0 2h0m0 1h0m0 1h0m1-11h0m0 1h0m0 14h0m0-18h0m0 7h0m0-8h0m0 7h0m0 6h0m0-4h0m1-3h0m0 1h0m0 4h0m0-2h0m0 8h0m0-5h0m1-10h0m0-12h0m0 7h0m0-4h0m0 10h0m1-2h0m0-6h0m0 8h0m0-7h0m0 6h0m1-5h0m0-4h0m0 5h0m0-10h0m0 11h0m1 5h0m0-19h0m0 5h0m0-8h0m0 11h0m0-1h0m0-3h0m0-2h0m1 1h0m0 5h0m0-1h0m0-5h0m0 10h0m0-7h0m0-7h0m1 2h0m0-4h0m0 11h0m0-8h0m0 15h0m0-8h0m0 2h0m0-4h0m0 7h0m1-14h0m0 1h0m0-4h0m0 15h0m0-3h0m0-2h0m0 14h0m0-11h0m0-16h0m0 17h0m0 7h0m0-14h0m1-3h0m0 4h0m0 11h0m0-4h0m0 8h0m0-10h0m0 1h0m0 10h0m1-11h0m0 12h0m0-7h0m0-6h0m0 3h0m0-8h0m0 9h0m0 5h0m1 0h0m0-3h0m0-11h0m1 8h0m0-1h0m0 2h0m0 7h0m0-6h0m1-1h0m0 5h0m0-9h0m0 10h0m0 5h0m0 3h0m1-19h0m0 20h0m0-9h0m0-8h0m0 13h0m0-10h0m0 1h0m0-2h0m1 0h0m0 1h0m0-3h0m0-4h0m0 9h0m0-6h0m1 11h0m0-9h0m0 7h0m0-6h0m0 2h0m0 2h0m1 0h0m0 1h0m0 1h0m0-10h0m0 2h0m0-4h0m0 7h0m0 2h0m1-6h0m0-7h0m0 14h0m0 3h0m0-16h0m0 7h0m0 10h0m1-11h0m0-8h0m0 20h0m0-6h0m0-4h0m1-4h0m0 3h0m0-6h0m0 4h0m0 3h0m0-12h0m1 21h0m0-21h0m0 16h0m0-2h0m0-3h0m1-7h0m0 9h0m0 1h0m0-8h0m0-8h0m0 7h0m0 2h0m1 3h0m0-4h0m0-3h0m0 9h0m0-5h0m1-3h0m0 13h0m0-12h0m0 4h0m0 2h0m1-2h0m0-7h0m0 5h0m0 1h0m0 12h0m1-6h0m0-1h0m0-3h0m0 13h0m0-16h0m0 5h0m0 4h0m1-7h0m0 2h0m0 4h0m0-5h0m0 4h0m0 4h0m0-5h0m0 10h0m1-9h0m0 2h0m0-4h0m0 10h0m0-12h0m0 8h0m0-10h0m0 3h0m1 1h0m0 5h0m0-2h0m0-2h0m0 11h0m0-6h0m0-8h0m0-3h0m1 16h0m0-4h0m0-5h0m0-9h0m0 1h0m1 11h0m0-14h0m0 9h0m0-2h0m0-10h0m0 9h0m0-3h0m0 10h0m1-12h0m0 11h0m0-8h0m0 2h0m0-7h0m0-4h0m0 2h0m0 6h0m0 4h0m0 1h0m0 3h0m1-9h0m0 6h0m0-3h0m0-2h0m0 15h0m0-8h0m0-1h0m1-2h0m0-2h0m0 6h0m0-1h0m0 7h0m0-11h0m0 3h0m1 13h0m0-5h0m0-9h0m0 7h0m0-5h0m0-6h0m1 5h0m0 6h0m0-4h0m0-5h0m0 12h0m0-10h0m1 6h0m0 1h0m0-12h0m0 3h0m0 2h0m0 3h0m0-2h0m1 9h0m0-9h0m0 7h0m0-2h0m0 5h0m0-6h0m0 9h0m1 0h0m0 3h0m0-15h0m0 11h0m1 4h0m0-1h0m0-6h0m0-3h0m0-2h0m0 6h0m0-8h0m1-4h0m0 9h0m0-3h0m0 13h0m0-7h0m0-2h0m0-3h0m1 1h0m0 4h0m0-10h0m0 3h0m0-8h0m0 7h0m1 9h0m0-8h0m0-8h0m0 9h0m0-5h0m0-1h0m1 6h0m0 1h0m0-8h0m0 1h0m0 1h0m0-5h0m1 2h0m0 1h0m0 1h0m0 1h0m0-8h0m0 11h0m0-8h0m1-1h0m0-3h0m0 7h0m0 1h0m0-7h0m0 1h0m1 6h0m0-11h0m0 4h0m1 7h0m0-1h0m0-4h0m0-2h0m0 1h0m0 8h0m0-6h0m1-13h0m0 10h0m0 6h0m0-4h0m1-9h0m0 9h0m0 5h0m0-2h0m0-7h0m1 3h0m0 1h0m0 6h0m0-5h0m0-10h0m0 19h0m0-8h0m1 9h0m0 4h0m0-14h0m0 1h0m0 2h0m1 4h0m0 11h0m0-9h0m0-3h0m1-5h0m0 2h0m0 15h0m0-11h0m0 7h0m0-1h0m0-7h0m1 0h0m0 4h0m0 8h0m0 5h0m0-3h0m1-3h0m0 9h0m0-8h0m0-10h0m0 7h0m0-2h0m0 3h0m1-11h0m0 3h0m0 7h0m0-1h0m0-7h0m0-4h0m0 7h0m0-6h0m0-2h0m1 7h0m0-6h0m0 5h0m0 3h0m1 2h0m0-2h0m0-12h0m1 5h0m0 3h0m0-5h0m0-16h0m1 20h0m0-10h0m0 4h0m0 5h0m0-3h0m0 1h0m1 1h0m0 3h0m0-8h0m0-9h0m0 7h0m1 7h0m0-8h0m0-3h0m0 4h0m1-2h0m0 7h0m0-4h0m0-7h0m1 8h0m0 8h0m0-10h0m0 8h0m0-2h0m0 11h0m0-19h0m0 11h0m1 7h0m0-11h0m0 6h0m0 3h0m1-7h0m0-7h0m0 10h0m0-11h0m0 9h0m0-5h0m1 10h0m0-6h0m0 1h0m1 0h0m0-7h0m0 17h0m0-9h0m0-3h0m0 6h0m0-8h0m0 12h0m0 1h0m1-13h0m0 7h0m0 3h0m0-2h0m0 6h0m0-8h0m1 3h0m0 7h0m0-17h0m0 8h0m0-4h0m0-6h0m0 3h0m0 15h0m0-5h0m0-9h0m1 14h0m0-24h0m0 10h0m0 1h0m0 1h0m0-11h0m1 10h0m0-2h0m0 3h0m0 5h0m0-1h0m0-11h0m0 9h0m0-1h0m0-5h0m1 4h0m0-15h0m0 16h0m0-9h0m0 2h0m0 11h0m1-12h0m0 2h0m0-1h0m0 13h0m0-4h0m1-5h0m0 4h0m0-8h0m0 5h0m0-3h0m1 6h0m0-17h0m0 7h0m0-3h0m0 8h0m0 2h0m0 6h0m0 4h0m1-10h0m0 10h0m0-7h0m0 12h0m0-11h0m0 10h0m0-15h0m0 10h0m0-3h0m1 5h0m0-7h0m0-5h0m0 11h0m0-1h0m1-5h0m0-4h0m0 8h0m0-10h0m0-2h0m0 3h0m0 12h0m0-18h0m0 8h0m1 2h0m0-4h0m0 6h0m0-3h0m0-6h0m0 8h0m0 4h0m0-7h0m1-3h0m0 7h0m0-2h0m0 15h0m1-9h0m0-1h0m0-12h0m0 2h0m0 8h0m0-9h0m0 3h0m0 4h0m0-11h0m1 0h0m0 17h0m0 2h0m0-15h0m0-7h0m0 11h0m0-12h0m1 7h0m0 6h0m0-4h0m0-3h0m0 12h0m0-7h0m1 12h0m0-10h0m0-4h0m0 6h0m1-1h0m0-7h0m0 15h0m0-7h0m0 3h0m0 5h0m1-5h0m0-1h0m0 3h0m0 1h0m0 3h0m0-5h0m0 6h0m0 1h0m1-6h0m0-1h0m0 8h0m0-14h0m0 3h0m1 4h0m0-8h0m0-8h0m0 3h0m0 8h0m1-5h0m0 6h0m0 1h0m0-4h0m0-2h0m0-13h0m0 16h0m0-7h0m0 2h0m1 0h0m0-2h0m0 4h0m0 4h0m0 7h0m0-6h0m0-2h0m0-2h0m1-2h0m0 17h0m0-8h0m0-5h0m0 8h0m0-7h0m0-3h0m0-8h0m0 12h0m1 1h0m0 7h0m0-11h0m0-2h0m0 7h0m1-10h0m0 2h0m0 4h0m0 1h0m0-4h0m0 7h0m0 2h0m0-7h0m1 0h0m0 4h0m0-10h0m0 16h0m0-21h0m0 23h0m0-14h0m0-6h0m0 4h0m0 6h0m1-6h0m0 3h0m0-7h0m0-1h0m0 16h0m0-13h0m1 10h0m0-3h0m0 4h0m0 1h0m1 4h0m0-14h0m0 2h0m0 6h0m0-10h0m0 7h0m0 1h0m1-11h0m0 17h0m0-4h0m0-4h0m0-18h0m0 12h0m0 3h0m0 13h0m1-11h0m0-8h0m0 2h0m0 12h0m0-7h0m1 3h0m0 8h0m0-7h0m0-11h0m0 13h0m0 1h0m1 9h0m0-9h0m0 2h0m0 1h0m0-4h0m0-3h0m0 2h0m1 8h0m0-6h0m0 5h0m0-2h0m0-6h0m0-3h0m0 2h0m1 2h0m0-4h0m0-4h0m1 1h0m0 10h0m0-2h0m0-3h0m0-2h0m0 9h0m0 1h0m0-4h0m0 6h0m0 1h0m1-1h0m0-4h0m0 10h0m0-7h0m0-2h0m0-9h0m1 8h0m0 10h0m0-9h0m0-4h0m0-3h0m1 1h0m0-9h0m0 19h0m0 4h0m0-12h0m0 2h0m0-8h0m0 10h0m0-11h0m1 11h0m0-3h0m0-7h0m0 5h0m0-3h0m0 9h0m1-13h0m0 3h0m0 2h0m0 6h0m0-9h0m0 2h0m0 6h0m1-8h0m0-15h0m0 10h0m0 3h0m0 9h0m1-4h0m0-9h0m0 3h0m0 4h0m1-4h0m0 6h0m0-8h0m0-4h0m0 3h0m0-2h0m1 14h0m0-16h0m0 12h0m0-4h0m0 6h0m0-4h0m0-9h0m0 12h0m1 2h0m0-8h0m0 2h0m0 12h0m1-8h0m0-3h0m0 2h0m0-1h0m0-8h0m0 5h0m0 8h0m1-2h0m0-9h0m0 1h0m0 2h0m0 4h0m0-2h0m0 12h0m1-6h0m0-2h0m0-4h0m0-5h0m0 2h0m0-1h0m1-2h0m0-5h0m0 14h0m0-3h0m0-1h0m0-11h0m1 7h0m0-4h0m0 3h0m1-18h0m0-5h0m0-4h0m0 31h0m0-3h0m0-11h0m0 1h0m0 9h0m0 7h0m0-8h0m1 13h0m0-5h0m0-11h0m0 5h0m0 4h0m0-13h0m0 5h0m0-4h0m0-11h0m0 4h0m1 10h0m0 7h0m0-10h0m0 18h0m0-27h0m0 10h0m0 16h0m0 5h0m1-8h0m0-7h0m0-3h0m0-8h0m0 19h0m0-2h0m0 18h0m0-10h0m1 9h0m0-13h0m0 5h0m0-6h0m0 3h0m0 14h0m0-21h0m0 12h0m0-19h0m0 8h0m0 5h0m1-5h0m0 9h0m0-7h0m0 5h0m0-14h0m0 12h0m0 6h0m0-3h0m0 4h0m1-7h0m0-1h0m0-5h0m0 3h0m0-1h0m0-8h0m0 21h0m0-20h0m0 6h0m0-5h0m0-4h0m1-2h0m0 3h0m0-2h0m0-7h0m0 12h0m0 2h0m1-1h0m0-21h0m0 14h0m0 6h0m0-7h0m0 5h0m0 4h0m0-18h0m0 12h0m1-11h0m0 4h0m0-5h0m0 8h0m0 16h0m0-10h0m1-4h0m0-7h0m0 20h0m0-10h0m1 0h0m0 3h0m0-9h0m0 8h0m0 4h0m0-10h0m1 10h0m0 4h0m0-6h0m0-5h0m0 3h0m0 6h0m1-6h0m0 5h0m0-6h0m0 7h0m0-18h0m0 9h0m0 14h0m0-15h0m0-10h0m1 6h0m0 19h0m0-10h0m0 2h0m0-3h0m0-2h0m0 4h0m0 5h0m1-9h0m0-8h0m0-2h0m0 5h0m0 10h0m0-2h0m0-6h0m1-21h0m0 18h0m0 7h0m0 8h0m0-2h0m1 0h0m0 7h0m0-12h0m0 11h0m0-27h0m0 17h0m0-6h0m0 12h0m0-13h0m0 2h0m1 6h0m0-5h0m1 4h0m0-1h0m0-2h0m0-11h0m0 8h0m0 1h0m0 11h0m0-13h0m0-4h0m1 4h0m0-4h0m0 7h0m0 7h0m0-3h0m0 6h0m1-6h0m0-16h0m0 21h0m0-18h0m0 16h0m0-6h0m0 5h0m0-11h0m1-10h0m0 13h0m0-8h0m0 5h0m0 11h0m1-2h0m0-21h0m0 23h0m0-22h0m0 13h0m0-4h0m0 2h0m0 12h0m0 3h0m1-22h0m0 2h0m0 19h0m0-1h0m0 4h0m0-16h0m0 11h0m1-5h0m0 5h0m0 2h0m0-9h0m0 10h0m0-16h0m1 18h0m0-1h0m0 2h0m1-5h0m0-6h0m0 7h0m0 8h0m0 1h0m0-14h0m0 2h0m0 6h0m0-1h0m1-13h0m0 12h0m0 4h0m0 5h0m0-10h0m1 0h0m0 3h0m0 4h0m0-8h0m0-2h0m0-4h0m0 12h0m0-3h0m1-8h0m0 15h0m0-18h0m0 8h0m0 5h0m0-7h0m0 8h0m1 7h0m0-13h0m0-9h0m0 14h0m0 9h0m0-11h0m0-6h0m1 6h0m0 7h0m0 9h0m0-5h0m0-3h0m1-4h0m0-12h0m0 9h0m0 2h0m0-12h0m0 16h0m1-13h0m0 11h0m0-3h0m0-4h0m0 2h0m0-8h0m0 17h0m0-31h0m0 17h0m0 8h0m1-23h0m0-5h0m0 20h0m0 7h0m0-10h0m0 4h0m0-3h0m1-2h0m0 4h0m0 3h0m0-13h0m0 17h0m0-2h0m0 9h0m0-17h0m0 2h0m1 1h0m0 12h0m0-15h0m0 5h0m0-12h0m0 9h0m0 2h0m0-3h0m0 7h0m1-1h0m0 1h0m0-5h0m0-8h0m0 5h0m1 11h0m0-2h0m0 4h0m0-6h0m0 11h0m1-10h0m0-2h0m0-3h0m0-4h0m0 8h0m0 12h0m0-1h0m0-4h0m0-1h0m1-3h0m0 8h0m0-11h0m0-8h0m0 7h0m1 1h0m0 1h0m0 1h0m0 1h0m1-2h0m0 1h0m0-5h0m0 10h0m0-7h0m0-14h0m0 13h0m1-1h0m0 8h0m0-11h0m0 6h0m0 11h0m0-8h0m0-16h0m0 20h0m0-8h0m0 2h0m1-2h0m0-10h0m0-6h0m1 25h0m0-4h0m0-11h0m0-1h0m0-8h0m0 17h0m0 1h0m0-13h0m0 9h0m0-11h0m1 7h0m0-1h0m0 5h0m0-6h0m1 7h0m0-3h0m0-9h0m0 7h0m0-1h0m0-1h0m0-10h0m1 2h0m0 8h0m0-2h0m0 7h0m0-9h0m0-1h0m0 11h0m1-8h0m0-5h0m0 13h0m0-11h0m0 7h0m0 1h0m0 1h0m1-1h0m0-3h0m0-2h0m0-5h0m0 12h0m1 4h0m0-9h0m0 10h0m0-5h0m0-11h0m1 9h0m0 6h0m0-12h0m0 9h0m0-12h0m0 17h0m0-15h0m0 11h0m0-12h0m1 7h0m0 9h0m0-17h0m0 6h0m0-5h0m0 10h0m1-3h0m0 10h0m1-12h0m0 7h0m0-2h0m0 9h0m0-8h0m0-8h0m0-7h0m1 20h0m0-16h0m0 17h0m0 2h0m0-8h0m0-18h0m0 9h0m0 11h0m1-6h0m0-11h0m0 14h0m0-7h0m1 7h0m0-12h0m0-1h0m0 19h0m0-8h0m0-7h0m0-2h0m0-11h0m1 18h0m0-1h0m0-3h0m0 13h0m0-16h0m0 5h0m0 6h0m0 2h0m1-11h0m0-1h0m0 19h0m0-14h0m0 1h0m0 3h0m1 6h0m0 6h0m0-19h0m0 10h0m0 11h0m0-14h0m0-9h0m0-6h0m1-2h0m0 19h0m0-5h0m1 15h0m0-5h0m0-4h0m0-5h0m0 18h0m0-8h0m0 1h0m1-6h0m0-3h0m0 1h0m0 1h0m0 4h0m0 3h0m1-3h0m0-5h0m0 11h0m0-12h0m0 8h0m0-4h0m0-2h0m0 5h0m1-2h0m0 14h0m0-1h0m0-2h0m0-3h0m0-16h0m0 17h0m0-2h0m1-5h0m0-13h0m0 12h0m0 8h0m0-13h0m0 4h0m0-2h0m0 6h0m1 2h0m0-8h0m1 6h0m0-5h0m0 3h0m0-9h0m0 8h0m0 5h0m0-16h0m1-5h0m0 4h0m0-1h0m0 6h0m0-3h0m0 11h0m0-18h0m0 20h0m1-13h0m0-5h0m0 6h0m0 7h0m0 2h0m0 5h0m1-19h0m0 1h0m0 15h0m0-3h0m0-7h0m0 4h0m0-2h0m1 9h0m0-6h0m0-1h0m0 15h0m0-16h0m0 5h0m0-8h0m0 12h0m0-11h0m1 9h0m0 8h0m0-12h0m0 7h0m0-4h0m0-4h0m0 9h0m0-7h0m0 8h0m0 4h0m1-8h0m0-9h0m0 7h0m0 4h0m0 5h0m0 2h0m0-21h0m0 15h0m1-8h0m0 13h0m0-9h0m1 4h0m0-9h0m0 23h0m0-9h0m0-8h0m0 5h0m0-9h0m0 10h0m0 4h0m0-9h0m0 3h0m1-2h0m0-5h0m0 8h0m0-16h0m0 3h0m0 3h0m1 7h0m0 1h0m0-4h0m0-8h0m0 1h0m0 1h0m0 11h0m0-4h0m1-11h0m0 10h0m0 1h0m0 11h0m0-18h0m0 2h0m1 8h0m0 1h0m0-8h0m0 4h0m0 15h0m0-18h0m0-4h0m0 8h0m1 0h0m0 1h0m0 2h0m0-10h0m0 4h0m0-1h0m0-7h0m1 8h0m0-5h0m0-4h0m0 3h0m0 7h0m0 3h0m0-23h0m0 16h0m0 5h0m1-1h0m0-6h0m0-8h0m0 7h0m0 12h0m0-6h0m1-10h0m0 7h0m0-2h0m0-6h0m0 18h0m0-6h0m0-17h0m1 19h0m0-11h0m0 4h0m0-1h0m0 14h0m0-10h0m0-8h0m0 2h0m1-14h0m0 16h0m0-1h0m0 4h0m0 6h0m0-2h0m1-10h0m0 5h0m0 4h0m0 6h0m0-9h0m0-9h0m1 7h0m0-12h0m0-6h0m0 13h0m0 12h0m0-11h0m0-11h0m1 14h0m0 4h0m0-11h0m0 6h0m0-4h0m0 1h0m0 13h0m0 3h0m0 6h0m0-20h0m0 10h0m1 0h0m0-9h0m0 4h0m0-5h0m0 13h0m0 7h0m0-13h0m0-3h0m0 2h0m1 1h0m0 7h0m0-13h0m0 15h0m0-11h0m0 5h0m1-3h0m0-5h0m0-3h0m0-9h0m0 18h0m1 0h0m0-5h0m0-8h0m0-2h0m0-1h0m0 8h0m0-4h0m0 9h0m0-4h0m1-10h0m0-6h0m0 5h0m0-4h0m0 8h0m0 7h0m0-6h0m0 5h0m1 1h0m0-11h0m0 8h0m0-3h0m0 8h0m0-9h0m0 11h0m1-5h0m0 8h0m0-4h0m0 2h0m0-3h0m0-2h0m0 11h0m0-16h0m1 4h0m0-1h0m0 7h0m0-20h0m0 17h0m0-2h0m0-7h0m1 11h0m0-14h0m0 4h0m0-1h0m0 13h0m0-6h0m0 9h0m0-10h0m0 2h0m0-4h0m0-9h0m0 28h0m0-6h0m0 5h0m1-15h0m0 7h0m0-5h0m0-3h0m0 6h0m1-7h0m0-3h0m0 14h0m0-10h0m0-19h0m0 17h0m0-5h0m0-2h0m0-9h0m0 6h0m1 12h0m0-2h0m0-9h0m0 12h0m0-11h0m1 11h0m0-9h0m0-2h0m0-7h0m0 19h0m0 7h0m0-28h0m0 12h0m0-5h0m0 7h0m0 1h0m1-16h0m0 23h0m0-3h0m0-14h0m1-1h0m0-1h0m0 5h0m0 3h0m0-5h0m0 10h0m1-13h0m0-14h0m0 19h0m0 3h0m0-5h0m0 14h0m0-18h0m0-6h0m1 10h0m0 2h0m0 8h0m0-3h0m0-4h0m0 10h0m0-4h0m0-4h0m1 4h0m0-12h0m0 4h0m0 4h0m0-3h0m0 1h0m0 3h0m1-5h0m0 11h0m0-5h0m0-9h0m1 0h0m0 5h0m0 8h0m1-3h0m0-5h0m0 10h0m0 11h0m0-19h0m0 18h0m0-11h0m0 9h0m0-11h0m0 21h0m1-11h0m0-5h0m0-94h0m0 50h0m0 42h0m0-89h0m0 18h0m0 72h0m0 5h0m0-88h0m0 5h0m0 54h0m0-34h0m0-30h0m0 3h0m0 66h0m0 13h0m0-6h0m0-19h0m0-51h0m0 2h0m0-16h0m0 27h0m0 65h0m1-37h0m0 8h0m0 40h0m0-6h0m0-5h0m0-70h0m0-26h0m0 91h0m0-2h0m0-73h0m0 60h0m0-8h0m0-33h0m0-23h0m0-16h0m0 70h0m0-13h0m0-28h0m0-14h0m0 34h0m0 61h0m0-20h0m0-40h0m0 47h0m0-66h0m0 71h0m0-35h0m0 17h0m0-1h0m1 3h0m0-84h0m0 73h0m0 28h0m0-97h0m0 95h0m0-49h0m0-1h0m0 15h0m0 33h0m0-91h0m0 92h0m0-18h0m0 29h0m0-101h0m0 36h0m0-17h0m0-22h0m0 86h0m0 11h0m1-3h0m0-63h0m0-37h0m0 96h0m0-69h0m0 42h0m0 28h0m0-96h0m0 81h0m0 13h0m0-2h0m0 22h0m0 5h0m1-9h0m0-15h0m0 28h0m0-21h0m0 11h0m0-6h0m0-8h0m0 7h0m1 6h0m0-17h0m0 6h0m0 7h0m0-8h0m0 9h0m0-2h0m0-2h0m1 3h0m0-12h0m0 9h0m0-1h0m0-9h0m0 14h0m1-12h0m0 1h0m0-3h0m0 4h0m0 13h0m0-18h0m0 14h0m0-1h0m0-19h0m1 8h0m0-10h0m0 11h0m0 9h0m1-19h0m0 14h0m0 2h0m0-11h0m0 20h0m0-15h0m1 0h0m0 4h0m0-18h0m0 13h0m0 2h0m0 1h0m1-4h0m0 10h0m0-17h0m0 13h0m0-12h0m1 0h0m0 8h0m0 2h0m0-5h0m0-1h0m1 2h0m0 18h0m0-16h0m0-4h0m0-8h0m0 7h0m1 14h0m0-5h0m0-8h0m0 1h0m0 1h0m1 3h0m0-3h0m0 2h0m0-16h0m0 11h0m0-8h0m0 19h0m0 5h0m0-4h0m0-2h0m0-8h0m1 14h0m0 3h0m0 1h0m0-25h0m0 14h0m0 2h0m0-11h0m0-7h0m1 16h0m0-2h0m0-10h0m0-3h0m0 8h0m0 16h0m1-17h0m0 17h0m0-16h0m0-2h0m0-1h0m0 16h0m0-5h0m1 3h0m0-15h0m0 8h0m1-5h0m0 11h0m0-3h0m0-9h0m0 7h0m0-4h0m0 8h0m1 4h0m0-8h0m0 6h0m0-7h0m0 6h0m0-9h0m0 7h0m1 9h0m0 1h0m0-10h0m0-8h0m0 7h0m0 4h0m0 3h0m1-8h0m0-6h0m0 8h0m0-1h0m0-2h0m0-3h0m0 2h0m1 9h0m0-14h0m0 7h0m0-9h0m0 21h0m0-10h0m1-2h0m0 2h0m0 1h0m0-4h0m0 11h0m0-5h0m1-5h0m0-15h0m0 8h0m0 9h0m0-6h0m0 15h0m0-1h0m0-5h0m0-6h0m1-9h0m0 6h0m0 5h0m1-20h0m0 14h0m0 3h0m0-16h0m1 9h0m0 5h0m0-9h0m0 8h0m0 5h0m0 3h0m1-10h0m0 9h0m0-15h0m1-1h0m0 16h0m0-1h0m0-7h0m0-6h0m0 10h0m0-20h0m1 11h0m0-5h0m0 12h0m0-8h0m0 12h0m0 1h0m0-21h0m0 5h0m1 7h0m0-23h0m0 24h0m0-9h0m0 15h0m0-13h0m0-1h0m0 11h0m1 0h0m0-3h0m0 9h0m0 2h0m0-7h0m0 3h0m0 9h0m0-6h0m0-16h0m0 1h0m1 17h0m0-13h0m0-9h0m0 16h0m0-8h0m0 9h0m0 8h0m0-27h0m0 15h0" stroke="#0000ff" stroke-width="3.2" stroke-linecap="round" fill="none"/>
<path d="M59 656h0m0 4h0m0-8h0m0 2h0m0 7h0m0-19h0m0 11h0m0-3h0m0 5h0m1-6h0m0 6h0m0-13h0m0 14h0m0-3h0m0-9h0m1-2h0m0-1h0m0 9h0m0-11h0m0 6h0m0 6h0m1-11h0m0-6h0m0 12h0m0-3h0m0 6h0m0 11h0m0 1h0m0-9h0m1-6h0m0-4h0m0 1h0m0 15h0m0-9h0m0-4h0m0 3h0m0 7h0m1 6h0m0-4h0m0-5h0m0-5h0m0-6h0m0 5h0m0-1h0m1-3h0m0 19h0m0-17h0m0 14h0m0-19h0m1 9h0m0 9h0m0-16h0m0 9h0m0 10h0m0-17h0m0 9h0m1 16h0m0-13h0m0 16h0m0-4h0m0-13h0m0 5h0m0-12h0m1 22h0m0-8h0m0-3h0m0 5h0m0-15h0m0 12h0m0-5h0m0-5h0m0-7h0m0 16h0m1-19h0m0-10h0m0 20h0m0-7h0m0-6h0m0 8h0m0 12h0m0-2h0m0-17h0m0 11h0m1-12h0m0 18h0m0-5h0m0 9h0m0-24h0m0 22h0m0-11h0m1 1h0m0 4h0m0-10h0m0-10h0m0 4h0m0 3h0m0 15h0m0 1h0m0-8h0m0 17h0m0-2h0m1-10h0m0-6h0m0 5h0m0-7h0m0 14h0m0-18h0m0 9h0m1-10h0m0 13h0m0-14h0m0 3h0m0 5h0m0-9h0m0 17h0m1-14h0m0 9h0m0-5h0m0 9h0m0-8h0m0-4h0m0 10h0m1-10h0m0 4h0m0 4h0m0-6h0m0-13h0m0 25h0m0-4h0m1-18h0m0 21h0m0-8h0m0 9h0m1-10h0m0 2h0m0 4h0m0-2h0m0-16h0m1 9h0m0 6h0m0-16h0m0 7h0m1 9h0m0 7h0m0-13h0m0 8h0m0 20h0m0-18h0m0-5h0m1-12h0m0-2h0m0 20h0m0-2h0m0-5h0m0-6h0m0-2h0m0 16h0m0-5h0m1-3h0m0 9h0m0-15h0m0 14h0m1-4h0m0-2h0m0 7h0m0-10h0m0 8h0m0-10h0m0 3h0m0 6h0m1-11h0m0 1h0m0 12h0m0-1h0m0-10h0m0 20h0m0-11h0m0-7h0m1 17h0m0-3h0m0-4h0m0 1h0m0-2h0m0-9h0m0 3h0m1-12h0m0 19h0m0-7h0m0-5h0m0-2h0m0 19h0m0-11h0m1 1h0m0-6h0m0 19h0m0-2h0m0 1h0m0-13h0m0 8h0m1-5h0m0 11h0m0-2h0m0-1h0m0 8h0m0-24h0m0 26h0m0-21h0m0 2h0m1 8h0m0-5h0m0 6h0m0-3h0m0 4h0m0 5h0m1-11h0m0 6h0m0-5h0m0 3h0m0-1h0m0-10h0m0 5h0m0-16h0m0 2h0m1-6h0m0 5h0m0-9h0m0 15h0m0 4h0m0-14h0m0 6h0m1-19h0m0 11h0m0-10h0m0 34h0m0-8h0m0-8h0m0-14h0m1 8h0m0-24h0m0 16h0m0 5h0m0-17h0m0 26h0m0-3h0m0-22h0m1 5h0m0-4h0m0 13h0m0 3h0m0-10h0m0 16h0m0 2h0m0-10h0m0-4h0m0 28h0m0-20h0m0 1h0m1-4h0m0 6h0m0-52h0m0-24h0m0 66h0m0 17h0m0-22h0m0-3h0m0-44h0m0-21h0m0 80h0m0-82h0m0 36h0m0 44h0m0-55h0m0 48h0m0-56h0m0 33h0m0 7h0m0-11h0m1 20h0m0-24h0m0-46h0m0 49h0m0-44h0m0 76h0m0-41h0m0-32h0m0 14h0m0-7h0m0 42h0m0 17h0m0-11h0m0 2h0m0-58h0m0 66h0m0-12h0m0-57h0m0 58h0m0-7h0m0 16h0m0 11h0m0-15h0m0-56h0m0 36h0m0 30h0m0-53h0m0-11h0m0 82h0m0-78h0m0 20h0m0 47h0m0-48h0m1-27h0m0 22h0m0-27h0m0 3h0m0 58h0m0-23h0m0 11h0m0-31h0m0-5h0m0 65h0m0-1h0m0-29h0m0 16h0m0 30h0m0-74h0m0 31h0m0 30h0m0-19h0m0-30h0m0 20h0m0 33h0m0-22h0m0-35h0m0 52h0m0-12h0m0-29h0m0-4h0m0-29h0m0 47h0m0 4h0m1 10h0m0-38h0m0 32h0m0-46h0m0 6h0m0 35h0m0-13h0m0-41h0m0-6h0m0 7h0m0-5h0m0 91h0m0-92h0m0 35h0m0 67h0m0-12h0m0 5h0m0-23h0m0 22h0m0-5h0m0-12h0m0 16h0m0-10h0m1-1h0m0 9h0m0 2h0m0-5h0m0 2h0m0-7h0m1 15h0m0-18h0m0-2h0m0 3h0m0 6h0m0 3h0m1 11h0m0-2h0m0-3h0m0 20h0m0-14h0m0-4h0m0-13h0m1-9h0m0 35h0m0-26h0m0 16h0m0-2h0m0-11h0m0 19h0m0-1h0m0-2h0m0-9h0m0 5h0m0-8h0m1 4h0m0 14h0m0-10h0m0-3h0m1-16h0m0 30h0m0 1h0m0-3h0m0-2h0m0-17h0m0-10h0m1 28h0m0-2h0m0-18h0m0-3h0m0 14h0m0-10h0m0 15h0m1-58h0m0-24h0m0 69h0m0 17h0m0-55h0m0-32h0m0 79h0m0-22h0m0-35h0m0 59h0m0 10h0m0-39h0m0 19h0m0-3h0m0-29h0m0-9h0m0 6h0m0-23h0m0 14h0m0-23h0m0 10h0m0 17h0m0 2h0m0-21h0m0-15h0m0 58h0m1-36h0m0 31h0m0-55h0m0 3h0m0 12h0m0-1h0m0 27h0m0 24h0m0-8h0m0 9h0m0-22h0m0-34h0m0 9h0m0 33h0m0 6h0m0 17h0m0 13h0m0-54h0m0 30h0m0-28h0m0-30h0m0 14h0m0 60h0m0-13h0m1 14h0m0-7h0m0-7h0m0-2h0m0 7h0m1-14h0m0 31h0m0-24h0m0-4h0m0 2h0m0-1h0m0 9h0m0-12h0m0 7h0m1 7h0m0-21h0m0 44h0m0-18h0m0-1h0m0 5h0m0-16h0m1 3h0m0-13h0m0 26h0m0-12h0m0 25h0m0-27h0m0 11h0m0-26h0m0 11h0m1 10h0m0-13h0m0 1h0m0-7h0m0 16h0m0-3h0m0 7h0m0 2h0m1-20h0m0 6h0m0-11h0m0 12h0m0-88h0m0 91h0m0-18h0m0 19h0m0 11h0m0-83h0m0 6h0m0 2h0m0 55h0m0 18h0m0-32h0m0 3h0m0 6h0m0-57h0m0 38h0m0 41h0m0-39h0m0 35h0m0-6h0m0-96h0m0 66h0m0 14h0m0-27h0m0-38h0m0 43h0m0-40h0m0 97h0m0-65h0m0-13h0m0 76h0m0-42h0m0-26h0m0-21h0m0-8h0m1 89h0m0-93h0m0 18h0m0-10h0m0 91h0m0-88h0m0 80h0m0-52h0m0 65h0m0-74h0m0 71h0m0-49h0m0 40h0m0-39h0m0 57h0m0-119h0m0 45h0m0 26h0m0-33h0m0 43h0m0-30h0m0-54h0m0 16h0m0 34h0m0-21h0m0 71h0m0-56h0m0 1h0m0 38h0m0-44h0m0 50h0m0-23h0m0-58h0m0 70h0m0-20h0m0 23h0m0 28h0m0-14h0m0-57h0m0 8h0m0-39h0m1 98h0m0 2h0m0-42h0m0-17h0m0 33h0m0-43h0m0 26h0m0-28h0m0 65h0m0-35h0m0-51h0m0-8h0m0 91h0m0-14h0m0-64h0m0 30h0m0 24h0m0-30h0m0-30h0m0-1h0m0 100h0m0-9h0m0 8h0m1-16h0m0 3h0m0-6h0m0-1h0m0 6h0m0-13h0m1 23h0m0-10h0m0 16h0m0-18h0m0 24h0m0-13h0m1-13h0m0 17h0m0-10h0m0 8h0m0-21h0m0 4h0m0 32h0m0-16h0m0-8h0m1 23h0m0-16h0m0 6h0m0 3h0m0-10h0m0-2h0m1-6h0m0 10h0m0-5h0m0 11h0m0-4h0m0-4h0m0 12h0m0 1h0m0-23h0m1 6h0m0 11h0m0 12h0m0-16h0m0 7h0m0-9h0m0-3h0m1 12h0m0-5h0m0-25h0m1-43h0m0-3h0m0 82h0m0-77h0m0 40h0m0-10h0m0 19h0m0-39h0m0 46h0m0-59h0m0 65h0m0-19h0m0-36h0m0 6h0m0 26h0m0-47h0m0 22h0m0-34h0m0 32h0m0-30h0m0 56h0m0-34h0m0-2h0m0 58h0m0 13h0m0-87h0m0 82h0m0-42h0m1 38h0m0-26h0m0-26h0m0 37h0m0-43h0m0 53h0m0 7h0m0-45h0m0 67h0m0-38h0m0-3h0m0-46h0m0 42h0m0-40h0m0-17h0m0 59h0m0 20h0m0-75h0m0-6h0m0 70h0m0-43h0m0-31h0m0 24h0m0-19h0m0 11h0m0 24h0m0 37h0m1-3h0m0-11h0m0 16h0m0-24h0m0 7h0m0-42h0m0 15h0m0-7h0m0 55h0m0-67h0m0-5h0m0 34h0m0-18h0m0-18h0m0 76h0m0-62h0m0-17h0m0 41h0m0 33h0m0-70h0m0 57h0m0-31h0m0-6h0m0 40h0m0-5h0m0-57h0m1 31h0m0-19h0m0 21h0m0 35h0m0-25h0m0 22h0m0 10h0m0 12h0m0-50h0m0-15h0m0 1h0m0 6h0m0 15h0m0 42h0m0-66h0m0 57h0m1 3h0m0-13h0m0-11h0m0 4h0m0 2h0m0 14h0m0-35h0m0 23h0m0 20h0m0-13h0m1-30h0m0 11h0m0 2h0m0 4h0m0-14h0m0 16h0m0-7h0m0 10h0m0 4h0m1-3h0m0-13h0m0 12h0m0-2h0m0 13h0m0-26h0m0 5h0m0 12h0m0 11h0m1-7h0m0-5h0m0 10h0m0-9h0m0-11h0m0 16h0m0 1h0m0 10h0m0-13h0m1-2h0m0-5h0m0 8h0m0 16h0m0-9h0m0-1h0m0-4h0m0 28h0m0-17h0m0-19h0m1 13h0m0 8h0m0-14h0m0-8h0m0 12h0m1 7h0m0-22h0m0 32h0m0-24h0m0 10h0m0-1h0m0-8h0m1-2h0m0 2h0m0 18h0m0 7h0m0-22h0m0 14h0m1 5h0m0-20h0m0 8h0m0-2h0m0-2h0m0 6h0m0-11h0m0 16h0m1-9h0m0 10h0m0-14h0m0 1h0m0 2h0m0 2h0m0-3h0m0 7h0m0 1h0m1 11h0m0-15h0m0 6h0m0 11h0m0-22h0m0 12h0m1-1h0m0-2h0m0-2h0m0 1h0m0-10h0m0 7h0m0 22h0m0-9h0m0 2h0m1-2h0m0-2h0m0 7h0m0-8h0m0-4h0m0-12h0m1 22h0m0-6h0m0-3h0m0 11h0m0-7h0m0 1h0m1 6h0m0 1h0m0 2h0m0 1h0m0-6h0m0-11h0m1 7h0m0-3h0m0 15h0m0-8h0m0 14h0m0-9h0m0 11h0m0-3h0m1-5h0m0 8h0m0-17h0m0-7h0m0 5h0m0-1h0m0 5h0m0-1h0m0-5h0m0-2h0m0 17h0m0-4h0m1-17h0m0 8h0m0 6h0m0-5h0m0-2h0m1 0h0m0-1h0m0 6h0m0-4h0m1 6h0m0-8h0m0 4h0m0-9h0m0-3h0m0 2h0m0 9h0m0-7h0m0-3h0m0 5h0m1 6h0m0 2h0m0-5h0m0 1h0m1-10h0m0-9h0m0 6h0m0 4h0m1-2h0m0 13h0m0-7h0m0-7h0m0 9h0m0-4h0m0-3h0m1 21h0m0-16h0m0-7h0m0 11h0m0-8h0m0-5h0m1 3h0m0-5h0m0 16h0m0-1h0m0-21h0m1 16h0m0 12h0m0-26h0m0 17h0m0-5h0m0 8h0m0-18h0m0 13h0m0-14h0m1 6h0m0-6h0m0 22h0m0-7h0m0-3h0m0 4h0m0-3h0m1 18h0m0-22h0m0 11h0m0-3h0m0-2h0m0 4h0m0-3h0m1 13h0m0-6h0m0-3h0m0 5h0m0-4h0m0 5h0m0-4h0m0 16h0m0-14h0m1 10h0m0-22h0m0 20h0m0-12h0m1-1h0m0 10h0m0-13h0m0-11h0m1 14h0m0-1h0m0 13h0m0-14h0m0 11h0m0-2h0m0-14h0m1 15h0m0-16h0m0 1h0m0 10h0m0-7h0m0 5h0m0-3h0m0 19h0m0-30h0m1 8h0m0 1h0m0 2h0m0 1h0m0-6h0m0-3h0m0 13h0m0-11h0m0-1h0m0 9h0m0-24h0m0 7h0m1 5h0m0 6h0m0-9h0m0-5h0m0 11h0m0 10h0m1-8h0m0-8h0m0 5h0m0 6h0m1-1h0m0-8h0m0 1h0m0 18h0m0-15h0m0 10h0m1-6h0m0 5h0m0-15h0m0 18h0m0-11h0m0-13h0m0 11h0m0 8h0m1-2h0m0-13h0m0-7h0m0 15h0m0 6h0m0-7h0m0 8h0m0-3h0m0-13h0m0 10h0m1-8h0m0 8h0m0 14h0m0-8h0m0 10h0m0 2h0m0-13h0m1 7h0m0 5h0m0-15h0m0-3h0m0 11h0m0-5h0m0 8h0m0-10h0m0 1h0m0-14h0m0 26h0m0-22h0m1 3h0m0 4h0m0 3h0m0-2h0m0 13h0m0-9h0m0-14h0m0 16h0m0-10h0m0 5h0m1-8h0m0 1h0m0 16h0m0-10h0m0-10h0m1 9h0m0 14h0m0-12h0m0-7h0m1 1h0m0-1h0m0-5h0m0 2h0m0 10h0m0 4h0m0 6h0m0 3h0m0 2h0m0-10h0m1-4h0m0 6h0m0 10h0m0 1h0m0-12h0m0 6h0m0-3h0m0 1h0m0 3h0m1 1h0m0-5h0m0-1h0m0 3h0m0-5h0m1 10h0m0 1h0m0 1h0m0-18h0m0 14h0m0 5h0m1-8h0m0 15h0m0-12h0m0 5h0m0 5h0m1-3h0m0 6h0m0-9h0m0 7h0m0-8h0m0 6h0m1-13h0m0-2h0m0 15h0m1-13h0m0 2h0m0 7h0m0-3h0m0-14h0m0 4h0m0 7h0m1-2h0m0-12h0m0 14h0m0 1h0m0-9h0m1 3h0m0 4h0m0 2h0m0-3h0m0-7h0m0 3h0m0 14h0m0-11h0m1 1h0m0-4h0m0 9h0m1 6h0m0-1h0m0-8h0m0 2h0m1-2h0m0 3h0m0 7h0m0-12h0m1 6h0m0-7h0m0 6h0m1-1h0m0-3h0m0 8h0m0-4h0m0 1h0m0-3h0m1 1h0m0-6h0m0-6h0m0 8h0m0 10h0m0-13h0m0 9h0m1-13h0m0 4h0m0 3h0m0 10h0m0-7h0m0 1h0m0 5h0m0-3h0m1 8h0m0-6h0m0-5h0m0 12h0m0-6h0m0 1h0m1-4h0m0 1h0m0 8h0m0-2h0m0-4h0m0-1h0m1 7h0m0-9h0m0-9h0m0 17h0m0-4h0m0 1h0m1-12h0m0 16h0m0-4h0m0-5h0m0-3h0m0 5h0m0-8h0m0-2h0m0 15h0m0-22h0m0 18h0m1-5h0m0-4h0m0 8h0m0-3h0m0-7h0m0 8h0m0 8h0m0-13h0m0 1h0m1-1h0m0 11h0m0-2h0m0-7h0m0 1h0m0 10h0m0-15h0m0-1h0m0-1h0m0-3h0m0 11h0m0-3h0m0-2h0m1 8h0m0-3h0m0-12h0m0 11h0m0-4h0m1 1h0m0 5h0m0-8h0m0-6h0m0 8h0m0-9h0m1 20h0m0-13h0m0-6h0m0 14h0m0-12h0m0 7h0m0 2h0m1-4h0m0-2h0m0 11h0m0-1h0m0-6h0m0-3h0m1 5h0m0 2h0m0-6h0m0-3h0m0 5h0m1 3h0m0-11h0m0 15h0m0-7h0m0-3h0m1 5h0m0 7h0m0-9h0m0-2h0m0-4h0m0 1h0m0 6h0m0 3h0m1-7h0m0 3h0m0 1h0m0-7h0m0 11h0m0-10h0m0 12h0m0-20h0m1 7h0m0 6h0m0-2h0m0-1h0m0 13h0m1-10h0m0-10h0m0 13h0m0-11h0m0 15h0m0-13h0m0 5h0m0-3h0m0 5h0m0 4h0m1-10h0m0 4h0m0 3h0m0-4h0m0-6h0m1 0h0m0 8h0m0 3h0m0-8h0m0 1h0m0 6h0m0 5h0m1-10h0m0 4h0m0-3h0m0-6h0m0 4h0m0 11h0m0-16h0m1-2h0m0 10h0m0-3h0m1-2h0m0-4h0m0 12h0m0-10h0m0-3h0m0 15h0m0 4h0m0-8h0m0-1h0m1-11h0m0 2h0m0 18h0m0-6h0m0 2h0m0-7h0m0 2h0m0 1h0m1 9h0m0-8h0m0 3h0m0-5h0m1 0h0m0 10h0m0-4h0m0-1h0m0-1h0m1 9h0m0-11h0m0 2h0m0-6h0m0 9h0m0 1h0m1-7h0m0 10h0m0 1h0m0-7h0m0-8h0m0 17h0m1-7h0m0 3h0m0-2h0m0 8h0m0-12h0m0 11h0m1-8h0m0 3h0m0 3h0m0-5h0m0 6h0m1-2h0m0 4h0m0-14h0m0-4h0m0 1h0m0 12h0m0-3h0m1-7h0m0 7h0m0-3h0m0-2h0m0-3h0m0 4h0m1-1h0m0 3h0m0-6h0m0 7h0m0 1h0m0 4h0m0-15h0m0 4h0m1 0h0m0 11h0m0-9h0m0 6h0m0-13h0m0 3h0m0-1h0m0-4h0m0 3h0m0-15h0m0 7h0m1-6h0m0 18h0m0-6h0m0-2h0m0 3h0m0-5h0m0-1h0m1 4h0m0-5h0m0 4h0m0 8h0m0-15h0m0 9h0m0-3h0m0 13h0m1-9h0m0 7h0m0-12h0m0 1h0m0 8h0m0 8h0m0-4h0m0 1h0m1-13h0m0 3h0m0 10h0m0-5h0m0-1h0m0 8h0m0-6h0m0 5h0m1-8h0m0 8h0m0-3h0m0 2h0m1 3h0m0-1h0m0-1h0m0-2h0m1 5h0m0 1h0m0 4h0m0-8h0m0-11h0m0 7h0m0 1h0m1 0h0m0 8h0m0-5h0m0-5h0m0-2h0m0 6h0m0-5h0m0-3h0m0 18h0m1-14h0m0 2h0m0-6h0m0 9h0m0 5h0m0-12h0m0 11h0m0-6h0m1 8h0m0 4h0m0-15h0m0-1h0m0 4h0m1 0h0m0-4h0m0 15h0m0-21h0m0 11h0m1-1h0m0-1h0m0-5h0m0 9h0m0-7h0m0 5h0m1 6h0m0-13h0m0 6h0m0 9h0m0-6h0m0-4h0m0-1h0m1 5h0m0-3h0m1 5h0m0-9h0m0 5h0m0 6h0m0 3h0m0-11h0m0-8h0m0 9h0m0-11h0m1 7h0m0 3h0m0-12h0m0 6h0m0 5h0m0 2h0m1 1h0m0-9h0m0 11h0m0-10h0m0 5h0m0-2h0m1-15h0m0 5h0m0 6h0m0-4h0m0 11h0m0-6h0m1 6h0m0-5h0m0-7h0m0 10h0m0 5h0m0-12h0m0-5h0m0 4h0m1 6h0m0-2h0m0 3h0m0-5h0m0 3h0m0 12h0m0 1h0m0-4h0m1-2h0m0-1h0m0-2h0m0 4h0m0-5h0m0-4h0m1 4h0m0 9h0m0-5h0m0-1h0m0-4h0m0-5h0m0 17h0m0-9h0m0-7h0m1 13h0m0-5h0m0-11h0m0 4h0m0-2h0m1 3h0m0-3h0m0 13h0m0-4h0m1 1h0m0-9h0m0 5h0m0-7h0m0-2h0m0 14h0m1-6h0m0 2h0m0 6h0m0-7h0m0 11h0m0-6h0m0-1h0m0-1h0m0 6h0m0-1h0m1 2h0m0-4h0m0 3h0m0 4h0m0-6h0m0-9h0m0 10h0m1-6h0m0 13h0m0-8h0m0-2h0m0-6h0m0-6h0m0 7h0m0 1h0m1 5h0m0-7h0m0-1h0m0 3h0m0 7h0m1-3h0m0-4h0m0-8h0m0 3h0m0 16h0m0-15h0m0 2h0m1-5h0m0 1h0m0 9h0m0-6h0m0 4h0m0 3h0m0-5h0m0-8h0m0 14h0m0-9h0m1 1h0m0 12h0m0-7h0m0 12h0m1-1h0m0-1h0m0-5h0m0 1h0m0-4h0m0-5h0m1 0h0m0 10h0m0-9h0m0 5h0m0-9h0m0 10h0m1-13h0m0 10h0m0 1h0m1 2h0m0-5h0m0 6h0m0 5h0m0-14h0m0 13h0m0-7h0m0 5h0m1 3h0m0-7h0m0 1h0m0-8h0m0-9h0m0 8h0m0-3h0m0 2h0m0 8h0m1 4h0m0-4h0m0-12h0m0-6h0m0 13h0m0-3h0m1 8h0m0-8h0m0-2h0m1 0h0m0 1h0m0-4h0m0 6h0m0 5h0m0-2h0m0-2h0m0 9h0m0-11h0m0 14h0m0-7h0m1-13h0m0 5h0m0 5h0m0 1h0m0 7h0m0-15h0m0 10h0m0-6h0m0 14h0m0-15h0m0 2h0m0-4h0m1 16h0m0-21h0m0 4h0m0 5h0m0-15h0m1 12h0m0-3h0m0-1h0m0 5h0m0-3h0m0 1h0m0 11h0m0-8h0m1-1h0m0 9h0m0-15h0m0 12h0m1 3h0m0-9h0m0 4h0m0-3h0m1 2h0m0-5h0m0 7h0m0 3h0m0 4h0m0-6h0m0-15h0m1 25h0m0-15h0m0 11h0m0-20h0m1 8h0m0-3h0m0 5h0m0-3h0m0-3h0m0 2h0m1 3h0m0 1h0m0-2h0m0-15h0m0 9h0m0 2h0m0 18h0m0-4h0m1-15h0m0 4h0m0 9h0m0 2h0m0-16h0m0 9h0m0-3h0m1 0h0m0-14h0m0 15h0m0 5h0m0-16h0m0 9h0m0-8h0m1 13h0m0 5h0m0-10h0m0 12h0m0-1h0m1-5h0m0-4h0m0 8h0m0-6h0m0-6h0m0 1h0m1 6h0m0 5h0m0-7h0m0-6h0m1 19h0m0-4h0m0 1h0m0-2h0m0 7h0m0-10h0m1 4h0m0 7h0m0-9h0m0 6h0m0 2h0m0-4h0m0 3h0m1 0h0m0-3h0m0-16h0m0 10h0m1 7h0m0 3h0m0-4h0m0-10h0m0 2h0m1 0h0m0 1h0m1-2h0m0-2h0m0 9h0m0-3h0m0 2h0m0 7h0m0-1h0m1-16h0m0 10h0m0-5h0m0 2h0m0-1h0m0 2h0m0-7h0m0-8h0m1 9h0m0 2h0m0-9h0m0 15h0m0 4h0m0-6h0m0-2h0m1-8h0m0 9h0m0-3h0m0 5h0m0-7h0m1 8h0m0-8h0m0 2h0m0 3h0m0-10h0m0-1h0m0-2h0m0 5h0m1 9h0m0-11h0m0-5h0m0 1h0m0 17h0m0-3h0m1 1h0m0-5h0m0 7h0m0-13h0m0 7h0m0-2h0m1 5h0m0-2h0m0 3h0m0-20h0m0 11h0m0-4h0m0 14h0m1-3h0m0-1h0m0-5h0m0 14h0m0-10h0m0 4h0m0-9h0m0 12h0m0-10h0m0 1h0m1 6h0m0 4h0m0-9h0m0 12h0m0-8h0m0 3h0m0 1h0m1 1h0m0-6h0m0 4h0m0-3h0m0-4h0m1 3h0m0 2h0m0-6h0m0 1h0m1 4h0m0-5h0m0 6h0m0-3h0m0-5h0m0-2h0m0 14h0m1-17h0m0 16h0m0-21h0m0 12h0m0 2h0m0 3h0m0 1h0m1 2h0m0-13h0m0 9h0m0 2h0m1 0h0m0 1h0m0-4h0m0 1h0m0-9h0m0 1h0m0 9h0m0 9h0m1-22h0m0 6h0m0-17h0m0-8h0m0 11h0m1 0h0m0-10h0m0 4h0m0-3h0m0 2h0m0-5h0m0 9h0m0-13h0m1 16h0m0-17h0m0 13h0m0-7h0m0-3h0m0-8h0m0 2h0m1 4h0m0-4h0m0 6h0m0 17h0m0-20h0m0 19h0m0-26h0m1 0h0m0 12h0m0-10h0m0 17h0m0 5h0m1-14h0m0-3h0m0 6h0m0-2h0m0 8h0m0 14h0m1-26h0m0 27h0m0-14h0m0-11h0m0 19h0m0-16h0m1-14h0m0-4h0m0 1h0m0 10h0m0 9h0m0-11h0m0 4h0m0-5h0m1 20h0m0-15h0m0 11h0m0-7h0m0-3h0m0 9h0m0-3h0m1 6h0m0-16h0m0 12h0m0-1h0m0 3h0m0-10h0m0 4h0m1 13h0m0-18h0m0 9h0m0 2h0m0-5h0m0-3h0m0-6h0m0 16h0m0 6h0m0-7h0m1-9h0m0 6h0m0 14h0m0 3h0m0-1h0m0-8h0m0 3h0m0 13h0m1-16h0m0 4h0m0-14h0m0 34h0m0-29h0m0-16h0m0 12h0m0-7h0m0 43h0m0-8h0m1-31h0m0 8h0m0 8h0m0 7h0m0-4h0m0 11h0m0-17h0m1 12h0m0 17h0m0-18h0m0-7h0m0 1h0m1 5h0m0-7h0m0-1h0m0 14h0m0-32h0m1 18h0m0 1h0m0 4h0m0-18h0m0 28h0m0-1h0m0-6h0m0 3h0m0 9h0m0-18h0m1 7h0m0 5h0m0-3h0m0-19h0m0-3h0m0 40h0m0-29h0m1 6h0m0-1h0m0-6h0m0 1h0m0 11h0m0-29h0m0 9h0m1-11h0m0 15h0m0 9h0m0-11h0m0-11h0m0 28h0m0-7h0m0 24h0m0-33h0m0 24h0m1-12h0m0 13h0m0-29h0m0 14h0m1 14h0m0 4h0m1-22h0m0 25h0m0-16h0m0 1h0m0-11h0m0 4h0m0-1h0m0-12h0m1 11h0m0 10h0m0-1h0m0-1h0m0-6h0m1 12h0m0 7h0m0-11h0m1-15h0m0 26h0m0-12h0m1-6h0m0 5h0m0-7h0m0-10h0m0-9h0m0 22h0m0-10h0m0 13h0m1-3h0m0-6h0m0-12h0m0-4h0m0 7h0m1 7h0m0-16h0m0 3h0m0-5h0m0 8h0m0 3h0m0 3h0m0-17h0m1 11h0m0 10h0m0-5h0m0-11h0m0-2h0m0-1h0m0-5h0m0 17h0m0-1h0m1-1h0m0 7h0m0-15h0m0 12h0m0-25h0m0 17h0m0-8h0m1 14h0m0-11h0m0 2h0m0 14h0m0-3h0m1 0h0m0 3h0m0 18h0m0-25h0m0-9h0m0 29h0m0 2h0m0-20h0m0 22h0m1-24h0m0 16h0m0-6h0m0-27h0m0 24h0m0 14h0m0-25h0m0-10h0m1 6h0m0 14h0m0 10h0m0 18h0m0-13h0m0 6h0m0-20h0m0 18h0m0-11h0m0 5h0m0 4h0m0 17h0m0-29h0m1 13h0m0 1h0m0 7h0m0-29h0m0 13h0m0 2h0m0-10h0m0 11h0m0-15h0m1 18h0m0-10h0m0-2h0m0-21h0m0 16h0m0 16h0m0-7h0m0-19h0m0 5h0m0 13h0m0-9h0m1-7h0m0 10h0m0 5h0m0 5h0m0-15h0m0-8h0m0-10h0m0 6h0m1-9h0m0 15h0m0 7h0m0-15h0m0 7h0m0 4h0m0-13h0m1 1h0m0 5h0m0 12h0m0-3h0m0-6h0m0-10h0m0 5h0m0 12h0m1-9h0m0-15h0m0-2h0m0 14h0m0-6h0m0 11h0m0 13h0m0-14h0m0 12h0m0-9h0m0 1h0m1-14h0m0 10h0m0 1h0m0-5h0m0 17h0m0 9h0m0-7h0m0-23h0m0 12h0m1-3h0m0 10h0m0 10h0m0-15h0m0-7h0m0 3h0m0 13h0m0-5h0m0 10h0m0-2h0m1-8h0m0 5h0m0-24h0m0 1h0m0 8h0m0 1h0m0 19h0m0-26h0m0 5h0m1 14h0m0-28h0m0 13h0m0-1h0m0-11h0m0 6h0m0 7h0m0 4h0m0-21h0m0 5h0m0 4h0m1-9h0m0 9h0m0 23h0m0-20h0m0 5h0m0-15h0m0 16h0m1-8h0m0 8h0m0-6h0m0 1h0m0-12h0m0 7h0m1 0h0m0-3h0m0-11h0m0 10h0m0 12h0m0 1h0m0-14h0m1 11h0m0-1h0m0 15h0m0-29h0m0 7h0m0-4h0m1 12h0m0-1h0m0 8h0m0-13h0m0 19h0m0-9h0m0-9h0m1 9h0m0-21h0m0 24h0m0 3h0m0-10h0m0-1h0m0-8h0m1 8h0m0 14h0m0-9h0m0-6h0m0 5h0m0 7h0m0-19h0m0 4h0m1 11h0m0 9h0m0-13h0m0-10h0m0 1h0m0 7h0m0-2h0m0-3h0m0-1h0m0-3h0m0 16h0m0-2h0m1-12h0m0-1h0m0 5h0m0 4h0m0-27h0m0 6h0m0-11h0m0 26h0m1-20h0m0 31h0m0-11h0m0-15h0m0-3h0m0 13h0m0 1h0m0 8h0m0 2h0m1-3h0m0-28h0m0 11h0m0 10h0m0 3h0m0 2h0m0-21h0m0 31h0m0-7h0m0-11h0m0 7h0m0 7h0m1 0h0m0 5h0m0-13h0m0-4h0m0-2h0m0 17h0m1-6h0m0-4h0m0-3h0m0 10h0m0-15h0m0-2h0m1 5h0m0 12h0m0-17h0m0-1h0m0-10h0m1 23h0m0-14h0m0 8h0m0 7h0m0-10h0m0 4h0m0-3h0m0-3h0m0 4h0m0 9h0m1-5h0m0-10h0m0 16h0m0-1h0m0 13h0m0-6h0m0-15h0m0 19h0m0-3h0m0-14h0m0 3h0m1 5h0m0-11h0m0 12h0m1 5h0m0-21h0m0-1h0m0 7h0m0-1h0m0-12h0m0 15h0m0-12h0m1 17h0m0-3h0m0-2h0m0-13h0m1 11h0m0 18h0m0-8h0m1-4h0m0-82h0m0 78h0m0-35h0m0 40h0m0-90h0m0 37h0m0 44h0m0-19h0m0-68h0m0 44h0m0-40h0m0 6h0m0-8h0m0 86h0m0-54h0m0 13h0m0 35h0m0-59h0m0 2h0m0 3h0m0 29h0m0 40h0m1-4h0m0-28h0m0 15h0m0 12h0m0-22h0m0-45h0m0 48h0m0 25h0m0-84h0m0 29h0m0 2h0m0-38h0m0-8h0m0 25h0m0 34h0m0 11h0m0-15h0m0 10h0m0-38h0m0 53h0m0-76h0m0 25h0m0 35h0m0-62h0m0 47h0m0-39h0m0 29h0m0 13h0m1 34h0m0-5h0m0-36h0m0-43h0m0 91h0m0-14h0m0 11h0m0-12h0m1-2h0m0-7h0m0 10h0m0 12h0m0-1h0m0-3h0m1-13h0m0 5h0m0 16h0m0-17h0m0 13h0m0-9h0m0 5h0m0-3h0m1 12h0m0-10h0m0-8h0m0 9h0m0-3h0m1 2h0m0 23h0m0-8h0m0-9h0m0-8h0m0-3h0m1 4h0m0 5h0m0-9h0m0 14h0m0 3h0m0-14h0m0 9h0m1 1h0m0-3h0m0-14h0m0 11h0m1 5h0m0 5h0m0-26h0m0 32h0m0-13h0m0-2h0m0 11h0m0-20h0m0-5h0m1 17h0m0-20h0m0 1h0m0 16h0m0-13h0m0 4h0m0 5h0m1 21h0m0-12h0m0-10h0m0 19h0m0-15h0m0-9h0m0-1h0m1 18h0m0-3h0m0 20h0m0-39h0m0 35h0m0-1h0m0-20h0m0-5h0m1-8h0m0 14h0m0-4h0m1 5h0m0-7h0m0-8h0m0 13h0m0-7h0m0 3h0m0 2h0m0-7h0m1 14h0m0-2h0m0-24h0m0 23h0m0-20h0m0 6h0m1 0h0m0-1h0m0-1h0m0-7h0m0 32h0m0-29h0m0 10h0m1-6h0m0-7h0m0 11h0m0 1h0m0-22h0m0 23h0m0-24h0m0 9h0m0 8h0m0 19h0m0-30h0m1-4h0m0 9h0m0-10h0m0-3h0m0-5h0m0 24h0m0-13h0m0 21h0m0-12h0m1 21h0m0-13h0m0-8h0m0 10h0m0-4h0m1-9h0m0-4h0m0 13h0m0 14h0m0-32h0m0 17h0m0 3h0m0 1h0m0 1h0m0-6h0m1 10h0m0-11h0m0 21h0m0-27h0m0 7h0m0 19h0m0-15h0m0 14h0m1-13h0m0 12h0m0-4h0m0-5h0m0 1h0m0 13h0m1 1h0m0-8h0m0 6h0m0-3h0m0-2h0m0-13h0m0 16h0m1-6h0m0 19h0m0-11h0m0-1h0m0 26h0m1-40h0m0 33h0m0-8h0m0-20h0m0-6h0m0 20h0m1-14h0m0 3h0m0 13h0m0-6h0m0 9h0m0 13h0m0-20h0m0 5h0m1 14h0m0-17h0m0 1h0m0-14h0m0 22h0m0 15h0m0-18h0m0-12h0m1 16h0m0-6h0m0-3h0m0-21h0m0 14h0m0-7h0m1 7h0m0 7h0m0-3h0m0-3h0m0 8h0m0 7h0m0-31h0m0 6h0m0 5h0m0-12h0m0-6h0m1 25h0m0-23h0m0 16h0m0 12h0m0-20h0m0-1h0m0-1h0m0-3h0m1 10h0m0-26h0m0 20h0m0 1h0m0 12h0m0 2h0m0-16h0m1 3h0m0-6h0m0-7h0m0 27h0m0-15h0m0-2h0m0 12h0m0-18h0m0-2h0m1 13h0m0-14h0m0 18h0m0 3h0m0-28h0m0 18h0m0 5h0m0-8h0m0-7h0m1-21h0m0 7h0m0 7h0m0 7h0m0 9h0m0-24h0m0 30h0m0-9h0m0-19h0m0 27h0m1-19h0m0-4h0m0 7h0m0 13h0m0 4h0m0-5h0m1-5h0m0 22h0m0-35h0m0 10h0m0-3h0m0-2h0m1 15h0m0-6h0m0-3h0m0 24h0m1-18h0m0 3h0m0-7h0m0 8h0m0-11h0m1-2h0m0 12h0m0-11h0m0 1h0m0 9h0m0-13h0m0 7h0m0 12h0m0-1h0m0-19h0m1 21h0m0-14h0m0 18h0m0-22h0m0 6h0m0-10h0m0 7h0m0 6h0m1 9h0m0-2h0m0-1h0m0-10h0m0-5h0m0 10h0m0-12h0m0 4h0m1 12h0m0-14h0m0-1h0m0 7h0m0 2h0m0-5h0m0-11h0m0 25h0m0-7h0m1-1h0m0-19h0m0 21h0m0 9h0m0-3h0m1-16h0m0-6h0m0 15h0m0-17h0m0-9h0m0 6h0m0 4h0m0-11h0m0 28h0m1 16h0m0-2h0m0-30h0m0 18h0m0 10h0m0-30h0m1 26h0m0-11h0m0 14h0m0-2h0m0 3h0m0-2h0m1 3h0m0 7h0m0-11h0m0 1h0m0-14h0m0 15h0m0 5h0m1 6h0m0-7h0m0-11h0m0 3h0m0-6h0m0 5h0m0 11h0m1-33h0m0 22h0m0 8h0m0-3h0m0 15h0m0-5h0m1-8h0m0 12h0m0-3h0m0 4h0m0-27h0m0 2h0m0 6h0m0 14h0m1-13h0m0 13h0m0-25h0m0 18h0m0-25h0m0 14h0m0-6h0m0 10h0m0 8h0m0-4h0m0-2h0m0-15h0m0 31h0m1-11h0m0-6h0m0 32h0m0-34h0m0 15h0m0-8h0m0 6h0m0-26h0m1 1h0m0 20h0m0-27h0m0 16h0m0 7h0m0-4h0m0 3h0m1-15h0m0 18h0m0-5h0m0-5h0m0 9h0m0 12h0m1-11h0m0-10h0m0-11h0m0 5h0m0-8h0m0-16h0m1 6h0m0 9h0m0-6h0m0 1h0m0 28h0m0-10h0m0-14h0m0 8h0m0-2h0m0 6h0m0 1h0m0-8h0m1 7h0m0-22h0m0 25h0m0-7h0m0-4h0m1 7h0m0-2h0m0-5h0m0 3h0m0-18h0m0 26h0m0 5h0m0-4h0m0 8h0m1 7h0m0-12h0m0-2h0m0 12h0m0-26h0m0 8h0m0 11h0m1-5h0m0-15h0m0 7h0m0 25h0m0-27h0m1 4h0m0 20h0m0-18h0m0 8h0m0 1h0m0 4h0m0-21h0m1 19h0m0-11h0m0-10h0m0 36h0m0-12h0m0 2h0m0-22h0m0 15h0m0 8h0m0-5h0m1 15h0m0-7h0m0-17h0m0 19h0m0-13h0m0 10h0m0-21h0m0 25h0m0-11h0m1-9h0m0 20h0m1-9h0m0-3h0m0-11h0m0-1h0m0 4h0m0-2h0m0-7h0m0 12h0m1-8h0m0 23h0m0-12h0m0-6h0m0-4h0m0 2h0m1 10h0m0-24h0m0 22h0m0-9h0m0 7h0m1-6h0m0 1h0m0 14h0m0-11h0m1-8h0m0-5h0m0 3h0m0-12h0m0 10h0m0 11h0m0-3h0m1-13h0m0 7h0m0 21h0m0-24h0m0 19h0m0-10h0m0 6h0m0 3h0m1 0h0" stroke="#ff0000" stroke-width="3.2" stroke-linecap="round" fill="none"/>
<path d="M58 645h0m0 14h0m1 1h0m0-13h0m0 11h0m0-3h0m0-10h0m0 8h0m0 1h0m0-8h0m0 2h0m0 15h0m1-12h0m0 20h0m0-15h0m0 8h0m0 1h0m0 7h0m0-24h0m0 13h0m0-6h0m0 13h0m0 6h0m1-23h0m0 5h0m0 6h0m0 3h0m0-8h0m0 6h0m0-18h0m0 16h0m0 3h0m0-12h0m1 11h0m0-2h0m0-3h0m0-7h0m0 9h0m0-6h0m0 19h0m0-6h0m1-4h0m0 1h0m0-13h0m0 10h0m0 15h0m1-9h0m0-11h0m0 16h0m0-10h0m0 7h0m0-8h0m0-8h0m1 6h0m0 1h0m0 4h0m0 1h0m0-4h0m0 9h0m0-3h0m0-5h0m1 10h0m0-6h0m0-8h0m0 1h0m0 2h0m0-10h0m0 13h0m0 6h0m0-13h0m0 10h0m1-11h0m0 1h0m0 2h0m0-6h0m0 11h0m0 3h0m0-5h0m0-14h0m0 23h0m0-11h0m0-5h0m1 10h0m0-9h0m0 3h0m0 7h0m0-2h0m0 8h0m1-9h0m0 3h0m0-4h0m0 2h0m0 9h0m0-2h0m0 6h0m0-18h0m1 11h0m0-5h0m0 1h0m0 8h0m0-16h0m0 1h0m0-2h0m0-3h0m1 9h0m0-11h0m0 9h0m0 4h0m0-16h0m0-7h0m0 16h0m1 15h0m0-8h0m0-9h0m0 15h0m0-17h0m0 9h0m1-5h0m0 1h0m0 12h0m0-17h0m0-2h0m0 14h0m0-6h0m1-1h0m0 9h0m0-10h0m0-4h0m0 11h0m0-8h0m0 7h0m0-3h0m1 5h0m0 11h0m0-7h0m0-16h0m0 9h0m1-4h0m0-1h0m0 4h0m0-5h0m0 4h0m0 3h0m0 6h0m0-7h0m0 12h0m0-8h0m1-8h0m0 7h0m0-4h0m0 9h0m0-1h0m0-14h0m0 7h0m0-2h0m1 1h0m0 3h0m0-6h0m0 5h0m1-5h0m0 1h0m0 3h0m0 8h0m0-4h0m0-10h0m0 4h0m0 3h0m0 8h0m0-17h0m1 7h0m0-4h0m0 11h0m0-12h0m0 2h0m1-4h0m0-2h0m0 9h0m0 3h0m0-17h0m0 1h0m0 24h0m1-13h0m0-9h0m0 7h0m0-8h0m0 14h0m0-1h0m1-9h0m0-7h0m0 5h0m0 13h0m0 4h0m0-10h0m0-10h0m0 9h0m0-2h0m1 10h0m0-1h0m0-4h0m0-8h0m0 1h0m0 5h0m0 5h0m0-7h0m0 5h0m0-11h0m0 5h0m1-5h0m0 26h0m0-24h0m0 14h0m0-10h0m0 1h0m0-8h0m1 11h0m0-5h0m0 10h0m0-12h0m0-4h0m0 20h0m0 1h0m0-3h0m1 6h0m0-3h0m0-3h0m0-15h0m0 17h0m0-18h0m0 14h0m0-10h0m0 9h0m1 4h0m0-2h0m0-9h0m0 4h0m0-1h0m0 10h0m0-8h0m0-7h0m1 16h0m0-20h0m0 15h0m0-7h0m0 10h0m0-11h0m0-3h0m0 21h0m1-17h0m0 10h0m0-22h0m0-1h0m0 16h0m0-12h0m0 11h0m0-6h0m1-2h0m0-7h0m0 4h0m0-1h0m0-1h0m0 7h0m1 7h0m0-5h0m0 16h0m0-24h0m0 6h0m0 1h0m1-1h0m0 7h0m0-2h0m0-6h0m0-9h0m0 18h0m0-12h0m1 3h0m0 14h0m0-11h0m0 4h0m0 9h0m1-14h0m0 4h0m0-1h0m0-2h0m0 6h0m1-1h0m0-7h0m0 4h0m0 8h0m0-3h0m1 10h0m0-11h0m0 9h0m0-15h0m0-1h0m0 6h0m0 2h0m0 3h0m0 4h0m0-12h0m0 17h0m0-27h0m1 24h0m0-3h0m0-5h0m0 1h0m0-8h0m0 6h0m0 3h0m1-1h0m0-12h0m0 11h0m0-2h0m0 4h0m0-12h0m0 18h0m0-11h0m0 8h0m1-2h0m0-4h0m0-15h0m0 12h0m0 10h0m0-9h0m0-3h0m1 6h0m0 7h0m0-6h0m0-4h0m0 13h0m0-1h0m0-13h0m0 15h0m0-18h0m0-3h0m0 14h0m1-19h0m0 1h0m0 4h0m0 1h0m0 12h0m0 8h0m0-16h0m1 0h0m0-3h0m0-1h0m0 2h0m0 7h0m0-11h0m0 1h0m0 15h0m0-21h0m1 10h0m0 9h0m0-11h0m0-3h0m0 7h0m0 5h0m0-15h0m0 1h0m0 3h0m1-1h0m0 4h0m0-10h0m0 7h0m0-10h0m0 1h0m1 4h0m0-7h0m0 12h0m1 1h0m0-9h0m0-6h0m0 19h0m0-11h0m0-7h0m1 5h0m0-12h0m0 8h0m0-5h0m0 1h0m0 14h0m1-8h0m0 2h0m0 6h0m0 8h0m0-19h0m0 10h0m1-3h0m0-8h0m0 25h0m0-14h0m0-2h0m0-10h0m0 5h0m0 13h0m0-15h0m0 8h0m0 10h0m0-7h0m0 10h0m1-3h0m0-2h0m0-12h0m0 24h0m0-15h0m0-5h0m0 13h0m0-4h0m1-5h0m0-5h0m0 12h0m0 6h0m0-7h0m0 4h0m0 1h0m1-3h0m0 2h0m0 4h0m0-13h0m0 4h0m0 7h0m0-8h0m0-1h0m0 3h0m1 10h0m0-2h0m0-9h0m0 15h0m0-17h0m0-2h0m0 10h0m0-9h0m1 2h0m0 7h0m0 1h0m0 4h0m0-20h0m0 22h0m0-12h0m0 13h0m1-10h0m0 10h0m0-13h0m1 6h0m0-2h0m0 4h0m0-1h0m0 5h0m0-9h0m0 7h0m1-9h0m0 10h0m0 4h0m0-11h0m0-4h0m0 6h0m0-7h0m0-2h0m1-2h0m0 7h0m0-4h0m0 1h0m0-6h0m0 3h0m0 7h0m1-10h0m0-1h0m0 9h0m0-1h0m0 7h0m0-16h0m0 6h0m1 2h0m0-2h0m0-8h0m0 18h0m0 2h0m0-5h0m0-8h0m0-2h0m0 6h0m0 14h0m0-16h0m1-7h0m0 14h0m0-17h0m0 4h0m0 6h0m0 6h0m0-8h0m0-3h0m0 9h0m0-1h0m0 2h0m1-9h0m0 2h0m0 3h0m0 7h0m0-3h0m0-6h0m0-5h0m0-6h0m1 3h0m0 5h0m0-1h0m0 5h0m0 1h0m0-4h0m0 9h0m0-13h0m1 1h0m0 5h0m0 15h0m0-2h0m1-14h0m0 1h0m0-8h0m0 14h0m0-21h0m1 14h0m0 8h0m0-2h0m0-4h0m0-3h0m0 4h0m0-5h0m1 5h0m0-7h0m0 4h0m0 4h0m0 1h0m0-10h0m0 3h0m0 11h0m1-10h0m0 7h0m0-12h0m0 13h0m0 9h0m0-15h0m0-3h0m0 11h0m0-5h0m1-6h0m0 8h0m0-4h0m0-5h0m0 19h0m0-6h0m0 8h0m0-11h0m0 10h0m0 2h0m0-7h0m1 2h0m0-3h0m0-5h0m0-1h0m0-7h0m1 15h0m0-8h0m0 11h0m0-5h0m0 6h0m0-13h0m0-2h0m1 14h0m0-2h0m0-12h0m0 8h0m0 3h0m0-9h0m0 1h0m0 1h0m1 3h0m0 10h0m0-8h0m0-5h0m0-3h0m0 7h0m1 5h0m0-5h0m0-7h0m0 1h0m0-11h0m0 14h0m0-15h0m0 10h0m0 7h0m0 5h0m1-16h0m0 11h0m0-12h0m0 6h0m0-3h0m0 11h0m0-15h0m0-3h0m1 6h0m0-6h0m0 14h0m0-15h0m0 4h0m0-8h0m0 7h0m1 8h0m0-7h0m0 6h0m0 3h0m0-10h0m1 0h0m0-4h0m0 8h0m0 8h0m0-11h0m0-9h0m0 19h0m0-6h0m0 3h0m1-1h0m0 10h0m0-2h0m0-12h0m0-2h0m0 9h0m0-12h0m0 11h0m1-15h0m0 8h0m0 2h0m0 11h0m0-8h0m0 6h0m0-5h0m0-3h0m1 0h0m0 7h0m0 4h0m0 7h0m0-12h0m0-11h0m0-1h0m0 8h0m0-3h0m1-3h0m0 10h0m0-1h0m0 3h0m0-1h0m0 3h0m1-8h0m0 12h0m0-4h0m0-4h0m0-16h0m0 8h0m0 5h0m1-7h0m0 7h0m0-9h0m1 13h0m0-1h0m0 4h0m0 2h0m0-16h0m0 12h0m0 11h0m0-2h0m1-13h0m0 14h0m0-4h0m0-9h0m0 2h0m0 5h0m1 3h0m0-13h0m0 5h0m0-11h0m0 2h0m0 14h0m0 1h0m0-9h0m1 4h0m0 2h0m0-7h0m0-1h0m0 9h0m0-6h0m0-10h0m0 9h0m1 1h0m0 5h0m0-6h0m0-1h0m0-6h0m0 10h0m0 5h0m0-13h0m1 15h0m0 3h0m0 1h0m0-11h0m0-1h0m0 3h0m0-1h0m0 2h0m1 2h0m0 5h0m0-14h0m0-13h0m0 9h0m0-2h0m0 11h0m1 5h0m0-12h0m0 13h0m0-17h0m0 6h0m0 3h0m0-16h0m0 17h0m0-18h0m1 12h0m0-1h0m0-11h0m0 13h0m0-6h0m1 11h0m0-3h0m0 6h0m0 2h0m0-11h0m0-1h0m1 16h0m0-3h0m0-12h0m0-1h0m0 2h0m0 9h0m0-6h0m0 1h0m0-7h0m1-1h0m0-3h0m0 13h0m0-5h0m0-10h0m0 21h0m0-10h0m0-12h0m0 13h0m0-4h0m1 1h0m0-3h0m1 5h0m0-11h0m0 3h0m0 5h0m0-15h0m0 16h0m1-7h0m0 6h0m0-13h0m0 12h0m0 3h0m0-12h0m0 5h0m1 5h0m0 1h0m0-5h0m0 8h0m0-7h0m0-2h0m0 3h0m1 2h0m0-3h0m0-3h0m0 18h0m0-17h0m0 8h0m0-4h0m0-8h0m1 0h0m0 26h0m0-3h0m0-3h0m0-9h0m0 6h0m0 5h0m0-7h0m1 5h0m0-7h0m0-8h0m0 9h0m0-3h0m0-12h0m0 4h0m0 14h0m1-13h0m0 1h0m0 9h0m0-6h0m0-12h0m1 22h0m0-11h0m0 3h0m0-2h0m0 3h0m0-6h0m1 5h0m0 10h0m0 1h0m0-3h0m0 4h0m0 3h0m0-13h0m0 5h0m1 4h0m0 5h0m0-3h0m0-10h0m0-2h0m0 7h0m1-3h0m0 1h0m0-8h0m0-5h0m0 23h0m0-12h0m0 7h0m1-2h0m0-5h0m0 12h0m0-3h0m0-13h0m0 10h0m1-3h0m0-15h0m0 1h0m0 9h0m0 6h0m0-7h0m0 4h0m0-2h0m1-6h0m0 8h0m0 1h0m0-5h0m0 6h0m0-15h0m0 4h0m0-10h0m0 2h0m1 6h0m0 18h0m0-14h0m0 5h0m0-8h0m0-13h0m0 25h0m0-16h0m1 5h0m0-4h0m0-8h0m0 9h0m0 13h0m0-3h0m1-7h0m0 4h0m0-20h0m0 14h0m0 4h0m0-3h0m0 9h0m1 6h0m0-8h0m0 2h0m0-4h0m0-10h0m0 24h0m0-3h0m1-15h0m0-5h0m0-2h0m0 8h0m0-4h0m0-1h0m0 20h0m0-12h0m1 6h0m0-6h0m0-2h0m0 3h0m0 12h0m0-16h0m0 13h0m0-1h0m1-19h0m0-3h0m0 9h0m0 12h0m0-5h0m1-9h0m0 3h0m0 8h0m0-2h0m0-7h0m0-3h0m0 9h0m0 7h0m1-10h0m0-3h0m0 1h0m0 3h0m1 4h0m0-25h0m0-1h0m0 7h0m0 20h0m0-21h0m0 19h0m0-1h0m0 8h0m1-18h0m0 14h0m0-7h0m0 9h0m0-3h0m0-1h0m1 1h0m0-8h0m0-3h0m0-4h0m0 6h0m0 5h0m0-2h0m0 8h0m0-1h0m1-10h0m0 10h0m0-12h0m0 13h0m0-18h0m0 21h0m0-27h0m0 20h0m0-4h0m0 12h0m0-9h0m1 0h0m0 1h0m0 4h0m0-3h0m0 6h0m0-11h0m1-9h0m0 10h0m0-8h0m0 10h0m0-8h0m0 14h0m0-11h0m0 13h0m1-9h0m0 2h0m0 12h0m0-4h0m0-16h0m0 15h0m0-16h0m0 8h0m1-10h0m0 7h0m0-2h0m0 17h0m0-8h0m0-11h0m0 12h0m0-2h0m0-17h0m1 19h0m0-5h0m0-4h0m0 10h0m0-7h0m0 2h0m0-9h0m0 6h0m0 15h0m1-15h0m0-6h0m0 1h0m0 11h0m0-3h0m0-6h0m1 3h0m0 6h0m0-10h0m0 3h0m0 3h0m0-1h0m1 2h0m0-11h0m0 8h0m0 1h0m0-3h0m0-8h0m0 12h0m1-10h0m0 19h0m0-2h0m0-2h0m0-14h0m0 11h0m0-3h0m1 6h0m0-6h0m0 7h0m0-2h0m0 6h0m1-8h0m0 8h0m0-13h0m0 2h0m0-13h0m0 10h0m1-3h0m0 7h0m0-5h0m0-4h0m0 6h0m0-1h0m1 0h0m0 11h0m0-8h0m0-8h0m0 4h0m0 6h0m0-17h0m0 1h0m0 2h0m0-6h0m0 22h0m1-14h0m0 7h0m0-13h0m0 12h0m0 2h0m0-6h0m0 7h0m0 15h0m0-21h0m0 7h0m0-5h0m1 0h0m0 12h0m0-5h0m0-12h0m0 3h0m0 4h0m0-5h0m0 13h0m0-2h0m1-2h0m0-1h0m0-9h0m0 6h0m0-2h0m1-7h0m0 2h0m0 8h0m0-1h0m0-2h0m0 5h0m0-9h0m1 4h0m0 6h0m0 6h0m0-15h0m0 1h0m0 13h0m0-2h0m0-22h0m0 21h0m1 2h0m0-1h0m0-9h0m0 11h0m0-3h0m0-3h0m0-1h0m0 12h0m0-13h0m0 4h0m1-8h0m0-3h0m0 12h0m0 6h0m0-7h0m0 9h0m0-21h0m0 6h0m0-7h0m1 15h0m0-9h0m0 7h0m0 7h0m0 6h0m1-12h0m0-15h0m0 16h0m0 10h0m0-9h0m0 1h0m1 9h0m0-9h0m0 3h0m0 3h0m0-23h0m0 22h0m0-4h0m0 6h0m1-5h0m0 1h0m0 4h0m0 3h0m0-1h0m0-4h0m0-1h0m1-7h0m0 2h0m0 7h0m0-16h0m1-13h0m0 12h0m0-1h0m0 10h0m0 3h0m0-8h0m1 0h0m0-4h0m0 2h0m0-12h0m0 3h0m0 14h0m0-12h0m0 4h0m1-15h0m0 16h0m0 1h0m0 2h0m0 5h0m0-3h0m0-12h0m1 6h0m0-3h0m0 10h0m0-20h0m1 6h0m0 11h0m0 2h0m0 6h0m0-12h0m0 10h0m0-13h0m0-1h0m0-2h0m0 15h0m0 2h0m0-8h0m1-5h0m0 9h0m0-13h0m0 2h0m1 7h0m0-5h0m0 6h0m0-17h0m1 16h0m0-11h0m0 7h0m0-9h0m0-3h0m0 25h0m1-10h0m0-21h0m0 23h0m0 11h0m0-24h0m0 7h0m1 8h0m0 6h0m0-4h0m0 9h0m0-16h0m0 13h0m0-16h0m0 1h0m1 1h0m0 11h0m0-4h0m0 7h0m0 3h0m0-11h0m0 3h0m0 3h0m0 1h0m1-1h0m0-13h0m0 16h0m0-2h0m0-7h0m0 14h0m0-24h0m0 11h0m0 4h0m1-13h0m0 10h0m0 8h0m0-16h0m0 5h0m1 6h0m0-4h0m0-7h0m0 3h0m0 2h0m0 1h0m0 9h0m1-1h0m0-2h0m0 6h0m0-13h0m0 5h0m0-3h0m0 4h0m0-3h0m0-8h0m0 2h0m1-6h0m0 16h0m0-15h0m0-6h0m0 30h0m0-17h0m0 5h0m0-8h0m0 4h0m0 1h0m0 1h0m0 1h0m0-5h0m0 13h0m1-15h0m0 11h0m0-10h0m0 5h0m0-11h0m0 9h0m0-12h0m0 1h0m0 12h0m1-2h0m0-12h0m0 19h0m0-16h0m0 18h0m0 3h0m1-15h0m0-13h0m0 12h0m0-5h0m0 11h0m0 14h0m0-17h0m1 8h0m0-3h0m0-4h0m0 2h0m0-14h0m0 11h0m0-3h0m0 1h0m0 1h0m0 17h0m0-12h0m0 9h0m1-2h0m0-4h0m0-1h0m0-6h0m0 15h0m0-7h0m0 4h0m0 4h0m0-12h0m0-6h0m1 3h0m0 6h0m0 2h0m0-9h0m0 10h0m0 3h0m0 1h0m0-6h0m1 9h0m0-1h0m0-8h0m0 4h0m0-2h0m1 2h0m0-4h0m0 7h0m0-10h0m0 1h0m0 1h0m1 4h0m0-12h0m0 6h0m0-3h0m0-4h0m0 6h0m0 2h0m0-6h0m0 3h0m0-7h0m1-3h0m0 7h0m0-11h0m0-2h0m0 12h0m0-3h0m0-2h0m0 3h0m0-6h0m0-5h0m1 9h0m0 10h0m0-8h0m0 12h0m0-13h0m0-5h0m0 11h0m1-13h0m0 12h0m0-14h0m0 25h0m0-5h0m0 1h0m1-6h0m0 2h0m0 5h0m0-13h0m0 7h0m0-3h0m0 1h0m1-2h0m0 4h0m0-10h0m0 17h0m0-10h0m0 13h0m1-5h0m0 2h0m0-4h0m0 3h0m0-12h0m0 6h0m0 10h0m0 2h0m0 4h0m1-12h0m0-9h0m0 8h0m0-4h0m0 7h0m0 1h0m0 5h0m0 4h0m0-5h0m0-10h0m1-1h0m0-2h0m0 4h0m0-1h0m0-2h0m0 17h0m0-12h0m0 11h0m0-18h0m0-8h0m1 8h0m0 12h0m0 2h0m0-7h0m0-3h0m1 10h0m0-7h0m0 1h0m0 7h0m0-11h0m0-4h0m0 10h0m0-8h0m0-1h0m1-7h0m0 11h0m0-4h0m0 14h0m0-18h0m0 10h0m0-18h0m0 1h0m0 12h0m0 12h0m0-1h0m0-2h0m1-9h0m0 13h0m0-6h0m0-4h0m0-4h0m0 3h0m0-4h0m1-2h0m0-10h0m0 16h0m0 2h0m0-6h0m0 10h0m0-19h0m0 5h0m1 9h0m0-2h0m0-4h0m0 8h0m0-13h0m0 21h0m0-19h0m0 1h0m0 14h0m0-20h0m0 11h0m0-9h0m1 18h0m0-7h0m0-19h0m0 4h0m0 13h0m0 3h0m0-7h0m0-6h0m0 1h0m0 10h0m0-2h0m1 2h0m0 16h0m0-7h0m0-19h0m0 7h0m0-11h0m0 6h0m1 17h0m0-5h0m0-6h0m0 10h0m0-11h0m0-11h0m0 14h0m0-5h0m1 12h0m0 4h0m0-10h0m0-5h0m0 4h0m0-12h0m0 9h0m0 13h0m0-7h0m0-13h0m1 6h0m0 9h0m0-6h0m0-12h0m0 5h0m0-2h0m0 10h0m0-2h0m0 5h0m1-10h0m0-4h0m0 15h0m0 7h0m0-19h0m1 4h0m0 9h0m0-13h0m1 0h0m0-7h0m0 13h0m0 2h0m0-9h0m0 4h0m0-2h0m0 17h0m0-7h0m1-10h0m0 2h0m0-10h0m0 5h0m0 4h0m0-5h0m0 13h0m1-20h0m0 10h0m0 17h0m0-15h0m0 10h0m0-18h0m0 12h0m0 18h0m0-27h0m0 10h0m1-1h0m0 2h0m0-18h0m0 22h0m0 5h0m0-7h0m0-5h0m1 0h0m0 2h0m0 7h0m0-12h0m0 4h0m0 3h0m0 1h0m0-6h0m0-6h0m0 13h0m1-6h0m0-1h0m0-1h0m0-14h0m0 19h0m0-2h0m0 5h0m0-15h0m0 22h0m1-3h0m0-2h0m0-5h0m0-3h0m0 11h0m0-4h0m0-11h0m0 5h0m1 3h0m0-1h0m0-3h0m0 19h0m0-11h0m0 1h0m0 3h0m1 0h0m0-4h0m0 2h0m0-8h0m0-8h0m0 15h0m1-1h0m0-6h0m0-4h0m0 11h0m0-6h0m0-8h0m0 16h0m0-10h0m0-7h0m1 7h0m0 4h0m0-7h0m0 8h0m0-3h0m0 1h0m1-7h0m0 3h0m0 9h0m0 6h0m0-13h0m0 5h0m0-4h0m0 2h0m1 5h0m0-5h0m0-2h0m0-5h0m0 9h0m0 1h0m1 0h0m0-10h0m0 1h0m0 5h0m0-8h0m0-11h0m0 25h0m1-11h0m0 7h0m0-11h0m0 23h0m0-16h0m0 12h0m0-7h0m0 4h0m0-1h0m0-9h0m0-1h0m1 1h0m0 4h0m0 5h0m0-19h0m0 21h0m0-10h0m0 1h0m1-7h0m0 1h0m0-12h0m0 22h0m0-4h0m1 2h0m0 10h0m0-12h0m0-4h0m1 4h0m0-3h0m0-5h0m0 2h0m0-6h0m0 1h0m0 15h0m0-20h0m1 17h0m0-14h0m0 13h0m0-4h0m0-1h0m0-5h0m0-6h0m0 21h0m0-19h0m0 11h0m1 7h0m0 2h0m0-17h0m0 3h0m0-8h0m0 4h0m1 3h0m0-17h0m0 2h0m0 12h0m0 7h0m0-1h0m0-4h0m0-1h0m0 4h0m0 7h0m0-3h0m1-2h0m0 9h0m0-10h0m1 4h0m0 4h0m0 2h0m0 3h0m0-1h0m1-7h0m0 1h0m0-3h0m0 6h0m0-11h0m0 17h0m0-1h0m0-6h0m0 14h0m0-11h0m0 1h0m1-1h0m0-3h0m0 8h0m1-20h0m0 16h0m0 3h0m0 6h0m0-15h0m0-2h0m1-1h0m0 2h0m0 7h0m0-6h0m0 9h0m0-7h0m0 14h0m0-5h0m1-9h0m0 11h0m0-12h0m0 5h0m0-3h0m0 7h0m0-11h0m0 9h0m0 6h0m0-20h0m1 12h0m0-7h0m0 5h0m0-4h0m0 2h0m0-7h0m0 19h0m1-11h0m0-6h0m0 5h0m0-1h0m0-2h0m0 12h0m1-20h0m0 3h0m0 9h0m0-19h0m0-9h0m0-5h0m0 11h0m0-5h0m0-18h0m0 32h0m0-12h0m1 6h0m0-3h0m0-4h0m0 5h0m0-15h0m0 6h0m0 13h0m1-7h0m0-10h0m0-7h0m0 10h0m0 9h0m0-15h0m0 7h0m1-4h0m0-3h0m0 1h0m0 4h0m0 9h0m0 10h0m0-26h0m0 19h0m0 2h0m1-7h0m0-5h0m0 11h0m0-2h0m0-13h0m0 8h0m0-5h0m0 13h0m1-15h0m0 14h0m0 1h0m0-19h0m0 8h0m0 9h0m0 3h0m0-15h0m0 2h0m1 1h0m0-5h0m0-5h0m0 28h0m0-14h0m0-11h0m0 4h0m0-1h0m1 18h0m0-8h0m0-9h0m0 1h0m0-15h0m0 30h0m0-19h0m0 7h0m0-9h0m0 17h0m1-12h0m0 4h0m0 5h0m0-13h0m0 11h0m0 1h0m0-3h0m0-14h0m0 15h0m1 9h0m0-5h0m1-7h0m0-10h0m0 17h0m0 2h0m0-15h0m0 12h0m0-2h0m0-9h0m0 1h0m1 18h0m0-11h0m0-7h0m0 12h0m0-19h0m0 17h0m0-1h0m0-7h0m1-7h0m0 17h0m0-6h0m0-14h0m0 15h0m0-7h0m0-1h0m0 10h0m1-15h0m0 28h0m0-1h0m0-15h0m0-2h0m0-4h0m0 2h0m0-4h0m0 1h0m1 5h0m0 19h0m0-12h0m0 5h0m0-19h0m0-2h0m0 5h0m0 10h0m1-5h0m0 6h0m0-4h0m0 2h0m0 12h0m0-4h0m0-9h0m0-8h0m0 4h0m0-1h0m0-6h0m0 18h0m1 2h0m0 12h0m0-15h0m0 4h0m0-13h0m0 11h0m0-25h0m0 15h0m0 17h0m0 1h0m1-6h0m0-1h0m0-12h0m1 3h0m0 15h0m0-10h0m0-1h0m0 10h0m1 0h0m0-3h0m0-19h0m0 10h0m0-4h0m0-2h0m0-5h0m0 9h0m1 3h0m0 6h0m0-12h0m0-5h0m0 2h0m0 6h0m0-12h0m0 25h0m0-15h0m0-2h0m1 3h0m0 2h0m0 4h0m0 2h0m0-9h0m0 4h0m0-11h0m1 10h0m0 1h0m0-3h0m0-1h0m0 5h0m0-16h0m0-8h0m1 27h0m0-9h0m0-5h0m0 2h0m0 2h0m0 2h0m0-8h0m0-5h0m1-12h0m0 22h0m0-8h0m0 3h0m0-9h0m1 5h0m0 2h0m0-8h0m0 10h0m0-7h0m0 4h0m0 4h0m0 12h0m0-14h0m0 12h0m0-4h0m1 4h0m0 9h0m0-13h0m0 7h0m0-14h0m0 24h0m0-11h0m0-3h0m0-13h0m0-9h0m1 23h0m0-2h0m0 1h0m0-5h0m0 7h0m0-12h0m0 14h0m0-10h0m0 3h0m0 8h0m0-27h0m1 21h0m0-5h0m0-6h0m0-11h0m0 15h0m0-3h0m0 2h0m0-1h0m0 11h0m1 1h0m0-4h0m0 3h0m0-1h0m0 16h0m0-9h0m0-1h0m1-5h0m0-1h0m0-4h0m0-6h0m0 14h0m1-11h0m0 1h0m0 21h0m0-10h0m0-3h0m0-4h0m0 12h0m0-6h0m0 5h0m0-14h0m1-4h0m0 10h0m0 4h0m0-7h0m0 5h0m0 3h0m1 5h0m0-6h0m0 4h0m0 4h0m1-8h0m0-18h0m0 17h0m0-6h0m0 2h0m0-9h0m0 15h0m0 7h0m0-11h0m0 6h0m1-5h0m0-15h0m0 9h0m0-8h0m0 17h0m0 2h0m0-10h0m0-6h0m0 12h0m0-9h0m1-2h0m0-5h0m0 20h0m0-7h0m0 3h0m0-1h0m0-5h0m0-1h0m0-8h0m0 17h0m1-14h0m0-6h0m0 5h0m0 8h0m0-2h0m0-10h0m0 7h0m0 2h0m0 4h0m1 2h0m0-7h0m0-7h0m0 11h0m0 9h0m0-15h0m0 3h0m0 8h0m0-4h0m1-23h0m0 30h0m0-31h0m0 18h0m0 11h0m0-25h0m1 24h0m0-11h0m0 2h0m0-5h0m0 11h0m0-5h0m0 2h0m1 0h0m0 2h0m0-6h0m0 2h0m0-6h0m0 1h0m0 2h0m1 3h0m0 8h0m0-6h0m0-4h0m0-2h0m0 8h0m0 8h0m0-3h0m1-12h0m0 10h0m0 2h0m0 4h0m0 1h0m0-2h0m1 0h0m0-7h0m0 6h0m0-9h0m0 8h0m0-4h0m0 1h0m1 1h0m0-8h0m0 9h0m0-7h0m0 14h0m0-12h0m0 3h0m0 12h0m1-7h0m0 2h0m0-5h0m0-7h0m0-9h0m0 10h0m0-4h0m0 16h0m0-17h0m0 10h0m0-2h0m1-2h0m0-9h0m0 12h0m0-13h0m0 18h0m0-4h0m0-6h0m1-2h0m0 1h0m0 6h0m0-12h0m0 15h0m0-5h0m0 10h0m1-5h0m0-13h0m0 5h0m0-14h0m0 8h0m0-7h0m1 1h0m0 13h0m0-6h0m0 5h0m0-8h0m0 15h0m0-14h0m0-7h0m0 11h0m0-14h0m0 4h0m1-9h0m0 15h0m0-3h0m0 12h0m0-64h0m0-41h0m0 50h0m0-42h0m0-15h0m0 31h0m0 9h0m0-50h0m0 62h0m0 22h0m0 40h0m0-64h0m0-6h0m0-36h0m0 12h0m0-25h0m1 89h0m0-34h0m0 13h0m0 18h0m0-6h0m0 21h0m0-28h0m0 5h0m0-27h0m0 39h0m0-53h0m0-32h0m0 87h0m0-10h0m0-15h0m0 12h0m0-70h0m0 21h0m0 8h0m0-4h0m0 25h0m0 40h0m0-100h0m0 36h0m0 10h0m0-38h0m0 4h0m0 2h0m0 48h0m0 37h0m0-50h0m0-45h0m0 9h0m0 37h0m0 42h0m1-35h0m0 21h0m0 8h0m0 19h0m0-51h0m0 23h0m0 26h0m0 3h0m1 1h0m0-4h0m0 3h0m0-11h0m0 10h0m0 8h0m0-9h0m0-16h0m0 24h0m1-16h0m0 3h0m0 5h0m0-1h0m0 11h0m0-9h0m0 8h0m0 13h0m0-16h0m0 11h0m0-3h0m0-20h0m1 29h0m0-24h0m0 6h0m0 6h0m0-1h0m1 7h0m0-8h0m0 9h0m0-13h0m0 6h0m0 12h0m1-6h0m0-7h0m0 6h0m0 10h0m0 2h0m0-14h0m0-2h0m1 0h0m0 16h0m0-13h0m0 3h0m0-1h0m0-10h0m0 9h0m0 4h0m0-1h0m1-5h0m0-10h0m0-6h0m0 7h0m0 5h0m0-1h0m0 2h0m0-4h0m1 10h0m0-2h0m0 6h0m0-8h0m1-10h0m0-20h0m0 33h0m0-18h0m0 4h0m0 5h0m0 6h0m0-3h0m0-4h0m0 6h0m1-9h0m0-1h0m0-4h0m0 18h0m0-16h0m0 4h0m0-3h0m0-4h0m1 9h0m0-8h0m0 10h0m1-11h0m0 10h0m0-1h0m0-2h0m0-2h0m0 6h0m0-5h0m0 2h0m0 7h0m1 1h0m0-7h0m0-9h0m0 7h0m0-8h0m0 11h0m0-13h0m0 6h0m0 3h0m0-4h0m1-6h0m0 5h0m0-1h0m0-9h0m0 14h0m0-8h0m0 10h0m0-9h0m0-9h0m1 15h0m0 12h0m0-13h0m0 3h0m0-6h0m0 8h0m0-1h0m0 16h0m0-13h0m0 4h0m1-16h0m0 8h0m0-3h0m0 10h0m0-16h0m0 20h0m0 7h0m0-8h0m0 9h0m1-10h0m0 5h0m0-17h0m0 7h0m0-1h0m0-1h0m0 15h0m0-6h0m0-12h0m1 6h0m0 11h0m0 1h0m0-5h0m0-5h0m0 14h0m1 4h0m0-14h0m0 19h0m0-9h0m0-6h0m0 3h0m1-4h0m0 8h0m0-11h0m0 7h0m0-9h0m0 7h0m0 4h0m0 1h0m0-21h0m0 7h0m1-4h0m0 16h0m0-15h0m0 12h0m0-7h0m1 2h0m0-5h0m0-3h0m0 12h0m0 5h0m0-11h0m0 1h0m0 4h0m1-12h0m0 4h0m0-10h0m0 4h0m0 17h0m0-16h0m0-6h0m0 8h0m1 0h0m0 8h0m0-4h0m0 3h0m0 6h0m0-2h0m0-6h0m0-12h0m1 12h0m0 1h0m0 1h0m0-4h0m0-10h0m0 5h0m0 11h0m0-8h0m0-9h0m0-2h0m1 25h0m0-13h0m0-6h0m0 4h0m0-2h0m0 16h0m0-8h0m0-12h0m0 10h0m0 5h0m1-1h0m0-7h0m0-11h0m0 13h0m0-10h0m0-5h0m0-10h0m0 24h0m0 8h0m1-10h0m0 14h0m0 5h0m0-8h0m0-5h0m0-9h0m0 4h0m0-9h0m0 13h0m0 2h0m0 8h0m1 7h0m0-6h0m0-7h0m0-10h0m0 16h0m1-5h0m0 7h0m0-15h0m0 10h0m0-8h0m0 17h0m0-13h0m1-1h0m0 9h0m0 5h0m0-6h0m0-5h0m0 3h0m0-8h0m0 17h0m0-18h0m1 8h0m0-7h0m0 8h0m0 6h0m1-2h0m0-6h0m0 2h0m0 6h0m0-1h0m0-11h0m0 15h0m0 1h0m0 4h0m0-2h0m0 3h0m0 3h0m1-10h0m0 2h0m0 2h0m0-1h0m0 2h0m1-6h0m0-1h0m0 5h0m0-1h0m0-9h0m0-2h0m0-8h0m1 16h0m0-4h0m0-1h0m0-1h0m0 13h0m0-14h0m0 6h0m1 3h0m0-8h0m1-9h0m0 6h0m0 13h0m0 3h0m0-24h0m0 15h0m0 4h0m0-5h0m0-2h0m1 9h0m0 1h0m0-8h0m0-1h0m0 6h0m0 10h0m0-19h0m1 13h0m0 2h0m0-4h0m0-2h0m1-15h0m0 11h0m0-7h0m0-13h0m0 21h0m0-3h0m0 1h0m0-5h0m1 1h0m0-4h0m0 7h0m0-17h0m0 6h0m0 3h0m0-4h0m0-6h0m0 19h0m1-1h0m0-3h0m0 1h0m0-4h0m0 11h0m0-2h0m0-2h0m0-6h0m0-10h0m0 14h0m1-12h0m0-5h0m0 13h0m0 12h0m0-4h0m0-6h0m0 2h0m0-11h0m0 4h0m0-3h0m0-3h0m0 5h0m0-8h0m1 22h0m0-15h0m0 14h0m0-13h0m0 7h0m0 2h0m0 2h0m1 6h0m0 1h0m0-9h0m0-13h0m0 12h0m0 11h0m1-18h0m0 11h0m0 2h0m0-5h0m0-6h0m0 2h0m0 2h0m0 25h0m0-22h0m1 13h0m0-2h0m0-5h0m0-8h0m0-9h0m1 8h0m0 11h0m0-4h0m0-8h0m0-11h0m0 7h0m0 10h0m0 9h0m0-13h0m1 4h0m0 4h0m0-8h0m0 6h0m0-5h0m0-9h0m1 7h0m0-1h0m0 10h0m0-2h0m0-17h0m0 12h0m1-11h0m0 4h0m0 4h0m0-1h0m0 3h0m0 2h0m0 2h0m0 5h0m0-10h0m0-7h0m1 1h0m0 7h0m0-10h0m0 11h0m0 2h0m0-1h0m0-3h0m0-7h0m1 7h0m0 5h0m0-6h0m0 17h0m0-20h0m0 2h0m1 3h0m0 4h0m0 3h0m0-14h0m0-1h0m0 18h0m0-12h0m0 5h0m1-4h0m0 1h0m0-7h0m0 15h0m0-13h0m0 2h0m0-10h0m0-1h0m0 12h0m1-1h0m0 8h0m0-6h0m0-3h0m0 15h0m0-3h0m0-23h0m0 4h0m0 5h0m1-11h0m0 7h0m0 9h0m0-3h0m0-4h0m0 19h0m0-7h0m0 1h0m0 7h0m1 0h0m0-6h0m0-2h0m0 7h0m0-11h0m0 5h0m0-2h0m1 7h0m0-8h0m0 21h0m0-28h0m0 20h0m0 7h0m0-22h0m1 5h0m0 1h0m0-4h0m0 5h0m0-7h0m0 4h0m1 1h0m0-3h0m0-2h0m0 12h0m0-3h0m0-2h0m0-3h0m1-4h0m0-2h0m0-3h0m0-5h0m0 9h0m0-13h0m0 8h0m0 15h0m0-2h0m1-9h0m0 10h0m0-12h0m0-1h0m0 16h0m0 1h0m0-2h0m0-8h0m0-5h0m1-1h0m0 7h0m0-1h0m0 6h0m0-2h0m0-6h0m0-12h0m0 9h0m1-3h0m0 13h0m0 4h0m0-20h0m0 21h0m0-9h0m0 7h0m1-4h0m0-2h0m0-7h0m0 4h0m0-5h0m0 2h0m1-6h0m0 18h0m0-15h0m0 6h0m0-7h0m0 2h0m0-7h0m0-3h0m0-1h0m0 12h0m1-7h0m0-10h0m0 15h0m0-11h0m0 18h0m0-13h0m0 10h0m0-13h0m0 12h0m0-7h0m0-4h0m0 7h0m0 7h0m1-13h0m0-2h0m0 11h0m0-5h0m0 3h0m0 8h0m0-25h0m0 24h0m0-23h0m0 19h0m1 3h0m0-5h0m0-1h0m0 8h0m0-1h0m0 10h0m0-14h0m0 6h0m1 3h0m0 2h0m0-5h0m0-2h0m0-17h0m0 21h0m0 11h0m0-4h0m1-8h0m0-9h0m0 14h0m0-2h0m0 1h0m0-2h0m0-7h0m0-14h0m1 25h0m0-2h0m0 1h0m0-5h0m0-6h0m0-5h0m0 13h0m0 12h0m0-17h0m0 13h0m1-14h0m0-11h0m0 19h0m0-13h0m0 2h0m0 5h0m0 7h0m0-11h0m0-5h0m0 3h0m0 10h0m1-6h0m0 2h0m0 1h0m0-17h0m0 9h0m0 9h0m0-8h0m0 5h0m0-7h0m1 20h0m0-12h0m0-8h0m0 19h0m0 10h0m0 1h0m0-12h0m0 8h0m0-19h0m0 15h0m0 5h0m0-11h0m1-6h0m0 9h0m0 9h0m0-17h0m0 2h0m0-1h0m0-4h0m1 4h0m0-8h0m0 1h0m0 4h0m0-11h0m0 8h0m0 4h0m0 3h0m0 2h0m0-4h0m1-1h0m0 13h0m0-21h0m0 18h0m0-14h0m0 6h0m0-8h0m0 7h0m0-14h0m1 16h0m0-9h0m0-2h0m0 3h0m0 3h0m0 6h0m0-7h0m1 3h0m0 9h0m0-20h0m0 4h0m0 3h0m1 2h0m0-12h0m0 5h0m0 11h0m0-10h0m0 7h0m0 4h0m0-16h0m1 13h0m0-1h0m0 5h0m0-1h0m0-6h0m0 4h0m0-3h0m0-6h0m0-1h0m1 7h0m0-4h0m0-10h0m0 13h0m0-8h0m0 2h0m0 11h0m0-2h0m1-11h0m0 13h0m0-15h0m0 1h0m0 3h0m1 14h0m0-17h0m0 4h0m0-7h0m0-6h0m1 7h0m0 1h0m0 1h0m0 4h0m0-15h0m0 17h0m0-23h0m1 12h0m0 3h0m0 20h0m0-5h0m0 1h0" stroke="#000000" stroke-width="3.2" stroke-linecap="round" fill="none"/>
<rect x="58.3" y="377.7" width="372.0" height="314.3" fill="none" stroke="#000" stroke-width="2.2"/>
<line x1="52.8" y1="692.0" x2="58.3" y2="692.0" stroke="#000" stroke-width="2.2"/>
<text x="48.0" y="698.3" font-size="17.5" font-family='"Liberation Sans", sans-serif' text-anchor="end" textLength="8.3" lengthAdjust="spacingAndGlyphs">0</text>
<line x1="55.1" y1="652.7" x2="58.3" y2="652.7" stroke="#000" stroke-width="2.2"/>
<line x1="52.8" y1="613.4" x2="58.3" y2="613.4" stroke="#000" stroke-width="2.2"/>
<text x="48.0" y="619.7" font-size="17.5" font-family='"Liberation Sans", sans-serif' text-anchor="end" textLength="8.3" lengthAdjust="spacingAndGlyphs">4</text>
<line x1="55.1" y1="574.1" x2="58.3" y2="574.1" stroke="#000" stroke-width="2.2"/>
<line x1="52.8" y1="534.9" x2="58.3" y2="534.9" stroke="#000" stroke-width="2.2"/>
<text x="48.0" y="541.1" font-size="17.5" font-family='"Liberation Sans", sans-serif' text-anchor="end" textLength="8.3" lengthAdjust="spacingAndGlyphs">8</text>
<line x1="55.1" y1="495.6" x2="58.3" y2="495.6" stroke="#000" stroke-width="2.2"/>
<line x1="52.8" y1="456.3" x2="58.3" y2="456.3" stroke="#000" stroke-width="2.2"/>
<text x="48.0" y="462.6" font-size="17.5" font-family='"Liberation Sans", sans-serif' text-anchor="end" textLength="16.5" lengthAdjust="spacingAndGlyphs">12</text>
<line x1="55.1" y1="417.0" x2="58.3" y2="417.0" stroke="#000" stroke-width="2.2"/>
<line x1="52.8" y1="377.7" x2="58.3" y2="377.7" stroke="#000" stroke-width="2.2"/>
<text x="48.0" y="384.0" font-size="17.5" font-family='"Liberation Sans", sans-serif' text-anchor="end" textLength="16.5" lengthAdjust="spacingAndGlyphs">16</text>
<line x1="58.3" y1="692.0" x2="58.3" y2="698.5" stroke="#000" stroke-width="2.2"/>
<text x="58.3" y="719.3" font-size="17.5" font-family='"Liberation Sans", sans-serif' text-anchor="middle" textLength="8.3" lengthAdjust="spacingAndGlyphs">0</text>
<line x1="89.3" y1="692.0" x2="89.3" y2="695.5" stroke="#000" stroke-width="2.2"/>
<line x1="120.3" y1="692.0" x2="120.3" y2="698.5" stroke="#000" stroke-width="2.2"/>
<text x="120.3" y="719.3" font-size="17.5" font-family='"Liberation Sans", sans-serif' text-anchor="middle" textLength="24.8" lengthAdjust="spacingAndGlyphs">500</text>
<line x1="151.3" y1="692.0" x2="151.3" y2="695.5" stroke="#000" stroke-width="2.2"/>
<line x1="182.3" y1="692.0" x2="182.3" y2="698.5" stroke="#000" stroke-width="2.2"/>
<text x="182.3" y="719.3" font-size="17.5" font-family='"Liberation Sans", sans-serif' text-anchor="middle" textLength="33.1" lengthAdjust="spacingAndGlyphs">1000</text>
<line x1="213.3" y1="692.0" x2="213.3" y2="695.5" stroke="#000" stroke-width="2.2"/>
<line x1="244.3" y1="692.0" x2="244.3" y2="698.5" stroke="#000" stroke-width="2.2"/>
<text x="244.3" y="719.3" font-size="17.5" font-family='"Liberation Sans", sans-serif' text-anchor="middle" textLength="33.1" lengthAdjust="spacingAndGlyphs">1500</text>
<line x1="275.3" y1="692.0" x2="275.3" y2="695.5" stroke="#000" stroke-width="2.2"/>
<line x1="306.3" y1="692.0" x2="306.3" y2="698.5" stroke="#000" stroke-width="2.2"/>
<text x="306.3" y="719.3" font-size="17.5" font-family='"Liberation Sans", sans-serif' text-anchor="middle" textLength="33.1" lengthAdjust="spacingAndGlyphs">2000</text>
<line x1="337.3" y1="692.0" x2="337.3" y2="695.5" stroke="#000" stroke-width="2.2"/>
<line x1="368.3" y1="692.0" x2="368.3" y2="698.5" stroke="#000" stroke-width="2.2"/>
<text x="368.3" y="719.3" font-size="17.5" font-family='"Liberation Sans", sans-serif' text-anchor="middle" textLength="33.1" lengthAdjust="spacingAndGlyphs">2500</text>
<line x1="399.3" y1="692.0" x2="399.3" y2="695.5" stroke="#000" stroke-width="2.2"/>
<line x1="430.3" y1="692.0" x2="430.3" y2="698.5" stroke="#000" stroke-width="2.2"/>
<text x="430.3" y="719.3" font-size="17.5" font-family='"Liberation Sans", sans-serif' text-anchor="middle" textLength="33.1" lengthAdjust="spacingAndGlyphs">3000</text>
<text transform="translate(26.4 530.0) rotate(-90)" text-anchor="middle" font-size="23" textLength="158.5" lengthAdjust="spacingAndGlyphs">GDP RMSD(&#197; )</text>
<text x="244.3" y="756.0" font-size="24" font-family='"Liberation Sans", sans-serif' text-anchor="middle" textLength="182" lengthAdjust="spacingAndGlyphs">Simulation time (ns)</text>
<circle cx="70.4" cy="399.8" r="1.1" fill="#000"/>
<circle cx="70.4" cy="425.9" r="1.3" fill="#ff0000"/>
<circle cx="70.4" cy="452" r="1.5" fill="#0000ff"/>
<text x="85.3" y="406.6" font-size="21" font-family='"Liberation Sans", sans-serif' textLength="35.3" lengthAdjust="spacingAndGlyphs">Sim1</text>
<text x="85.3" y="432.8" font-size="21" font-family='"Liberation Sans", sans-serif' fill="#ff0000" textLength="36" lengthAdjust="spacingAndGlyphs">Sim2</text>
<text x="85.3" y="459.0" font-size="21" font-family='"Liberation Sans", sans-serif' fill="#0000ff" textLength="36" lengthAdjust="spacingAndGlyphs">Sim3</text>
<text x="63.6" y="363.6" font-size="27.3" font-family='"Liberation Sans", sans-serif' textLength="328.5" lengthAdjust="spacingAndGlyphs">cS4 mediated GDP release</text>
<g fill="#f1f1f1" opacity="1.0"><circle cx="540.0" cy="416.0" r="5.2"/><circle cx="552.0" cy="404.0" r="6.1"/><circle cx="563.5" cy="402.0" r="5.6"/><circle cx="575.0" cy="400.0" r="6.3"/><circle cx="585.3" cy="398.7" r="6.4"/><circle cx="595.7" cy="397.3" r="4.7"/><circle cx="606.0" cy="396.0" r="4.5"/><circle cx="617.3" cy="396.3" r="7.0"/><circle cx="628.7" cy="396.7" r="5.3"/><circle cx="640.0" cy="397.0" r="5.2"/><circle cx="650.7" cy="398.0" r="7.5"/><circle cx="661.3" cy="399.0" r="5.9"/><circle cx="672.0" cy="400.0" r="7.0"/><circle cx="683.5" cy="404.0" r="5.9"/><circle cx="695.0" cy="408.0" r="6.4"/><circle cx="701.5" cy="416.5" r="5.0"/><circle cx="708.0" cy="425.0" r="6.4"/><circle cx="711.0" cy="437.5" r="7.1"/><circle cx="714.0" cy="450.0" r="6.1"/><circle cx="724.3" cy="450.7" r="6.7"/><circle cx="734.7" cy="451.3" r="6.5"/><circle cx="745.0" cy="452.0" r="4.7"/><circle cx="754.0" cy="453.6" r="6.8"/><circle cx="763.0" cy="455.2" r="6.3"/><circle cx="772.0" cy="456.8" r="5.4"/><circle cx="781.0" cy="458.4" r="4.6"/><circle cx="790.0" cy="460.0" r="7.1"/><circle cx="800.0" cy="462.0" r="5.9"/><circle cx="810.0" cy="464.0" r="6.7"/><circle cx="820.0" cy="466.0" r="7.1"/><circle cx="833.0" cy="478.0" r="6.6"/><circle cx="832.5" cy="489.0" r="7.3"/><circle cx="832.0" cy="500.0" r="5.7"/><circle cx="822.0" cy="505.0" r="6.9"/><circle cx="812.0" cy="510.0" r="5.8"/><circle cx="801.5" cy="509.0" r="7.3"/><circle cx="791.0" cy="508.0" r="7.1"/><circle cx="780.5" cy="507.0" r="4.8"/><circle cx="770.0" cy="506.0" r="4.9"/><circle cx="761.0" cy="504.8" r="5.2"/><circle cx="752.0" cy="503.6" r="7.4"/><circle cx="743.0" cy="502.4" r="5.8"/><circle cx="734.0" cy="501.2" r="6.4"/><circle cx="725.0" cy="500.0" r="5.4"/><circle cx="713.3" cy="498.0" r="6.0"/><circle cx="701.7" cy="496.0" r="5.7"/><circle cx="690.0" cy="494.0" r="5.6"/><circle cx="680.0" cy="494.5" r="6.3"/><circle cx="670.0" cy="495.0" r="6.3"/><circle cx="660.0" cy="495.5" r="7.2"/><circle cx="650.0" cy="496.0" r="6.5"/><circle cx="640.0" cy="496.4" r="7.3"/><circle cx="630.0" cy="496.8" r="7.1"/><circle cx="620.0" cy="497.2" r="7.5"/><circle cx="610.0" cy="497.6" r="6.5"/><circle cx="600.0" cy="498.0" r="5.0"/><circle cx="590.0" cy="496.0" r="7.1"/><circle cx="580.0" cy="494.0" r="7.4"/><circle cx="570.0" cy="492.0" r="7.2"/><circle cx="560.0" cy="490.0" r="6.2"/><circle cx="548.5" cy="488.0" r="6.6"/><circle cx="537.0" cy="486.0" r="5.1"/><circle cx="534.0" cy="474.0" r="7.0"/><circle cx="531.0" cy="462.0" r="6.2"/><circle cx="531.3" cy="452.0" r="5.4"/><circle cx="531.7" cy="442.0" r="4.7"/><circle cx="532.0" cy="432.0" r="7.1"/></g>
<path d="M540.0 416.0C543.3 411.3 546.2 406.7 552.0 404.0C557.8 401.3 566.0 401.3 575.0 400.0C584.0 398.7 595.2 396.5 606.0 396.0C616.8 395.5 629.0 396.3 640.0 397.0C651.0 397.7 662.8 398.2 672.0 400.0C681.2 401.8 689.0 403.8 695.0 408.0C701.0 412.2 704.8 418.0 708.0 425.0C711.2 432.0 707.8 445.5 714.0 450.0C720.2 454.5 732.3 450.3 745.0 452.0C757.7 453.7 777.5 457.7 790.0 460.0C802.5 462.3 812.8 463.0 820.0 466.0C827.2 469.0 831.0 472.3 833.0 478.0C835.0 483.7 835.5 494.7 832.0 500.0C828.5 505.3 822.3 509.0 812.0 510.0C801.7 511.0 784.5 507.7 770.0 506.0C755.5 504.3 738.3 502.0 725.0 500.0C711.7 498.0 702.5 494.7 690.0 494.0C677.5 493.3 665.0 495.3 650.0 496.0C635.0 496.7 615.0 499.0 600.0 498.0C585.0 497.0 570.5 492.0 560.0 490.0C549.5 488.0 541.8 490.7 537.0 486.0C532.2 481.3 531.8 471.0 531.0 462.0C530.2 453.0 530.5 439.7 532.0 432.0C533.5 424.3 536.7 420.7 540.0 416.0Z" fill="#f1f1f1"/>
<path d="M556.0 420.0C563.3 413.3 576.0 410.5 590.0 408.0C604.0 405.5 624.2 404.3 640.0 405.0C655.8 405.7 675.0 406.2 685.0 412.0C695.0 417.8 699.2 430.3 700.0 440.0C700.8 449.7 698.3 462.5 690.0 470.0C681.7 477.5 665.0 482.2 650.0 485.0C635.0 487.8 615.0 488.7 600.0 487.0C585.0 485.3 569.0 481.5 560.0 475.0C551.0 468.5 546.7 457.2 546.0 448.0C545.3 438.8 548.7 426.7 556.0 420.0Z" fill="#e7e7e7"/>
<path d="M697.0 467.0C707.5 469.0 738.8 475.0 760.0 479.0C781.2 483.0 813.3 489.0 824.0 491.0" fill="none" stroke="#d2d2d2" stroke-width="11" stroke-linecap="round" stroke-linejoin="round"/>
<path d="M698.0 465.0C708.3 467.0 739.3 473.0 760.0 477.0C780.7 481.0 811.7 487.0 822.0 489.0" fill="none" stroke="#e4e4e4" stroke-width="4" stroke-linecap="round" stroke-linejoin="round"/>
<path d="M568.0 454.0C575.5 447.3 605.5 420.7 613.0 414.0" fill="none" stroke="#cdcdcd" stroke-width="12" stroke-linecap="round" stroke-linejoin="round"/>
<path d="M595.0 470.0C605.0 462.3 645.0 431.7 655.0 424.0" fill="none" stroke="#d0d0d0" stroke-width="11" stroke-linecap="round" stroke-linejoin="round"/>
<path d="M640.0 452.0C648.3 446.3 681.7 423.7 690.0 418.0" fill="none" stroke="#d4d4d4" stroke-width="10" stroke-linecap="round" stroke-linejoin="round"/>
<path d="M548.0 445.0C550.0 442.5 554.7 432.8 560.0 430.0C565.3 427.2 573.7 431.0 580.0 428.0C586.3 425.0 593.0 416.7 598.0 412.0C603.0 407.3 608.0 402.0 610.0 400.0" fill="none" stroke="#cfcfcf" stroke-width="3" stroke-linecap="round" stroke-linejoin="round"/>
<path d="M630.0 402.0C632.5 404.2 638.3 413.7 645.0 415.0C651.7 416.3 662.5 408.3 670.0 410.0C677.5 411.7 686.7 422.5 690.0 425.0" fill="none" stroke="#cbcbcb" stroke-width="3" stroke-linecap="round" stroke-linejoin="round"/>
<path d="M555.0 478.0C562.5 479.3 584.2 485.7 600.0 486.0C615.8 486.3 635.0 482.7 650.0 480.0C665.0 477.3 683.3 471.7 690.0 470.0" fill="none" stroke="#d3d3d3" stroke-width="7" stroke-linecap="round" stroke-linejoin="round"/>
<path d="M560.0 500.0C568.3 500.8 593.3 505.0 610.0 505.0C626.7 505.0 645.0 502.2 660.0 500.0C675.0 497.8 693.3 493.3 700.0 492.0" fill="none" stroke="#d8d8d8" stroke-width="6" stroke-linecap="round" stroke-linejoin="round"/>
<g fill="#d6d6d6" opacity="1.0"><circle cx="502.0" cy="503.0" r="5.8"/><circle cx="505.0" cy="495.5" r="6.2"/><circle cx="508.0" cy="488.0" r="6.3"/><circle cx="516.5" cy="486.0" r="6.7"/><circle cx="525.0" cy="484.0" r="6.2"/><circle cx="534.5" cy="484.0" r="6.7"/><circle cx="544.0" cy="484.0" r="4.2"/><circle cx="552.3" cy="487.3" r="5.4"/><circle cx="560.7" cy="490.7" r="6.7"/><circle cx="569.0" cy="494.0" r="5.9"/><circle cx="576.0" cy="498.0" r="6.6"/><circle cx="583.0" cy="502.0" r="4.4"/><circle cx="590.0" cy="506.0" r="5.4"/><circle cx="597.3" cy="512.3" r="4.8"/><circle cx="604.7" cy="518.7" r="5.6"/><circle cx="612.0" cy="525.0" r="5.7"/><circle cx="614.7" cy="532.7" r="4.2"/><circle cx="617.3" cy="540.3" r="4.7"/><circle cx="620.0" cy="548.0" r="4.9"/><circle cx="617.3" cy="556.0" r="6.6"/><circle cx="614.7" cy="564.0" r="6.2"/><circle cx="612.0" cy="572.0" r="4.6"/><circle cx="603.3" cy="577.3" r="6.3"/><circle cx="594.7" cy="582.7" r="4.5"/><circle cx="586.0" cy="588.0" r="5.8"/><circle cx="576.0" cy="588.7" r="4.5"/><circle cx="566.0" cy="589.3" r="4.1"/><circle cx="556.0" cy="590.0" r="6.5"/><circle cx="546.7" cy="589.3" r="4.7"/><circle cx="537.3" cy="588.7" r="4.7"/><circle cx="528.0" cy="588.0" r="6.8"/><circle cx="520.3" cy="584.3" r="6.5"/><circle cx="512.7" cy="580.7" r="4.9"/><circle cx="505.0" cy="577.0" r="6.8"/><circle cx="503.8" cy="569.0" r="5.6"/><circle cx="502.5" cy="561.0" r="6.0"/><circle cx="501.2" cy="553.0" r="4.7"/><circle cx="500.0" cy="545.0" r="6.7"/><circle cx="500.4" cy="536.6" r="6.0"/><circle cx="500.8" cy="528.2" r="6.8"/><circle cx="501.2" cy="519.8" r="6.6"/><circle cx="501.6" cy="511.4" r="4.9"/></g>
<path d="M502.0 503.0C503.3 493.5 504.2 491.2 508.0 488.0C511.8 484.8 519.0 484.7 525.0 484.0C531.0 483.3 536.7 482.3 544.0 484.0C551.3 485.7 561.3 490.3 569.0 494.0C576.7 497.7 582.8 500.8 590.0 506.0C597.2 511.2 607.0 518.0 612.0 525.0C617.0 532.0 620.0 540.2 620.0 548.0C620.0 555.8 617.7 565.3 612.0 572.0C606.3 578.7 595.3 585.0 586.0 588.0C576.7 591.0 565.7 590.0 556.0 590.0C546.3 590.0 536.5 590.2 528.0 588.0C519.5 585.8 509.7 584.2 505.0 577.0C500.3 569.8 500.5 557.3 500.0 545.0C499.5 532.7 500.7 512.5 502.0 503.0Z" fill="#d6d6d6"/>
<path d="M510.0 500.0C514.0 492.0 522.3 492.8 530.0 492.0C537.7 491.2 547.7 492.8 556.0 495.0C564.3 497.2 572.7 500.8 580.0 505.0C587.3 509.2 595.7 513.3 600.0 520.0C604.3 526.7 606.8 536.7 606.0 545.0C605.2 553.3 601.8 563.8 595.0 570.0C588.2 576.2 575.8 580.0 565.0 582.0C554.2 584.0 538.8 584.0 530.0 582.0C521.2 580.0 516.0 577.0 512.0 570.0C508.0 563.0 506.3 551.7 506.0 540.0C505.7 528.3 506.0 508.0 510.0 500.0Z" fill="#cdcdcd"/>
<path d="M572.0 550.0C577.5 542.0 586.7 539.8 596.0 534.0C605.3 528.2 619.7 524.3 628.0 515.0C636.3 505.7 640.3 482.8 646.0 478.0C651.7 473.2 658.7 479.0 662.0 486.0C665.3 493.0 667.7 507.7 666.0 520.0C664.3 532.3 656.0 546.7 652.0 560.0C648.0 573.3 645.3 583.0 642.0 600.0C638.7 617.0 639.0 650.7 632.0 662.0C625.0 673.3 610.0 668.3 600.0 668.0C590.0 667.7 579.3 663.8 572.0 660.0C564.7 656.2 558.7 652.0 556.0 645.0C553.3 638.0 554.8 628.5 556.0 618.0C557.2 607.5 560.3 593.3 563.0 582.0C565.7 570.7 566.5 558.0 572.0 550.0Z" fill="#bff0d6" opacity="0.88"/>
<path d="M580.0 560.0C587.0 551.7 600.0 545.0 610.0 540.0C620.0 535.0 633.3 526.7 640.0 530.0C646.7 533.3 650.0 546.7 650.0 560.0C650.0 573.3 645.0 596.7 640.0 610.0C635.0 623.3 628.3 635.0 620.0 640.0C611.7 645.0 598.3 643.3 590.0 640.0C581.7 636.7 573.7 628.3 570.0 620.0C566.3 611.7 566.3 600.0 568.0 590.0C569.7 580.0 573.0 568.3 580.0 560.0Z" fill="#9fdcb8" opacity="0.8"/>
<path d="M575.0 600.0C580.0 597.5 595.8 586.7 605.0 585.0C614.2 583.3 625.8 589.2 630.0 590.0" fill="none" stroke="#86cfa2" stroke-width="7" stroke-linecap="round" stroke-linejoin="round"/>
<path d="M585.0 560.0C589.2 559.2 605.8 555.8 610.0 555.0" fill="none" stroke="#7fcf9d" stroke-width="6" stroke-linecap="round" stroke-linejoin="round"/>
<path d="M590.0 625.0C594.2 623.3 610.8 616.7 615.0 615.0" fill="none" stroke="#8fd6a8" stroke-width="6" stroke-linecap="round" stroke-linejoin="round"/>
<path d="M537.0 529.0C544.2 530.3 565.2 533.8 580.0 537.0C594.8 540.2 618.3 546.2 626.0 548.0" fill="none" stroke="#5a5a5a" stroke-width="11" stroke-linecap="round" stroke-linejoin="round"/>
<path d="M545.0 505.0C543.8 508.3 540.0 519.0 538.0 525.0C536.0 531.0 533.8 538.3 533.0 541.0" fill="none" stroke="#5c5c5c" stroke-width="11" stroke-linecap="round" stroke-linejoin="round"/>
<path d="M508.0 562.0C512.5 562.7 526.3 564.7 535.0 566.0C543.7 567.3 555.8 569.3 560.0 570.0" fill="none" stroke="#5a5a5a" stroke-width="11" stroke-linecap="round" stroke-linejoin="round"/>
<path d="M544.0 552.0C545.8 553.8 551.3 559.3 555.0 563.0C558.7 566.7 564.2 572.2 566.0 574.0" fill="none" stroke="#575757" stroke-width="10" stroke-linecap="round" stroke-linejoin="round"/>
<path d="M511.0 500.0C510.3 502.0 506.5 508.7 507.0 512.0C507.5 515.3 511.0 520.3 514.0 520.0C517.0 519.7 524.3 508.3 525.0 510.0C525.7 511.7 519.8 524.2 518.0 530.0C516.2 535.8 513.7 540.8 514.0 545.0C514.3 549.2 519.0 553.3 520.0 555.0" fill="none" stroke="#606060" stroke-width="3" stroke-linecap="round" stroke-linejoin="round"/>
<path d="M551.0 495.0C553.3 495.3 561.0 494.5 565.0 497.0C569.0 499.5 571.2 506.8 575.0 510.0C578.8 513.2 585.8 515.0 588.0 516.0" fill="none" stroke="#5a5a5a" stroke-width="3" stroke-linecap="round" stroke-linejoin="round"/>
<path d="M610.0 516.0C612.2 518.2 620.8 526.8 623.0 529.0" fill="none" stroke="#585858" stroke-width="10" stroke-linecap="round" stroke-linejoin="round"/>
<path d="M565.0 560.0C567.5 563.0 575.0 573.8 580.0 578.0C585.0 582.2 592.5 583.8 595.0 585.0" fill="none" stroke="#5e5e5e" stroke-width="3" stroke-linecap="round" stroke-linejoin="round"/>
<circle cx="550.7" cy="494.7" r="6" fill="#555"/>
<circle cx="583.5" cy="516" r="6" fill="#555"/>
<path d="M628.0 500.0C633.3 489.0 642.8 493.7 652.0 494.0C661.2 494.3 674.0 499.0 683.0 502.0C692.0 505.0 700.2 506.0 706.0 512.0C711.8 518.0 715.0 528.0 718.0 538.0C721.0 548.0 724.3 561.0 724.0 572.0C723.7 583.0 720.3 593.7 716.0 604.0C711.7 614.3 706.0 627.5 698.0 634.0C690.0 640.5 678.3 642.7 668.0 643.0C657.7 643.3 643.7 642.5 636.0 636.0C628.3 629.5 624.7 616.7 622.0 604.0C619.3 591.3 619.0 577.3 620.0 560.0C621.0 542.7 622.7 511.0 628.0 500.0Z" fill="#a6def6" opacity="0.95"/>
<path d="M663.0 586.0C667.8 580.0 682.3 562.0 692.0 550.0C701.7 538.0 716.2 520.0 721.0 514.0" fill="none" stroke="#57bfee" stroke-width="12" stroke-linecap="round" stroke-linejoin="round"/>
<path d="M708.0 556.0C708.0 566.8 708.0 610.2 708.0 621.0" fill="none" stroke="#55bdec" stroke-width="12" stroke-linecap="round" stroke-linejoin="round"/>
<path d="M650.0 520.0C649.2 526.7 646.7 546.7 645.0 560.0C643.3 573.3 640.8 593.3 640.0 600.0" fill="none" stroke="#5cc2ef" stroke-width="11" stroke-linecap="round" stroke-linejoin="round"/>
<path d="M675.0 600.0C675.8 605.0 679.2 625.0 680.0 630.0" fill="none" stroke="#56beed" stroke-width="11" stroke-linecap="round" stroke-linejoin="round"/>
<path d="M632.0 560.0C635.0 558.0 643.7 549.3 650.0 548.0C656.3 546.7 663.3 553.3 670.0 552.0C676.7 550.7 686.7 542.0 690.0 540.0" fill="none" stroke="#3eaee3" stroke-width="4" stroke-linecap="round" stroke-linejoin="round"/>
<path d="M628.0 612.0C631.7 614.2 639.7 622.3 650.0 625.0C660.3 627.7 679.7 629.2 690.0 628.0C700.3 626.8 708.3 619.7 712.0 618.0" fill="none" stroke="#49b6e8" stroke-width="5" stroke-linecap="round" stroke-linejoin="round"/>
<path d="M625.0 525.0C627.5 522.8 634.2 514.8 640.0 512.0C645.8 509.2 656.7 508.7 660.0 508.0" fill="none" stroke="#4ab8ea" stroke-width="4" stroke-linecap="round" stroke-linejoin="round"/>
<path d="M660.0 504.0C658.8 498.3 673.5 494.0 683.0 491.0C692.5 488.0 706.2 486.3 717.0 486.0C727.8 485.7 738.3 487.7 748.0 489.0C757.7 490.3 767.2 490.8 775.0 494.0C782.8 497.2 789.5 502.3 795.0 508.0C800.5 513.7 805.5 521.0 808.0 528.0C810.5 535.0 811.7 544.0 810.0 550.0C808.3 556.0 804.3 560.7 798.0 564.0C791.7 567.3 781.0 569.3 772.0 570.0C763.0 570.7 751.8 570.2 744.0 568.0C736.2 565.8 730.2 561.3 725.0 557.0C719.8 552.7 718.8 547.3 713.0 542.0C707.2 536.7 698.8 531.3 690.0 525.0C681.2 518.7 661.2 509.7 660.0 504.0Z" fill="#84b2f6" opacity="0.82"/>
<path d="M700.0 506.0C703.2 501.5 715.0 499.8 725.0 499.0C735.0 498.2 750.5 498.2 760.0 501.0C769.5 503.8 777.0 508.7 782.0 516.0C787.0 523.3 791.7 537.3 790.0 545.0C788.3 552.7 779.5 559.8 772.0 562.0C764.5 564.2 753.3 561.2 745.0 558.0C736.7 554.8 728.5 548.3 722.0 543.0C715.5 537.7 709.7 532.2 706.0 526.0C702.3 519.8 696.8 510.5 700.0 506.0Z" fill="#3f82f3"/>
<path d="M688.0 512.0C695.0 510.7 716.0 504.3 730.0 504.0C744.0 503.7 765.0 509.0 772.0 510.0" fill="none" stroke="#1560ea" stroke-width="8" stroke-linecap="round" stroke-linejoin="round"/>
<path d="M740.0 518.0C742.0 522.5 746.7 537.7 752.0 545.0C757.3 552.3 768.7 559.2 772.0 562.0" fill="none" stroke="#1a5fe6" stroke-width="10" stroke-linecap="round" stroke-linejoin="round"/>
<path d="M706.0 530.0C708.7 534.3 719.3 551.7 722.0 556.0" fill="none" stroke="#1c66ea" stroke-width="9" stroke-linecap="round" stroke-linejoin="round"/>
<path d="M760.0 500.0C761.3 504.2 764.3 518.7 768.0 525.0C771.7 531.3 779.7 535.8 782.0 538.0" fill="none" stroke="#1d62e8" stroke-width="6" stroke-linecap="round" stroke-linejoin="round"/>
<path d="M690.0 520.0C691.7 523.3 693.3 535.3 700.0 540.0C706.7 544.7 725.0 546.7 730.0 548.0" fill="none" stroke="#2b70ee" stroke-width="3" stroke-linecap="round" stroke-linejoin="round"/>
<ellipse cx="619" cy="457" rx="7.5" ry="5.5" fill="#d9614a"/>
<ellipse cx="580" cy="540" rx="3" ry="2" fill="#c05040"/>
<ellipse cx="623" cy="584" rx="3" ry="2" fill="#c05040"/>
<ellipse cx="684" cy="552" rx="3" ry="2" fill="#c05040"/>
<line x1="620" y1="458" x2="515" y2="638" stroke="#7030a0" stroke-width="3.4" stroke-dasharray="16 7"/>
<line x1="620.5" y1="458" x2="626" y2="693" stroke="#139a98" stroke-width="3.4" stroke-dasharray="16 7"/>
<line x1="620" y1="458" x2="715" y2="637" stroke="#0b28f5" stroke-width="3.4" stroke-dasharray="16 7"/>
<path d="M487 605 Q503 640 555 643" fill="none" stroke="#7030a0" stroke-width="3.4"/>
<polyline points="497.1,608.4 487.0,604.0 483.9,614.6" fill="none" stroke="#7030a0" stroke-width="3.4" stroke-linecap="round" stroke-linejoin="round"/>
<polyline points="546.4,649.8 555.0,643.0 547.1,635.3" fill="none" stroke="#7030a0" stroke-width="3.4" stroke-linecap="round" stroke-linejoin="round"/>
<path d="M592 683 Q626 708 665 682" fill="none" stroke="#139a98" stroke-width="3.4"/>
<polyline points="602.8,684.1 592.0,682.0 591.4,693.0" fill="none" stroke="#139a98" stroke-width="3.4" stroke-linecap="round" stroke-linejoin="round"/>
<polyline points="665.6,692.0 665.0,681.0 654.2,683.1" fill="none" stroke="#139a98" stroke-width="3.4" stroke-linecap="round" stroke-linejoin="round"/>
<path d="M680 651 Q731 648 745 614" fill="none" stroke="#0b28f5" stroke-width="3.4"/>
<polyline points="687.0,643.5 679.0,651.0 687.5,658.0" fill="none" stroke="#0b28f5" stroke-width="3.4" stroke-linecap="round" stroke-linejoin="round"/>
<polyline points="749.0,623.3 745.0,613.0 735.4,618.3" fill="none" stroke="#0b28f5" stroke-width="3.4" stroke-linecap="round" stroke-linejoin="round"/>
<text x="474.0" y="396.3" font-size="27.2" font-family='"Liberation Sans", sans-serif' textLength="310" lengthAdjust="spacingAndGlyphs">AHD domain in structures</text>
<text x="449.0" y="457.7" font-size="23" font-family='"Liberation Sans", sans-serif' font-weight="bold" textLength="58.5" lengthAdjust="spacingAndGlyphs">6EG8</text>
<text x="707.5" y="452.8" font-size="22.5" font-family='"Liberation Sans", sans-serif' font-weight="bold" textLength="89.5" lengthAdjust="spacingAndGlyphs">Ras-like</text>
<text x="441.0" y="563.3" font-size="24" font-family='"Liberation Sans", sans-serif' font-weight="bold" textLength="51" lengthAdjust="spacingAndGlyphs">AHD</text>
<text x="771.0" y="584.6" font-size="23.3" font-family='"Liberation Sans", sans-serif' font-weight="bold" fill="#1432f5" textLength="57" lengthAdjust="spacingAndGlyphs">3SN6</text>
<text x="771.0" y="611.0" font-size="23.3" font-family='"Liberation Sans", sans-serif' font-weight="bold" fill="#1432f5" textLength="56" lengthAdjust="spacingAndGlyphs">(cS5)</text>
<text x="710.0" y="604.8" font-size="23.3" font-family='"Liberation Sans", sans-serif' font-weight="bold" fill="#21b2ec" textLength="39.5" lengthAdjust="spacingAndGlyphs">7FII</text>
<text x="565.0" y="727.2" font-size="20.6" font-family='"Liberation Sans", sans-serif' font-weight="bold" fill="#179a98" textLength="133" lengthAdjust="spacingAndGlyphs">Partially open</text>
<text x="607.0" y="748.4" font-size="20.6" font-family='"Liberation Sans", sans-serif' font-weight="bold" fill="#179a98" textLength="49" lengthAdjust="spacingAndGlyphs">(cS4)</text>
<text x="495.0" y="657.0" font-size="20.5" font-family='"Liberation Sans", sans-serif' text-anchor="middle" fill="#7030a0" transform="rotate(31 495.0 657.0)">Closed</text>
<text x="733.0" y="669.0" font-size="20" font-family='"Liberation Sans", sans-serif' text-anchor="middle" fill="#0b28f5" transform="rotate(-35 733.0 669.0)">Full open</text>
<text x="578.0" y="637.0" font-size="22" font-family='"Liberation Sans", sans-serif' text-anchor="middle" transform="rotate(19 578.0 637.0)">32.7&#176;</text>
<text x="664.0" y="641.0" font-size="22" font-family='"Liberation Sans", sans-serif' text-anchor="middle" transform="rotate(-12 664.0 641.0)">22.3&#176;</text>
<defs><clipPath id="fclip"><rect x="847" y="370.5" width="345.5" height="336"/></clipPath></defs>
<g clip-path="url(#fclip)">
<path d="M950.0 310.0 951.1 318.9 955.1 326.7 961.5 333.2 969.9 338.1 979.8 341.4 990.5 343.0 1001.1 343.1 1010.9 342.0 1019.2 339.9 1025.5 337.2 1029.3 334.4 1030.2 331.9 1028.3 330.1 1023.6 329.3 1016.4 330.0 1007.2 332.2 996.6 336.1 985.3 341.6 974.1 348.6 963.7 356.9 954.8 366.1 948.1 375.8 943.9 385.6 942.5 395.2 944.0 404.0 948.2 411.6 954.9 417.9 963.6 422.6 973.6 425.7 984.3 427.1 994.8 427.1 1004.5 425.8 1012.6 423.6 1018.6 420.8 1022.0 418.0 1022.6 415.6 1020.3 413.9 1015.3 413.3 1007.8 414.2 998.4 416.6 987.6 420.7 976.3 426.4 965.2 433.6 955.0 442.0 946.3 451.3 939.9 461.0 936.0 470.9 935.0 480.3 936.8 489.0 941.4 496.5 948.4 502.6 957.3 507.1 967.4 510.0 978.1 511.2 988.6 511.0 998.1 509.5 1006.0 507.2 1011.7 504.5 1014.7 501.7 1015.0 499.3 1012.3 497.8 1006.9 497.4 999.2 498.4 989.5 501.0 978.7 505.3 967.4 511.2 956.3 518.6 946.3 527.1 937.9 536.5 931.7 546.3 928.2 556.1 927.5 565.5 929.8 574.0 934.7 581.4 941.9 587.3 951.0 591.6 961.3 594.2 972.0 595.2 982.4 594.8 991.7 593.3 999.3 590.9 1004.7 588.1 1007.4 585.4 1007.3 583.1 1004.3 581.6 998.5 581.4 990.5 582.6 980.7 585.5 969.8 590.0 958.4 596.1 947.5 603.6 937.6 612.3 929.5 621.7 923.6 631.5 920.4 641.3 920.1 650.6 922.7 659.0 928.0 666.2 935.5 671.9 944.7 676.0 955.1 678.4 965.8 679.3 976.1 678.7 985.3 677.0 992.6 674.6 997.7 671.8 1000.0 669.0 999.5 666.8" fill="none" stroke="#dedede" stroke-width="12" stroke-linecap="round" stroke-linejoin="round" opacity="1.0"/>
<path d="M969.1 318.7 975.0 324.6 982.4 329.0 990.8 331.9 999.7 333.3 1008.4 333.4 1016.2 332.4 1022.7 330.6 1027.4 328.4 1029.8 326.2 1029.9 324.4 1027.6 323.3 1023.0 323.3 1016.5 324.6 1008.4 327.3 999.3 331.6 989.8 337.3 980.6 344.3 972.2 352.4 965.2 361.2 960.1 370.4 957.2 379.7 956.7 388.5 958.6 396.6 962.7 403.5 968.7 409.2 976.3 413.4 984.8 416.1 993.7 417.4 1002.3 417.3 1010.1 416.2 1016.3 414.4 1020.7 412.2 1022.9 410.0 1022.7 408.2 1020.0 407.3 1015.2 407.4 1008.4 408.9 1000.2 411.8 991.0 416.2 981.5 422.1 972.4 429.3 964.1 437.5 957.4 446.4 952.5 455.6 949.9 464.8 949.7 473.6 951.9 481.5 956.3 488.3 962.5 493.8 970.3 497.8 978.9 500.3 987.8 501.4 996.3 501.2 1003.9 500.0 1009.9 498.1 1014.0 495.9 1015.9 493.7 1015.4 492.1 1012.5 491.2 1007.4 491.5 1000.4 493.1 992.0 496.3 982.8 500.9 973.3 506.9 964.2 514.2 956.1 522.6 949.6 531.5 945.0 540.8 942.7 549.9 942.8 558.6 945.2 566.4 949.9 573.1 956.4 578.4 964.2 582.2 972.9 584.6 981.8 585.5 990.2 585.1 997.7 583.8 1003.5 581.8 1007.3 579.6 1008.9 577.5 1008.1 575.9 1004.9 575.2 999.5 575.6 992.3 577.5 983.8 580.8 974.5 585.6 965.0 591.8 956.0 599.2 948.1 607.7 941.8 616.7 937.5 626.0 935.5 635.1 935.9 643.7 938.6 651.3 943.5 657.8 950.2 663.0 958.2 666.6 967.0 668.7 975.8 669.5 984.2 669.0 991.4 667.6 997.0 665.5 1000.6 663.3 1001.9 661.3 1000.7 659.8 997.2 659.2 991.6 659.8" fill="none" stroke="#c8f4f0" stroke-width="11" stroke-linecap="round" stroke-linejoin="round" opacity="0.75"/>
<path d="M979.5 321.0 987.1 324.0 995.2 325.5 1003.2 325.8 1010.4 325.0 1016.5 323.5 1020.8 321.5 1023.3 319.6 1023.5 317.9 1021.5 317.0 1017.5 317.1 1011.6 318.5 1004.2 321.3 996.0 325.5 987.2 331.1 978.7 338.0 970.9 345.9 964.4 354.5 959.5 363.5 956.7 372.5 956.0 381.1 957.6 389.0 961.2 395.8 966.6 401.4 973.4 405.6 981.1 408.3 989.2 409.6 997.1 409.7 1004.2 408.8 1010.0 407.2 1014.1 405.2 1016.2 403.3 1016.1 401.7 1013.7 401.0 1009.4 401.3 1003.2 402.9 995.7 405.8 987.3 410.3 978.6 416.1 970.1 423.2 962.5 431.2 956.2 439.9 951.7 449.0 949.2 457.9 948.9 466.5 950.7 474.2 954.7 480.8 960.3 486.2 967.3 490.1 975.2 492.6 983.3 493.7 991.1 493.6 998.0 492.6 1003.5 490.9 1007.3 488.9 1009.0 487.0 1008.6 485.6 1005.9 484.9 1001.2 485.4 994.8 487.2 987.1 490.5 978.6 495.1 969.9 501.2 961.6 508.4 954.1 516.6 948.1 525.4 943.9 534.4 941.7 543.4 941.8 551.8 944.0 559.3 948.2 565.8 954.1 570.9 961.3 574.6 969.2 576.9 977.3 577.8 985.0 577.5 991.7 576.3 997.0 574.5 1000.5 572.5 1001.8 570.7 1001.0 569.4 998.0 568.9 993.0 569.6 986.4 571.7 978.5 575.1 969.9 580.0 961.2 586.3 953.0 593.7 945.8 602.0 940.0 610.9 936.1 619.9 934.3 628.8 934.7 637.1 937.3 644.5 941.8 650.7 948.0 655.6 955.3 659.1 963.3 661.1 971.3 661.8 978.9 661.4 985.4 660.1 990.5 658.2 993.6 656.2 994.6 654.4 993.4 653.3 990.1 653.0" fill="none" stroke="#c0c8f8" stroke-width="10" stroke-linecap="round" stroke-linejoin="round" opacity="0.6"/>
<path d="M992.9 322.7 1000.4 323.2 1007.3 322.6 1013.1 321.3 1017.4 319.6 1019.9 317.9 1020.4 316.5 1018.8 315.7 1015.3 315.9 1010.0 317.3 1003.4 320.0 995.7 324.1 987.6 329.5 979.6 336.1 972.2 343.7 965.9 352.0 961.1 360.8 958.1 369.5 957.2 377.9 958.3 385.7 961.3 392.5 966.1 398.1 972.3 402.3 979.4 405.2 986.9 406.8 994.4 407.2 1001.2 406.5 1006.9 405.2 1011.2 403.5 1013.5 401.8 1013.9 400.4 1012.2 399.7 1008.5 400.0 1003.2 401.4 996.4 404.2 988.8 408.4 980.7 413.9 972.7 420.6 965.3 428.2 959.1 436.6 954.4 445.3 951.6 454.1 950.7 462.5 952.0 470.1 955.1 476.9 960.0 482.4 966.3 486.6 973.4 489.4 981.0 490.9 988.4 491.1 995.2 490.5 1000.8 489.1 1004.9 487.4 1007.2 485.7 1007.4 484.3 1005.6 483.7 1001.8 484.0 996.3 485.6 989.5 488.4 981.8 492.7 973.7 498.3 965.7 505.0 958.4 512.8 952.3 521.2 947.7 529.9 945.0 538.6 944.3 547.0 945.7 554.6 949.0 561.3 953.9 566.7 960.3 570.8 967.5 573.5 975.0 574.9 982.4 575.1 989.2 574.4 994.7 573.0 998.7 571.2 1000.8 569.6 1000.9 568.2 998.9 567.7 995.0 568.1 989.5 569.7 982.6 572.7 974.8 577.0 966.7 582.7 958.8 589.5 951.5 597.3 945.5 605.7 941.1 614.5 938.5 623.2 937.9 631.5 939.4 639.1 942.8 645.7 947.9 651.0 954.3 655.0 961.5 657.6 969.1 659.0 976.5 659.1 983.1 658.3 988.6 656.9 992.4 655.1 994.4 653.5 994.4 652.2 992.3 651.7 988.3 652.1" fill="none" stroke="#a4defa" stroke-width="10" stroke-linecap="round" stroke-linejoin="round" opacity="0.6"/>
<ellipse cx="1082" cy="610" rx="33" ry="36" fill="none" stroke="#dcdcdc" stroke-width="12"/>
<ellipse cx="1078" cy="600" rx="24" ry="28" fill="none" stroke="#c3c9f4" stroke-width="9" opacity="0.8"/>
<ellipse cx="1082" cy="628" rx="28" ry="30" fill="none" stroke="#9edbf7" stroke-width="10" opacity="0.85"/>
<ellipse cx="1076" cy="645" rx="30" ry="28" fill="none" stroke="#c8f4ec" stroke-width="10" opacity="0.85"/>
<path d="M1010.0 560.0C1011.7 565.0 1019.7 578.3 1020.0 590.0C1020.3 601.7 1015.3 618.3 1012.0 630.0C1008.7 641.7 1002.0 655.0 1000.0 660.0" fill="none" stroke="#e2e2e2" stroke-width="10" stroke-linecap="round" stroke-linejoin="round"/>
<path d="M985.0 540.0C986.7 546.7 992.5 566.7 995.0 580.0C997.5 593.3 999.2 613.3 1000.0 620.0" fill="none" stroke="#c4ccf4" stroke-width="8" stroke-linecap="round" stroke-linejoin="round" opacity="0.7"/>
<polygon points="990.2,427.8 983.2,434.7 972.3,433.1 968.6,424.6 975.6,417.7 986.5,419.3" fill="none" stroke="#2c5ef0" stroke-width="3.4" stroke-linejoin="round"/>
<polygon points="997.0,427.5 992.0,434.4 982.0,434.4 977.0,427.5 982.0,420.6 992.0,420.6" fill="none" stroke="#3aa6f0" stroke-width="3.4" stroke-linejoin="round"/>
<polygon points="993.0,450.4 985.3,454.9 975.9,452.5 974.2,445.6 981.9,441.1 991.3,443.5" fill="none" stroke="#62b9aa" stroke-width="3.4" stroke-linejoin="round"/>
<polyline points="983.6,435.7 990.0,450.0 995.0,449.0" fill="none" stroke="#2aa0f0" stroke-width="3.4" stroke-linecap="round" stroke-linejoin="round"/>
<polyline points="990.0,455.0 998.0,462.0 998.0,471.0" fill="none" stroke="#62b9aa" stroke-width="3.4" stroke-linecap="round" stroke-linejoin="round"/>
<polygon points="1028.5,496.8 1024.9,503.5 1011.4,505.4 1001.5,500.4 1005.1,493.7 1018.6,491.8" fill="none" stroke="#858585" stroke-width="3.4" stroke-linejoin="round"/>
<polyline points="1002.4,507.0 987.8,519.6 975.0,510.0" fill="none" stroke="#858585" stroke-width="3.4" stroke-linecap="round" stroke-linejoin="round"/>
<line x1="1014" y1="503" x2="1025.5" y2="546.8" stroke="#555" stroke-width="1.8" stroke-dasharray="2.2 2"/>
<polyline points="1025.5,549.0 1040.0,539.5 1056.0,550.0 1063.0,555.0" fill="none" stroke="#858585" stroke-width="3.4" stroke-linecap="round" stroke-linejoin="round"/>
<polyline points="1023.4,555.0 1035.0,550.0 1048.0,557.0 1055.0,565.0" fill="none" stroke="#2c5ef0" stroke-width="3.4" stroke-linecap="round" stroke-linejoin="round"/>
<polyline points="1063.0,556.0 1078.0,561.0 1087.0,557.0 1087.0,541.0" fill="none" stroke="#3aa6f0" stroke-width="3.4" stroke-linecap="round" stroke-linejoin="round"/>
<polyline points="1041.0,562.0 1052.0,570.0 1062.0,585.0 1072.0,595.0" fill="none" stroke="#62b9aa" stroke-width="3.4" stroke-linecap="round" stroke-linejoin="round"/>
<polyline points="1055.0,575.0 1050.0,590.0" fill="none" stroke="#3aa6f0" stroke-width="3.4" stroke-linecap="round" stroke-linejoin="round"/>
<polyline points="948.0,568.0 960.0,572.0 965.0,590.0" fill="none" stroke="#3aa6f0" stroke-width="3.4" stroke-linecap="round" stroke-linejoin="round"/>
<polyline points="936.0,617.0 952.0,608.0 962.0,620.0" fill="none" stroke="#2c5ef0" stroke-width="3.4" stroke-linecap="round" stroke-linejoin="round"/>
<polyline points="952.0,608.0 957.0,590.0" fill="none" stroke="#2c5ef0" stroke-width="3.4" stroke-linecap="round" stroke-linejoin="round"/>
<polyline points="972.0,625.0 982.0,630.0 985.0,612.0" fill="none" stroke="#62b9aa" stroke-width="3.4" stroke-linecap="round" stroke-linejoin="round"/>
<polyline points="977.0,632.0 988.0,648.0" fill="none" stroke="#858585" stroke-width="3.4" stroke-linecap="round" stroke-linejoin="round"/>
<polyline points="1010.0,600.0 1020.0,585.0 1035.0,587.0" fill="none" stroke="#858585" stroke-width="3.4" stroke-linecap="round" stroke-linejoin="round"/>
<polyline points="1012.0,595.0 1018.0,618.0 1030.0,622.0" fill="none" stroke="#2c5ef0" stroke-width="3.4" stroke-linecap="round" stroke-linejoin="round"/>
<polyline points="1027.0,620.0 1022.0,640.0 1007.0,648.0" fill="none" stroke="#858585" stroke-width="3.4" stroke-linecap="round" stroke-linejoin="round"/>
<polyline points="1035.0,605.0 1040.0,625.0 1045.0,640.0" fill="none" stroke="#62b9aa" stroke-width="3.4" stroke-linecap="round" stroke-linejoin="round"/>
<polyline points="1028.0,660.0 1036.0,672.0 1040.0,690.0" fill="none" stroke="#62b9aa" stroke-width="3.4" stroke-linecap="round" stroke-linejoin="round"/>
<polyline points="1036.0,672.0 1048.0,667.0" fill="none" stroke="#62b9aa" stroke-width="3.4" stroke-linecap="round" stroke-linejoin="round"/>
<polyline points="994.0,648.0 1010.0,642.0" fill="none" stroke="#3aa6f0" stroke-width="3.4" stroke-linecap="round" stroke-linejoin="round"/>
<line x1="988" y1="649" x2="1027" y2="618" stroke="#555" stroke-width="1.6" stroke-dasharray="2 2"/>
<line x1="992" y1="647" x2="1028" y2="671" stroke="#1a8f8f" stroke-width="2.2" stroke-dasharray="2.2 2"/>
</g>
<rect x="844" y="367.6" width="351.2" height="341.6" fill="none" stroke="#000" stroke-width="5.8" rx="2"/>
<text x="852.5" y="419.3" font-size="27" font-family='"Liberation Sans", sans-serif' textLength="114" lengthAdjust="spacingAndGlyphs">C&#945;5 helix</text>
<text x="1028.5" y="481.7" font-size="27" font-family='"Liberation Sans", sans-serif' textLength="62" lengthAdjust="spacingAndGlyphs">F376</text>
<text x="1036.5" y="533.8" font-size="27" fill="#ff0000">CH<tspan font-size="16" dy="6">3</tspan><tspan dy="-6">-&#960;</tspan></text>
<text x="1099.5" y="579.5" font-size="27" font-family='"Liberation Sans", sans-serif' textLength="52" lengthAdjust="spacingAndGlyphs">M60</text>
<text x="881.5" y="599.8" font-size="27" font-family='"Liberation Sans", sans-serif' textLength="62" lengthAdjust="spacingAndGlyphs">T369</text>
<text x="928.0" y="681.0" font-size="27" font-family='"Liberation Sans", sans-serif' fill="#ff0000" textLength="87.5" lengthAdjust="spacingAndGlyphs">H bond</text>
<text x="1084.5" y="680.0" font-size="27" font-family='"Liberation Sans", sans-serif' textLength="100" lengthAdjust="spacingAndGlyphs">H1 helix</text>
<text x="1032.5" y="699.5" font-size="27" font-family='"Liberation Sans", sans-serif' textLength="51.5" lengthAdjust="spacingAndGlyphs">Q59</text>
</svg></body></html>
